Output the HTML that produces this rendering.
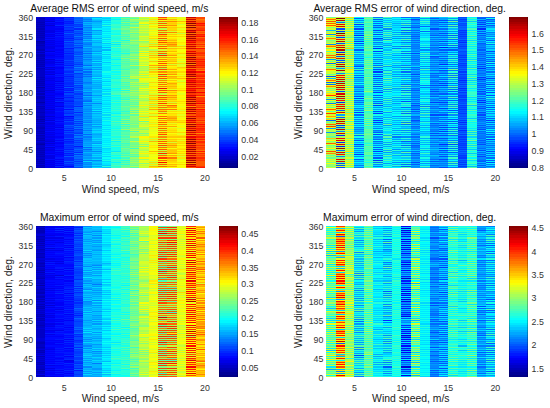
<!DOCTYPE html><html><head><meta charset="utf-8"><style>
*{margin:0;padding:0;box-sizing:border-box}
html,body{width:550px;height:408px;background:#fff;overflow:hidden;font-family:"Liberation Sans",sans-serif}
.pn{position:absolute;width:275px;height:204px}
.plot{position:absolute;left:36px;top:17px;width:169.0px;height:151.0px;overflow:hidden}
.c{position:absolute;top:0;height:151.0px}
.cb{position:absolute;left:219.2px;top:17px;width:18.8px;height:151.0px;box-shadow:inset 1px 0 rgba(0,0,0,.25),inset -1px 0 rgba(0,0,0,.25)}
.t{position:absolute;white-space:nowrap}
.tk{font-size:8.8px;line-height:11px;color:#333}
.ttl{font-size:10.35px;line-height:12px;color:#111}
.lb{font-size:10.4px;line-height:12px;color:#222}
.yl{width:120px;text-align:center;transform:rotate(-90deg)}
</style></head><body>
<div class="pn" style="left:0px;top:0px">
<div class="t ttl" style="left:-10.70px;width:260px;text-align:center;top:3.01px">Average RMS error of wind speed, m/s</div>
<div class="plot">
<div class="c" style="left:0.0px;width:9.89px;background:linear-gradient(#0000d7 0.0px 1.0px,#0000b7 1.0px 2.1px,#0000c7 2.1px 5.2px,#0000b7 5.2px 6.3px,#0000c7 6.3px 7.3px,#0000b7 7.3px 8.4px,#0000c7 8.4px 9.4px,#0000b7 9.4px 10.5px,#0000c7 10.5px 11.5px,#0000b7 11.5px 12.6px,#0000c7 12.6px 13.6px,#0000b7 13.6px 14.7px,#0000c7 14.7px 15.7px,#0000b7 15.7px 16.8px,#0000c7 16.8px 17.8px,#0000b7 17.8px 18.9px,#0000c7 18.9px 19.9px,#0000b7 19.9px 21.0px,#0000c7 21.0px 23.1px,#0000d7 23.1px 24.1px,#0000a7 24.1px 25.2px,#0000b7 25.2px 27.3px,#0000c7 27.3px 28.3px,#0000b7 28.3px 29.4px,#0000c7 29.4px 32.5px,#0000b7 32.5px 33.6px,#0000d7 33.6px 34.6px,#0000b7 34.6px 35.7px,#0000d7 35.7px 36.7px,#0000b7 36.7px 39.8px,#0000c7 39.8px 40.9px,#0000b7 40.9px 41.9px,#0000c7 41.9px 43.0px,#0000b7 43.0px 44.0px,#0000c7 44.0px 45.1px,#0000b7 45.1px 46.1px,#0000c7 46.1px 47.2px,#0000b7 47.2px 48.2px,#0000c7 48.2px 49.3px,#0000b7 49.3px 50.3px,#0000d7 50.3px 51.4px,#0000b7 51.4px 52.4px,#0000c7 52.4px 59.8px,#0000b7 59.8px 60.8px,#0000c7 60.8px 61.9px,#0000b7 61.9px 62.9px,#0000c7 62.9px 64.0px,#0000b7 64.0px 65.0px,#0000c7 65.0px 66.1px,#0000b7 66.1px 67.1px,#0000c7 67.1px 68.2px,#0000b7 68.2px 69.2px,#0000d7 69.2px 70.3px,#0000a7 70.3px 71.3px,#0000c7 71.3px 74.5px,#0000b7 74.5px 75.5px,#0000d7 75.5px 76.5px,#0000b7 76.5px 77.6px,#0000d7 77.6px 78.6px,#0000b7 78.6px 81.8px,#0000c7 81.8px 84.9px,#0000a7 84.9px 86.0px,#0000c7 86.0px 88.1px,#0000d7 88.1px 89.1px,#0000b7 89.1px 90.2px,#0000c7 90.2px 91.2px,#0000b7 91.2px 92.3px,#0000c7 92.3px 95.4px,#0000b7 95.4px 96.5px,#0000c7 96.5px 98.6px,#0000b7 98.6px 100.7px,#0000c7 100.7px 101.7px,#0000a7 101.7px 102.8px,#0000c7 102.8px 103.8px,#0000b7 103.8px 104.9px,#0000d7 104.9px 105.9px,#0000b7 105.9px 107.0px,#0000d7 107.0px 108.0px,#0000c7 108.0px 110.1px,#0000b7 110.1px 112.2px,#0000c7 112.2px 114.3px,#0000b7 114.3px 115.3px,#0000c7 115.3px 116.4px,#0000b7 116.4px 117.4px,#0000d7 117.4px 118.5px,#0000b7 118.5px 119.5px,#0000c7 119.5px 120.6px,#0000b7 120.6px 121.6px,#0000c7 121.6px 122.7px,#0000b7 122.7px 123.7px,#0000d7 123.7px 124.8px,#0000c7 124.8px 125.8px,#0000b7 125.8px 126.9px,#0000a7 126.9px 127.9px,#0000c7 127.9px 131.1px,#0000b7 131.1px 132.1px,#0000c7 132.1px 133.2px,#0000b7 133.2px 134.2px,#0000c7 134.2px 135.3px,#0000b7 135.3px 136.3px,#0000c7 136.3px 137.4px,#0000b7 137.4px 138.4px,#0000c7 138.4px 139.5px,#0000b7 139.5px 140.5px,#0000c7 140.5px 141.6px,#0000b7 141.6px 142.6px,#0000c7 142.6px 143.7px,#0000b7 143.7px 144.7px,#0000c7 144.7px 145.8px,#0000b7 145.8px 146.8px,#0000d7 146.8px 147.9px,#0000b7 147.9px 148.9px,#0000c7 148.9px 150.0px,#0000b7 150.0px 151.0px)"></div>
<div class="c" style="left:9.39px;width:9.89px;background:linear-gradient(#0000e7 0.0px 1.0px,#0000f7 1.0px 2.1px,#0000e7 2.1px 3.1px,#0000f7 3.1px 4.2px,#0000d7 4.2px 5.2px,#0008ff 5.2px 6.3px,#0000e7 6.3px 7.3px,#0000f7 7.3px 8.4px,#0000d7 8.4px 9.4px,#0000f7 9.4px 12.6px,#0000e7 12.6px 15.7px,#0008ff 15.7px 16.8px,#0000e7 16.8px 17.8px,#0000f7 17.8px 18.9px,#0000e7 18.9px 19.9px,#0008ff 19.9px 21.0px,#0000e7 21.0px 22.0px,#0008ff 22.0px 23.1px,#0000e7 23.1px 24.1px,#0000f7 24.1px 25.2px,#0000e7 25.2px 26.2px,#0000f7 26.2px 27.3px,#0000e7 27.3px 28.3px,#0000f7 28.3px 29.4px,#0000e7 29.4px 32.5px,#0000f7 32.5px 33.6px,#0000d7 33.6px 34.6px,#0008ff 34.6px 35.7px,#0000f7 35.7px 37.8px,#0000e7 37.8px 38.8px,#0000f7 38.8px 40.9px,#0008ff 40.9px 41.9px,#0000d7 41.9px 43.0px,#0000f7 43.0px 44.0px,#0000e7 44.0px 47.2px,#0000f7 47.2px 49.3px,#0008ff 49.3px 50.3px,#0000d7 50.3px 51.4px,#0000f7 51.4px 52.4px,#0000d7 52.4px 53.5px,#0008ff 53.5px 54.5px,#0000e7 54.5px 55.6px,#0000f7 55.6px 56.6px,#0000d7 56.6px 57.7px,#0008ff 57.7px 58.7px,#0000f7 58.7px 60.8px,#0000e7 60.8px 61.9px,#0000f7 61.9px 62.9px,#0000e7 62.9px 64.0px,#0000f7 64.0px 67.1px,#0000e7 67.1px 68.2px,#0000f7 68.2px 69.2px,#0000e7 69.2px 70.3px,#0000f7 70.3px 71.3px,#0000e7 71.3px 72.4px,#0000f7 72.4px 73.4px,#0000d7 73.4px 74.5px,#0000f7 74.5px 75.5px,#0000e7 75.5px 76.5px,#0000f7 76.5px 77.6px,#0000e7 77.6px 78.6px,#0000f7 78.6px 79.7px,#0000e7 79.7px 80.7px,#0000f7 80.7px 81.8px,#0000e7 81.8px 82.8px,#0000f7 82.8px 83.9px,#0000e7 83.9px 84.9px,#0000f7 84.9px 86.0px,#0000e7 86.0px 87.0px,#0000f7 87.0px 88.1px,#0000e7 88.1px 89.1px,#0000f7 89.1px 90.2px,#0000e7 90.2px 91.2px,#0000f7 91.2px 92.3px,#0000d7 92.3px 93.3px,#0000f7 93.3px 94.4px,#0000e7 94.4px 97.5px,#0000f7 97.5px 98.6px,#0000d7 98.6px 99.6px,#0000f7 99.6px 100.7px,#0000e7 100.7px 101.7px,#0000f7 101.7px 102.8px,#0000d7 102.8px 103.8px,#0008ff 103.8px 104.9px,#0000e7 104.9px 108.0px,#0000f7 108.0px 109.1px,#0000e7 109.1px 110.1px,#0000f7 110.1px 111.2px,#0000e7 111.2px 112.2px,#0000f7 112.2px 113.2px,#0000e7 113.2px 114.3px,#0008ff 114.3px 115.3px,#0000e7 115.3px 116.4px,#0000f7 116.4px 117.4px,#0000e7 117.4px 118.5px,#0000f7 118.5px 119.5px,#0000e7 119.5px 120.6px,#0000f7 120.6px 121.6px,#0000e7 121.6px 123.7px,#0000d7 123.7px 124.8px,#0000f7 124.8px 125.8px,#0000d7 125.8px 126.9px,#0000f7 126.9px 127.9px,#0000e7 127.9px 129.0px,#0008ff 129.0px 130.0px,#0000d7 130.0px 131.1px,#0000f7 131.1px 132.1px,#0000e7 132.1px 134.2px,#0000f7 134.2px 136.3px,#0000e7 136.3px 137.4px,#0008ff 137.4px 138.4px,#0000e7 138.4px 141.6px,#0008ff 141.6px 142.6px,#0000e7 142.6px 143.7px,#0000f7 143.7px 144.7px,#0000e7 144.7px 145.8px,#0000f7 145.8px 146.8px,#0000e7 146.8px 147.9px,#0000f7 147.9px 148.9px,#0000e7 148.9px 151.0px)"></div>
<div class="c" style="left:18.78px;width:9.89px;background:linear-gradient(#0008ff 0.0px 2.1px,#0018ff 2.1px 3.1px,#0008ff 3.1px 4.2px,#0018ff 4.2px 5.2px,#0000f7 5.2px 6.3px,#0008ff 6.3px 8.4px,#0028ff 8.4px 9.4px,#0000f7 9.4px 10.5px,#0008ff 10.5px 11.5px,#0000f7 11.5px 12.6px,#0008ff 12.6px 13.6px,#0000f7 13.6px 14.7px,#0018ff 14.7px 15.7px,#0000f7 15.7px 16.8px,#0018ff 16.8px 17.8px,#0000f7 17.8px 18.9px,#0018ff 18.9px 19.9px,#0008ff 19.9px 24.1px,#0000f7 24.1px 25.2px,#0008ff 25.2px 26.2px,#0000f7 26.2px 27.3px,#0008ff 27.3px 28.3px,#0000f7 28.3px 30.4px,#0008ff 30.4px 32.5px,#0000f7 32.5px 33.6px,#0008ff 33.6px 34.6px,#0000f7 34.6px 35.7px,#0008ff 35.7px 36.7px,#0000f7 36.7px 37.8px,#0008ff 37.8px 38.8px,#0000f7 38.8px 39.8px,#0008ff 39.8px 41.9px,#0018ff 41.9px 43.0px,#0000f7 43.0px 44.0px,#0018ff 44.0px 45.1px,#0000e7 45.1px 46.1px,#0018ff 46.1px 47.2px,#0000f7 47.2px 48.2px,#0018ff 48.2px 49.3px,#0008ff 49.3px 50.3px,#0000f7 50.3px 52.4px,#0008ff 52.4px 55.6px,#0000f7 55.6px 56.6px,#0018ff 56.6px 57.7px,#0008ff 57.7px 58.7px,#0018ff 58.7px 59.8px,#0000f7 59.8px 60.8px,#0008ff 60.8px 64.0px,#0000e7 64.0px 65.0px,#0018ff 65.0px 66.1px,#0000f7 66.1px 67.1px,#0018ff 67.1px 68.2px,#0000f7 68.2px 69.2px,#0018ff 69.2px 70.3px,#0000f7 70.3px 71.3px,#0018ff 71.3px 72.4px,#0000f7 72.4px 73.4px,#0018ff 73.4px 74.5px,#0008ff 74.5px 76.5px,#0000f7 76.5px 77.6px,#0008ff 77.6px 79.7px,#0018ff 79.7px 80.7px,#0000e7 80.7px 81.8px,#0018ff 81.8px 82.8px,#0008ff 82.8px 83.9px,#0028ff 83.9px 84.9px,#0000e7 84.9px 86.0px,#0008ff 86.0px 89.1px,#0000e7 89.1px 90.2px,#0018ff 90.2px 91.2px,#0008ff 91.2px 94.4px,#0018ff 94.4px 95.4px,#0008ff 95.4px 99.6px,#0000f7 99.6px 100.7px,#0008ff 100.7px 102.8px,#0018ff 102.8px 103.8px,#0000f7 103.8px 104.9px,#0018ff 104.9px 105.9px,#0008ff 105.9px 108.0px,#0000f7 108.0px 109.1px,#0008ff 109.1px 110.1px,#0000e7 110.1px 111.2px,#0018ff 111.2px 112.2px,#0000f7 112.2px 113.2px,#0008ff 113.2px 116.4px,#0000f7 116.4px 117.4px,#0008ff 117.4px 119.5px,#0000f7 119.5px 120.6px,#0008ff 120.6px 121.6px,#0018ff 121.6px 122.7px,#0000f7 122.7px 123.7px,#0018ff 123.7px 124.8px,#0000f7 124.8px 126.9px,#0008ff 126.9px 129.0px,#0000f7 129.0px 130.0px,#0008ff 130.0px 132.1px,#0018ff 132.1px 133.2px,#0000f7 133.2px 134.2px,#0018ff 134.2px 135.3px,#0000f7 135.3px 136.3px,#0008ff 136.3px 137.4px,#0000f7 137.4px 138.4px,#0008ff 138.4px 140.5px,#0018ff 140.5px 141.6px,#0000f7 141.6px 142.6px,#0018ff 142.6px 143.7px,#0000f7 143.7px 144.7px,#0018ff 144.7px 145.8px,#0000f7 145.8px 146.8px,#0018ff 146.8px 147.9px,#0000f7 147.9px 148.9px,#0028ff 148.9px 150.0px,#0000f7 150.0px 151.0px)"></div>
<div class="c" style="left:28.17px;width:9.89px;background:linear-gradient(#0018ff 0.0px 1.0px,#0038ff 1.0px 2.1px,#0028ff 2.1px 3.1px,#0038ff 3.1px 4.2px,#0018ff 4.2px 5.2px,#0028ff 5.2px 6.3px,#0018ff 6.3px 7.3px,#0038ff 7.3px 8.4px,#0028ff 8.4px 9.4px,#0048ff 9.4px 10.5px,#0028ff 10.5px 11.5px,#0038ff 11.5px 12.6px,#0018ff 12.6px 13.6px,#0038ff 13.6px 14.7px,#0028ff 14.7px 15.7px,#0058ff 15.7px 16.8px,#0028ff 16.8px 17.8px,#0038ff 17.8px 18.9px,#0028ff 18.9px 19.9px,#0038ff 19.9px 21.0px,#0018ff 21.0px 22.0px,#0038ff 22.0px 23.1px,#0028ff 23.1px 24.1px,#0058ff 24.1px 25.2px,#0028ff 25.2px 26.2px,#0048ff 26.2px 27.3px,#0038ff 27.3px 30.4px,#0048ff 30.4px 31.5px,#0018ff 31.5px 32.5px,#0038ff 32.5px 33.6px,#0028ff 33.6px 34.6px,#0038ff 34.6px 35.7px,#0018ff 35.7px 36.7px,#0038ff 36.7px 37.8px,#0028ff 37.8px 43.0px,#0048ff 43.0px 44.0px,#0028ff 44.0px 45.1px,#0038ff 45.1px 46.1px,#0028ff 46.1px 47.2px,#0038ff 47.2px 48.2px,#0018ff 48.2px 49.3px,#0048ff 49.3px 50.3px,#0028ff 50.3px 51.4px,#0038ff 51.4px 52.4px,#0048ff 52.4px 53.5px,#0038ff 53.5px 54.5px,#0028ff 54.5px 55.6px,#0048ff 55.6px 56.6px,#0028ff 56.6px 57.7px,#0038ff 57.7px 58.7px,#0018ff 58.7px 59.8px,#0038ff 59.8px 60.8px,#0028ff 60.8px 61.9px,#0038ff 61.9px 62.9px,#0028ff 62.9px 64.0px,#0038ff 64.0px 65.0px,#0028ff 65.0px 68.2px,#0038ff 68.2px 69.2px,#0018ff 69.2px 70.3px,#0058ff 70.3px 71.3px,#0018ff 71.3px 72.4px,#0028ff 72.4px 73.4px,#0018ff 73.4px 74.5px,#0048ff 74.5px 75.5px,#0018ff 75.5px 76.5px,#0048ff 76.5px 77.6px,#0028ff 77.6px 78.6px,#0038ff 78.6px 79.7px,#0018ff 79.7px 80.7px,#0038ff 80.7px 82.8px,#0028ff 82.8px 83.9px,#0018ff 83.9px 84.9px,#0038ff 84.9px 86.0px,#0028ff 86.0px 87.0px,#0038ff 87.0px 88.1px,#0028ff 88.1px 91.2px,#0048ff 91.2px 92.3px,#0008ff 92.3px 93.3px,#0048ff 93.3px 94.4px,#0038ff 94.4px 96.5px,#0028ff 96.5px 97.5px,#0048ff 97.5px 98.6px,#0008ff 98.6px 99.6px,#0028ff 99.6px 100.7px,#0018ff 100.7px 101.7px,#0038ff 101.7px 102.8px,#0018ff 102.8px 103.8px,#0048ff 103.8px 104.9px,#0028ff 104.9px 108.0px,#0058ff 108.0px 109.1px,#0038ff 109.1px 110.1px,#0048ff 110.1px 111.2px,#0028ff 111.2px 112.2px,#0048ff 112.2px 113.2px,#0018ff 113.2px 114.3px,#0048ff 114.3px 115.3px,#0028ff 115.3px 116.4px,#0048ff 116.4px 117.4px,#0028ff 117.4px 120.6px,#0048ff 120.6px 121.6px,#0018ff 121.6px 122.7px,#0038ff 122.7px 123.7px,#0018ff 123.7px 124.8px,#0028ff 124.8px 126.9px,#0048ff 126.9px 127.9px,#0028ff 127.9px 129.0px,#0038ff 129.0px 130.0px,#0028ff 130.0px 131.1px,#0038ff 131.1px 132.1px,#0018ff 132.1px 133.2px,#0048ff 133.2px 134.2px,#0028ff 134.2px 135.3px,#0048ff 135.3px 136.3px,#0018ff 136.3px 137.4px,#0038ff 137.4px 138.4px,#0018ff 138.4px 139.5px,#0058ff 139.5px 140.5px,#0028ff 140.5px 143.7px,#0058ff 143.7px 144.7px,#0028ff 144.7px 145.8px,#0048ff 145.8px 146.8px,#0028ff 146.8px 148.9px,#0008ff 148.9px 150.0px,#0028ff 150.0px 151.0px)"></div>
<div class="c" style="left:37.56px;width:9.89px;background:linear-gradient(#0068ff 0.0px 1.0px,#0058ff 1.0px 2.1px,#0068ff 2.1px 3.1px,#0058ff 3.1px 4.2px,#0068ff 4.2px 5.2px,#0048ff 5.2px 6.3px,#0068ff 6.3px 7.3px,#0038ff 7.3px 8.4px,#0048ff 8.4px 9.4px,#0038ff 9.4px 10.5px,#0068ff 10.5px 11.5px,#0028ff 11.5px 12.6px,#0068ff 12.6px 13.6px,#0048ff 13.6px 14.7px,#0058ff 14.7px 15.7px,#0038ff 15.7px 16.8px,#0058ff 16.8px 17.8px,#0048ff 17.8px 18.9px,#0078ff 18.9px 19.9px,#0048ff 19.9px 21.0px,#0058ff 21.0px 22.0px,#0038ff 22.0px 23.1px,#0068ff 23.1px 26.2px,#0048ff 26.2px 27.3px,#0078ff 27.3px 28.3px,#0048ff 28.3px 29.4px,#0068ff 29.4px 30.4px,#0038ff 30.4px 31.5px,#0058ff 31.5px 32.5px,#0068ff 32.5px 33.6px,#0058ff 33.6px 34.6px,#0048ff 34.6px 35.7px,#0058ff 35.7px 36.7px,#0048ff 36.7px 37.8px,#0078ff 37.8px 38.8px,#0048ff 38.8px 39.8px,#0068ff 39.8px 40.9px,#0058ff 40.9px 41.9px,#0068ff 41.9px 43.0px,#0058ff 43.0px 44.0px,#0068ff 44.0px 45.1px,#0048ff 45.1px 46.1px,#0058ff 46.1px 47.2px,#0038ff 47.2px 48.2px,#0068ff 48.2px 49.3px,#0048ff 49.3px 50.3px,#0087ff 50.3px 51.4px,#0058ff 51.4px 52.4px,#0068ff 52.4px 53.5px,#0048ff 53.5px 54.5px,#0078ff 54.5px 55.6px,#0038ff 55.6px 56.6px,#0058ff 56.6px 59.8px,#0048ff 59.8px 60.8px,#0068ff 60.8px 61.9px,#0058ff 61.9px 62.9px,#0068ff 62.9px 64.0px,#0048ff 64.0px 65.0px,#0068ff 65.0px 66.1px,#0048ff 66.1px 67.1px,#0078ff 67.1px 68.2px,#0038ff 68.2px 69.2px,#0058ff 69.2px 70.3px,#0038ff 70.3px 71.3px,#0058ff 71.3px 72.4px,#0048ff 72.4px 73.4px,#0078ff 73.4px 74.5px,#0048ff 74.5px 75.5px,#0058ff 75.5px 76.5px,#0038ff 76.5px 77.6px,#0058ff 77.6px 78.6px,#0048ff 78.6px 79.7px,#0058ff 79.7px 80.7px,#0038ff 80.7px 81.8px,#0058ff 81.8px 83.9px,#0048ff 83.9px 88.1px,#0058ff 88.1px 89.1px,#0028ff 89.1px 90.2px,#0068ff 90.2px 91.2px,#0058ff 91.2px 92.3px,#0068ff 92.3px 93.3px,#0058ff 93.3px 94.4px,#0068ff 94.4px 95.4px,#0028ff 95.4px 96.5px,#0068ff 96.5px 97.5px,#0048ff 97.5px 98.6px,#0058ff 98.6px 100.7px,#0068ff 100.7px 101.7px,#0048ff 101.7px 102.8px,#0078ff 102.8px 103.8px,#0038ff 103.8px 104.9px,#0068ff 104.9px 105.9px,#0038ff 105.9px 107.0px,#0068ff 107.0px 108.0px,#0038ff 108.0px 109.1px,#0078ff 109.1px 110.1px,#0048ff 110.1px 111.2px,#0078ff 111.2px 112.2px,#0038ff 112.2px 113.2px,#0058ff 113.2px 115.3px,#0048ff 115.3px 116.4px,#0038ff 116.4px 117.4px,#0078ff 117.4px 118.5px,#0048ff 118.5px 119.5px,#0078ff 119.5px 120.6px,#0048ff 120.6px 121.6px,#0068ff 121.6px 122.7px,#0038ff 122.7px 123.7px,#0058ff 123.7px 124.8px,#0038ff 124.8px 125.8px,#0058ff 125.8px 126.9px,#0048ff 126.9px 127.9px,#0058ff 127.9px 129.0px,#0018ff 129.0px 130.0px,#0048ff 130.0px 132.1px,#0068ff 132.1px 133.2px,#0048ff 133.2px 134.2px,#0058ff 134.2px 135.3px,#0028ff 135.3px 136.3px,#0078ff 136.3px 137.4px,#0038ff 137.4px 138.4px,#0078ff 138.4px 139.5px,#0058ff 139.5px 140.5px,#0068ff 140.5px 141.6px,#0048ff 141.6px 142.6px,#0068ff 142.6px 143.7px,#0038ff 143.7px 144.7px,#0068ff 144.7px 145.8px,#0048ff 145.8px 146.8px,#0068ff 146.8px 147.9px,#0058ff 147.9px 148.9px,#0078ff 148.9px 150.0px,#0048ff 150.0px 151.0px)"></div>
<div class="c" style="left:46.94px;width:9.89px;background:linear-gradient(#0097ff 0.0px 2.1px,#0078ff 2.1px 3.1px,#0097ff 3.1px 4.2px,#0078ff 4.2px 5.2px,#00b7ff 5.2px 6.3px,#0097ff 6.3px 7.3px,#00b7ff 7.3px 8.4px,#0087ff 8.4px 9.4px,#00a7ff 9.4px 10.5px,#0078ff 10.5px 11.5px,#0097ff 11.5px 12.6px,#0087ff 12.6px 13.6px,#00a7ff 13.6px 14.7px,#0078ff 14.7px 15.7px,#00a7ff 15.7px 16.8px,#0068ff 16.8px 17.8px,#00a7ff 17.8px 18.9px,#0078ff 18.9px 19.9px,#0097ff 19.9px 21.0px,#0078ff 21.0px 22.0px,#00b7ff 22.0px 23.1px,#0087ff 23.1px 24.1px,#00b7ff 24.1px 25.2px,#0087ff 25.2px 27.3px,#0078ff 27.3px 28.3px,#0097ff 28.3px 29.4px,#0087ff 29.4px 30.4px,#00b7ff 30.4px 31.5px,#0087ff 31.5px 32.5px,#0097ff 32.5px 33.6px,#0078ff 33.6px 34.6px,#00a7ff 34.6px 35.7px,#0068ff 35.7px 36.7px,#00a7ff 36.7px 37.8px,#0087ff 37.8px 38.8px,#0097ff 38.8px 39.8px,#0078ff 39.8px 40.9px,#00a7ff 40.9px 41.9px,#0078ff 41.9px 43.0px,#0097ff 43.0px 45.1px,#00a7ff 45.1px 46.1px,#0097ff 46.1px 48.2px,#0068ff 48.2px 49.3px,#00b7ff 49.3px 50.3px,#0097ff 50.3px 52.4px,#0068ff 52.4px 53.5px,#00a7ff 53.5px 54.5px,#0068ff 54.5px 55.6px,#0097ff 55.6px 56.6px,#0068ff 56.6px 57.7px,#0097ff 57.7px 58.7px,#0068ff 58.7px 59.8px,#0097ff 59.8px 65.0px,#0078ff 65.0px 66.1px,#0087ff 66.1px 67.1px,#0097ff 67.1px 68.2px,#00a7ff 68.2px 69.2px,#0097ff 69.2px 71.3px,#0087ff 71.3px 72.4px,#00a7ff 72.4px 73.4px,#0097ff 73.4px 74.5px,#00b7ff 74.5px 75.5px,#0078ff 75.5px 76.5px,#0097ff 76.5px 77.6px,#0068ff 77.6px 78.6px,#00b7ff 78.6px 79.7px,#0087ff 79.7px 80.7px,#0097ff 80.7px 81.8px,#0087ff 81.8px 82.8px,#0078ff 82.8px 83.9px,#0068ff 83.9px 84.9px,#00b7ff 84.9px 86.0px,#0087ff 86.0px 87.0px,#00a7ff 87.0px 88.1px,#0078ff 88.1px 89.1px,#00a7ff 89.1px 90.2px,#0097ff 90.2px 92.3px,#0087ff 92.3px 93.3px,#0097ff 93.3px 94.4px,#0087ff 94.4px 95.4px,#00a7ff 95.4px 96.5px,#0087ff 96.5px 97.5px,#0097ff 97.5px 98.6px,#0087ff 98.6px 99.6px,#0097ff 99.6px 100.7px,#0087ff 100.7px 101.7px,#00a7ff 101.7px 102.8px,#0087ff 102.8px 103.8px,#0097ff 103.8px 104.9px,#0078ff 104.9px 105.9px,#00b7ff 105.9px 107.0px,#0087ff 107.0px 108.0px,#0097ff 108.0px 110.1px,#00a7ff 110.1px 111.2px,#0087ff 111.2px 112.2px,#00a7ff 112.2px 113.2px,#0078ff 113.2px 114.3px,#00a7ff 114.3px 115.3px,#0097ff 115.3px 116.4px,#00a7ff 116.4px 117.4px,#0068ff 117.4px 118.5px,#00a7ff 118.5px 119.5px,#0078ff 119.5px 120.6px,#0097ff 120.6px 121.6px,#0087ff 121.6px 122.7px,#0097ff 122.7px 124.8px,#00a7ff 124.8px 125.8px,#0097ff 125.8px 126.9px,#00a7ff 126.9px 127.9px,#0097ff 127.9px 129.0px,#00b7ff 129.0px 130.0px,#0068ff 130.0px 131.1px,#00a7ff 131.1px 132.1px,#0068ff 132.1px 133.2px,#0097ff 133.2px 134.2px,#0087ff 134.2px 135.3px,#00b7ff 135.3px 136.3px,#0097ff 136.3px 138.4px,#0087ff 138.4px 139.5px,#00a7ff 139.5px 140.5px,#0097ff 140.5px 141.6px,#00b7ff 141.6px 142.6px,#0078ff 142.6px 143.7px,#00d7ff 143.7px 144.7px,#0087ff 144.7px 145.8px,#0097ff 145.8px 146.8px,#0087ff 146.8px 147.9px,#00a7ff 147.9px 148.9px,#0087ff 148.9px 150.0px,#0097ff 150.0px 151.0px)"></div>
<div class="c" style="left:56.33px;width:9.89px;background:linear-gradient(#00a7ff 0.0px 1.0px,#00e7ff 1.0px 2.1px,#00c7ff 2.1px 3.1px,#00b7ff 3.1px 4.2px,#0097ff 4.2px 5.2px,#00b7ff 5.2px 7.3px,#00c7ff 7.3px 8.4px,#00b7ff 8.4px 9.4px,#00c7ff 9.4px 10.5px,#00b7ff 10.5px 11.5px,#00e7ff 11.5px 12.6px,#0097ff 12.6px 13.6px,#00c7ff 13.6px 14.7px,#00b7ff 14.7px 15.7px,#00c7ff 15.7px 16.8px,#00a7ff 16.8px 17.8px,#00e7ff 17.8px 18.9px,#00c7ff 18.9px 19.9px,#00d7ff 19.9px 21.0px,#00a7ff 21.0px 22.0px,#00e7ff 22.0px 23.1px,#00b7ff 23.1px 24.1px,#00c7ff 24.1px 25.2px,#00a7ff 25.2px 26.2px,#00c7ff 26.2px 29.4px,#00a7ff 29.4px 31.5px,#00b7ff 31.5px 33.6px,#0097ff 33.6px 34.6px,#00d7ff 34.6px 35.7px,#00a7ff 35.7px 36.7px,#00d7ff 36.7px 37.8px,#00b7ff 37.8px 39.8px,#00a7ff 39.8px 40.9px,#00b7ff 40.9px 41.9px,#00a7ff 41.9px 43.0px,#00d7ff 43.0px 44.0px,#0097ff 44.0px 45.1px,#00e7ff 45.1px 46.1px,#00a7ff 46.1px 47.2px,#00b7ff 47.2px 48.2px,#00a7ff 48.2px 49.3px,#00d7ff 49.3px 50.3px,#0097ff 50.3px 51.4px,#00c7ff 51.4px 52.4px,#0097ff 52.4px 53.5px,#00d7ff 53.5px 54.5px,#00b7ff 54.5px 55.6px,#00c7ff 55.6px 56.6px,#00b7ff 56.6px 58.7px,#00a7ff 58.7px 59.8px,#00e7ff 59.8px 60.8px,#00a7ff 60.8px 61.9px,#00e7ff 61.9px 62.9px,#00b7ff 62.9px 64.0px,#00c7ff 64.0px 65.0px,#00a7ff 65.0px 66.1px,#00c7ff 66.1px 67.1px,#00a7ff 67.1px 68.2px,#00b7ff 68.2px 69.2px,#00a7ff 69.2px 70.3px,#00b7ff 70.3px 71.3px,#00a7ff 71.3px 72.4px,#00d7ff 72.4px 73.4px,#00b7ff 73.4px 76.5px,#00c7ff 76.5px 77.6px,#0097ff 77.6px 78.6px,#00c7ff 78.6px 79.7px,#00b7ff 79.7px 80.7px,#00d7ff 80.7px 81.8px,#00b7ff 81.8px 82.8px,#00d7ff 82.8px 83.9px,#00b7ff 83.9px 84.9px,#00c7ff 84.9px 86.0px,#0087ff 86.0px 87.0px,#00c7ff 87.0px 88.1px,#00b7ff 88.1px 89.1px,#00c7ff 89.1px 90.2px,#00b7ff 90.2px 91.2px,#00d7ff 91.2px 92.3px,#00a7ff 92.3px 93.3px,#00e7ff 93.3px 94.4px,#0097ff 94.4px 95.4px,#00d7ff 95.4px 96.5px,#00a7ff 96.5px 97.5px,#00c7ff 97.5px 98.6px,#00b7ff 98.6px 99.6px,#00c7ff 99.6px 100.7px,#00b7ff 100.7px 102.8px,#00a7ff 102.8px 103.8px,#00b7ff 103.8px 104.9px,#00a7ff 104.9px 105.9px,#00c7ff 105.9px 107.0px,#0097ff 107.0px 108.0px,#00d7ff 108.0px 109.1px,#0097ff 109.1px 110.1px,#00b7ff 110.1px 112.2px,#00d7ff 112.2px 113.2px,#00b7ff 113.2px 114.3px,#00d7ff 114.3px 116.4px,#00b7ff 116.4px 117.4px,#00a7ff 117.4px 118.5px,#00b7ff 118.5px 120.6px,#00d7ff 120.6px 121.6px,#00b7ff 121.6px 122.7px,#00d7ff 122.7px 123.7px,#00a7ff 123.7px 124.8px,#00b7ff 124.8px 125.8px,#0097ff 125.8px 126.9px,#00e7ff 126.9px 127.9px,#00b7ff 127.9px 129.0px,#00d7ff 129.0px 130.0px,#00a7ff 130.0px 131.1px,#00c7ff 131.1px 132.1px,#00a7ff 132.1px 133.2px,#00c7ff 133.2px 134.2px,#0087ff 134.2px 135.3px,#00c7ff 135.3px 136.3px,#00a7ff 136.3px 137.4px,#00d7ff 137.4px 138.4px,#00b7ff 138.4px 139.5px,#00d7ff 139.5px 140.5px,#00a7ff 140.5px 141.6px,#00d7ff 141.6px 142.6px,#0087ff 142.6px 143.7px,#00b7ff 143.7px 144.7px,#00c7ff 144.7px 145.8px,#00b7ff 145.8px 146.8px,#00a7ff 146.8px 147.9px,#00d7ff 147.9px 148.9px,#00a7ff 148.9px 150.0px,#00d7ff 150.0px 151.0px)"></div>
<div class="c" style="left:65.72px;width:9.89px;background:linear-gradient(#00e7ff 0.0px 1.0px,#00c7ff 1.0px 2.1px,#00e7ff 2.1px 3.1px,#00c7ff 3.1px 4.2px,#00f7ff 4.2px 5.2px,#00d7ff 5.2px 6.3px,#08fff7 6.3px 7.3px,#00d7ff 7.3px 8.4px,#28ffd7 8.4px 9.4px,#00d7ff 9.4px 10.5px,#00f7ff 10.5px 11.5px,#00e7ff 11.5px 12.6px,#00f7ff 12.6px 13.6px,#00d7ff 13.6px 14.7px,#08fff7 14.7px 15.7px,#00e7ff 15.7px 16.8px,#08fff7 16.8px 17.8px,#00e7ff 17.8px 18.9px,#00f7ff 18.9px 19.9px,#00d7ff 19.9px 21.0px,#18ffe7 21.0px 22.0px,#00d7ff 22.0px 23.1px,#08fff7 23.1px 24.1px,#00e7ff 24.1px 25.2px,#18ffe7 25.2px 26.2px,#00c7ff 26.2px 27.3px,#00f7ff 27.3px 28.3px,#00d7ff 28.3px 29.4px,#00f7ff 29.4px 30.4px,#00b7ff 30.4px 31.5px,#00f7ff 31.5px 32.5px,#00b7ff 32.5px 33.6px,#08fff7 33.6px 34.6px,#00e7ff 34.6px 35.7px,#08fff7 35.7px 36.7px,#00c7ff 36.7px 37.8px,#08fff7 37.8px 38.8px,#00d7ff 38.8px 39.8px,#00e7ff 39.8px 40.9px,#00d7ff 40.9px 41.9px,#00f7ff 41.9px 43.0px,#00e7ff 43.0px 44.0px,#08fff7 44.0px 45.1px,#00c7ff 45.1px 46.1px,#00f7ff 46.1px 47.2px,#00e7ff 47.2px 48.2px,#08fff7 48.2px 49.3px,#00e7ff 49.3px 54.5px,#18ffe7 54.5px 55.6px,#00f7ff 55.6px 56.6px,#08fff7 56.6px 57.7px,#00e7ff 57.7px 58.7px,#00f7ff 58.7px 59.8px,#00d7ff 59.8px 60.8px,#18ffe7 60.8px 61.9px,#00e7ff 61.9px 62.9px,#00f7ff 62.9px 64.0px,#00c7ff 64.0px 65.0px,#08fff7 65.0px 66.1px,#00e7ff 66.1px 67.1px,#00f7ff 67.1px 68.2px,#00d7ff 68.2px 69.2px,#18ffe7 69.2px 70.3px,#00e7ff 70.3px 71.3px,#00f7ff 71.3px 72.4px,#00c7ff 72.4px 73.4px,#00f7ff 73.4px 74.5px,#00d7ff 74.5px 75.5px,#18ffe7 75.5px 76.5px,#00d7ff 76.5px 77.6px,#18ffe7 77.6px 78.6px,#00d7ff 78.6px 79.7px,#00f7ff 79.7px 80.7px,#00e7ff 80.7px 81.8px,#00f7ff 81.8px 82.8px,#00d7ff 82.8px 83.9px,#00f7ff 83.9px 84.9px,#00e7ff 84.9px 87.0px,#00d7ff 87.0px 88.1px,#00f7ff 88.1px 89.1px,#00d7ff 89.1px 90.2px,#08fff7 90.2px 91.2px,#00d7ff 91.2px 92.3px,#00f7ff 92.3px 93.3px,#00e7ff 93.3px 94.4px,#08fff7 94.4px 95.4px,#00d7ff 95.4px 96.5px,#18ffe7 96.5px 97.5px,#00d7ff 97.5px 98.6px,#18ffe7 98.6px 99.6px,#00d7ff 99.6px 100.7px,#00f7ff 100.7px 101.7px,#00e7ff 101.7px 102.8px,#18ffe7 102.8px 103.8px,#00e7ff 103.8px 104.9px,#00f7ff 104.9px 108.0px,#00d7ff 108.0px 109.1px,#08fff7 109.1px 110.1px,#00e7ff 110.1px 111.2px,#08fff7 111.2px 112.2px,#00d7ff 112.2px 113.2px,#08fff7 113.2px 114.3px,#00e7ff 114.3px 115.3px,#08fff7 115.3px 116.4px,#00e7ff 116.4px 117.4px,#00f7ff 117.4px 118.5px,#00e7ff 118.5px 119.5px,#08fff7 119.5px 120.6px,#00e7ff 120.6px 121.6px,#00f7ff 121.6px 122.7px,#00e7ff 122.7px 123.7px,#00f7ff 123.7px 124.8px,#00e7ff 124.8px 125.8px,#08fff7 125.8px 126.9px,#00e7ff 126.9px 127.9px,#08fff7 127.9px 129.0px,#00e7ff 129.0px 130.0px,#18ffe7 130.0px 131.1px,#00d7ff 131.1px 132.1px,#00e7ff 132.1px 134.2px,#00f7ff 134.2px 135.3px,#00d7ff 135.3px 136.3px,#08fff7 136.3px 137.4px,#00e7ff 137.4px 138.4px,#08fff7 138.4px 139.5px,#00d7ff 139.5px 140.5px,#08fff7 140.5px 141.6px,#00e7ff 141.6px 142.6px,#18ffe7 142.6px 143.7px,#00d7ff 143.7px 144.7px,#00f7ff 144.7px 145.8px,#00e7ff 145.8px 147.9px,#00c7ff 147.9px 148.9px,#28ffd7 148.9px 150.0px,#00c7ff 150.0px 151.0px)"></div>
<div class="c" style="left:75.11px;width:9.89px;background:linear-gradient(#08fff7 0.0px 1.0px,#28ffd7 1.0px 2.1px,#00f7ff 2.1px 3.1px,#28ffd7 3.1px 5.2px,#18ffe7 5.2px 7.3px,#38ffc7 7.3px 9.4px,#28ffd7 9.4px 11.5px,#48ffb7 11.5px 12.6px,#18ffe7 12.6px 14.7px,#28ffd7 14.7px 15.7px,#18ffe7 15.7px 16.8px,#08fff7 16.8px 17.8px,#48ffb7 17.8px 18.9px,#28ffd7 18.9px 21.0px,#18ffe7 21.0px 22.0px,#28ffd7 22.0px 24.1px,#58ffa7 24.1px 25.2px,#00f7ff 25.2px 26.2px,#48ffb7 26.2px 27.3px,#00e7ff 27.3px 28.3px,#38ffc7 28.3px 29.4px,#08fff7 29.4px 30.4px,#58ffa7 30.4px 31.5px,#18ffe7 31.5px 32.5px,#28ffd7 32.5px 33.6px,#08fff7 33.6px 34.6px,#28ffd7 34.6px 35.7px,#18ffe7 35.7px 36.7px,#38ffc7 36.7px 37.8px,#18ffe7 37.8px 38.8px,#48ffb7 38.8px 39.8px,#18ffe7 39.8px 40.9px,#28ffd7 40.9px 41.9px,#00f7ff 41.9px 43.0px,#28ffd7 43.0px 46.1px,#08fff7 46.1px 47.2px,#38ffc7 47.2px 48.2px,#00f7ff 48.2px 49.3px,#28ffd7 49.3px 50.3px,#18ffe7 50.3px 51.4px,#28ffd7 51.4px 52.4px,#08fff7 52.4px 53.5px,#38ffc7 53.5px 54.5px,#08fff7 54.5px 55.6px,#28ffd7 55.6px 56.6px,#08fff7 56.6px 57.7px,#38ffc7 57.7px 58.7px,#18ffe7 58.7px 59.8px,#28ffd7 59.8px 60.8px,#08fff7 60.8px 61.9px,#38ffc7 61.9px 64.0px,#28ffd7 64.0px 65.0px,#18ffe7 65.0px 66.1px,#28ffd7 66.1px 68.2px,#38ffc7 68.2px 69.2px,#28ffd7 69.2px 70.3px,#38ffc7 70.3px 71.3px,#08fff7 71.3px 72.4px,#28ffd7 72.4px 73.4px,#18ffe7 73.4px 74.5px,#38ffc7 74.5px 76.5px,#48ffb7 76.5px 77.6px,#08fff7 77.6px 78.6px,#38ffc7 78.6px 79.7px,#08fff7 79.7px 80.7px,#18ffe7 80.7px 82.8px,#38ffc7 82.8px 83.9px,#08fff7 83.9px 84.9px,#48ffb7 84.9px 86.0px,#08fff7 86.0px 87.0px,#28ffd7 87.0px 88.1px,#18ffe7 88.1px 89.1px,#38ffc7 89.1px 90.2px,#18ffe7 90.2px 91.2px,#38ffc7 91.2px 92.3px,#18ffe7 92.3px 93.3px,#38ffc7 93.3px 94.4px,#18ffe7 94.4px 96.5px,#00f7ff 96.5px 97.5px,#38ffc7 97.5px 98.6px,#08fff7 98.6px 99.6px,#38ffc7 99.6px 100.7px,#28ffd7 100.7px 102.8px,#18ffe7 102.8px 103.8px,#58ffa7 103.8px 104.9px,#18ffe7 104.9px 105.9px,#48ffb7 105.9px 107.0px,#28ffd7 107.0px 108.0px,#38ffc7 108.0px 109.1px,#18ffe7 109.1px 110.1px,#28ffd7 110.1px 111.2px,#08fff7 111.2px 112.2px,#38ffc7 112.2px 113.2px,#18ffe7 113.2px 114.3px,#38ffc7 114.3px 115.3px,#28ffd7 115.3px 118.5px,#38ffc7 118.5px 119.5px,#18ffe7 119.5px 120.6px,#38ffc7 120.6px 121.6px,#18ffe7 121.6px 122.7px,#58ffa7 122.7px 123.7px,#00f7ff 123.7px 124.8px,#38ffc7 124.8px 125.8px,#28ffd7 125.8px 126.9px,#38ffc7 126.9px 127.9px,#08fff7 127.9px 129.0px,#48ffb7 129.0px 130.0px,#08fff7 130.0px 131.1px,#18ffe7 131.1px 134.2px,#00e7ff 134.2px 135.3px,#48ffb7 135.3px 136.3px,#28ffd7 136.3px 137.4px,#38ffc7 137.4px 138.4px,#08fff7 138.4px 139.5px,#38ffc7 139.5px 140.5px,#08fff7 140.5px 141.6px,#48ffb7 141.6px 142.6px,#28ffd7 142.6px 143.7px,#38ffc7 143.7px 144.7px,#00f7ff 144.7px 145.8px,#38ffc7 145.8px 146.8px,#28ffd7 146.8px 147.9px,#48ffb7 147.9px 148.9px,#28ffd7 148.9px 150.0px,#38ffc7 150.0px 151.0px)"></div>
<div class="c" style="left:84.5px;width:9.89px;background:linear-gradient(#38ffc7 0.0px 1.0px,#78ff87 1.0px 2.1px,#48ffb7 2.1px 3.1px,#68ff97 3.1px 4.2px,#38ffc7 4.2px 5.2px,#87ff78 5.2px 6.3px,#38ffc7 6.3px 7.3px,#68ff97 7.3px 8.4px,#38ffc7 8.4px 9.4px,#78ff87 9.4px 10.5px,#58ffa7 10.5px 11.5px,#78ff87 11.5px 12.6px,#58ffa7 12.6px 14.7px,#68ff97 14.7px 15.7px,#78ff87 15.7px 16.8px,#48ffb7 16.8px 17.8px,#68ff97 17.8px 18.9px,#38ffc7 18.9px 19.9px,#68ff97 19.9px 21.0px,#48ffb7 21.0px 22.0px,#68ff97 22.0px 23.1px,#18ffe7 23.1px 24.1px,#68ff97 24.1px 25.2px,#48ffb7 25.2px 26.2px,#78ff87 26.2px 27.3px,#48ffb7 27.3px 28.3px,#78ff87 28.3px 29.4px,#58ffa7 29.4px 30.4px,#68ff97 30.4px 31.5px,#58ffa7 31.5px 32.5px,#48ffb7 32.5px 33.6px,#38ffc7 33.6px 34.6px,#58ffa7 34.6px 35.7px,#18ffe7 35.7px 36.7px,#58ffa7 36.7px 38.8px,#78ff87 38.8px 39.8px,#48ffb7 39.8px 40.9px,#87ff78 40.9px 41.9px,#48ffb7 41.9px 43.0px,#68ff97 43.0px 44.0px,#48ffb7 44.0px 45.1px,#68ff97 45.1px 46.1px,#48ffb7 46.1px 47.2px,#58ffa7 47.2px 49.3px,#68ff97 49.3px 50.3px,#58ffa7 50.3px 52.4px,#38ffc7 52.4px 53.5px,#68ff97 53.5px 54.5px,#58ffa7 54.5px 57.7px,#78ff87 57.7px 58.7px,#38ffc7 58.7px 59.8px,#78ff87 59.8px 60.8px,#48ffb7 60.8px 61.9px,#78ff87 61.9px 62.9px,#68ff97 62.9px 64.0px,#78ff87 64.0px 65.0px,#38ffc7 65.0px 66.1px,#68ff97 66.1px 67.1px,#48ffb7 67.1px 68.2px,#68ff97 68.2px 69.2px,#38ffc7 69.2px 70.3px,#58ffa7 70.3px 71.3px,#48ffb7 71.3px 72.4px,#87ff78 72.4px 73.4px,#18ffe7 73.4px 74.5px,#78ff87 74.5px 75.5px,#48ffb7 75.5px 76.5px,#78ff87 76.5px 77.6px,#58ffa7 77.6px 78.6px,#68ff97 78.6px 79.7px,#38ffc7 79.7px 80.7px,#58ffa7 80.7px 81.8px,#28ffd7 81.8px 82.8px,#78ff87 82.8px 83.9px,#48ffb7 83.9px 84.9px,#68ff97 84.9px 86.0px,#48ffb7 86.0px 87.0px,#58ffa7 87.0px 88.1px,#48ffb7 88.1px 89.1px,#78ff87 89.1px 90.2px,#58ffa7 90.2px 94.4px,#28ffd7 94.4px 95.4px,#58ffa7 95.4px 96.5px,#38ffc7 96.5px 97.5px,#68ff97 97.5px 98.6px,#38ffc7 98.6px 99.6px,#58ffa7 99.6px 100.7px,#48ffb7 100.7px 101.7px,#87ff78 101.7px 102.8px,#38ffc7 102.8px 103.8px,#78ff87 103.8px 104.9px,#48ffb7 104.9px 105.9px,#97ff68 105.9px 107.0px,#28ffd7 107.0px 108.0px,#78ff87 108.0px 109.1px,#38ffc7 109.1px 110.1px,#68ff97 110.1px 111.2px,#48ffb7 111.2px 112.2px,#97ff68 112.2px 113.2px,#38ffc7 113.2px 114.3px,#48ffb7 114.3px 115.3px,#58ffa7 115.3px 117.4px,#48ffb7 117.4px 118.5px,#68ff97 118.5px 119.5px,#48ffb7 119.5px 120.6px,#68ff97 120.6px 121.6px,#48ffb7 121.6px 122.7px,#68ff97 122.7px 123.7px,#58ffa7 123.7px 124.8px,#68ff97 124.8px 125.8px,#38ffc7 125.8px 126.9px,#58ffa7 126.9px 127.9px,#48ffb7 127.9px 129.0px,#68ff97 129.0px 130.0px,#48ffb7 130.0px 131.1px,#78ff87 131.1px 132.1px,#58ffa7 132.1px 133.2px,#68ff97 133.2px 134.2px,#58ffa7 134.2px 136.3px,#38ffc7 136.3px 137.4px,#68ff97 137.4px 138.4px,#38ffc7 138.4px 139.5px,#78ff87 139.5px 140.5px,#38ffc7 140.5px 141.6px,#68ff97 141.6px 142.6px,#18ffe7 142.6px 143.7px,#58ffa7 143.7px 144.7px,#38ffc7 144.7px 145.8px,#68ff97 145.8px 146.8px,#28ffd7 146.8px 147.9px,#68ff97 147.9px 148.9px,#58ffa7 148.9px 150.0px,#78ff87 150.0px 151.0px)"></div>
<div class="c" style="left:93.89px;width:9.89px;background:linear-gradient(#87ff78 0.0px 1.0px,#58ffa7 1.0px 2.1px,#a7ff58 2.1px 3.1px,#87ff78 3.1px 5.2px,#48ffb7 5.2px 6.3px,#97ff68 6.3px 7.3px,#78ff87 7.3px 8.4px,#58ffa7 8.4px 9.4px,#68ff97 9.4px 10.5px,#c7ff38 10.5px 11.5px,#78ff87 11.5px 12.6px,#97ff68 12.6px 13.6px,#78ff87 13.6px 14.7px,#a7ff58 14.7px 15.7px,#58ffa7 15.7px 16.8px,#87ff78 16.8px 17.8px,#78ff87 17.8px 18.9px,#87ff78 18.9px 19.9px,#78ff87 19.9px 21.0px,#68ff97 21.0px 22.0px,#78ff87 22.0px 23.1px,#a7ff58 23.1px 24.1px,#68ff97 24.1px 25.2px,#97ff68 25.2px 26.2px,#87ff78 26.2px 27.3px,#78ff87 27.3px 28.3px,#58ffa7 28.3px 29.4px,#78ff87 29.4px 30.4px,#68ff97 30.4px 31.5px,#78ff87 31.5px 32.5px,#68ff97 32.5px 33.6px,#87ff78 33.6px 34.6px,#48ffb7 34.6px 35.7px,#78ff87 35.7px 36.7px,#87ff78 36.7px 37.8px,#97ff68 37.8px 38.8px,#68ff97 38.8px 39.8px,#97ff68 39.8px 40.9px,#68ff97 40.9px 41.9px,#a7ff58 41.9px 43.0px,#78ff87 43.0px 44.0px,#87ff78 44.0px 45.1px,#58ffa7 45.1px 46.1px,#78ff87 46.1px 47.2px,#58ffa7 47.2px 48.2px,#b7ff48 48.2px 49.3px,#58ffa7 49.3px 50.3px,#68ff97 50.3px 51.4px,#58ffa7 51.4px 52.4px,#87ff78 52.4px 53.5px,#78ff87 53.5px 54.5px,#87ff78 54.5px 55.6px,#78ff87 55.6px 56.6px,#97ff68 56.6px 57.7px,#87ff78 57.7px 58.7px,#c7ff38 58.7px 59.8px,#a7ff58 59.8px 60.8px,#b7ff48 60.8px 61.9px,#58ffa7 61.9px 62.9px,#87ff78 62.9px 64.0px,#78ff87 64.0px 65.0px,#b7ff48 65.0px 66.1px,#78ff87 66.1px 67.1px,#a7ff58 67.1px 68.2px,#68ff97 68.2px 69.2px,#a7ff58 69.2px 70.3px,#78ff87 70.3px 71.3px,#87ff78 71.3px 72.4px,#78ff87 72.4px 73.4px,#a7ff58 73.4px 74.5px,#68ff97 74.5px 75.5px,#a7ff58 75.5px 76.5px,#87ff78 76.5px 77.6px,#97ff68 77.6px 78.6px,#68ff97 78.6px 79.7px,#87ff78 79.7px 80.7px,#58ffa7 80.7px 81.8px,#97ff68 81.8px 82.8px,#68ff97 82.8px 83.9px,#87ff78 83.9px 84.9px,#58ffa7 84.9px 86.0px,#78ff87 86.0px 87.0px,#58ffa7 87.0px 88.1px,#97ff68 88.1px 89.1px,#58ffa7 89.1px 90.2px,#87ff78 90.2px 92.3px,#a7ff58 92.3px 93.3px,#58ffa7 93.3px 94.4px,#a7ff58 94.4px 95.4px,#58ffa7 95.4px 96.5px,#b7ff48 96.5px 97.5px,#58ffa7 97.5px 98.6px,#97ff68 98.6px 99.6px,#87ff78 99.6px 103.8px,#78ff87 103.8px 104.9px,#87ff78 104.9px 105.9px,#68ff97 105.9px 107.0px,#97ff68 107.0px 108.0px,#68ff97 108.0px 109.1px,#78ff87 109.1px 111.2px,#a7ff58 111.2px 112.2px,#87ff78 112.2px 113.2px,#b7ff48 113.2px 114.3px,#48ffb7 114.3px 115.3px,#a7ff58 115.3px 116.4px,#87ff78 116.4px 119.5px,#b7ff48 119.5px 120.6px,#68ff97 120.6px 121.6px,#78ff87 121.6px 122.7px,#68ff97 122.7px 123.7px,#c7ff38 123.7px 124.8px,#78ff87 124.8px 126.9px,#68ff97 126.9px 127.9px,#87ff78 127.9px 129.0px,#68ff97 129.0px 130.0px,#97ff68 130.0px 131.1px,#38ffc7 131.1px 132.1px,#97ff68 132.1px 133.2px,#87ff78 133.2px 134.2px,#97ff68 134.2px 135.3px,#68ff97 135.3px 136.3px,#a7ff58 136.3px 137.4px,#58ffa7 137.4px 138.4px,#78ff87 138.4px 139.5px,#48ffb7 139.5px 140.5px,#97ff68 140.5px 141.6px,#78ff87 141.6px 142.6px,#97ff68 142.6px 143.7px,#78ff87 143.7px 144.7px,#a7ff58 144.7px 145.8px,#78ff87 145.8px 146.8px,#87ff78 146.8px 147.9px,#68ff97 147.9px 148.9px,#a7ff58 148.9px 150.0px,#58ffa7 150.0px 151.0px)"></div>
<div class="c" style="left:103.28px;width:9.89px;background:linear-gradient(#d7ff28 0.0px 1.0px,#a7ff58 1.0px 2.1px,#d7ff28 2.1px 3.1px,#97ff68 3.1px 4.2px,#b7ff48 4.2px 5.2px,#e7ff18 5.2px 6.3px,#f7ff08 6.3px 7.3px,#97ff68 7.3px 8.4px,#d7ff28 8.4px 9.4px,#b7ff48 9.4px 10.5px,#d7ff28 10.5px 11.5px,#b7ff48 11.5px 12.6px,#d7ff28 12.6px 13.6px,#a7ff58 13.6px 14.7px,#d7ff28 14.7px 15.7px,#a7ff58 15.7px 18.9px,#e7ff18 18.9px 19.9px,#b7ff48 19.9px 21.0px,#c7ff38 21.0px 22.0px,#b7ff48 22.0px 23.1px,#e7ff18 23.1px 24.1px,#87ff78 24.1px 25.2px,#a7ff58 25.2px 26.2px,#b7ff48 26.2px 27.3px,#c7ff38 27.3px 29.4px,#ffe700 29.4px 30.4px,#97ff68 30.4px 31.5px,#c7ff38 31.5px 32.5px,#a7ff58 32.5px 33.6px,#f7ff08 33.6px 34.6px,#97ff68 34.6px 35.7px,#fff700 35.7px 36.7px,#c7ff38 36.7px 37.8px,#f7ff08 37.8px 38.8px,#a7ff58 38.8px 39.8px,#f7ff08 39.8px 40.9px,#c7ff38 40.9px 43.0px,#e7ff18 43.0px 44.0px,#d7ff28 44.0px 45.1px,#b7ff48 45.1px 46.1px,#d7ff28 46.1px 47.2px,#b7ff48 47.2px 48.2px,#f7ff08 48.2px 49.3px,#97ff68 49.3px 50.3px,#b7ff48 50.3px 51.4px,#a7ff58 51.4px 52.4px,#b7ff48 52.4px 53.5px,#97ff68 53.5px 54.5px,#d7ff28 54.5px 55.6px,#a7ff58 55.6px 56.6px,#fff700 56.6px 57.7px,#97ff68 57.7px 58.7px,#e7ff18 58.7px 59.8px,#a7ff58 59.8px 60.8px,#fff700 60.8px 61.9px,#e7ff18 61.9px 64.0px,#d7ff28 64.0px 66.1px,#87ff78 66.1px 67.1px,#c7ff38 67.1px 68.2px,#87ff78 68.2px 69.2px,#c7ff38 69.2px 70.3px,#a7ff58 70.3px 71.3px,#f7ff08 71.3px 72.4px,#b7ff48 72.4px 73.4px,#e7ff18 73.4px 74.5px,#a7ff58 74.5px 75.5px,#c7ff38 75.5px 76.5px,#a7ff58 76.5px 77.6px,#e7ff18 77.6px 78.6px,#b7ff48 78.6px 79.7px,#e7ff18 79.7px 80.7px,#a7ff58 80.7px 81.8px,#b7ff48 81.8px 82.8px,#97ff68 82.8px 83.9px,#c7ff38 83.9px 84.9px,#d7ff28 84.9px 87.0px,#b7ff48 87.0px 88.1px,#fff700 88.1px 89.1px,#b7ff48 89.1px 90.2px,#d7ff28 90.2px 91.2px,#a7ff58 91.2px 92.3px,#c7ff38 92.3px 93.3px,#b7ff48 93.3px 94.4px,#f7ff08 94.4px 95.4px,#b7ff48 95.4px 96.5px,#f7ff08 96.5px 97.5px,#c7ff38 97.5px 98.6px,#ffe700 98.6px 99.6px,#97ff68 99.6px 100.7px,#e7ff18 100.7px 101.7px,#c7ff38 101.7px 102.8px,#fff700 102.8px 103.8px,#68ff97 103.8px 104.9px,#d7ff28 104.9px 105.9px,#a7ff58 105.9px 107.0px,#c7ff38 107.0px 109.1px,#e7ff18 109.1px 110.1px,#a7ff58 110.1px 111.2px,#b7ff48 111.2px 112.2px,#87ff78 112.2px 113.2px,#c7ff38 113.2px 114.3px,#b7ff48 114.3px 115.3px,#c7ff38 115.3px 116.4px,#78ff87 116.4px 117.4px,#b7ff48 117.4px 118.5px,#97ff68 118.5px 119.5px,#fff700 119.5px 120.6px,#e7ff18 120.6px 121.6px,#d7ff28 121.6px 122.7px,#c7ff38 122.7px 123.7px,#fff700 123.7px 124.8px,#c7ff38 124.8px 125.8px,#d7ff28 125.8px 126.9px,#87ff78 126.9px 127.9px,#d7ff28 127.9px 129.0px,#78ff87 129.0px 130.0px,#e7ff18 130.0px 131.1px,#c7ff38 131.1px 132.1px,#b7ff48 132.1px 133.2px,#a7ff58 133.2px 134.2px,#e7ff18 134.2px 135.3px,#c7ff38 135.3px 136.3px,#fff700 136.3px 137.4px,#c7ff38 137.4px 139.5px,#a7ff58 139.5px 140.5px,#fff700 140.5px 141.6px,#97ff68 141.6px 142.6px,#e7ff18 142.6px 143.7px,#d7ff28 143.7px 144.7px,#e7ff18 144.7px 145.8px,#87ff78 145.8px 146.8px,#d7ff28 146.8px 147.9px,#b7ff48 147.9px 148.9px,#d7ff28 148.9px 150.0px,#c7ff38 150.0px 151.0px)"></div>
<div class="c" style="left:112.67px;width:9.89px;background:linear-gradient(#fff700 0.0px 1.0px,#d7ff28 1.0px 2.1px,#ffe700 2.1px 3.1px,#c7ff38 3.1px 4.2px,#ffe700 4.2px 5.2px,#d7ff28 5.2px 6.3px,#ffd700 6.3px 7.3px,#d7ff28 7.3px 8.4px,#f7ff08 8.4px 9.4px,#ffe700 9.4px 10.5px,#f7ff08 10.5px 11.5px,#d7ff28 11.5px 12.6px,#fff700 12.6px 13.6px,#d7ff28 13.6px 14.7px,#f7ff08 14.7px 15.7px,#e7ff18 15.7px 16.8px,#fff700 16.8px 17.8px,#d7ff28 17.8px 18.9px,#ffe700 18.9px 19.9px,#f7ff08 19.9px 21.0px,#ffd700 21.0px 22.0px,#c7ff38 22.0px 23.1px,#ffe700 23.1px 24.1px,#d7ff28 24.1px 25.2px,#ffe700 25.2px 26.2px,#b7ff48 26.2px 27.3px,#ffd700 27.3px 28.3px,#d7ff28 28.3px 29.4px,#ffb700 29.4px 30.4px,#f7ff08 30.4px 32.5px,#b7ff48 32.5px 33.6px,#ffc700 33.6px 34.6px,#c7ff38 34.6px 35.7px,#ffd700 35.7px 36.7px,#d7ff28 36.7px 37.8px,#ffb700 37.8px 38.8px,#e7ff18 38.8px 39.8px,#ffc700 39.8px 40.9px,#fff700 40.9px 43.0px,#d7ff28 43.0px 44.0px,#ffc700 44.0px 45.1px,#e7ff18 45.1px 46.1px,#f7ff08 46.1px 47.2px,#fff700 47.2px 48.2px,#ffa700 48.2px 49.3px,#e7ff18 49.3px 50.3px,#ffc700 50.3px 51.4px,#d7ff28 51.4px 52.4px,#ffc700 52.4px 53.5px,#d7ff28 53.5px 54.5px,#ffc700 54.5px 55.6px,#f7ff08 55.6px 56.6px,#ffe700 56.6px 57.7px,#e7ff18 57.7px 58.7px,#fff700 58.7px 59.8px,#c7ff38 59.8px 60.8px,#f7ff08 60.8px 61.9px,#e7ff18 61.9px 62.9px,#f7ff08 62.9px 64.0px,#e7ff18 64.0px 65.0px,#ffd700 65.0px 66.1px,#e7ff18 66.1px 67.1px,#fff700 67.1px 68.2px,#e7ff18 68.2px 69.2px,#ffe700 69.2px 70.3px,#fff700 70.3px 72.4px,#d7ff28 72.4px 73.4px,#ffe700 73.4px 74.5px,#d7ff28 74.5px 75.5px,#fff700 75.5px 76.5px,#d7ff28 76.5px 77.6px,#ffc700 77.6px 78.6px,#d7ff28 78.6px 79.7px,#ffd700 79.7px 80.7px,#ffe700 80.7px 81.8px,#ffc700 81.8px 82.8px,#b7ff48 82.8px 83.9px,#ffd700 83.9px 84.9px,#e7ff18 84.9px 86.0px,#ffd700 86.0px 87.0px,#b7ff48 87.0px 88.1px,#ffd700 88.1px 89.1px,#c7ff38 89.1px 90.2px,#ffc700 90.2px 91.2px,#f7ff08 91.2px 92.3px,#ffa700 92.3px 93.3px,#d7ff28 93.3px 94.4px,#e7ff18 94.4px 95.4px,#f7ff08 95.4px 96.5px,#ffd700 96.5px 97.5px,#d7ff28 97.5px 98.6px,#ffc700 98.6px 99.6px,#f7ff08 99.6px 101.7px,#d7ff28 101.7px 102.8px,#fff700 102.8px 103.8px,#e7ff18 103.8px 104.9px,#ffe700 104.9px 105.9px,#d7ff28 105.9px 107.0px,#ffe700 107.0px 108.0px,#f7ff08 108.0px 109.1px,#ffe700 109.1px 110.1px,#d7ff28 110.1px 111.2px,#fff700 111.2px 112.2px,#e7ff18 112.2px 115.3px,#f7ff08 115.3px 116.4px,#e7ff18 116.4px 117.4px,#f7ff08 117.4px 119.5px,#ffe700 119.5px 120.6px,#c7ff38 120.6px 121.6px,#ffe700 121.6px 122.7px,#c7ff38 122.7px 123.7px,#ffb700 123.7px 124.8px,#e7ff18 124.8px 125.8px,#fff700 125.8px 126.9px,#e7ff18 126.9px 127.9px,#ffe700 127.9px 129.0px,#fff700 129.0px 130.0px,#ffe700 130.0px 131.1px,#f7ff08 131.1px 134.2px,#ffb700 134.2px 135.3px,#f7ff08 135.3px 136.3px,#ffe700 136.3px 137.4px,#e7ff18 137.4px 138.4px,#f7ff08 138.4px 139.5px,#e7ff18 139.5px 140.5px,#f7ff08 140.5px 141.6px,#e7ff18 141.6px 142.6px,#fff700 142.6px 143.7px,#c7ff38 143.7px 144.7px,#ffd700 144.7px 145.8px,#b7ff48 145.8px 146.8px,#ffe700 146.8px 147.9px,#c7ff38 147.9px 148.9px,#ffb700 148.9px 150.0px,#ffe700 150.0px 151.0px)"></div>
<div class="c" style="left:122.06px;width:9.89px;background:linear-gradient(#ff4800 0.0px 1.0px,#ffd700 1.0px 2.1px,#ff4800 2.1px 3.1px,#f7ff08 3.1px 4.2px,#ff6800 4.2px 5.2px,#c7ff38 5.2px 6.3px,#ff5800 6.3px 7.3px,#d7ff28 7.3px 8.4px,#ff6800 8.4px 9.4px,#f7ff08 9.4px 10.5px,#ff6800 10.5px 11.5px,#b7ff48 11.5px 12.6px,#ff6800 12.6px 13.6px,#d7ff28 13.6px 14.7px,#ff6800 14.7px 15.7px,#c7ff38 15.7px 16.8px,#ff3800 16.8px 17.8px,#ffd700 17.8px 18.9px,#ff8700 18.9px 19.9px,#f7ff08 19.9px 21.0px,#ff4800 21.0px 22.0px,#c7ff38 22.0px 23.1px,#ff5800 23.1px 24.1px,#ffe700 24.1px 25.2px,#ff4800 25.2px 26.2px,#ffe700 26.2px 27.3px,#ff8700 27.3px 28.3px,#d7ff28 28.3px 29.4px,#ff5800 29.4px 30.4px,#f7ff08 30.4px 31.5px,#ff5800 31.5px 32.5px,#d7ff28 32.5px 33.6px,#ff6800 33.6px 34.6px,#d7ff28 34.6px 35.7px,#ff5800 35.7px 36.7px,#97ff68 36.7px 37.8px,#ff2800 37.8px 38.8px,#d7ff28 38.8px 39.8px,#ff8700 39.8px 40.9px,#f7ff08 40.9px 41.9px,#ff8700 41.9px 43.0px,#f7ff08 43.0px 44.0px,#ff6800 44.0px 45.1px,#f7ff08 45.1px 46.1px,#ff4800 46.1px 47.2px,#fff700 47.2px 48.2px,#ff6800 48.2px 49.3px,#d7ff28 49.3px 50.3px,#ff6800 50.3px 51.4px,#b7ff48 51.4px 52.4px,#ff4800 52.4px 53.5px,#e7ff18 53.5px 54.5px,#ff8700 54.5px 55.6px,#fff700 55.6px 56.6px,#ff3800 56.6px 57.7px,#b7ff48 57.7px 58.7px,#ff4800 58.7px 59.8px,#fff700 59.8px 60.8px,#ff4800 60.8px 61.9px,#c7ff38 61.9px 62.9px,#ff8700 62.9px 64.0px,#e7ff18 64.0px 65.0px,#ff6800 65.0px 66.1px,#e7ff18 66.1px 67.1px,#ff6800 67.1px 68.2px,#f7ff08 68.2px 69.2px,#ff7800 69.2px 70.3px,#e7ff18 70.3px 71.3px,#ff0800 71.3px 72.4px,#e7ff18 72.4px 73.4px,#ff4800 73.4px 74.5px,#f7ff08 74.5px 75.5px,#ff5800 75.5px 76.5px,#c7ff38 76.5px 77.6px,#ff5800 77.6px 78.6px,#e7ff18 78.6px 79.7px,#ff4800 79.7px 80.7px,#ffd700 80.7px 81.8px,#ff5800 81.8px 82.8px,#f7ff08 82.8px 83.9px,#ff7800 83.9px 84.9px,#e7ff18 84.9px 86.0px,#ff3800 86.0px 87.0px,#e7ff18 87.0px 88.1px,#ff7800 88.1px 89.1px,#e7ff18 89.1px 90.2px,#ff6800 90.2px 91.2px,#d7ff28 91.2px 92.3px,#ff6800 92.3px 93.3px,#ffd700 93.3px 94.4px,#ff7800 94.4px 95.4px,#d7ff28 95.4px 96.5px,#ff7800 96.5px 97.5px,#fff700 97.5px 98.6px,#ff6800 98.6px 99.6px,#fff700 99.6px 100.7px,#ff5800 100.7px 101.7px,#e7ff18 101.7px 102.8px,#ff8700 102.8px 103.8px,#fff700 103.8px 104.9px,#ff5800 104.9px 105.9px,#f7ff08 105.9px 107.0px,#ff6800 107.0px 108.0px,#d7ff28 108.0px 109.1px,#ff8700 109.1px 110.1px,#fff700 110.1px 111.2px,#ff5800 111.2px 112.2px,#d7ff28 112.2px 113.2px,#ff7800 113.2px 114.3px,#e7ff18 114.3px 115.3px,#ff6800 115.3px 116.4px,#ffe700 116.4px 117.4px,#ff4800 117.4px 118.5px,#d7ff28 118.5px 119.5px,#ff8700 119.5px 120.6px,#d7ff28 120.6px 121.6px,#ff7800 121.6px 122.7px,#e7ff18 122.7px 123.7px,#ff5800 123.7px 124.8px,#f7ff08 124.8px 125.8px,#ff5800 125.8px 126.9px,#e7ff18 126.9px 127.9px,#ff4800 127.9px 129.0px,#c7ff38 129.0px 130.0px,#ff6800 130.0px 131.1px,#fff700 131.1px 132.1px,#ff5800 132.1px 133.2px,#c7ff38 133.2px 134.2px,#ff8700 134.2px 135.3px,#b7ff48 135.3px 136.3px,#ff2800 136.3px 137.4px,#b7ff48 137.4px 138.4px,#ff6800 138.4px 139.5px,#ffe700 139.5px 140.5px,#ff3800 140.5px 141.6px,#fff700 141.6px 142.6px,#ff6800 142.6px 143.7px,#f7ff08 143.7px 144.7px,#ff0800 144.7px 145.8px,#e7ff18 145.8px 146.8px,#ff5800 146.8px 147.9px,#d7ff28 147.9px 148.9px,#ff6800 148.9px 150.0px,#f7ff08 150.0px 151.0px)"></div>
<div class="c" style="left:131.44px;width:9.89px;background:linear-gradient(#ffd700 0.0px 1.0px,#e7ff18 1.0px 2.1px,#ffb700 2.1px 3.1px,#ffe700 3.1px 4.2px,#ff8700 4.2px 5.2px,#ffd700 5.2px 6.3px,#ffc700 6.3px 7.3px,#ffd700 7.3px 8.4px,#ff9700 8.4px 9.4px,#ffe700 9.4px 10.5px,#ffc700 10.5px 11.5px,#ffd700 11.5px 12.6px,#ffc700 12.6px 13.6px,#d7ff28 13.6px 14.7px,#ff8700 14.7px 15.7px,#e7ff18 15.7px 16.8px,#ffc700 16.8px 17.8px,#fff700 17.8px 18.9px,#ffc700 18.9px 19.9px,#fff700 19.9px 21.0px,#ffe700 21.0px 22.0px,#ffd700 22.0px 23.1px,#ffb700 23.1px 24.1px,#ffe700 24.1px 25.2px,#ff9700 25.2px 26.2px,#ffc700 26.2px 27.3px,#ff8700 27.3px 28.3px,#ffb700 28.3px 29.4px,#ffa700 29.4px 30.4px,#e7ff18 30.4px 31.5px,#ffb700 31.5px 32.5px,#ffe700 32.5px 33.6px,#ffb700 33.6px 34.6px,#fff700 34.6px 35.7px,#ffd700 35.7px 37.8px,#ff9700 37.8px 38.8px,#f7ff08 38.8px 39.8px,#ffa700 39.8px 40.9px,#ffe700 40.9px 41.9px,#ffc700 41.9px 43.0px,#ffd700 43.0px 44.0px,#ffb700 44.0px 45.1px,#fff700 45.1px 46.1px,#ffb700 46.1px 47.2px,#d7ff28 47.2px 48.2px,#ffc700 48.2px 49.3px,#fff700 49.3px 50.3px,#ffe700 50.3px 52.4px,#ffa700 52.4px 53.5px,#fff700 53.5px 54.5px,#ffb700 54.5px 55.6px,#ffd700 55.6px 56.6px,#ff9700 56.6px 57.7px,#f7ff08 57.7px 58.7px,#ffa700 58.7px 59.8px,#ffc700 59.8px 60.8px,#ffb700 60.8px 61.9px,#f7ff08 61.9px 62.9px,#ffc700 62.9px 64.0px,#fff700 64.0px 65.0px,#ffd700 65.0px 66.1px,#ffa700 66.1px 67.1px,#ffc700 67.1px 68.2px,#ffd700 68.2px 69.2px,#ffb700 69.2px 70.3px,#ffd700 70.3px 71.3px,#ffc700 71.3px 72.4px,#e7ff18 72.4px 73.4px,#ff8700 73.4px 74.5px,#ffe700 74.5px 75.5px,#ffb700 75.5px 76.5px,#ffe700 76.5px 77.6px,#ff9700 77.6px 78.6px,#ffd700 78.6px 79.7px,#ff9700 79.7px 80.7px,#ffd700 80.7px 81.8px,#ffb700 81.8px 82.8px,#ffe700 82.8px 83.9px,#ffc700 83.9px 84.9px,#d7ff28 84.9px 86.0px,#ffb700 86.0px 87.0px,#f7ff08 87.0px 88.1px,#ff6800 88.1px 89.1px,#ffb700 89.1px 90.2px,#ff9700 90.2px 91.2px,#fff700 91.2px 92.3px,#ff7800 92.3px 93.3px,#e7ff18 93.3px 94.4px,#ffd700 94.4px 95.4px,#f7ff08 95.4px 96.5px,#ffd700 96.5px 97.5px,#ffe700 97.5px 98.6px,#ffb700 98.6px 100.7px,#ff9700 100.7px 101.7px,#ffc700 101.7px 102.8px,#ffa700 102.8px 103.8px,#ffe700 103.8px 104.9px,#ffc700 104.9px 105.9px,#e7ff18 105.9px 107.0px,#ffd700 107.0px 108.0px,#fff700 108.0px 109.1px,#ffa700 109.1px 110.1px,#e7ff18 110.1px 111.2px,#ffe700 111.2px 113.2px,#ffd700 113.2px 114.3px,#ffe700 114.3px 115.3px,#ffc700 115.3px 116.4px,#f7ff08 116.4px 117.4px,#ffe700 117.4px 119.5px,#ffc700 119.5px 120.6px,#fff700 120.6px 121.6px,#ffc700 121.6px 122.7px,#ffe700 122.7px 123.7px,#ffb700 123.7px 124.8px,#d7ff28 124.8px 125.8px,#ffb700 125.8px 126.9px,#ffd700 126.9px 127.9px,#ff9700 127.9px 129.0px,#ffd700 129.0px 130.0px,#ffb700 130.0px 131.1px,#f7ff08 131.1px 132.1px,#ffc700 132.1px 136.3px,#ff9700 136.3px 137.4px,#f7ff08 137.4px 138.4px,#ffa700 138.4px 139.5px,#ffe700 139.5px 140.5px,#ff7800 140.5px 141.6px,#ffd700 141.6px 142.6px,#ffc700 142.6px 143.7px,#ffd700 143.7px 145.8px,#fff700 145.8px 146.8px,#ffb700 146.8px 147.9px,#ffe700 147.9px 148.9px,#ffa700 148.9px 150.0px,#f7ff08 150.0px 151.0px)"></div>
<div class="c" style="left:140.83px;width:9.89px;background:linear-gradient(#e7ff18 0.0px 2.1px,#fff700 2.1px 3.1px,#e7ff18 3.1px 4.2px,#ffb700 4.2px 5.2px,#fff700 5.2px 6.3px,#ffe700 6.3px 7.3px,#d7ff28 7.3px 8.4px,#f7ff08 8.4px 10.5px,#ffd700 10.5px 11.5px,#e7ff18 11.5px 12.6px,#ffe700 12.6px 13.6px,#f7ff08 13.6px 14.7px,#ffd700 14.7px 15.7px,#c7ff38 15.7px 16.8px,#ffe700 16.8px 17.8px,#f7ff08 17.8px 18.9px,#ffd700 18.9px 19.9px,#f7ff08 19.9px 22.0px,#e7ff18 22.0px 23.1px,#f7ff08 23.1px 25.2px,#ffe700 25.2px 26.2px,#fff700 26.2px 28.3px,#d7ff28 28.3px 29.4px,#ffc700 29.4px 30.4px,#f7ff08 30.4px 31.5px,#ffc700 31.5px 32.5px,#f7ff08 32.5px 34.6px,#fff700 34.6px 35.7px,#ffd700 35.7px 36.7px,#e7ff18 36.7px 38.8px,#fff700 38.8px 39.8px,#ffe700 39.8px 40.9px,#f7ff08 40.9px 41.9px,#d7ff28 41.9px 43.0px,#f7ff08 43.0px 44.0px,#d7ff28 44.0px 45.1px,#e7ff18 45.1px 46.1px,#ffd700 46.1px 47.2px,#d7ff28 47.2px 48.2px,#e7ff18 48.2px 50.3px,#ffc700 50.3px 51.4px,#ffe700 51.4px 52.4px,#fff700 52.4px 54.5px,#ffd700 54.5px 55.6px,#f7ff08 55.6px 56.6px,#ffe700 56.6px 57.7px,#e7ff18 57.7px 58.7px,#ffd700 58.7px 59.8px,#fff700 59.8px 60.8px,#ffb700 60.8px 61.9px,#fff700 61.9px 62.9px,#e7ff18 62.9px 64.0px,#d7ff28 64.0px 65.0px,#ffe700 65.0px 66.1px,#f7ff08 66.1px 67.1px,#e7ff18 67.1px 68.2px,#f7ff08 68.2px 69.2px,#fff700 69.2px 70.3px,#f7ff08 70.3px 71.3px,#ffe700 71.3px 72.4px,#fff700 72.4px 73.4px,#ffc700 73.4px 74.5px,#fff700 74.5px 75.5px,#f7ff08 75.5px 76.5px,#e7ff18 76.5px 77.6px,#fff700 77.6px 78.6px,#f7ff08 78.6px 79.7px,#fff700 79.7px 80.7px,#e7ff18 80.7px 81.8px,#fff700 81.8px 83.9px,#ffd700 83.9px 84.9px,#fff700 84.9px 86.0px,#ffe700 86.0px 87.0px,#f7ff08 87.0px 88.1px,#fff700 88.1px 89.1px,#e7ff18 89.1px 90.2px,#fff700 90.2px 92.3px,#ffe700 92.3px 93.3px,#d7ff28 93.3px 94.4px,#ffe700 94.4px 95.4px,#f7ff08 95.4px 96.5px,#ffe700 96.5px 97.5px,#e7ff18 97.5px 98.6px,#ffe700 98.6px 99.6px,#e7ff18 99.6px 100.7px,#fff700 100.7px 101.7px,#f7ff08 101.7px 102.8px,#ffd700 102.8px 103.8px,#ffe700 103.8px 104.9px,#ffc700 104.9px 105.9px,#fff700 105.9px 108.0px,#e7ff18 108.0px 109.1px,#fff700 109.1px 111.2px,#d7ff28 111.2px 112.2px,#f7ff08 112.2px 113.2px,#e7ff18 113.2px 114.3px,#f7ff08 114.3px 115.3px,#ffd700 115.3px 116.4px,#e7ff18 116.4px 118.5px,#ffe700 118.5px 119.5px,#ffc700 119.5px 120.6px,#f7ff08 120.6px 121.6px,#ffd700 121.6px 122.7px,#e7ff18 122.7px 123.7px,#ffd700 123.7px 124.8px,#ffe700 124.8px 125.8px,#ffd700 125.8px 126.9px,#f7ff08 126.9px 127.9px,#ffd700 127.9px 129.0px,#fff700 129.0px 131.1px,#ffe700 131.1px 132.1px,#ffd700 132.1px 133.2px,#f7ff08 133.2px 134.2px,#ffd700 134.2px 135.3px,#fff700 135.3px 136.3px,#ffd700 136.3px 137.4px,#e7ff18 137.4px 138.4px,#ffd700 138.4px 139.5px,#d7ff28 139.5px 140.5px,#ffe700 140.5px 141.6px,#d7ff28 141.6px 142.6px,#f7ff08 142.6px 144.7px,#ffe700 144.7px 145.8px,#f7ff08 145.8px 146.8px,#ffd700 146.8px 147.9px,#f7ff08 147.9px 148.9px,#fff700 148.9px 150.0px,#f7ff08 150.0px 151.0px)"></div>
<div class="c" style="left:150.22px;width:9.89px;background:linear-gradient(#c70000 0.0px 1.0px,#ff5800 1.0px 2.1px,#c70000 2.1px 3.1px,#ff6800 3.1px 4.2px,#c70000 4.2px 5.2px,#ff4800 5.2px 6.3px,#870000 6.3px 7.3px,#ff6800 7.3px 8.4px,#a70000 8.4px 9.4px,#ff7800 9.4px 10.5px,#870000 10.5px 11.5px,#ff5800 11.5px 12.6px,#b70000 12.6px 13.6px,#ff2800 13.6px 14.7px,#970000 14.7px 15.7px,#ff7800 15.7px 16.8px,#a70000 16.8px 17.8px,#ff5800 17.8px 18.9px,#a70000 18.9px 19.9px,#ff4800 19.9px 21.0px,#a70000 21.0px 22.0px,#ff4800 22.0px 23.1px,#c70000 23.1px 24.1px,#ff2800 24.1px 25.2px,#e70000 25.2px 26.2px,#ff5800 26.2px 27.3px,#d70000 27.3px 28.3px,#ff5800 28.3px 29.4px,#c70000 29.4px 30.4px,#ff5800 30.4px 31.5px,#c70000 31.5px 32.5px,#ff5800 32.5px 33.6px,#e70000 33.6px 34.6px,#ff4800 34.6px 35.7px,#b70000 35.7px 36.7px,#ff5800 36.7px 37.8px,#d70000 37.8px 38.8px,#ff6800 38.8px 39.8px,#870000 39.8px 40.9px,#ff4800 40.9px 41.9px,#b70000 41.9px 43.0px,#ff5800 43.0px 44.0px,#c70000 44.0px 45.1px,#ff6800 45.1px 46.1px,#870000 46.1px 47.2px,#ff8700 47.2px 48.2px,#b70000 48.2px 49.3px,#ff4800 49.3px 50.3px,#c70000 50.3px 51.4px,#ff7800 51.4px 52.4px,#e70000 52.4px 53.5px,#ff2800 53.5px 54.5px,#d70000 54.5px 55.6px,#ff3800 55.6px 56.6px,#a70000 56.6px 57.7px,#ff3800 57.7px 58.7px,#a70000 58.7px 59.8px,#ff7800 59.8px 60.8px,#c70000 60.8px 61.9px,#ff3800 61.9px 62.9px,#e70000 62.9px 64.0px,#ff1800 64.0px 65.0px,#c70000 65.0px 66.1px,#ff4800 66.1px 67.1px,#d70000 67.1px 68.2px,#ff4800 68.2px 69.2px,#d70000 69.2px 70.3px,#ff5800 70.3px 71.3px,#e70000 71.3px 72.4px,#ff2800 72.4px 73.4px,#e70000 73.4px 74.5px,#ff3800 74.5px 75.5px,#b70000 75.5px 76.5px,#ff3800 76.5px 77.6px,#d70000 77.6px 78.6px,#ff2800 78.6px 79.7px,#970000 79.7px 80.7px,#ff4800 80.7px 81.8px,#b70000 81.8px 82.8px,#ff5800 82.8px 83.9px,#a70000 83.9px 84.9px,#ff6800 84.9px 86.0px,#a70000 86.0px 87.0px,#ff4800 87.0px 88.1px,#e70000 88.1px 89.1px,#ff9700 89.1px 90.2px,#c70000 90.2px 91.2px,#ff5800 91.2px 92.3px,#970000 92.3px 93.3px,#ff4800 93.3px 94.4px,#c70000 94.4px 95.4px,#ff7800 95.4px 96.5px,#c70000 96.5px 97.5px,#ff5800 97.5px 98.6px,#d70000 98.6px 99.6px,#ff5800 99.6px 100.7px,#970000 100.7px 101.7px,#ff4800 101.7px 102.8px,#d70000 102.8px 103.8px,#ff4800 103.8px 104.9px,#d70000 104.9px 105.9px,#ff7800 105.9px 107.0px,#a70000 107.0px 108.0px,#ff5800 108.0px 109.1px,#970000 109.1px 110.1px,#ff4800 110.1px 111.2px,#d70000 111.2px 112.2px,#ff4800 112.2px 113.2px,#970000 113.2px 114.3px,#ff5800 114.3px 115.3px,#d70000 115.3px 116.4px,#ff6800 116.4px 117.4px,#d70000 117.4px 118.5px,#ff7800 118.5px 119.5px,#e70000 119.5px 120.6px,#ff3800 120.6px 121.6px,#970000 121.6px 122.7px,#ff5800 122.7px 123.7px,#a70000 123.7px 124.8px,#ff3800 124.8px 125.8px,#870000 125.8px 126.9px,#ff5800 126.9px 127.9px,#c70000 127.9px 129.0px,#ff3800 129.0px 130.0px,#b70000 130.0px 131.1px,#ff4800 131.1px 132.1px,#970000 132.1px 133.2px,#ff5800 133.2px 134.2px,#b70000 134.2px 135.3px,#ff6800 135.3px 136.3px,#c70000 136.3px 137.4px,#ff6800 137.4px 138.4px,#d70000 138.4px 139.5px,#ff5800 139.5px 140.5px,#c70000 140.5px 141.6px,#ff4800 141.6px 142.6px,#a70000 142.6px 143.7px,#ff7800 143.7px 144.7px,#970000 144.7px 145.8px,#ff9700 145.8px 146.8px,#b70000 146.8px 147.9px,#ff3800 147.9px 148.9px,#d70000 148.9px 150.0px,#ff5800 150.0px 151.0px)"></div>
<div class="c" style="left:159.61px;width:9.89px;background:linear-gradient(#ff4800 0.0px 2.1px,#ff7800 2.1px 3.1px,#ff6800 3.1px 4.2px,#ff5800 4.2px 6.3px,#ff0800 6.3px 7.3px,#ff3800 7.3px 8.4px,#ff1800 8.4px 9.4px,#ff5800 9.4px 10.5px,#ff4800 10.5px 11.5px,#ff3800 11.5px 12.6px,#ff1800 12.6px 13.6px,#ff6800 13.6px 14.7px,#ff4800 14.7px 15.7px,#ff6800 15.7px 16.8px,#ff1800 16.8px 17.8px,#ff3800 17.8px 18.9px,#ff0800 18.9px 19.9px,#ff6800 19.9px 21.0px,#ff3800 21.0px 23.1px,#ff2800 23.1px 24.1px,#ff4800 24.1px 26.2px,#ff6800 26.2px 27.3px,#ff2800 27.3px 28.3px,#ff6800 28.3px 29.4px,#ff3800 29.4px 30.4px,#ff8700 30.4px 31.5px,#ff0800 31.5px 32.5px,#ff5800 32.5px 34.6px,#ff3800 34.6px 35.7px,#ff2800 35.7px 36.7px,#ff4800 36.7px 37.8px,#ff3800 37.8px 38.8px,#ff6800 38.8px 39.8px,#ff4800 39.8px 41.9px,#ff1800 41.9px 43.0px,#ff4800 43.0px 44.0px,#ff1800 44.0px 45.1px,#ff3800 45.1px 46.1px,#ff2800 46.1px 47.2px,#ff3800 47.2px 48.2px,#ff1800 48.2px 49.3px,#ff4800 49.3px 50.3px,#ff2800 50.3px 51.4px,#ff6800 51.4px 52.4px,#ff4800 52.4px 53.5px,#ff7800 53.5px 54.5px,#ff0800 54.5px 55.6px,#ff5800 55.6px 56.6px,#ff3800 56.6px 57.7px,#ff2800 57.7px 58.7px,#ff1800 58.7px 59.8px,#ff5800 59.8px 60.8px,#ff1800 60.8px 61.9px,#ff5800 61.9px 62.9px,#ff2800 62.9px 65.0px,#ff1800 65.0px 66.1px,#ff5800 66.1px 67.1px,#ff1800 67.1px 68.2px,#ff3800 68.2px 69.2px,#ff2800 69.2px 70.3px,#ff6800 70.3px 71.3px,#f70000 71.3px 72.4px,#ff5800 72.4px 73.4px,#ff4800 73.4px 74.5px,#ff5800 74.5px 75.5px,#f70000 75.5px 76.5px,#ff4800 76.5px 77.6px,#ff1800 77.6px 78.6px,#ff8700 78.6px 79.7px,#ff3800 79.7px 83.9px,#ff1800 83.9px 84.9px,#ff4800 84.9px 86.0px,#f70000 86.0px 87.0px,#ff6800 87.0px 88.1px,#ff3800 88.1px 89.1px,#ff5800 89.1px 90.2px,#ff2800 90.2px 91.2px,#ff7800 91.2px 92.3px,#ff0800 92.3px 93.3px,#ff4800 93.3px 94.4px,#ff2800 94.4px 95.4px,#ff4800 95.4px 96.5px,#ff3800 96.5px 98.6px,#ff2800 98.6px 99.6px,#ff4800 99.6px 101.7px,#ff5800 101.7px 102.8px,#ff2800 102.8px 103.8px,#ff6800 103.8px 104.9px,#ff3800 104.9px 105.9px,#ff5800 105.9px 107.0px,#ff0800 107.0px 108.0px,#ff4800 108.0px 109.1px,#ff1800 109.1px 110.1px,#ff4800 110.1px 111.2px,#ff1800 111.2px 112.2px,#ff2800 112.2px 114.3px,#ff4800 114.3px 115.3px,#ff1800 115.3px 116.4px,#ff8700 116.4px 117.4px,#ff2800 117.4px 118.5px,#ff4800 118.5px 119.5px,#ff1800 119.5px 120.6px,#ff5800 120.6px 121.6px,#ff1800 121.6px 122.7px,#ff6800 122.7px 123.7px,#ff2800 123.7px 125.8px,#ff4800 125.8px 126.9px,#ff5800 126.9px 127.9px,#ff2800 127.9px 129.0px,#ff5800 129.0px 130.0px,#ff3800 130.0px 131.1px,#ff4800 131.1px 133.2px,#ff7800 133.2px 134.2px,#ff1800 134.2px 135.3px,#ff7800 135.3px 136.3px,#ff2800 136.3px 137.4px,#ff5800 137.4px 138.4px,#ff3800 138.4px 139.5px,#ff5800 139.5px 140.5px,#ff2800 140.5px 141.6px,#ff4800 141.6px 142.6px,#ff3800 142.6px 143.7px,#ff5800 143.7px 148.9px,#ff3800 148.9px 150.0px,#ff1800 150.0px 151.0px)"></div>
</div>
<div class="t tk" style="left:3.10px;width:30px;text-align:right;top:163.65px">0</div>
<div class="t tk" style="left:3.10px;width:30px;text-align:right;top:144.78px">45</div>
<div class="t tk" style="left:3.10px;width:30px;text-align:right;top:125.90px">90</div>
<div class="t tk" style="left:3.10px;width:30px;text-align:right;top:107.03px">135</div>
<div class="t tk" style="left:3.10px;width:30px;text-align:right;top:88.15px">180</div>
<div class="t tk" style="left:3.10px;width:30px;text-align:right;top:69.28px">225</div>
<div class="t tk" style="left:3.10px;width:30px;text-align:right;top:50.40px">270</div>
<div class="t tk" style="left:3.10px;width:30px;text-align:right;top:31.53px">315</div>
<div class="t tk" style="left:3.10px;width:30px;text-align:right;top:12.65px">360</div>
<div class="t tk" style="left:49.17px;width:30px;text-align:center;top:173.35px">5</div>
<div class="t tk" style="left:96.11px;width:30px;text-align:center;top:173.35px">10</div>
<div class="t tk" style="left:143.06px;width:30px;text-align:center;top:173.35px">15</div>
<div class="t tk" style="left:190.00px;width:30px;text-align:center;top:173.35px">20</div>
<div class="t lb" style="left:60.50px;width:120px;text-align:center;top:184.20px">Wind speed, m/s</div>
<div class="t lb yl" style="left:-51.00px;top:87.20px">Wind direction, deg.</div>
<div class="cb" style="background:linear-gradient(#870000 0.0px 2.36px,#970000 2.36px 4.72px,#a70000 4.72px 7.08px,#b70000 7.08px 9.44px,#c70000 9.44px 11.8px,#d70000 11.8px 14.16px,#e70000 14.16px 16.52px,#f70000 16.52px 18.88px,#ff0800 18.88px 21.23px,#ff1800 21.23px 23.59px,#ff2800 23.59px 25.95px,#ff3800 25.95px 28.31px,#ff4800 28.31px 30.67px,#ff5800 30.67px 33.03px,#ff6800 33.03px 35.39px,#ff7800 35.39px 37.75px,#ff8700 37.75px 40.11px,#ff9700 40.11px 42.47px,#ffa700 42.47px 44.83px,#ffb700 44.83px 47.19px,#ffc700 47.19px 49.55px,#ffd700 49.55px 51.91px,#ffe700 51.91px 54.27px,#fff700 54.27px 56.62px,#f7ff08 56.62px 58.98px,#e7ff18 58.98px 61.34px,#d7ff28 61.34px 63.7px,#c7ff38 63.7px 66.06px,#b7ff48 66.06px 68.42px,#a7ff58 68.42px 70.78px,#97ff68 70.78px 73.14px,#87ff78 73.14px 75.5px,#78ff87 75.5px 77.86px,#68ff97 77.86px 80.22px,#58ffa7 80.22px 82.58px,#48ffb7 82.58px 84.94px,#38ffc7 84.94px 87.3px,#28ffd7 87.3px 89.66px,#18ffe7 89.66px 92.02px,#08fff7 92.02px 94.38px,#00f7ff 94.38px 96.73px,#00e7ff 96.73px 99.09px,#00d7ff 99.09px 101.45px,#00c7ff 101.45px 103.81px,#00b7ff 103.81px 106.17px,#00a7ff 106.17px 108.53px,#0097ff 108.53px 110.89px,#0087ff 110.89px 113.25px,#0078ff 113.25px 115.61px,#0068ff 115.61px 117.97px,#0058ff 117.97px 120.33px,#0048ff 120.33px 122.69px,#0038ff 122.69px 125.05px,#0028ff 125.05px 127.41px,#0018ff 127.41px 129.77px,#0008ff 129.77px 132.12px,#0000f7 132.12px 134.48px,#0000e7 134.48px 136.84px,#0000d7 136.84px 139.2px,#0000c7 139.2px 141.56px,#0000b7 141.56px 143.92px,#0000a7 143.92px 146.28px,#000097 146.28px 148.64px,#000087 148.64px 151.0px)"></div>
<div class="t tk" style="left:241.30px;top:151.69px">0.02</div>
<div class="t tk" style="left:241.30px;top:134.96px">0.04</div>
<div class="t tk" style="left:241.30px;top:118.23px">0.06</div>
<div class="t tk" style="left:241.30px;top:101.49px">0.08</div>
<div class="t tk" style="left:241.30px;top:84.76px">0.1</div>
<div class="t tk" style="left:241.30px;top:68.03px">0.12</div>
<div class="t tk" style="left:241.30px;top:51.30px">0.14</div>
<div class="t tk" style="left:241.30px;top:34.57px">0.16</div>
<div class="t tk" style="left:241.30px;top:17.84px">0.18</div>
</div>
<div class="pn" style="left:290.3px;top:0px">
<div class="t ttl" style="left:-10.70px;width:260px;text-align:center;top:3.01px">Average RMS error of wind direction, deg.</div>
<div class="plot">
<div class="c" style="left:0.0px;width:9.89px;background:linear-gradient(#78ff87 0.0px 1.0px,#ffe700 1.0px 2.1px,#ff6800 2.1px 3.1px,#e7ff18 3.1px 4.2px,#ff4800 4.2px 5.2px,#d7ff28 5.2px 6.3px,#ff5800 6.3px 7.3px,#f7ff08 7.3px 8.4px,#ff5800 8.4px 9.4px,#fff700 9.4px 10.5px,#87ff78 10.5px 11.5px,#c7ff38 11.5px 12.6px,#00b7ff 12.6px 13.6px,#b7ff48 13.6px 14.7px,#97ff68 14.7px 15.7px,#fff700 15.7px 16.8px,#0087ff 16.8px 17.8px,#e7ff18 17.8px 18.9px,#58ffa7 18.9px 19.9px,#e7ff18 19.9px 21.0px,#ff7800 21.0px 22.0px,#d7ff28 22.0px 23.1px,#78ff87 23.1px 24.1px,#a7ff58 24.1px 25.2px,#97ff68 25.2px 26.2px,#e7ff18 26.2px 27.3px,#0087ff 27.3px 28.3px,#ffd700 28.3px 29.4px,#ff6800 29.4px 30.4px,#f7ff08 30.4px 31.5px,#78ff87 31.5px 32.5px,#f7ff08 32.5px 33.6px,#58ffa7 33.6px 34.6px,#fff700 34.6px 35.7px,#a7ff58 35.7px 36.7px,#c7ff38 36.7px 37.8px,#ff6800 37.8px 38.8px,#c7ff38 38.8px 39.8px,#ff5800 39.8px 40.9px,#d7ff28 40.9px 41.9px,#0097ff 41.9px 43.0px,#c7ff38 43.0px 44.0px,#68ff97 44.0px 45.1px,#fff700 45.1px 46.1px,#0068ff 46.1px 47.2px,#d7ff28 47.2px 48.2px,#68ff97 48.2px 49.3px,#e7ff18 49.3px 50.3px,#68ff97 50.3px 51.4px,#c7ff38 51.4px 52.4px,#ff6800 52.4px 53.5px,#fff700 53.5px 54.5px,#c7ff38 54.5px 55.6px,#d7ff28 55.6px 56.6px,#58ffa7 56.6px 57.7px,#c7ff38 57.7px 58.7px,#0048ff 58.7px 59.8px,#e7ff18 59.8px 60.8px,#00b7ff 60.8px 61.9px,#e7ff18 61.9px 62.9px,#ff6800 62.9px 64.0px,#f7ff08 64.0px 65.0px,#0068ff 65.0px 66.1px,#d7ff28 66.1px 67.1px,#0068ff 67.1px 68.2px,#f7ff08 68.2px 69.2px,#ff7800 69.2px 70.3px,#d7ff28 70.3px 71.3px,#78ff87 71.3px 72.4px,#c7ff38 72.4px 73.4px,#87ff78 73.4px 74.5px,#f7ff08 74.5px 75.5px,#97ff68 75.5px 76.5px,#ffe700 76.5px 77.6px,#ff3800 77.6px 78.6px,#f7ff08 78.6px 79.7px,#78ff87 79.7px 80.7px,#d7ff28 80.7px 81.8px,#0097ff 81.8px 82.8px,#e7ff18 82.8px 83.9px,#68ff97 83.9px 84.9px,#a7ff58 84.9px 86.0px,#0078ff 86.0px 87.0px,#fff700 87.0px 88.1px,#87ff78 88.1px 89.1px,#e7ff18 89.1px 90.2px,#68ff97 90.2px 91.2px,#f7ff08 91.2px 92.3px,#ff5800 92.3px 93.3px,#fff700 93.3px 94.4px,#58ffa7 94.4px 95.4px,#e7ff18 95.4px 96.5px,#ff3800 96.5px 97.5px,#d7ff28 97.5px 98.6px,#ff9700 98.6px 99.6px,#fff700 99.6px 100.7px,#68ff97 100.7px 101.7px,#ffd700 101.7px 102.8px,#0058ff 102.8px 103.8px,#a7ff58 103.8px 104.9px,#68ff97 104.9px 105.9px,#c7ff38 105.9px 107.0px,#ff5800 107.0px 108.0px,#a7ff58 108.0px 109.1px,#ff3800 109.1px 110.1px,#e7ff18 110.1px 111.2px,#0097ff 111.2px 112.2px,#e7ff18 112.2px 113.2px,#a7ff58 113.2px 114.3px,#b7ff48 114.3px 115.3px,#0097ff 115.3px 116.4px,#a7ff58 116.4px 117.4px,#97ff68 117.4px 118.5px,#a7ff58 118.5px 119.5px,#68ff97 119.5px 120.6px,#ffc700 120.6px 121.6px,#97ff68 121.6px 122.7px,#f7ff08 122.7px 123.7px,#87ff78 123.7px 124.8px,#b7ff48 124.8px 125.8px,#ff5800 125.8px 126.9px,#e7ff18 126.9px 127.9px,#68ff97 127.9px 129.0px,#a7ff58 129.0px 130.0px,#97ff68 130.0px 131.1px,#f7ff08 131.1px 132.1px,#78ff87 132.1px 133.2px,#c7ff38 133.2px 134.2px,#ff4800 134.2px 135.3px,#c7ff38 135.3px 136.3px,#ff8700 136.3px 137.4px,#b7ff48 137.4px 138.4px,#68ff97 138.4px 139.5px,#b7ff48 139.5px 140.5px,#68ff97 140.5px 141.6px,#d7ff28 141.6px 142.6px,#a7ff58 142.6px 143.7px,#d7ff28 143.7px 144.7px,#68ff97 144.7px 145.8px,#f7ff08 145.8px 146.8px,#97ff68 146.8px 148.9px,#78ff87 148.9px 150.0px,#c7ff38 150.0px 151.0px)"></div>
<div class="c" style="left:9.39px;width:9.89px;background:linear-gradient(#c7ff38 0.0px 1.0px,#870000 1.0px 2.1px,#d7ff28 2.1px 3.1px,#c70000 3.1px 4.2px,#78ff87 4.2px 5.2px,#0068ff 5.2px 6.3px,#c7ff38 6.3px 7.3px,#e70000 7.3px 8.4px,#d7ff28 8.4px 9.4px,#d70000 9.4px 10.5px,#e7ff18 10.5px 11.5px,#0048ff 11.5px 12.6px,#c7ff38 12.6px 13.6px,#0028ff 13.6px 14.7px,#78ff87 14.7px 15.7px,#870000 15.7px 16.8px,#b7ff48 16.8px 17.8px,#f70000 17.8px 18.9px,#97ff68 18.9px 19.9px,#0038ff 19.9px 21.0px,#c7ff38 21.0px 22.0px,#ff0800 22.0px 23.1px,#c7ff38 23.1px 24.1px,#c70000 24.1px 25.2px,#b7ff48 25.2px 26.2px,#0048ff 26.2px 27.3px,#a7ff58 27.3px 28.3px,#ff0800 28.3px 29.4px,#b7ff48 29.4px 30.4px,#c70000 30.4px 31.5px,#d7ff28 31.5px 32.5px,#c70000 32.5px 33.6px,#87ff78 33.6px 34.6px,#0028ff 34.6px 35.7px,#d7ff28 35.7px 36.7px,#c70000 36.7px 37.8px,#b7ff48 37.8px 38.8px,#0048ff 38.8px 39.8px,#b7ff48 39.8px 40.9px,#f70000 40.9px 41.9px,#78ff87 41.9px 43.0px,#0048ff 43.0px 44.0px,#c7ff38 44.0px 45.1px,#0048ff 45.1px 46.1px,#d7ff28 46.1px 47.2px,#c70000 47.2px 48.2px,#a7ff58 48.2px 49.3px,#b70000 49.3px 50.3px,#97ff68 50.3px 51.4px,#0087ff 51.4px 52.4px,#b7ff48 52.4px 53.5px,#b70000 53.5px 54.5px,#a7ff58 54.5px 55.6px,#0087ff 55.6px 56.6px,#97ff68 56.6px 57.7px,#f70000 57.7px 58.7px,#d7ff28 58.7px 59.8px,#f70000 59.8px 60.8px,#b7ff48 60.8px 61.9px,#c70000 61.9px 62.9px,#97ff68 62.9px 64.0px,#d70000 64.0px 65.0px,#68ff97 65.0px 66.1px,#b70000 66.1px 67.1px,#b7ff48 67.1px 68.2px,#e70000 68.2px 69.2px,#d7ff28 69.2px 70.3px,#c70000 70.3px 71.3px,#97ff68 71.3px 72.4px,#f70000 72.4px 73.4px,#b7ff48 73.4px 74.5px,#0038ff 74.5px 75.5px,#a7ff58 75.5px 76.5px,#d70000 76.5px 77.6px,#d7ff28 77.6px 78.6px,#a70000 78.6px 79.7px,#97ff68 79.7px 80.7px,#e70000 80.7px 81.8px,#a7ff58 81.8px 82.8px,#ff0800 82.8px 83.9px,#a7ff58 83.9px 84.9px,#0028ff 84.9px 86.0px,#a7ff58 86.0px 87.0px,#ff0800 87.0px 88.1px,#97ff68 88.1px 89.1px,#f70000 89.1px 90.2px,#c7ff38 90.2px 91.2px,#e70000 91.2px 92.3px,#b7ff48 92.3px 93.3px,#0058ff 93.3px 94.4px,#c7ff38 94.4px 95.4px,#d70000 95.4px 96.5px,#e7ff18 96.5px 97.5px,#00a7ff 97.5px 98.6px,#c7ff38 98.6px 99.6px,#0058ff 99.6px 100.7px,#97ff68 100.7px 101.7px,#c70000 101.7px 102.8px,#c7ff38 102.8px 103.8px,#b70000 103.8px 104.9px,#a7ff58 104.9px 105.9px,#e70000 105.9px 107.0px,#c7ff38 107.0px 108.0px,#0028ff 108.0px 109.1px,#97ff68 109.1px 110.1px,#0048ff 110.1px 111.2px,#68ff97 111.2px 112.2px,#c70000 112.2px 113.2px,#97ff68 113.2px 114.3px,#0078ff 114.3px 115.3px,#c7ff38 115.3px 116.4px,#d70000 116.4px 117.4px,#a7ff58 117.4px 118.5px,#0028ff 118.5px 119.5px,#a7ff58 119.5px 120.6px,#f70000 120.6px 121.6px,#c7ff38 121.6px 122.7px,#e70000 122.7px 123.7px,#b7ff48 123.7px 124.8px,#0028ff 124.8px 125.8px,#c7ff38 125.8px 126.9px,#e70000 126.9px 127.9px,#b7ff48 127.9px 129.0px,#0018ff 129.0px 130.0px,#b7ff48 130.0px 131.1px,#a70000 131.1px 132.1px,#b7ff48 132.1px 133.2px,#0068ff 133.2px 134.2px,#a7ff58 134.2px 135.3px,#e70000 135.3px 136.3px,#78ff87 136.3px 137.4px,#f70000 137.4px 138.4px,#b7ff48 138.4px 139.5px,#0087ff 139.5px 140.5px,#87ff78 140.5px 141.6px,#e70000 141.6px 142.6px,#97ff68 142.6px 143.7px,#e70000 143.7px 144.7px,#78ff87 144.7px 145.8px,#0048ff 145.8px 146.8px,#a7ff58 146.8px 147.9px,#0058ff 147.9px 148.9px,#e7ff18 148.9px 150.0px,#0048ff 150.0px 151.0px)"></div>
<div class="c" style="left:18.78px;width:9.89px;background:linear-gradient(#ffe700 0.0px 1.0px,#78ff87 1.0px 2.1px,#e7ff18 2.1px 3.1px,#48ffb7 3.1px 4.2px,#d7ff28 4.2px 5.2px,#68ff97 5.2px 6.3px,#d7ff28 6.3px 7.3px,#78ff87 7.3px 8.4px,#e7ff18 8.4px 9.4px,#78ff87 9.4px 10.5px,#f7ff08 10.5px 11.5px,#87ff78 11.5px 12.6px,#d7ff28 12.6px 13.6px,#58ffa7 13.6px 14.7px,#fff700 14.7px 15.7px,#a7ff58 15.7px 16.8px,#d7ff28 16.8px 17.8px,#97ff68 17.8px 18.9px,#b7ff48 18.9px 19.9px,#58ffa7 19.9px 21.0px,#d7ff28 21.0px 22.0px,#a7ff58 22.0px 23.1px,#c7ff38 23.1px 24.1px,#68ff97 24.1px 25.2px,#ffe700 25.2px 26.2px,#48ffb7 26.2px 27.3px,#f7ff08 27.3px 28.3px,#87ff78 28.3px 29.4px,#e7ff18 29.4px 30.4px,#87ff78 30.4px 31.5px,#ffc700 31.5px 32.5px,#58ffa7 32.5px 33.6px,#d7ff28 33.6px 34.6px,#78ff87 34.6px 35.7px,#d7ff28 35.7px 36.7px,#58ffa7 36.7px 37.8px,#ffe700 37.8px 38.8px,#87ff78 38.8px 39.8px,#b7ff48 39.8px 40.9px,#68ff97 40.9px 41.9px,#f7ff08 41.9px 43.0px,#87ff78 43.0px 44.0px,#b7ff48 44.0px 45.1px,#78ff87 45.1px 46.1px,#e7ff18 46.1px 47.2px,#87ff78 47.2px 48.2px,#f7ff08 48.2px 49.3px,#48ffb7 49.3px 50.3px,#ffe700 50.3px 51.4px,#87ff78 51.4px 52.4px,#ffe700 52.4px 53.5px,#d7ff28 53.5px 54.5px,#e7ff18 54.5px 55.6px,#58ffa7 55.6px 56.6px,#fff700 56.6px 57.7px,#78ff87 57.7px 58.7px,#d7ff28 58.7px 59.8px,#68ff97 59.8px 60.8px,#ffe700 60.8px 61.9px,#78ff87 61.9px 62.9px,#b7ff48 62.9px 64.0px,#78ff87 64.0px 65.0px,#c7ff38 65.0px 66.1px,#87ff78 66.1px 67.1px,#d7ff28 67.1px 68.2px,#58ffa7 68.2px 69.2px,#f7ff08 69.2px 70.3px,#68ff97 70.3px 71.3px,#f7ff08 71.3px 72.4px,#a7ff58 72.4px 73.4px,#d7ff28 73.4px 74.5px,#68ff97 74.5px 75.5px,#e7ff18 75.5px 76.5px,#97ff68 76.5px 77.6px,#e7ff18 77.6px 78.6px,#87ff78 78.6px 79.7px,#e7ff18 79.7px 80.7px,#87ff78 80.7px 81.8px,#f7ff08 81.8px 82.8px,#68ff97 82.8px 83.9px,#d7ff28 83.9px 84.9px,#87ff78 84.9px 86.0px,#d7ff28 86.0px 87.0px,#87ff78 87.0px 88.1px,#f7ff08 88.1px 89.1px,#78ff87 89.1px 90.2px,#d7ff28 90.2px 91.2px,#68ff97 91.2px 92.3px,#ffe700 92.3px 93.3px,#97ff68 93.3px 94.4px,#c7ff38 94.4px 95.4px,#68ff97 95.4px 96.5px,#ffe700 96.5px 97.5px,#a7ff58 97.5px 98.6px,#e7ff18 98.6px 99.6px,#a7ff58 99.6px 100.7px,#b7ff48 100.7px 101.7px,#87ff78 101.7px 102.8px,#f7ff08 102.8px 103.8px,#48ffb7 103.8px 104.9px,#c7ff38 104.9px 105.9px,#97ff68 105.9px 107.0px,#fff700 107.0px 108.0px,#68ff97 108.0px 109.1px,#e7ff18 109.1px 110.1px,#b7ff48 110.1px 111.2px,#d7ff28 111.2px 112.2px,#58ffa7 112.2px 113.2px,#e7ff18 113.2px 114.3px,#78ff87 114.3px 115.3px,#fff700 115.3px 116.4px,#87ff78 116.4px 117.4px,#c7ff38 117.4px 119.5px,#d7ff28 119.5px 120.6px,#87ff78 120.6px 121.6px,#f7ff08 121.6px 122.7px,#97ff68 122.7px 123.7px,#e7ff18 123.7px 124.8px,#97ff68 124.8px 125.8px,#e7ff18 125.8px 126.9px,#58ffa7 126.9px 127.9px,#d7ff28 127.9px 129.0px,#78ff87 129.0px 130.0px,#e7ff18 130.0px 131.1px,#87ff78 131.1px 132.1px,#d7ff28 132.1px 133.2px,#a7ff58 133.2px 134.2px,#ffe700 134.2px 135.3px,#38ffc7 135.3px 136.3px,#e7ff18 136.3px 137.4px,#68ff97 137.4px 138.4px,#97ff68 138.4px 139.5px,#87ff78 139.5px 140.5px,#d7ff28 140.5px 141.6px,#78ff87 141.6px 142.6px,#d7ff28 142.6px 143.7px,#a7ff58 143.7px 144.7px,#fff700 144.7px 145.8px,#87ff78 145.8px 146.8px,#f7ff08 146.8px 147.9px,#78ff87 147.9px 148.9px,#e7ff18 148.9px 150.0px,#68ff97 150.0px 151.0px)"></div>
<div class="c" style="left:28.17px;width:9.89px;background:linear-gradient(#00f7ff 0.0px 1.0px,#0058ff 1.0px 2.1px,#00f7ff 2.1px 3.1px,#0087ff 3.1px 4.2px,#00f7ff 4.2px 5.2px,#0097ff 5.2px 6.3px,#48ffb7 6.3px 7.3px,#0038ff 7.3px 8.4px,#00f7ff 8.4px 9.4px,#0068ff 9.4px 10.5px,#00e7ff 10.5px 11.5px,#0048ff 11.5px 12.6px,#00f7ff 12.6px 13.6px,#0068ff 13.6px 14.7px,#00d7ff 14.7px 15.7px,#0068ff 15.7px 16.8px,#00d7ff 16.8px 17.8px,#0028ff 17.8px 18.9px,#18ffe7 18.9px 19.9px,#0068ff 19.9px 21.0px,#00d7ff 21.0px 22.0px,#0078ff 22.0px 23.1px,#00d7ff 23.1px 24.1px,#0038ff 24.1px 25.2px,#08fff7 25.2px 26.2px,#0048ff 26.2px 27.3px,#00e7ff 27.3px 28.3px,#0078ff 28.3px 29.4px,#18ffe7 29.4px 30.4px,#0097ff 30.4px 31.5px,#00f7ff 31.5px 32.5px,#0058ff 32.5px 33.6px,#00e7ff 33.6px 34.6px,#0097ff 34.6px 35.7px,#28ffd7 35.7px 36.7px,#0087ff 36.7px 37.8px,#00d7ff 37.8px 38.8px,#0097ff 38.8px 39.8px,#00e7ff 39.8px 40.9px,#0068ff 40.9px 41.9px,#00e7ff 41.9px 43.0px,#0087ff 43.0px 44.0px,#00f7ff 44.0px 45.1px,#0097ff 45.1px 46.1px,#18ffe7 46.1px 47.2px,#0087ff 47.2px 48.2px,#00a7ff 48.2px 49.3px,#0048ff 49.3px 50.3px,#00f7ff 50.3px 51.4px,#0078ff 51.4px 52.4px,#38ffc7 52.4px 53.5px,#0078ff 53.5px 54.5px,#00e7ff 54.5px 55.6px,#0097ff 55.6px 56.6px,#18ffe7 56.6px 57.7px,#0068ff 57.7px 58.7px,#00f7ff 58.7px 59.8px,#0058ff 59.8px 60.8px,#00d7ff 60.8px 61.9px,#0097ff 61.9px 62.9px,#00c7ff 62.9px 64.0px,#0097ff 64.0px 65.0px,#08fff7 65.0px 66.1px,#0087ff 66.1px 67.1px,#08fff7 67.1px 68.2px,#0087ff 68.2px 69.2px,#00a7ff 69.2px 70.3px,#0058ff 70.3px 71.3px,#00d7ff 71.3px 72.4px,#0097ff 72.4px 73.4px,#00c7ff 73.4px 74.5px,#0068ff 74.5px 75.5px,#00e7ff 75.5px 76.5px,#0097ff 76.5px 77.6px,#00c7ff 77.6px 78.6px,#0048ff 78.6px 79.7px,#08fff7 79.7px 80.7px,#0038ff 80.7px 81.8px,#00f7ff 81.8px 82.8px,#0068ff 82.8px 83.9px,#00c7ff 83.9px 84.9px,#0068ff 84.9px 86.0px,#00d7ff 86.0px 87.0px,#0078ff 87.0px 88.1px,#00f7ff 88.1px 89.1px,#00a7ff 89.1px 90.2px,#00f7ff 90.2px 91.2px,#0078ff 91.2px 92.3px,#00d7ff 92.3px 93.3px,#0078ff 93.3px 94.4px,#18ffe7 94.4px 95.4px,#0038ff 95.4px 96.5px,#08fff7 96.5px 97.5px,#0068ff 97.5px 98.6px,#00f7ff 98.6px 99.6px,#0078ff 99.6px 100.7px,#08fff7 100.7px 101.7px,#0078ff 101.7px 102.8px,#00e7ff 102.8px 103.8px,#0078ff 103.8px 104.9px,#00f7ff 104.9px 105.9px,#0068ff 105.9px 107.0px,#00f7ff 107.0px 108.0px,#0097ff 108.0px 109.1px,#00f7ff 109.1px 110.1px,#0078ff 110.1px 111.2px,#00c7ff 111.2px 112.2px,#0078ff 112.2px 113.2px,#00b7ff 113.2px 114.3px,#0087ff 114.3px 115.3px,#00d7ff 115.3px 116.4px,#0097ff 116.4px 117.4px,#48ffb7 117.4px 118.5px,#0068ff 118.5px 119.5px,#18ffe7 119.5px 120.6px,#0087ff 120.6px 121.6px,#00d7ff 121.6px 122.7px,#0058ff 122.7px 123.7px,#08fff7 123.7px 124.8px,#00a7ff 124.8px 125.8px,#00f7ff 125.8px 126.9px,#0048ff 126.9px 127.9px,#00d7ff 127.9px 129.0px,#0068ff 129.0px 130.0px,#18ffe7 130.0px 131.1px,#0078ff 131.1px 132.1px,#00f7ff 132.1px 133.2px,#0097ff 133.2px 134.2px,#00e7ff 134.2px 135.3px,#0078ff 135.3px 136.3px,#00e7ff 136.3px 137.4px,#0038ff 137.4px 138.4px,#00f7ff 138.4px 139.5px,#0087ff 139.5px 140.5px,#08fff7 140.5px 141.6px,#0058ff 141.6px 142.6px,#00d7ff 142.6px 143.7px,#0097ff 143.7px 144.7px,#00f7ff 144.7px 145.8px,#00a7ff 145.8px 146.8px,#00d7ff 146.8px 147.9px,#0078ff 147.9px 148.9px,#00d7ff 148.9px 150.0px,#0078ff 150.0px 151.0px)"></div>
<div class="c" style="left:37.56px;width:9.89px;background:linear-gradient(#48ffb7 0.0px 1.0px,#78ff87 1.0px 2.1px,#48ffb7 2.1px 3.1px,#38ffc7 3.1px 4.2px,#48ffb7 4.2px 5.2px,#68ff97 5.2px 6.3px,#28ffd7 6.3px 7.3px,#48ffb7 7.3px 8.4px,#38ffc7 8.4px 9.4px,#68ff97 9.4px 10.5px,#28ffd7 10.5px 11.5px,#48ffb7 11.5px 12.6px,#38ffc7 12.6px 13.6px,#68ff97 13.6px 15.7px,#48ffb7 15.7px 16.8px,#68ff97 16.8px 17.8px,#87ff78 17.8px 18.9px,#38ffc7 18.9px 19.9px,#87ff78 19.9px 21.0px,#38ffc7 21.0px 22.0px,#78ff87 22.0px 23.1px,#28ffd7 23.1px 24.1px,#68ff97 24.1px 25.2px,#28ffd7 25.2px 26.2px,#48ffb7 26.2px 27.3px,#38ffc7 27.3px 28.3px,#58ffa7 28.3px 29.4px,#48ffb7 29.4px 30.4px,#78ff87 30.4px 31.5px,#38ffc7 31.5px 32.5px,#68ff97 32.5px 33.6px,#38ffc7 33.6px 36.7px,#68ff97 36.7px 37.8px,#38ffc7 37.8px 38.8px,#48ffb7 38.8px 39.8px,#08fff7 39.8px 40.9px,#58ffa7 40.9px 41.9px,#38ffc7 41.9px 43.0px,#78ff87 43.0px 44.0px,#48ffb7 44.0px 45.1px,#78ff87 45.1px 46.1px,#38ffc7 46.1px 47.2px,#78ff87 47.2px 48.2px,#38ffc7 48.2px 49.3px,#68ff97 49.3px 50.3px,#48ffb7 50.3px 51.4px,#97ff68 51.4px 52.4px,#38ffc7 52.4px 53.5px,#48ffb7 53.5px 54.5px,#58ffa7 54.5px 56.6px,#38ffc7 56.6px 57.7px,#58ffa7 57.7px 58.7px,#28ffd7 58.7px 59.8px,#78ff87 59.8px 60.8px,#48ffb7 60.8px 61.9px,#58ffa7 61.9px 62.9px,#38ffc7 62.9px 64.0px,#58ffa7 64.0px 65.0px,#48ffb7 65.0px 66.1px,#58ffa7 66.1px 67.1px,#28ffd7 67.1px 68.2px,#58ffa7 68.2px 69.2px,#28ffd7 69.2px 70.3px,#68ff97 70.3px 71.3px,#28ffd7 71.3px 72.4px,#58ffa7 72.4px 73.4px,#48ffb7 73.4px 74.5px,#97ff68 74.5px 75.5px,#48ffb7 75.5px 76.5px,#28ffd7 76.5px 78.6px,#58ffa7 78.6px 79.7px,#38ffc7 79.7px 80.7px,#87ff78 80.7px 81.8px,#48ffb7 81.8px 82.8px,#38ffc7 82.8px 84.9px,#68ff97 84.9px 86.0px,#48ffb7 86.0px 87.0px,#78ff87 87.0px 88.1px,#28ffd7 88.1px 89.1px,#78ff87 89.1px 90.2px,#18ffe7 90.2px 91.2px,#68ff97 91.2px 92.3px,#48ffb7 92.3px 93.3px,#97ff68 93.3px 94.4px,#28ffd7 94.4px 95.4px,#38ffc7 95.4px 96.5px,#48ffb7 96.5px 97.5px,#58ffa7 97.5px 100.7px,#28ffd7 100.7px 101.7px,#78ff87 101.7px 102.8px,#38ffc7 102.8px 103.8px,#78ff87 103.8px 104.9px,#18ffe7 104.9px 105.9px,#87ff78 105.9px 107.0px,#28ffd7 107.0px 108.0px,#78ff87 108.0px 109.1px,#28ffd7 109.1px 110.1px,#48ffb7 110.1px 111.2px,#38ffc7 111.2px 112.2px,#68ff97 112.2px 113.2px,#58ffa7 113.2px 114.3px,#68ff97 114.3px 115.3px,#48ffb7 115.3px 116.4px,#68ff97 116.4px 117.4px,#78ff87 117.4px 118.5px,#58ffa7 118.5px 121.6px,#38ffc7 121.6px 122.7px,#58ffa7 122.7px 124.8px,#48ffb7 124.8px 125.8px,#18ffe7 125.8px 126.9px,#58ffa7 126.9px 127.9px,#28ffd7 127.9px 129.0px,#68ff97 129.0px 130.0px,#48ffb7 130.0px 131.1px,#58ffa7 131.1px 132.1px,#48ffb7 132.1px 133.2px,#58ffa7 133.2px 134.2px,#38ffc7 134.2px 135.3px,#68ff97 135.3px 136.3px,#58ffa7 136.3px 137.4px,#68ff97 137.4px 138.4px,#28ffd7 138.4px 139.5px,#48ffb7 139.5px 140.5px,#58ffa7 140.5px 141.6px,#38ffc7 141.6px 142.6px,#28ffd7 142.6px 143.7px,#58ffa7 143.7px 144.7px,#08fff7 144.7px 145.8px,#58ffa7 145.8px 146.8px,#48ffb7 146.8px 147.9px,#68ff97 147.9px 148.9px,#28ffd7 148.9px 150.0px,#68ff97 150.0px 151.0px)"></div>
<div class="c" style="left:46.94px;width:9.89px;background:linear-gradient(#0078ff 0.0px 1.0px,#38ffc7 1.0px 2.1px,#0058ff 2.1px 3.1px,#00e7ff 3.1px 4.2px,#0068ff 4.2px 5.2px,#00f7ff 5.2px 6.3px,#0068ff 6.3px 7.3px,#00f7ff 7.3px 8.4px,#0058ff 8.4px 9.4px,#00c7ff 9.4px 10.5px,#0058ff 10.5px 11.5px,#00d7ff 11.5px 12.6px,#0048ff 12.6px 13.6px,#00e7ff 13.6px 14.7px,#0078ff 14.7px 15.7px,#18ffe7 15.7px 16.8px,#0048ff 16.8px 17.8px,#08fff7 17.8px 18.9px,#0087ff 18.9px 19.9px,#00f7ff 19.9px 21.0px,#0038ff 21.0px 22.0px,#00b7ff 22.0px 23.1px,#0087ff 23.1px 24.1px,#18ffe7 24.1px 25.2px,#0078ff 25.2px 26.2px,#00d7ff 26.2px 27.3px,#0097ff 27.3px 28.3px,#18ffe7 28.3px 29.4px,#0068ff 29.4px 30.4px,#00f7ff 30.4px 31.5px,#0028ff 31.5px 32.5px,#18ffe7 32.5px 33.6px,#0038ff 33.6px 34.6px,#08fff7 34.6px 35.7px,#0087ff 35.7px 36.7px,#00f7ff 36.7px 37.8px,#0097ff 37.8px 38.8px,#00f7ff 38.8px 39.8px,#0078ff 39.8px 40.9px,#18ffe7 40.9px 41.9px,#0078ff 41.9px 43.0px,#00e7ff 43.0px 44.0px,#0097ff 44.0px 45.1px,#08fff7 45.1px 46.1px,#0068ff 46.1px 47.2px,#00f7ff 47.2px 48.2px,#0068ff 48.2px 49.3px,#48ffb7 49.3px 50.3px,#0068ff 50.3px 51.4px,#00f7ff 51.4px 52.4px,#0048ff 52.4px 53.5px,#00d7ff 53.5px 54.5px,#0038ff 54.5px 55.6px,#08fff7 55.6px 56.6px,#0068ff 56.6px 57.7px,#00d7ff 57.7px 58.7px,#0038ff 58.7px 59.8px,#00f7ff 59.8px 60.8px,#0058ff 60.8px 61.9px,#00d7ff 61.9px 62.9px,#0078ff 62.9px 64.0px,#00f7ff 64.0px 65.0px,#0068ff 65.0px 66.1px,#18ffe7 66.1px 67.1px,#0058ff 67.1px 68.2px,#28ffd7 68.2px 69.2px,#0048ff 69.2px 70.3px,#08fff7 70.3px 71.3px,#0078ff 71.3px 72.4px,#00f7ff 72.4px 73.4px,#0078ff 73.4px 74.5px,#00d7ff 74.5px 75.5px,#0038ff 75.5px 76.5px,#00f7ff 76.5px 77.6px,#0058ff 77.6px 78.6px,#08fff7 78.6px 79.7px,#0068ff 79.7px 80.7px,#08fff7 80.7px 81.8px,#0078ff 81.8px 82.8px,#08fff7 82.8px 83.9px,#0068ff 83.9px 84.9px,#00e7ff 84.9px 86.0px,#0058ff 86.0px 87.0px,#38ffc7 87.0px 88.1px,#0038ff 88.1px 89.1px,#00f7ff 89.1px 90.2px,#0087ff 90.2px 91.2px,#08fff7 91.2px 92.3px,#0097ff 92.3px 93.3px,#08fff7 93.3px 94.4px,#0048ff 94.4px 95.4px,#00e7ff 95.4px 96.5px,#0038ff 96.5px 97.5px,#18ffe7 97.5px 98.6px,#0097ff 98.6px 99.6px,#00e7ff 99.6px 100.7px,#0078ff 100.7px 101.7px,#00e7ff 101.7px 102.8px,#0038ff 102.8px 103.8px,#00e7ff 103.8px 104.9px,#0038ff 104.9px 105.9px,#00e7ff 105.9px 107.0px,#0078ff 107.0px 108.0px,#08fff7 108.0px 109.1px,#0097ff 109.1px 110.1px,#00e7ff 110.1px 111.2px,#0078ff 111.2px 112.2px,#08fff7 112.2px 113.2px,#0078ff 113.2px 114.3px,#00a7ff 114.3px 115.3px,#0058ff 115.3px 116.4px,#18ffe7 116.4px 117.4px,#0048ff 117.4px 118.5px,#08fff7 118.5px 119.5px,#0087ff 119.5px 120.6px,#00b7ff 120.6px 121.6px,#0068ff 121.6px 122.7px,#08fff7 122.7px 123.7px,#0068ff 123.7px 124.8px,#00c7ff 124.8px 125.8px,#0078ff 125.8px 126.9px,#00e7ff 126.9px 127.9px,#0087ff 127.9px 129.0px,#08fff7 129.0px 130.0px,#0058ff 130.0px 131.1px,#00f7ff 131.1px 132.1px,#0058ff 132.1px 133.2px,#00e7ff 133.2px 134.2px,#0038ff 134.2px 135.3px,#00f7ff 135.3px 136.3px,#0087ff 136.3px 137.4px,#00f7ff 137.4px 138.4px,#0068ff 138.4px 139.5px,#00e7ff 139.5px 140.5px,#0058ff 140.5px 141.6px,#08fff7 141.6px 142.6px,#0038ff 142.6px 143.7px,#38ffc7 143.7px 144.7px,#0068ff 144.7px 145.8px,#38ffc7 145.8px 146.8px,#0087ff 146.8px 147.9px,#00e7ff 147.9px 148.9px,#0078ff 148.9px 150.0px,#00f7ff 150.0px 151.0px)"></div>
<div class="c" style="left:56.33px;width:9.89px;background:linear-gradient(#48ffb7 0.0px 1.0px,#00b7ff 1.0px 2.1px,#18ffe7 2.1px 3.1px,#00b7ff 3.1px 4.2px,#08fff7 4.2px 5.2px,#00b7ff 5.2px 6.3px,#38ffc7 6.3px 7.3px,#00c7ff 7.3px 8.4px,#38ffc7 8.4px 9.4px,#00b7ff 9.4px 10.5px,#48ffb7 10.5px 11.5px,#0087ff 11.5px 12.6px,#18ffe7 12.6px 13.6px,#00b7ff 13.6px 14.7px,#48ffb7 14.7px 15.7px,#00d7ff 15.7px 16.8px,#48ffb7 16.8px 17.8px,#00c7ff 17.8px 18.9px,#48ffb7 18.9px 19.9px,#00a7ff 19.9px 21.0px,#28ffd7 21.0px 22.0px,#0087ff 22.0px 23.1px,#58ffa7 23.1px 24.1px,#00f7ff 24.1px 25.2px,#18ffe7 25.2px 26.2px,#00a7ff 26.2px 27.3px,#00e7ff 27.3px 28.3px,#0097ff 28.3px 29.4px,#28ffd7 29.4px 30.4px,#00b7ff 30.4px 31.5px,#00f7ff 31.5px 32.5px,#00b7ff 32.5px 33.6px,#18ffe7 33.6px 34.6px,#00d7ff 34.6px 35.7px,#38ffc7 35.7px 36.7px,#00b7ff 36.7px 37.8px,#28ffd7 37.8px 38.8px,#00c7ff 38.8px 39.8px,#00e7ff 39.8px 40.9px,#00c7ff 40.9px 41.9px,#28ffd7 41.9px 43.0px,#00d7ff 43.0px 44.0px,#00f7ff 44.0px 45.1px,#00d7ff 45.1px 46.1px,#18ffe7 46.1px 47.2px,#00c7ff 47.2px 48.2px,#48ffb7 48.2px 49.3px,#0097ff 49.3px 50.3px,#08fff7 50.3px 51.4px,#00e7ff 51.4px 52.4px,#08fff7 52.4px 53.5px,#00a7ff 53.5px 54.5px,#38ffc7 54.5px 55.6px,#00b7ff 55.6px 56.6px,#48ffb7 56.6px 57.7px,#00c7ff 57.7px 58.7px,#28ffd7 58.7px 59.8px,#00e7ff 59.8px 60.8px,#68ff97 60.8px 61.9px,#00c7ff 61.9px 62.9px,#58ffa7 62.9px 64.0px,#00e7ff 64.0px 65.0px,#28ffd7 65.0px 66.1px,#00d7ff 66.1px 67.1px,#08fff7 67.1px 68.2px,#00b7ff 68.2px 69.2px,#38ffc7 69.2px 70.3px,#00c7ff 70.3px 71.3px,#58ffa7 71.3px 72.4px,#0097ff 72.4px 73.4px,#28ffd7 73.4px 74.5px,#00a7ff 74.5px 75.5px,#28ffd7 75.5px 76.5px,#00e7ff 76.5px 77.6px,#08fff7 77.6px 78.6px,#00d7ff 78.6px 79.7px,#18ffe7 79.7px 80.7px,#00b7ff 80.7px 81.8px,#48ffb7 81.8px 82.8px,#00b7ff 82.8px 83.9px,#38ffc7 83.9px 84.9px,#00c7ff 84.9px 86.0px,#28ffd7 86.0px 87.0px,#00b7ff 87.0px 88.1px,#00f7ff 88.1px 89.1px,#00a7ff 89.1px 90.2px,#28ffd7 90.2px 91.2px,#00c7ff 91.2px 92.3px,#00f7ff 92.3px 93.3px,#00e7ff 93.3px 94.4px,#38ffc7 94.4px 95.4px,#0097ff 95.4px 96.5px,#08fff7 96.5px 97.5px,#00d7ff 97.5px 98.6px,#00f7ff 98.6px 99.6px,#00a7ff 99.6px 100.7px,#28ffd7 100.7px 101.7px,#00c7ff 101.7px 102.8px,#28ffd7 102.8px 103.8px,#00d7ff 103.8px 104.9px,#18ffe7 104.9px 105.9px,#00b7ff 105.9px 107.0px,#68ff97 107.0px 108.0px,#0097ff 108.0px 109.1px,#18ffe7 109.1px 110.1px,#00c7ff 110.1px 111.2px,#18ffe7 111.2px 112.2px,#00e7ff 112.2px 113.2px,#28ffd7 113.2px 114.3px,#00d7ff 114.3px 116.4px,#00e7ff 116.4px 117.4px,#48ffb7 117.4px 118.5px,#00a7ff 118.5px 119.5px,#58ffa7 119.5px 120.6px,#00c7ff 120.6px 121.6px,#48ffb7 121.6px 122.7px,#00f7ff 122.7px 123.7px,#28ffd7 123.7px 124.8px,#00a7ff 124.8px 125.8px,#28ffd7 125.8px 126.9px,#0097ff 126.9px 127.9px,#18ffe7 127.9px 129.0px,#00a7ff 129.0px 130.0px,#18ffe7 130.0px 131.1px,#00e7ff 131.1px 132.1px,#48ffb7 132.1px 133.2px,#00a7ff 133.2px 134.2px,#48ffb7 134.2px 135.3px,#0097ff 135.3px 136.3px,#18ffe7 136.3px 137.4px,#00c7ff 137.4px 138.4px,#58ffa7 138.4px 139.5px,#00d7ff 139.5px 140.5px,#38ffc7 140.5px 141.6px,#00e7ff 141.6px 142.6px,#48ffb7 142.6px 143.7px,#00e7ff 143.7px 144.7px,#18ffe7 144.7px 145.8px,#0097ff 145.8px 146.8px,#18ffe7 146.8px 147.9px,#00d7ff 147.9px 148.9px,#38ffc7 148.9px 150.0px,#00e7ff 150.0px 151.0px)"></div>
<div class="c" style="left:65.72px;width:9.89px;background:linear-gradient(#00c7ff 0.0px 1.0px,#08fff7 1.0px 2.1px,#00c7ff 2.1px 3.1px,#00f7ff 3.1px 4.2px,#00c7ff 4.2px 5.2px,#00e7ff 5.2px 6.3px,#00a7ff 6.3px 7.3px,#00e7ff 7.3px 8.4px,#00b7ff 8.4px 9.4px,#00e7ff 9.4px 10.5px,#00c7ff 10.5px 11.5px,#00e7ff 11.5px 12.6px,#00b7ff 12.6px 13.6px,#08fff7 13.6px 14.7px,#0097ff 14.7px 15.7px,#18ffe7 15.7px 16.8px,#00a7ff 16.8px 17.8px,#28ffd7 17.8px 18.9px,#0097ff 18.9px 19.9px,#00f7ff 19.9px 21.0px,#0087ff 21.0px 22.0px,#08fff7 22.0px 23.1px,#00c7ff 23.1px 24.1px,#08fff7 24.1px 25.2px,#00a7ff 25.2px 26.2px,#00f7ff 26.2px 27.3px,#00e7ff 27.3px 28.3px,#18ffe7 28.3px 29.4px,#0087ff 29.4px 30.4px,#00f7ff 30.4px 31.5px,#0078ff 31.5px 32.5px,#28ffd7 32.5px 33.6px,#00d7ff 33.6px 34.6px,#28ffd7 34.6px 35.7px,#00b7ff 35.7px 36.7px,#00f7ff 36.7px 37.8px,#0097ff 37.8px 38.8px,#08fff7 38.8px 39.8px,#00a7ff 39.8px 40.9px,#00f7ff 40.9px 41.9px,#00a7ff 41.9px 43.0px,#00f7ff 43.0px 44.0px,#00c7ff 44.0px 45.1px,#28ffd7 45.1px 46.1px,#00b7ff 46.1px 47.2px,#08fff7 47.2px 48.2px,#0097ff 48.2px 49.3px,#00e7ff 49.3px 50.3px,#0097ff 50.3px 51.4px,#18ffe7 51.4px 52.4px,#00b7ff 52.4px 53.5px,#18ffe7 53.5px 54.5px,#00b7ff 54.5px 55.6px,#00f7ff 55.6px 56.6px,#0097ff 56.6px 57.7px,#00f7ff 57.7px 58.7px,#0097ff 58.7px 59.8px,#28ffd7 59.8px 60.8px,#00b7ff 60.8px 61.9px,#00f7ff 61.9px 62.9px,#00d7ff 62.9px 64.0px,#00f7ff 64.0px 65.0px,#00b7ff 65.0px 66.1px,#08fff7 66.1px 67.1px,#00b7ff 67.1px 68.2px,#00f7ff 68.2px 69.2px,#00b7ff 69.2px 70.3px,#28ffd7 70.3px 71.3px,#0097ff 71.3px 72.4px,#00d7ff 72.4px 73.4px,#00c7ff 73.4px 74.5px,#08fff7 74.5px 75.5px,#00c7ff 75.5px 76.5px,#00f7ff 76.5px 77.6px,#00d7ff 77.6px 78.6px,#28ffd7 78.6px 79.7px,#0097ff 79.7px 80.7px,#18ffe7 80.7px 81.8px,#00a7ff 81.8px 82.8px,#00e7ff 82.8px 83.9px,#00a7ff 83.9px 84.9px,#08fff7 84.9px 86.0px,#0097ff 86.0px 87.0px,#00e7ff 87.0px 88.1px,#00c7ff 88.1px 89.1px,#08fff7 89.1px 90.2px,#00b7ff 90.2px 91.2px,#00e7ff 91.2px 92.3px,#00a7ff 92.3px 93.3px,#08fff7 93.3px 94.4px,#00b7ff 94.4px 95.4px,#08fff7 95.4px 96.5px,#00d7ff 96.5px 97.5px,#08fff7 97.5px 98.6px,#0097ff 98.6px 99.6px,#00f7ff 99.6px 100.7px,#00b7ff 100.7px 101.7px,#18ffe7 101.7px 102.8px,#00a7ff 102.8px 103.8px,#00f7ff 103.8px 104.9px,#00b7ff 104.9px 105.9px,#00f7ff 105.9px 107.0px,#0097ff 107.0px 108.0px,#00f7ff 108.0px 109.1px,#00c7ff 109.1px 110.1px,#08fff7 110.1px 111.2px,#00a7ff 111.2px 112.2px,#08fff7 112.2px 113.2px,#0097ff 113.2px 114.3px,#18ffe7 114.3px 115.3px,#00b7ff 115.3px 116.4px,#08fff7 116.4px 117.4px,#0087ff 117.4px 118.5px,#28ffd7 118.5px 119.5px,#0078ff 119.5px 120.6px,#00e7ff 120.6px 121.6px,#0097ff 121.6px 122.7px,#18ffe7 122.7px 123.7px,#0097ff 123.7px 124.8px,#08fff7 124.8px 125.8px,#00a7ff 125.8px 126.9px,#00f7ff 126.9px 127.9px,#00c7ff 127.9px 129.0px,#28ffd7 129.0px 130.0px,#00b7ff 130.0px 131.1px,#00f7ff 131.1px 132.1px,#0087ff 132.1px 133.2px,#28ffd7 133.2px 134.2px,#00a7ff 134.2px 135.3px,#00d7ff 135.3px 136.3px,#00b7ff 136.3px 137.4px,#28ffd7 137.4px 138.4px,#00a7ff 138.4px 139.5px,#00e7ff 139.5px 140.5px,#00d7ff 140.5px 141.6px,#08fff7 141.6px 142.6px,#00b7ff 142.6px 143.7px,#18ffe7 143.7px 144.7px,#0087ff 144.7px 145.8px,#08fff7 145.8px 146.8px,#00a7ff 146.8px 147.9px,#38ffc7 147.9px 148.9px,#00a7ff 148.9px 150.0px,#00f7ff 150.0px 151.0px)"></div>
<div class="c" style="left:75.11px;width:9.89px;background:linear-gradient(#0068ff 0.0px 1.0px,#08fff7 1.0px 2.1px,#0087ff 2.1px 3.1px,#18ffe7 3.1px 4.2px,#00c7ff 4.2px 5.2px,#28ffd7 5.2px 6.3px,#0097ff 6.3px 7.3px,#48ffb7 7.3px 8.4px,#0097ff 8.4px 9.4px,#08fff7 9.4px 10.5px,#0058ff 10.5px 11.5px,#28ffd7 11.5px 12.6px,#0068ff 12.6px 13.6px,#38ffc7 13.6px 14.7px,#0068ff 14.7px 15.7px,#00d7ff 15.7px 16.8px,#0087ff 16.8px 17.8px,#38ffc7 17.8px 18.9px,#0087ff 18.9px 19.9px,#18ffe7 19.9px 21.0px,#0087ff 21.0px 22.0px,#48ffb7 22.0px 23.1px,#0097ff 23.1px 24.1px,#18ffe7 24.1px 25.2px,#0078ff 25.2px 26.2px,#00e7ff 26.2px 27.3px,#00b7ff 27.3px 28.3px,#38ffc7 28.3px 29.4px,#0068ff 29.4px 30.4px,#28ffd7 30.4px 31.5px,#0097ff 31.5px 32.5px,#08fff7 32.5px 33.6px,#0078ff 33.6px 34.6px,#28ffd7 34.6px 35.7px,#0068ff 35.7px 36.7px,#08fff7 36.7px 37.8px,#0087ff 37.8px 38.8px,#18ffe7 38.8px 39.8px,#0087ff 39.8px 40.9px,#18ffe7 40.9px 41.9px,#0097ff 41.9px 43.0px,#00f7ff 43.0px 44.0px,#0087ff 44.0px 45.1px,#08fff7 45.1px 46.1px,#00b7ff 46.1px 47.2px,#00e7ff 47.2px 48.2px,#0078ff 48.2px 49.3px,#28ffd7 49.3px 50.3px,#0078ff 50.3px 51.4px,#08fff7 51.4px 52.4px,#0078ff 52.4px 53.5px,#28ffd7 53.5px 54.5px,#0068ff 54.5px 55.6px,#18ffe7 55.6px 56.6px,#0087ff 56.6px 57.7px,#00e7ff 57.7px 58.7px,#0087ff 58.7px 59.8px,#08fff7 59.8px 60.8px,#0097ff 60.8px 61.9px,#38ffc7 61.9px 62.9px,#0097ff 62.9px 64.0px,#00f7ff 64.0px 65.0px,#0097ff 65.0px 66.1px,#00e7ff 66.1px 67.1px,#0068ff 67.1px 68.2px,#48ffb7 68.2px 69.2px,#0087ff 69.2px 70.3px,#48ffb7 70.3px 71.3px,#0087ff 71.3px 72.4px,#18ffe7 72.4px 73.4px,#0068ff 73.4px 74.5px,#38ffc7 74.5px 75.5px,#0087ff 75.5px 76.5px,#28ffd7 76.5px 77.6px,#0097ff 77.6px 78.6px,#28ffd7 78.6px 79.7px,#0097ff 79.7px 80.7px,#18ffe7 80.7px 81.8px,#0087ff 81.8px 82.8px,#08fff7 82.8px 83.9px,#0048ff 83.9px 84.9px,#28ffd7 84.9px 86.0px,#00c7ff 86.0px 87.0px,#38ffc7 87.0px 88.1px,#00d7ff 88.1px 89.1px,#28ffd7 89.1px 90.2px,#0068ff 90.2px 91.2px,#00f7ff 91.2px 92.3px,#00a7ff 92.3px 93.3px,#28ffd7 93.3px 94.4px,#0087ff 94.4px 95.4px,#38ffc7 95.4px 96.5px,#0068ff 96.5px 97.5px,#28ffd7 97.5px 98.6px,#0087ff 98.6px 99.6px,#18ffe7 99.6px 100.7px,#00a7ff 100.7px 101.7px,#18ffe7 101.7px 102.8px,#00b7ff 102.8px 103.8px,#48ffb7 103.8px 104.9px,#0078ff 104.9px 105.9px,#68ff97 105.9px 107.0px,#0068ff 107.0px 108.0px,#18ffe7 108.0px 109.1px,#00a7ff 109.1px 110.1px,#00d7ff 110.1px 111.2px,#00a7ff 111.2px 112.2px,#38ffc7 112.2px 113.2px,#0087ff 113.2px 114.3px,#28ffd7 114.3px 115.3px,#0097ff 115.3px 116.4px,#18ffe7 116.4px 117.4px,#00a7ff 117.4px 118.5px,#08fff7 118.5px 119.5px,#0087ff 119.5px 120.6px,#28ffd7 120.6px 121.6px,#00a7ff 121.6px 122.7px,#38ffc7 122.7px 123.7px,#0058ff 123.7px 124.8px,#00d7ff 124.8px 125.8px,#0087ff 125.8px 126.9px,#18ffe7 126.9px 127.9px,#0068ff 127.9px 129.0px,#28ffd7 129.0px 130.0px,#0097ff 130.0px 131.1px,#28ffd7 131.1px 132.1px,#00b7ff 132.1px 133.2px,#00f7ff 133.2px 134.2px,#0087ff 134.2px 135.3px,#58ffa7 135.3px 136.3px,#0097ff 136.3px 137.4px,#00f7ff 137.4px 138.4px,#0097ff 138.4px 139.5px,#38ffc7 139.5px 140.5px,#00c7ff 140.5px 141.6px,#28ffd7 141.6px 142.6px,#00a7ff 142.6px 143.7px,#00f7ff 143.7px 144.7px,#0087ff 144.7px 145.8px,#38ffc7 145.8px 146.8px,#0068ff 146.8px 147.9px,#18ffe7 147.9px 148.9px,#0058ff 148.9px 150.0px,#48ffb7 150.0px 151.0px)"></div>
<div class="c" style="left:84.5px;width:9.89px;background:linear-gradient(#0068ff 0.0px 1.0px,#00b7ff 1.0px 2.1px,#0048ff 2.1px 3.1px,#0087ff 3.1px 4.2px,#0097ff 4.2px 5.2px,#00a7ff 5.2px 6.3px,#0068ff 6.3px 7.3px,#00b7ff 7.3px 8.4px,#0078ff 8.4px 9.4px,#0087ff 9.4px 10.5px,#0058ff 10.5px 11.5px,#00a7ff 11.5px 12.6px,#0068ff 12.6px 13.6px,#00b7ff 13.6px 14.7px,#0068ff 14.7px 15.7px,#00a7ff 15.7px 16.8px,#0068ff 16.8px 17.8px,#0097ff 17.8px 18.9px,#0058ff 18.9px 19.9px,#0097ff 19.9px 21.0px,#0068ff 21.0px 22.0px,#00a7ff 22.0px 23.1px,#0068ff 23.1px 24.1px,#00a7ff 24.1px 25.2px,#0068ff 25.2px 26.2px,#00a7ff 26.2px 27.3px,#0078ff 27.3px 28.3px,#0087ff 28.3px 29.4px,#0078ff 29.4px 30.4px,#0087ff 30.4px 31.5px,#0078ff 31.5px 32.5px,#0097ff 32.5px 33.6px,#0078ff 33.6px 34.6px,#00b7ff 34.6px 35.7px,#0048ff 35.7px 36.7px,#00b7ff 36.7px 37.8px,#0078ff 37.8px 38.8px,#0097ff 38.8px 39.8px,#0078ff 39.8px 40.9px,#0097ff 40.9px 41.9px,#0068ff 41.9px 43.0px,#0097ff 43.0px 44.0px,#0078ff 44.0px 45.1px,#00b7ff 45.1px 46.1px,#0078ff 46.1px 47.2px,#0097ff 47.2px 49.3px,#00d7ff 49.3px 50.3px,#0068ff 50.3px 51.4px,#00a7ff 51.4px 52.4px,#0068ff 52.4px 53.5px,#00b7ff 53.5px 54.5px,#0087ff 54.5px 55.6px,#0097ff 55.6px 56.6px,#0048ff 56.6px 57.7px,#00b7ff 57.7px 58.7px,#0068ff 58.7px 59.8px,#00a7ff 59.8px 60.8px,#0078ff 60.8px 61.9px,#0097ff 61.9px 62.9px,#0068ff 62.9px 64.0px,#00a7ff 64.0px 65.0px,#0078ff 65.0px 66.1px,#00c7ff 66.1px 67.1px,#0068ff 67.1px 68.2px,#0097ff 68.2px 69.2px,#0087ff 69.2px 70.3px,#00b7ff 70.3px 71.3px,#0068ff 71.3px 72.4px,#0087ff 72.4px 73.4px,#0058ff 73.4px 74.5px,#00a7ff 74.5px 75.5px,#0078ff 75.5px 76.5px,#0097ff 76.5px 77.6px,#0078ff 77.6px 78.6px,#0097ff 78.6px 79.7px,#0068ff 79.7px 80.7px,#00b7ff 80.7px 81.8px,#0068ff 81.8px 82.8px,#00a7ff 82.8px 83.9px,#0078ff 83.9px 84.9px,#00b7ff 84.9px 86.0px,#0058ff 86.0px 87.0px,#00a7ff 87.0px 88.1px,#0048ff 88.1px 89.1px,#0087ff 89.1px 90.2px,#0078ff 90.2px 91.2px,#0097ff 91.2px 92.3px,#0048ff 92.3px 93.3px,#00b7ff 93.3px 94.4px,#0058ff 94.4px 95.4px,#00a7ff 95.4px 96.5px,#0078ff 96.5px 97.5px,#00b7ff 97.5px 98.6px,#0068ff 98.6px 99.6px,#0078ff 99.6px 101.7px,#0097ff 101.7px 102.8px,#0048ff 102.8px 103.8px,#0078ff 103.8px 104.9px,#0087ff 104.9px 105.9px,#00a7ff 105.9px 107.0px,#0068ff 107.0px 108.0px,#00b7ff 108.0px 109.1px,#0068ff 109.1px 110.1px,#0087ff 110.1px 111.2px,#0078ff 111.2px 112.2px,#00b7ff 112.2px 113.2px,#0078ff 113.2px 114.3px,#00c7ff 114.3px 115.3px,#0097ff 115.3px 117.4px,#0068ff 117.4px 118.5px,#00b7ff 118.5px 119.5px,#0068ff 119.5px 120.6px,#00a7ff 120.6px 121.6px,#0078ff 121.6px 122.7px,#00b7ff 122.7px 123.7px,#0068ff 123.7px 124.8px,#00a7ff 124.8px 125.8px,#0058ff 125.8px 126.9px,#00a7ff 126.9px 127.9px,#0058ff 127.9px 129.0px,#0078ff 129.0px 130.0px,#0068ff 130.0px 131.1px,#0097ff 131.1px 132.1px,#0078ff 132.1px 133.2px,#00c7ff 133.2px 134.2px,#0068ff 134.2px 135.3px,#00b7ff 135.3px 136.3px,#0058ff 136.3px 137.4px,#0097ff 137.4px 138.4px,#0068ff 138.4px 139.5px,#00a7ff 139.5px 140.5px,#0078ff 140.5px 141.6px,#00a7ff 141.6px 142.6px,#0087ff 142.6px 143.7px,#00a7ff 143.7px 144.7px,#0048ff 144.7px 145.8px,#00a7ff 145.8px 146.8px,#0058ff 146.8px 147.9px,#00a7ff 147.9px 148.9px,#0087ff 148.9px 150.0px,#0097ff 150.0px 151.0px)"></div>
<div class="c" style="left:93.89px;width:9.89px;background:linear-gradient(#28ffd7 0.0px 1.0px,#0097ff 1.0px 2.1px,#18ffe7 2.1px 3.1px,#00c7ff 3.1px 4.2px,#38ffc7 4.2px 5.2px,#00d7ff 5.2px 6.3px,#28ffd7 6.3px 7.3px,#00b7ff 7.3px 8.4px,#00e7ff 8.4px 9.4px,#0068ff 9.4px 10.5px,#00f7ff 10.5px 11.5px,#00d7ff 11.5px 12.6px,#18ffe7 12.6px 13.6px,#0068ff 13.6px 14.7px,#08fff7 14.7px 15.7px,#00b7ff 15.7px 16.8px,#00e7ff 16.8px 17.8px,#00c7ff 17.8px 18.9px,#00f7ff 18.9px 19.9px,#00d7ff 19.9px 21.0px,#18ffe7 21.0px 23.1px,#00f7ff 23.1px 24.1px,#00b7ff 24.1px 25.2px,#00e7ff 25.2px 26.2px,#00d7ff 26.2px 27.3px,#18ffe7 27.3px 28.3px,#00c7ff 28.3px 29.4px,#18ffe7 29.4px 30.4px,#0087ff 30.4px 31.5px,#08fff7 31.5px 32.5px,#0087ff 32.5px 33.6px,#00f7ff 33.6px 34.6px,#00b7ff 34.6px 35.7px,#38ffc7 35.7px 36.7px,#00c7ff 36.7px 37.8px,#28ffd7 37.8px 38.8px,#00a7ff 38.8px 39.8px,#28ffd7 39.8px 40.9px,#0097ff 40.9px 41.9px,#18ffe7 41.9px 43.0px,#00c7ff 43.0px 44.0px,#18ffe7 44.0px 45.1px,#00a7ff 45.1px 46.1px,#08fff7 46.1px 47.2px,#00c7ff 47.2px 48.2px,#08fff7 48.2px 49.3px,#0087ff 49.3px 50.3px,#08fff7 50.3px 51.4px,#0097ff 51.4px 52.4px,#48ffb7 52.4px 53.5px,#00b7ff 53.5px 54.5px,#00e7ff 54.5px 55.6px,#00b7ff 55.6px 56.6px,#28ffd7 56.6px 57.7px,#00b7ff 57.7px 58.7px,#08fff7 58.7px 59.8px,#00b7ff 59.8px 60.8px,#28ffd7 60.8px 61.9px,#00d7ff 61.9px 62.9px,#28ffd7 62.9px 64.0px,#00f7ff 64.0px 65.0px,#18ffe7 65.0px 66.1px,#00e7ff 66.1px 67.1px,#18ffe7 67.1px 68.2px,#0078ff 68.2px 69.2px,#00f7ff 69.2px 70.3px,#0078ff 70.3px 71.3px,#00e7ff 71.3px 72.4px,#00d7ff 72.4px 73.4px,#08fff7 73.4px 74.5px,#00c7ff 74.5px 75.5px,#00f7ff 75.5px 76.5px,#00b7ff 76.5px 77.6px,#00f7ff 77.6px 78.6px,#00c7ff 78.6px 79.7px,#18ffe7 79.7px 80.7px,#00a7ff 80.7px 81.8px,#18ffe7 81.8px 82.8px,#00f7ff 82.8px 83.9px,#28ffd7 83.9px 84.9px,#00c7ff 84.9px 86.0px,#00f7ff 86.0px 87.0px,#0097ff 87.0px 88.1px,#28ffd7 88.1px 89.1px,#0078ff 89.1px 90.2px,#48ffb7 90.2px 91.2px,#00b7ff 91.2px 92.3px,#18ffe7 92.3px 93.3px,#00a7ff 93.3px 94.4px,#18ffe7 94.4px 95.4px,#00a7ff 95.4px 96.5px,#48ffb7 96.5px 97.5px,#00c7ff 97.5px 98.6px,#38ffc7 98.6px 99.6px,#00a7ff 99.6px 100.7px,#00f7ff 100.7px 101.7px,#00d7ff 101.7px 102.8px,#00f7ff 102.8px 103.8px,#00a7ff 103.8px 104.9px,#28ffd7 104.9px 105.9px,#00d7ff 105.9px 107.0px,#00f7ff 107.0px 108.0px,#00a7ff 108.0px 109.1px,#18ffe7 109.1px 110.1px,#00a7ff 110.1px 111.2px,#00f7ff 111.2px 112.2px,#00c7ff 112.2px 113.2px,#08fff7 113.2px 114.3px,#00a7ff 114.3px 115.3px,#00d7ff 115.3px 116.4px,#00a7ff 116.4px 117.4px,#00d7ff 117.4px 118.5px,#00c7ff 118.5px 119.5px,#28ffd7 119.5px 120.6px,#00a7ff 120.6px 121.6px,#18ffe7 121.6px 122.7px,#00b7ff 122.7px 123.7px,#18ffe7 123.7px 124.8px,#00b7ff 124.8px 125.8px,#18ffe7 125.8px 126.9px,#00a7ff 126.9px 127.9px,#08fff7 127.9px 129.0px,#00e7ff 129.0px 130.0px,#18ffe7 130.0px 131.1px,#00b7ff 131.1px 132.1px,#28ffd7 132.1px 133.2px,#00a7ff 133.2px 134.2px,#08fff7 134.2px 135.3px,#00c7ff 135.3px 136.3px,#38ffc7 136.3px 137.4px,#00c7ff 137.4px 138.4px,#00e7ff 138.4px 139.5px,#00b7ff 139.5px 140.5px,#18ffe7 140.5px 141.6px,#00c7ff 141.6px 142.6px,#00f7ff 142.6px 143.7px,#0097ff 143.7px 144.7px,#18ffe7 144.7px 145.8px,#0097ff 145.8px 146.8px,#00f7ff 146.8px 147.9px,#00b7ff 147.9px 148.9px,#38ffc7 148.9px 150.0px,#00b7ff 150.0px 151.0px)"></div>
<div class="c" style="left:103.28px;width:9.89px;background:linear-gradient(#00b7ff 0.0px 1.0px,#0058ff 1.0px 2.1px,#00b7ff 2.1px 3.1px,#0068ff 3.1px 4.2px,#0097ff 4.2px 5.2px,#0068ff 5.2px 6.3px,#0097ff 6.3px 7.3px,#0068ff 7.3px 8.4px,#0097ff 8.4px 9.4px,#0087ff 9.4px 10.5px,#00a7ff 10.5px 11.5px,#0048ff 11.5px 12.6px,#00a7ff 12.6px 13.6px,#0078ff 13.6px 14.7px,#00a7ff 14.7px 15.7px,#0078ff 15.7px 16.8px,#0097ff 16.8px 17.8px,#0058ff 17.8px 18.9px,#00c7ff 18.9px 19.9px,#0068ff 19.9px 21.0px,#00b7ff 21.0px 22.0px,#0078ff 22.0px 23.1px,#00b7ff 23.1px 24.1px,#0068ff 24.1px 25.2px,#00a7ff 25.2px 26.2px,#0087ff 26.2px 27.3px,#0097ff 27.3px 28.3px,#0068ff 28.3px 29.4px,#00b7ff 29.4px 30.4px,#0068ff 30.4px 31.5px,#0087ff 31.5px 32.5px,#0078ff 32.5px 33.6px,#00b7ff 33.6px 34.6px,#0078ff 34.6px 35.7px,#0087ff 35.7px 36.7px,#0078ff 36.7px 37.8px,#00d7ff 37.8px 38.8px,#0048ff 38.8px 39.8px,#0078ff 39.8px 40.9px,#0068ff 40.9px 41.9px,#00a7ff 41.9px 43.0px,#0078ff 43.0px 44.0px,#00b7ff 44.0px 45.1px,#0068ff 45.1px 46.1px,#00b7ff 46.1px 47.2px,#0078ff 47.2px 48.2px,#00a7ff 48.2px 49.3px,#0068ff 49.3px 50.3px,#00a7ff 50.3px 51.4px,#0078ff 51.4px 52.4px,#00b7ff 52.4px 53.5px,#0068ff 53.5px 54.5px,#00b7ff 54.5px 55.6px,#0058ff 55.6px 56.6px,#00a7ff 56.6px 57.7px,#0068ff 57.7px 58.7px,#0087ff 58.7px 59.8px,#0068ff 59.8px 60.8px,#00b7ff 60.8px 61.9px,#0078ff 61.9px 62.9px,#0097ff 62.9px 64.0px,#0058ff 64.0px 65.0px,#0097ff 65.0px 66.1px,#0068ff 66.1px 67.1px,#00a7ff 67.1px 68.2px,#0048ff 68.2px 69.2px,#00a7ff 69.2px 70.3px,#0068ff 70.3px 71.3px,#00a7ff 71.3px 72.4px,#0058ff 72.4px 73.4px,#00a7ff 73.4px 74.5px,#0048ff 74.5px 75.5px,#00a7ff 75.5px 76.5px,#0068ff 76.5px 77.6px,#00a7ff 77.6px 78.6px,#0058ff 78.6px 79.7px,#00c7ff 79.7px 80.7px,#0087ff 80.7px 82.8px,#0078ff 82.8px 83.9px,#00a7ff 83.9px 84.9px,#0038ff 84.9px 86.0px,#00b7ff 86.0px 87.0px,#0078ff 87.0px 88.1px,#00b7ff 88.1px 89.1px,#0068ff 89.1px 90.2px,#0097ff 90.2px 91.2px,#0068ff 91.2px 92.3px,#00b7ff 92.3px 93.3px,#0087ff 93.3px 94.4px,#0097ff 94.4px 95.4px,#0068ff 95.4px 96.5px,#00b7ff 96.5px 97.5px,#0048ff 97.5px 98.6px,#00b7ff 98.6px 99.6px,#0068ff 99.6px 100.7px,#0078ff 100.7px 102.8px,#0097ff 102.8px 103.8px,#0078ff 103.8px 104.9px,#00c7ff 104.9px 105.9px,#0058ff 105.9px 107.0px,#0097ff 107.0px 108.0px,#0068ff 108.0px 109.1px,#0087ff 109.1px 110.1px,#0078ff 110.1px 111.2px,#00a7ff 111.2px 112.2px,#0078ff 112.2px 113.2px,#0087ff 113.2px 114.3px,#0068ff 114.3px 115.3px,#00b7ff 115.3px 116.4px,#0048ff 116.4px 117.4px,#00b7ff 117.4px 118.5px,#0058ff 118.5px 119.5px,#00a7ff 119.5px 120.6px,#0058ff 120.6px 121.6px,#00b7ff 121.6px 122.7px,#0087ff 122.7px 123.7px,#00a7ff 123.7px 124.8px,#0068ff 124.8px 125.8px,#00c7ff 125.8px 126.9px,#0068ff 126.9px 127.9px,#00a7ff 127.9px 129.0px,#0078ff 129.0px 130.0px,#00b7ff 130.0px 131.1px,#0087ff 131.1px 132.1px,#00c7ff 132.1px 133.2px,#0097ff 133.2px 134.2px,#00a7ff 134.2px 135.3px,#0087ff 135.3px 136.3px,#0097ff 136.3px 137.4px,#0078ff 137.4px 138.4px,#00c7ff 138.4px 139.5px,#0097ff 139.5px 141.6px,#0068ff 141.6px 142.6px,#00b7ff 142.6px 143.7px,#0058ff 143.7px 144.7px,#00b7ff 144.7px 145.8px,#0078ff 145.8px 146.8px,#00a7ff 146.8px 147.9px,#0068ff 147.9px 148.9px,#0097ff 148.9px 150.0px,#0078ff 150.0px 151.0px)"></div>
<div class="c" style="left:112.67px;width:9.89px;background:linear-gradient(#00c7ff 0.0px 1.0px,#0097ff 1.0px 2.1px,#00a7ff 2.1px 3.1px,#0048ff 3.1px 4.2px,#00c7ff 4.2px 5.2px,#0048ff 5.2px 6.3px,#00c7ff 6.3px 7.3px,#0068ff 7.3px 8.4px,#00c7ff 8.4px 9.4px,#0058ff 9.4px 10.5px,#00d7ff 10.5px 11.5px,#0068ff 11.5px 12.6px,#00c7ff 12.6px 13.6px,#0068ff 13.6px 14.7px,#00b7ff 14.7px 15.7px,#0048ff 15.7px 16.8px,#00b7ff 16.8px 17.8px,#0058ff 17.8px 18.9px,#00b7ff 18.9px 19.9px,#0068ff 19.9px 21.0px,#00c7ff 21.0px 22.0px,#0068ff 22.0px 23.1px,#00c7ff 23.1px 24.1px,#0048ff 24.1px 25.2px,#00d7ff 25.2px 26.2px,#0068ff 26.2px 27.3px,#00a7ff 27.3px 28.3px,#0058ff 28.3px 29.4px,#00f7ff 29.4px 30.4px,#0018ff 30.4px 31.5px,#00d7ff 31.5px 32.5px,#0058ff 32.5px 33.6px,#00b7ff 33.6px 34.6px,#0058ff 34.6px 35.7px,#00b7ff 35.7px 36.7px,#0087ff 36.7px 37.8px,#00b7ff 37.8px 38.8px,#0058ff 38.8px 39.8px,#00c7ff 39.8px 40.9px,#0058ff 40.9px 41.9px,#00b7ff 41.9px 43.0px,#0058ff 43.0px 44.0px,#00a7ff 44.0px 45.1px,#0068ff 45.1px 46.1px,#00a7ff 46.1px 47.2px,#0028ff 47.2px 48.2px,#00d7ff 48.2px 49.3px,#0068ff 49.3px 50.3px,#00c7ff 50.3px 51.4px,#0048ff 51.4px 52.4px,#00d7ff 52.4px 53.5px,#0048ff 53.5px 54.5px,#0097ff 54.5px 55.6px,#0058ff 55.6px 56.6px,#00c7ff 56.6px 57.7px,#0068ff 57.7px 58.7px,#00e7ff 58.7px 59.8px,#0068ff 59.8px 60.8px,#00b7ff 60.8px 61.9px,#0058ff 61.9px 62.9px,#00d7ff 62.9px 64.0px,#0058ff 64.0px 65.0px,#00b7ff 65.0px 66.1px,#0038ff 66.1px 67.1px,#00b7ff 67.1px 68.2px,#0038ff 68.2px 69.2px,#00c7ff 69.2px 70.3px,#0058ff 70.3px 71.3px,#00c7ff 71.3px 72.4px,#0078ff 72.4px 73.4px,#00b7ff 73.4px 74.5px,#0078ff 74.5px 75.5px,#00a7ff 75.5px 76.5px,#0058ff 76.5px 77.6px,#00d7ff 77.6px 78.6px,#0078ff 78.6px 79.7px,#00a7ff 79.7px 80.7px,#0058ff 80.7px 81.8px,#00c7ff 81.8px 82.8px,#0058ff 82.8px 83.9px,#00a7ff 83.9px 84.9px,#0038ff 84.9px 86.0px,#00a7ff 86.0px 87.0px,#0058ff 87.0px 88.1px,#00a7ff 88.1px 89.1px,#0078ff 89.1px 90.2px,#00d7ff 90.2px 91.2px,#0038ff 91.2px 92.3px,#00b7ff 92.3px 93.3px,#0078ff 93.3px 94.4px,#00d7ff 94.4px 95.4px,#0068ff 95.4px 96.5px,#00a7ff 96.5px 97.5px,#0048ff 97.5px 98.6px,#00d7ff 98.6px 99.6px,#0058ff 99.6px 100.7px,#00b7ff 100.7px 101.7px,#0068ff 101.7px 102.8px,#00d7ff 102.8px 103.8px,#0058ff 103.8px 104.9px,#00c7ff 104.9px 105.9px,#0068ff 105.9px 107.0px,#00b7ff 107.0px 108.0px,#0048ff 108.0px 109.1px,#00c7ff 109.1px 110.1px,#0038ff 110.1px 111.2px,#00c7ff 111.2px 112.2px,#0048ff 112.2px 113.2px,#00c7ff 113.2px 114.3px,#0038ff 114.3px 115.3px,#00d7ff 115.3px 116.4px,#0058ff 116.4px 117.4px,#00b7ff 117.4px 118.5px,#0048ff 118.5px 119.5px,#00b7ff 119.5px 120.6px,#0048ff 120.6px 121.6px,#00a7ff 121.6px 122.7px,#0068ff 122.7px 123.7px,#00c7ff 123.7px 124.8px,#0078ff 124.8px 125.8px,#00a7ff 125.8px 126.9px,#0028ff 126.9px 127.9px,#0097ff 127.9px 129.0px,#0068ff 129.0px 130.0px,#00c7ff 130.0px 131.1px,#0038ff 131.1px 132.1px,#00d7ff 132.1px 133.2px,#0048ff 133.2px 134.2px,#00a7ff 134.2px 135.3px,#0058ff 135.3px 136.3px,#00c7ff 136.3px 137.4px,#0058ff 137.4px 138.4px,#00b7ff 138.4px 139.5px,#0048ff 139.5px 140.5px,#00a7ff 140.5px 141.6px,#0048ff 141.6px 142.6px,#0097ff 142.6px 143.7px,#0068ff 143.7px 144.7px,#00a7ff 144.7px 145.8px,#0078ff 145.8px 146.8px,#0097ff 146.8px 147.9px,#0078ff 147.9px 148.9px,#00a7ff 148.9px 150.0px,#0048ff 150.0px 151.0px)"></div>
<div class="c" style="left:122.06px;width:9.89px;background:linear-gradient(#28ffd7 0.0px 1.0px,#0097ff 1.0px 2.1px,#28ffd7 2.1px 3.1px,#0078ff 3.1px 4.2px,#68ff97 4.2px 5.2px,#0087ff 5.2px 6.3px,#00f7ff 6.3px 7.3px,#0078ff 7.3px 8.4px,#58ffa7 8.4px 9.4px,#0087ff 9.4px 10.5px,#38ffc7 10.5px 11.5px,#00b7ff 11.5px 12.6px,#18ffe7 12.6px 13.6px,#0087ff 13.6px 14.7px,#08fff7 14.7px 15.7px,#0078ff 15.7px 16.8px,#38ffc7 16.8px 17.8px,#0058ff 17.8px 18.9px,#28ffd7 18.9px 19.9px,#0087ff 19.9px 21.0px,#48ffb7 21.0px 22.0px,#0068ff 22.0px 23.1px,#00f7ff 23.1px 24.1px,#0087ff 24.1px 25.2px,#08fff7 25.2px 26.2px,#0087ff 26.2px 27.3px,#38ffc7 27.3px 28.3px,#0068ff 28.3px 29.4px,#18ffe7 29.4px 30.4px,#0058ff 30.4px 31.5px,#00c7ff 31.5px 32.5px,#0058ff 32.5px 33.6px,#00e7ff 33.6px 34.6px,#0087ff 34.6px 35.7px,#08fff7 35.7px 36.7px,#0078ff 36.7px 37.8px,#28ffd7 37.8px 38.8px,#00a7ff 38.8px 39.8px,#18ffe7 39.8px 40.9px,#0078ff 40.9px 41.9px,#38ffc7 41.9px 43.0px,#00b7ff 43.0px 44.0px,#28ffd7 44.0px 45.1px,#0087ff 45.1px 46.1px,#18ffe7 46.1px 47.2px,#0068ff 47.2px 48.2px,#00f7ff 48.2px 49.3px,#0078ff 49.3px 50.3px,#18ffe7 50.3px 51.4px,#0078ff 51.4px 52.4px,#68ff97 52.4px 53.5px,#0078ff 53.5px 54.5px,#28ffd7 54.5px 55.6px,#0078ff 55.6px 56.6px,#48ffb7 56.6px 57.7px,#0078ff 57.7px 58.7px,#58ffa7 58.7px 59.8px,#0078ff 59.8px 60.8px,#38ffc7 60.8px 61.9px,#0097ff 61.9px 62.9px,#18ffe7 62.9px 64.0px,#0097ff 64.0px 65.0px,#28ffd7 65.0px 66.1px,#0068ff 66.1px 67.1px,#08fff7 67.1px 68.2px,#0087ff 68.2px 69.2px,#58ffa7 69.2px 70.3px,#0078ff 70.3px 71.3px,#38ffc7 71.3px 72.4px,#0068ff 72.4px 73.4px,#28ffd7 73.4px 74.5px,#0058ff 74.5px 75.5px,#08fff7 75.5px 76.5px,#0078ff 76.5px 77.6px,#08fff7 77.6px 78.6px,#0078ff 78.6px 79.7px,#48ffb7 79.7px 80.7px,#0078ff 80.7px 81.8px,#08fff7 81.8px 82.8px,#0058ff 82.8px 83.9px,#18ffe7 83.9px 84.9px,#00a7ff 84.9px 86.0px,#28ffd7 86.0px 87.0px,#0078ff 87.0px 88.1px,#38ffc7 88.1px 89.1px,#0097ff 89.1px 90.2px,#48ffb7 90.2px 91.2px,#0078ff 91.2px 92.3px,#08fff7 92.3px 93.3px,#0048ff 93.3px 94.4px,#08fff7 94.4px 95.4px,#0078ff 95.4px 96.5px,#38ffc7 96.5px 97.5px,#0087ff 97.5px 98.6px,#18ffe7 98.6px 99.6px,#0097ff 99.6px 100.7px,#00f7ff 100.7px 101.7px,#0058ff 101.7px 102.8px,#00f7ff 102.8px 103.8px,#0058ff 103.8px 104.9px,#18ffe7 104.9px 105.9px,#0068ff 105.9px 107.0px,#08fff7 107.0px 108.0px,#00a7ff 108.0px 109.1px,#00f7ff 109.1px 110.1px,#0058ff 110.1px 111.2px,#18ffe7 111.2px 112.2px,#0087ff 112.2px 113.2px,#38ffc7 113.2px 114.3px,#0078ff 114.3px 115.3px,#18ffe7 115.3px 116.4px,#0078ff 116.4px 117.4px,#38ffc7 117.4px 118.5px,#0068ff 118.5px 119.5px,#00d7ff 119.5px 120.6px,#0087ff 120.6px 121.6px,#00f7ff 121.6px 122.7px,#0078ff 122.7px 123.7px,#48ffb7 123.7px 124.8px,#0087ff 124.8px 125.8px,#58ffa7 125.8px 126.9px,#0048ff 126.9px 127.9px,#28ffd7 127.9px 129.0px,#0087ff 129.0px 130.0px,#38ffc7 130.0px 131.1px,#0068ff 131.1px 132.1px,#28ffd7 132.1px 133.2px,#0087ff 133.2px 134.2px,#28ffd7 134.2px 135.3px,#0058ff 135.3px 136.3px,#00e7ff 136.3px 137.4px,#0097ff 137.4px 138.4px,#28ffd7 138.4px 139.5px,#0087ff 139.5px 140.5px,#38ffc7 140.5px 141.6px,#00a7ff 141.6px 142.6px,#08fff7 142.6px 143.7px,#0097ff 143.7px 144.7px,#58ffa7 144.7px 145.8px,#0097ff 145.8px 146.8px,#38ffc7 146.8px 147.9px,#0097ff 147.9px 148.9px,#00f7ff 148.9px 150.0px,#0078ff 150.0px 151.0px)"></div>
<div class="c" style="left:131.44px;width:9.89px;background:linear-gradient(#0048ff 0.0px 1.0px,#0068ff 1.0px 2.1px,#0038ff 2.1px 3.1px,#0058ff 3.1px 4.2px,#0048ff 4.2px 5.2px,#0078ff 5.2px 6.3px,#0048ff 6.3px 7.3px,#0058ff 7.3px 8.4px,#0048ff 8.4px 9.4px,#0068ff 9.4px 10.5px,#0058ff 10.5px 11.5px,#0068ff 11.5px 12.6px,#0038ff 12.6px 13.6px,#0058ff 13.6px 14.7px,#0038ff 14.7px 15.7px,#0058ff 15.7px 16.8px,#0038ff 16.8px 17.8px,#0058ff 17.8px 18.9px,#0038ff 18.9px 19.9px,#0058ff 19.9px 21.0px,#0048ff 21.0px 22.0px,#0068ff 22.0px 23.1px,#0038ff 23.1px 24.1px,#0058ff 24.1px 25.2px,#0028ff 25.2px 26.2px,#0068ff 26.2px 27.3px,#0048ff 27.3px 28.3px,#0058ff 28.3px 29.4px,#0038ff 29.4px 30.4px,#0058ff 30.4px 31.5px,#0048ff 31.5px 32.5px,#0068ff 32.5px 33.6px,#0048ff 33.6px 34.6px,#0058ff 34.6px 37.8px,#0038ff 37.8px 38.8px,#0058ff 38.8px 39.8px,#0038ff 39.8px 40.9px,#0068ff 40.9px 41.9px,#0038ff 41.9px 43.0px,#0058ff 43.0px 44.0px,#0048ff 44.0px 45.1px,#0068ff 45.1px 46.1px,#0038ff 46.1px 47.2px,#0058ff 47.2px 48.2px,#0038ff 48.2px 49.3px,#0058ff 49.3px 50.3px,#0048ff 50.3px 51.4px,#0068ff 51.4px 52.4px,#0048ff 52.4px 53.5px,#0068ff 53.5px 54.5px,#0038ff 54.5px 55.6px,#0068ff 55.6px 56.6px,#0038ff 56.6px 57.7px,#0058ff 57.7px 58.7px,#0048ff 58.7px 60.8px,#0038ff 60.8px 61.9px,#0058ff 61.9px 62.9px,#0028ff 62.9px 64.0px,#0058ff 64.0px 65.0px,#0038ff 65.0px 66.1px,#0068ff 66.1px 67.1px,#0038ff 67.1px 68.2px,#0068ff 68.2px 69.2px,#0048ff 69.2px 70.3px,#0068ff 70.3px 71.3px,#0028ff 71.3px 72.4px,#0058ff 72.4px 73.4px,#0038ff 73.4px 74.5px,#0068ff 74.5px 75.5px,#0038ff 75.5px 76.5px,#0058ff 76.5px 77.6px,#0038ff 77.6px 78.6px,#0048ff 78.6px 79.7px,#0038ff 79.7px 80.7px,#0068ff 80.7px 81.8px,#0038ff 81.8px 82.8px,#0048ff 82.8px 84.9px,#0058ff 84.9px 86.0px,#0048ff 86.0px 87.0px,#0068ff 87.0px 88.1px,#0038ff 88.1px 89.1px,#0058ff 89.1px 90.2px,#0038ff 90.2px 91.2px,#0058ff 91.2px 92.3px,#0038ff 92.3px 93.3px,#0058ff 93.3px 94.4px,#0048ff 94.4px 95.4px,#0058ff 95.4px 96.5px,#0038ff 96.5px 97.5px,#0058ff 97.5px 98.6px,#0048ff 98.6px 99.6px,#0068ff 99.6px 100.7px,#0048ff 100.7px 101.7px,#0068ff 101.7px 102.8px,#0038ff 102.8px 103.8px,#0068ff 103.8px 104.9px,#0028ff 104.9px 105.9px,#0068ff 105.9px 107.0px,#0038ff 107.0px 108.0px,#0078ff 108.0px 109.1px,#0048ff 109.1px 110.1px,#0058ff 110.1px 111.2px,#0038ff 111.2px 112.2px,#0068ff 112.2px 113.2px,#0028ff 113.2px 114.3px,#0058ff 114.3px 115.3px,#0048ff 115.3px 116.4px,#0068ff 116.4px 117.4px,#0038ff 117.4px 118.5px,#0068ff 118.5px 119.5px,#0038ff 119.5px 120.6px,#0058ff 120.6px 121.6px,#0038ff 121.6px 122.7px,#0058ff 122.7px 123.7px,#0038ff 123.7px 124.8px,#0058ff 124.8px 125.8px,#0038ff 125.8px 126.9px,#0048ff 126.9px 127.9px,#0038ff 127.9px 129.0px,#0058ff 129.0px 130.0px,#0038ff 130.0px 131.1px,#0058ff 131.1px 132.1px,#0038ff 132.1px 133.2px,#0068ff 133.2px 134.2px,#0048ff 134.2px 135.3px,#0068ff 135.3px 136.3px,#0048ff 136.3px 137.4px,#0058ff 137.4px 138.4px,#0038ff 138.4px 139.5px,#0048ff 139.5px 140.5px,#0038ff 140.5px 141.6px,#0068ff 141.6px 142.6px,#0048ff 142.6px 143.7px,#0058ff 143.7px 144.7px,#0038ff 144.7px 145.8px,#0068ff 145.8px 146.8px,#0038ff 146.8px 147.9px,#0068ff 147.9px 148.9px,#0038ff 148.9px 150.0px,#0068ff 150.0px 151.0px)"></div>
<div class="c" style="left:140.83px;width:9.89px;background:linear-gradient(#00f7ff 0.0px 1.0px,#48ffb7 1.0px 2.1px,#00f7ff 2.1px 3.1px,#48ffb7 3.1px 4.2px,#00c7ff 4.2px 5.2px,#48ffb7 5.2px 6.3px,#08fff7 6.3px 7.3px,#48ffb7 7.3px 8.4px,#08fff7 8.4px 9.4px,#28ffd7 9.4px 10.5px,#00e7ff 10.5px 11.5px,#48ffb7 11.5px 12.6px,#00e7ff 12.6px 13.6px,#58ffa7 13.6px 14.7px,#00f7ff 14.7px 15.7px,#38ffc7 15.7px 16.8px,#08fff7 16.8px 17.8px,#58ffa7 17.8px 18.9px,#00e7ff 18.9px 19.9px,#48ffb7 19.9px 21.0px,#00f7ff 21.0px 22.0px,#48ffb7 22.0px 23.1px,#00d7ff 23.1px 24.1px,#58ffa7 24.1px 25.2px,#00f7ff 25.2px 26.2px,#48ffb7 26.2px 27.3px,#00f7ff 27.3px 28.3px,#48ffb7 28.3px 29.4px,#00e7ff 29.4px 30.4px,#38ffc7 30.4px 31.5px,#00f7ff 31.5px 32.5px,#38ffc7 32.5px 33.6px,#00e7ff 33.6px 34.6px,#28ffd7 34.6px 35.7px,#00e7ff 35.7px 36.7px,#58ffa7 36.7px 37.8px,#00f7ff 37.8px 38.8px,#48ffb7 38.8px 39.8px,#00e7ff 39.8px 40.9px,#38ffc7 40.9px 41.9px,#00d7ff 41.9px 43.0px,#68ff97 43.0px 44.0px,#00e7ff 44.0px 45.1px,#28ffd7 45.1px 46.1px,#00f7ff 46.1px 47.2px,#48ffb7 47.2px 48.2px,#00e7ff 48.2px 49.3px,#28ffd7 49.3px 50.3px,#00d7ff 50.3px 51.4px,#68ff97 51.4px 52.4px,#00e7ff 52.4px 53.5px,#38ffc7 53.5px 54.5px,#18ffe7 54.5px 55.6px,#38ffc7 55.6px 56.6px,#00d7ff 56.6px 57.7px,#48ffb7 57.7px 58.7px,#00f7ff 58.7px 59.8px,#68ff97 59.8px 60.8px,#00d7ff 60.8px 61.9px,#48ffb7 61.9px 62.9px,#00c7ff 62.9px 64.0px,#48ffb7 64.0px 65.0px,#00e7ff 65.0px 66.1px,#38ffc7 66.1px 67.1px,#00e7ff 67.1px 68.2px,#58ffa7 68.2px 69.2px,#18ffe7 69.2px 70.3px,#48ffb7 70.3px 71.3px,#00e7ff 71.3px 72.4px,#38ffc7 72.4px 73.4px,#00f7ff 73.4px 74.5px,#28ffd7 74.5px 75.5px,#38ffc7 75.5px 77.6px,#18ffe7 77.6px 78.6px,#48ffb7 78.6px 79.7px,#00d7ff 79.7px 80.7px,#28ffd7 80.7px 81.8px,#00e7ff 81.8px 82.8px,#38ffc7 82.8px 83.9px,#00e7ff 83.9px 84.9px,#28ffd7 84.9px 87.0px,#68ff97 87.0px 88.1px,#00c7ff 88.1px 89.1px,#48ffb7 89.1px 90.2px,#08fff7 90.2px 91.2px,#38ffc7 91.2px 92.3px,#00e7ff 92.3px 93.3px,#58ffa7 93.3px 94.4px,#00f7ff 94.4px 95.4px,#28ffd7 95.4px 96.5px,#08fff7 96.5px 97.5px,#38ffc7 97.5px 98.6px,#18ffe7 98.6px 99.6px,#28ffd7 99.6px 100.7px,#00c7ff 100.7px 101.7px,#48ffb7 101.7px 102.8px,#08fff7 102.8px 103.8px,#48ffb7 103.8px 104.9px,#00f7ff 104.9px 105.9px,#28ffd7 105.9px 107.0px,#08fff7 107.0px 108.0px,#18ffe7 108.0px 109.1px,#08fff7 109.1px 110.1px,#28ffd7 110.1px 111.2px,#00e7ff 111.2px 112.2px,#28ffd7 112.2px 113.2px,#00d7ff 113.2px 114.3px,#68ff97 114.3px 115.3px,#00d7ff 115.3px 116.4px,#48ffb7 116.4px 117.4px,#00d7ff 117.4px 118.5px,#58ffa7 118.5px 119.5px,#00d7ff 119.5px 120.6px,#48ffb7 120.6px 121.6px,#08fff7 121.6px 122.7px,#78ff87 122.7px 123.7px,#00d7ff 123.7px 124.8px,#28ffd7 124.8px 125.8px,#00e7ff 125.8px 126.9px,#58ffa7 126.9px 127.9px,#00d7ff 127.9px 129.0px,#58ffa7 129.0px 130.0px,#00e7ff 130.0px 131.1px,#28ffd7 131.1px 132.1px,#00c7ff 132.1px 133.2px,#48ffb7 133.2px 134.2px,#08fff7 134.2px 135.3px,#38ffc7 135.3px 136.3px,#00c7ff 136.3px 137.4px,#38ffc7 137.4px 138.4px,#08fff7 138.4px 139.5px,#58ffa7 139.5px 140.5px,#00f7ff 140.5px 141.6px,#58ffa7 141.6px 142.6px,#00d7ff 142.6px 143.7px,#28ffd7 143.7px 145.8px,#48ffb7 145.8px 146.8px,#00e7ff 146.8px 147.9px,#38ffc7 147.9px 148.9px,#00b7ff 148.9px 150.0px,#58ffa7 150.0px 151.0px)"></div>
<div class="c" style="left:150.22px;width:9.89px;background:linear-gradient(#0068ff 0.0px 1.0px,#0058ff 1.0px 2.1px,#00b7ff 2.1px 3.1px,#0048ff 3.1px 4.2px,#0097ff 4.2px 5.2px,#0048ff 5.2px 6.3px,#0097ff 6.3px 7.3px,#0038ff 7.3px 8.4px,#00b7ff 8.4px 9.4px,#0048ff 9.4px 10.5px,#0097ff 10.5px 11.5px,#0028ff 11.5px 12.6px,#00b7ff 12.6px 13.6px,#0058ff 13.6px 14.7px,#00b7ff 14.7px 15.7px,#0048ff 15.7px 16.8px,#00a7ff 16.8px 17.8px,#0058ff 17.8px 18.9px,#0097ff 18.9px 19.9px,#0078ff 19.9px 21.0px,#0087ff 21.0px 22.0px,#0068ff 22.0px 23.1px,#00b7ff 23.1px 24.1px,#0078ff 24.1px 25.2px,#00a7ff 25.2px 26.2px,#0058ff 26.2px 27.3px,#0078ff 27.3px 29.4px,#0087ff 29.4px 30.4px,#0068ff 30.4px 31.5px,#0087ff 31.5px 32.5px,#0058ff 32.5px 33.6px,#0097ff 33.6px 34.6px,#0068ff 34.6px 35.7px,#0087ff 35.7px 36.7px,#0058ff 36.7px 37.8px,#0087ff 37.8px 38.8px,#0068ff 38.8px 39.8px,#0097ff 39.8px 40.9px,#0058ff 40.9px 41.9px,#0087ff 41.9px 43.0px,#0058ff 43.0px 44.0px,#0097ff 44.0px 45.1px,#0068ff 45.1px 46.1px,#0097ff 46.1px 47.2px,#0048ff 47.2px 48.2px,#00a7ff 48.2px 49.3px,#0048ff 49.3px 50.3px,#0097ff 50.3px 51.4px,#0028ff 51.4px 52.4px,#0097ff 52.4px 53.5px,#0068ff 53.5px 54.5px,#0087ff 54.5px 55.6px,#0068ff 55.6px 56.6px,#0087ff 56.6px 57.7px,#0078ff 57.7px 58.7px,#00a7ff 58.7px 59.8px,#0038ff 59.8px 60.8px,#0087ff 60.8px 61.9px,#0038ff 61.9px 62.9px,#0087ff 62.9px 64.0px,#0068ff 64.0px 65.0px,#00a7ff 65.0px 66.1px,#0058ff 66.1px 67.1px,#0087ff 67.1px 68.2px,#0058ff 68.2px 69.2px,#0087ff 69.2px 70.3px,#0058ff 70.3px 71.3px,#00a7ff 71.3px 72.4px,#0058ff 72.4px 73.4px,#00a7ff 73.4px 74.5px,#0048ff 74.5px 75.5px,#0087ff 75.5px 76.5px,#0058ff 76.5px 77.6px,#00b7ff 77.6px 78.6px,#0068ff 78.6px 79.7px,#00b7ff 79.7px 80.7px,#0058ff 80.7px 81.8px,#00a7ff 81.8px 82.8px,#0038ff 82.8px 83.9px,#0097ff 83.9px 84.9px,#0028ff 84.9px 86.0px,#00a7ff 86.0px 87.0px,#0068ff 87.0px 88.1px,#00a7ff 88.1px 89.1px,#0058ff 89.1px 90.2px,#0087ff 90.2px 91.2px,#0048ff 91.2px 92.3px,#0097ff 92.3px 93.3px,#0078ff 93.3px 94.4px,#00a7ff 94.4px 95.4px,#0048ff 95.4px 96.5px,#0087ff 96.5px 97.5px,#0048ff 97.5px 98.6px,#0097ff 98.6px 99.6px,#0058ff 99.6px 100.7px,#0087ff 100.7px 101.7px,#0058ff 101.7px 102.8px,#0078ff 102.8px 104.9px,#0097ff 104.9px 105.9px,#0078ff 105.9px 107.0px,#0097ff 107.0px 108.0px,#0058ff 108.0px 109.1px,#0097ff 109.1px 110.1px,#0058ff 110.1px 111.2px,#0087ff 111.2px 112.2px,#0048ff 112.2px 113.2px,#00b7ff 113.2px 114.3px,#0068ff 114.3px 115.3px,#0087ff 115.3px 116.4px,#0068ff 116.4px 117.4px,#0087ff 117.4px 118.5px,#0078ff 118.5px 120.6px,#0068ff 120.6px 121.6px,#0097ff 121.6px 122.7px,#0058ff 122.7px 123.7px,#0087ff 123.7px 124.8px,#0058ff 124.8px 125.8px,#0087ff 125.8px 126.9px,#0048ff 126.9px 127.9px,#0097ff 127.9px 129.0px,#0087ff 129.0px 131.1px,#0068ff 131.1px 132.1px,#0097ff 132.1px 133.2px,#0048ff 133.2px 134.2px,#00b7ff 134.2px 135.3px,#0068ff 135.3px 136.3px,#00a7ff 136.3px 137.4px,#0058ff 137.4px 138.4px,#0097ff 138.4px 139.5px,#0048ff 139.5px 140.5px,#0087ff 140.5px 141.6px,#0078ff 141.6px 142.6px,#0068ff 142.6px 143.7px,#0058ff 143.7px 144.7px,#00b7ff 144.7px 145.8px,#0068ff 145.8px 146.8px,#00a7ff 146.8px 147.9px,#0058ff 147.9px 148.9px,#00a7ff 148.9px 150.0px,#0068ff 150.0px 151.0px)"></div>
<div class="c" style="left:159.61px;width:9.89px;background:linear-gradient(#0068ff 0.0px 1.0px,#18ffe7 1.0px 2.1px,#0058ff 2.1px 3.1px,#0097ff 3.1px 4.2px,#0068ff 4.2px 5.2px,#00e7ff 5.2px 6.3px,#0058ff 6.3px 7.3px,#00d7ff 7.3px 8.4px,#0058ff 8.4px 9.4px,#00a7ff 9.4px 10.5px,#0097ff 10.5px 11.5px,#00e7ff 11.5px 12.6px,#00b7ff 12.6px 13.6px,#00e7ff 13.6px 14.7px,#0078ff 14.7px 15.7px,#00b7ff 15.7px 16.8px,#0087ff 16.8px 17.8px,#00c7ff 17.8px 18.9px,#0078ff 18.9px 19.9px,#08fff7 19.9px 21.0px,#0087ff 21.0px 22.0px,#00c7ff 22.0px 23.1px,#0058ff 23.1px 24.1px,#00f7ff 24.1px 25.2px,#0097ff 25.2px 26.2px,#18ffe7 26.2px 27.3px,#0068ff 27.3px 28.3px,#00e7ff 28.3px 29.4px,#00a7ff 29.4px 30.4px,#00d7ff 30.4px 31.5px,#0087ff 31.5px 32.5px,#00d7ff 32.5px 33.6px,#0048ff 33.6px 34.6px,#00c7ff 34.6px 35.7px,#0078ff 35.7px 36.7px,#00e7ff 36.7px 37.8px,#0078ff 37.8px 38.8px,#00d7ff 38.8px 39.8px,#0058ff 39.8px 40.9px,#00e7ff 40.9px 41.9px,#0068ff 41.9px 43.0px,#00b7ff 43.0px 44.0px,#0058ff 44.0px 45.1px,#18ffe7 45.1px 46.1px,#0058ff 46.1px 47.2px,#00f7ff 47.2px 48.2px,#0068ff 48.2px 49.3px,#00f7ff 49.3px 50.3px,#0058ff 50.3px 51.4px,#00b7ff 51.4px 52.4px,#0078ff 52.4px 53.5px,#00d7ff 53.5px 54.5px,#0068ff 54.5px 55.6px,#00d7ff 55.6px 56.6px,#0087ff 56.6px 57.7px,#00e7ff 57.7px 58.7px,#0078ff 58.7px 59.8px,#00c7ff 59.8px 60.8px,#0038ff 60.8px 61.9px,#00c7ff 61.9px 62.9px,#0087ff 62.9px 64.0px,#00f7ff 64.0px 65.0px,#0078ff 65.0px 66.1px,#00d7ff 66.1px 67.1px,#0048ff 67.1px 68.2px,#08fff7 68.2px 69.2px,#0078ff 69.2px 70.3px,#00f7ff 70.3px 71.3px,#0048ff 71.3px 72.4px,#00d7ff 72.4px 73.4px,#0078ff 73.4px 74.5px,#00f7ff 74.5px 75.5px,#0048ff 75.5px 76.5px,#00e7ff 76.5px 77.6px,#0048ff 77.6px 78.6px,#08fff7 78.6px 79.7px,#0087ff 79.7px 80.7px,#28ffd7 80.7px 81.8px,#0097ff 81.8px 82.8px,#00d7ff 82.8px 83.9px,#0078ff 83.9px 84.9px,#00d7ff 84.9px 86.0px,#0068ff 86.0px 87.0px,#00f7ff 87.0px 88.1px,#0068ff 88.1px 89.1px,#00e7ff 89.1px 90.2px,#0048ff 90.2px 91.2px,#00f7ff 91.2px 92.3px,#0068ff 92.3px 93.3px,#00f7ff 93.3px 94.4px,#0087ff 94.4px 95.4px,#00e7ff 95.4px 96.5px,#0087ff 96.5px 97.5px,#00d7ff 97.5px 98.6px,#0087ff 98.6px 99.6px,#00e7ff 99.6px 100.7px,#0058ff 100.7px 101.7px,#00d7ff 101.7px 102.8px,#0038ff 102.8px 103.8px,#00d7ff 103.8px 104.9px,#0058ff 104.9px 105.9px,#00e7ff 105.9px 107.0px,#0068ff 107.0px 108.0px,#00d7ff 108.0px 109.1px,#0068ff 109.1px 110.1px,#00a7ff 110.1px 111.2px,#0068ff 111.2px 112.2px,#00f7ff 112.2px 113.2px,#0087ff 113.2px 114.3px,#08fff7 114.3px 115.3px,#0068ff 115.3px 116.4px,#00e7ff 116.4px 117.4px,#0058ff 117.4px 118.5px,#00d7ff 118.5px 119.5px,#0068ff 119.5px 120.6px,#08fff7 120.6px 121.6px,#0038ff 121.6px 122.7px,#00d7ff 122.7px 123.7px,#0078ff 123.7px 124.8px,#00c7ff 124.8px 125.8px,#0078ff 125.8px 126.9px,#00b7ff 126.9px 127.9px,#0068ff 127.9px 129.0px,#00b7ff 129.0px 130.0px,#0078ff 130.0px 131.1px,#00c7ff 131.1px 132.1px,#0078ff 132.1px 133.2px,#00d7ff 133.2px 134.2px,#0048ff 134.2px 135.3px,#00d7ff 135.3px 136.3px,#0068ff 136.3px 137.4px,#00e7ff 137.4px 138.4px,#0068ff 138.4px 139.5px,#00d7ff 139.5px 140.5px,#0068ff 140.5px 141.6px,#00f7ff 141.6px 142.6px,#0058ff 142.6px 143.7px,#00f7ff 143.7px 144.7px,#0048ff 144.7px 145.8px,#08fff7 145.8px 146.8px,#0078ff 146.8px 147.9px,#00d7ff 147.9px 148.9px,#0068ff 148.9px 150.0px,#00b7ff 150.0px 151.0px)"></div>
</div>
<div class="t tk" style="left:3.10px;width:30px;text-align:right;top:163.65px">0</div>
<div class="t tk" style="left:3.10px;width:30px;text-align:right;top:144.78px">45</div>
<div class="t tk" style="left:3.10px;width:30px;text-align:right;top:125.90px">90</div>
<div class="t tk" style="left:3.10px;width:30px;text-align:right;top:107.03px">135</div>
<div class="t tk" style="left:3.10px;width:30px;text-align:right;top:88.15px">180</div>
<div class="t tk" style="left:3.10px;width:30px;text-align:right;top:69.28px">225</div>
<div class="t tk" style="left:3.10px;width:30px;text-align:right;top:50.40px">270</div>
<div class="t tk" style="left:3.10px;width:30px;text-align:right;top:31.53px">315</div>
<div class="t tk" style="left:3.10px;width:30px;text-align:right;top:12.65px">360</div>
<div class="t tk" style="left:49.17px;width:30px;text-align:center;top:173.35px">5</div>
<div class="t tk" style="left:96.11px;width:30px;text-align:center;top:173.35px">10</div>
<div class="t tk" style="left:143.06px;width:30px;text-align:center;top:173.35px">15</div>
<div class="t tk" style="left:190.00px;width:30px;text-align:center;top:173.35px">20</div>
<div class="t lb" style="left:60.50px;width:120px;text-align:center;top:184.20px">Wind speed, m/s</div>
<div class="t lb yl" style="left:-51.00px;top:87.20px">Wind direction, deg.</div>
<div class="cb" style="background:linear-gradient(#870000 0.0px 2.36px,#970000 2.36px 4.72px,#a70000 4.72px 7.08px,#b70000 7.08px 9.44px,#c70000 9.44px 11.8px,#d70000 11.8px 14.16px,#e70000 14.16px 16.52px,#f70000 16.52px 18.88px,#ff0800 18.88px 21.23px,#ff1800 21.23px 23.59px,#ff2800 23.59px 25.95px,#ff3800 25.95px 28.31px,#ff4800 28.31px 30.67px,#ff5800 30.67px 33.03px,#ff6800 33.03px 35.39px,#ff7800 35.39px 37.75px,#ff8700 37.75px 40.11px,#ff9700 40.11px 42.47px,#ffa700 42.47px 44.83px,#ffb700 44.83px 47.19px,#ffc700 47.19px 49.55px,#ffd700 49.55px 51.91px,#ffe700 51.91px 54.27px,#fff700 54.27px 56.62px,#f7ff08 56.62px 58.98px,#e7ff18 58.98px 61.34px,#d7ff28 61.34px 63.7px,#c7ff38 63.7px 66.06px,#b7ff48 66.06px 68.42px,#a7ff58 68.42px 70.78px,#97ff68 70.78px 73.14px,#87ff78 73.14px 75.5px,#78ff87 75.5px 77.86px,#68ff97 77.86px 80.22px,#58ffa7 80.22px 82.58px,#48ffb7 82.58px 84.94px,#38ffc7 84.94px 87.3px,#28ffd7 87.3px 89.66px,#18ffe7 89.66px 92.02px,#08fff7 92.02px 94.38px,#00f7ff 94.38px 96.73px,#00e7ff 96.73px 99.09px,#00d7ff 99.09px 101.45px,#00c7ff 101.45px 103.81px,#00b7ff 103.81px 106.17px,#00a7ff 106.17px 108.53px,#0097ff 108.53px 110.89px,#0087ff 110.89px 113.25px,#0078ff 113.25px 115.61px,#0068ff 115.61px 117.97px,#0058ff 117.97px 120.33px,#0048ff 120.33px 122.69px,#0038ff 122.69px 125.05px,#0028ff 125.05px 127.41px,#0018ff 127.41px 129.77px,#0008ff 129.77px 132.12px,#0000f7 132.12px 134.48px,#0000e7 134.48px 136.84px,#0000d7 136.84px 139.2px,#0000c7 139.2px 141.56px,#0000b7 141.56px 143.92px,#0000a7 143.92px 146.28px,#000097 146.28px 148.64px,#000087 148.64px 151.0px)"></div>
<div class="t tk" style="left:241.30px;top:162.60px">0.8</div>
<div class="t tk" style="left:241.30px;top:145.85px">0.9</div>
<div class="t tk" style="left:241.30px;top:129.11px">1</div>
<div class="t tk" style="left:241.30px;top:112.36px">1.1</div>
<div class="t tk" style="left:241.30px;top:95.62px">1.2</div>
<div class="t tk" style="left:241.30px;top:78.87px">1.3</div>
<div class="t tk" style="left:241.30px;top:62.13px">1.4</div>
<div class="t tk" style="left:241.30px;top:45.39px">1.5</div>
<div class="t tk" style="left:241.30px;top:28.64px">1.6</div>
</div>
<div class="pn" style="left:0px;top:209.2px">
<div class="t ttl" style="left:-10.70px;width:260px;text-align:center;top:3.01px">Maximum error of wind speed, m/s</div>
<div class="plot">
<div class="c" style="left:0.0px;width:9.89px;background:linear-gradient(#0000a7 0.0px 1.0px,#0000d7 1.0px 2.1px,#0000b7 2.1px 3.1px,#0000c7 3.1px 4.2px,#0000b7 4.2px 7.3px,#0000c7 7.3px 8.4px,#0000d7 8.4px 10.5px,#0000b7 10.5px 11.5px,#0000c7 11.5px 12.6px,#0000b7 12.6px 13.6px,#0000c7 13.6px 14.7px,#0000b7 14.7px 15.7px,#0000d7 15.7px 16.8px,#0000b7 16.8px 17.8px,#0000d7 17.8px 18.9px,#0000b7 18.9px 19.9px,#0000d7 19.9px 21.0px,#0000c7 21.0px 22.0px,#0000d7 22.0px 23.1px,#0000b7 23.1px 24.1px,#0000c7 24.1px 26.2px,#0000d7 26.2px 27.3px,#0000b7 27.3px 28.3px,#0000c7 28.3px 31.5px,#0000b7 31.5px 32.5px,#0000d7 32.5px 33.6px,#0000c7 33.6px 34.6px,#0000d7 34.6px 35.7px,#0000c7 35.7px 36.7px,#0000b7 36.7px 37.8px,#0000c7 37.8px 39.8px,#0000b7 39.8px 40.9px,#0000d7 40.9px 41.9px,#0000c7 41.9px 44.0px,#0000b7 44.0px 45.1px,#0000d7 45.1px 46.1px,#0000b7 46.1px 47.2px,#0000d7 47.2px 48.2px,#0000c7 48.2px 49.3px,#0000d7 49.3px 50.3px,#0000c7 50.3px 52.4px,#0000b7 52.4px 53.5px,#0000d7 53.5px 54.5px,#0000c7 54.5px 56.6px,#0000b7 56.6px 57.7px,#0000d7 57.7px 58.7px,#0000a7 58.7px 59.8px,#0000d7 59.8px 60.8px,#0000c7 60.8px 62.9px,#0000b7 62.9px 64.0px,#0000c7 64.0px 66.1px,#0000b7 66.1px 68.2px,#0000d7 68.2px 69.2px,#0000c7 69.2px 70.3px,#0000b7 70.3px 72.4px,#0000d7 72.4px 73.4px,#0000b7 73.4px 74.5px,#0000d7 74.5px 75.5px,#0000b7 75.5px 76.5px,#0000d7 76.5px 77.6px,#0000b7 77.6px 78.6px,#0000d7 78.6px 79.7px,#0000b7 79.7px 80.7px,#0000c7 80.7px 81.8px,#0000b7 81.8px 82.8px,#0000d7 82.8px 83.9px,#0000c7 83.9px 84.9px,#0000d7 84.9px 86.0px,#0000c7 86.0px 87.0px,#0000d7 87.0px 88.1px,#0000b7 88.1px 89.1px,#0000c7 89.1px 90.2px,#0000b7 90.2px 91.2px,#0000d7 91.2px 92.3px,#0000b7 92.3px 93.3px,#0000c7 93.3px 94.4px,#0000b7 94.4px 95.4px,#0000d7 95.4px 96.5px,#0000c7 96.5px 98.6px,#0000b7 98.6px 99.6px,#0000c7 99.6px 101.7px,#0000d7 101.7px 102.8px,#0000c7 102.8px 112.2px,#0000d7 112.2px 115.3px,#0000c7 115.3px 116.4px,#0000b7 116.4px 118.5px,#0000c7 118.5px 120.6px,#0000b7 120.6px 121.6px,#0000c7 121.6px 122.7px,#0000d7 122.7px 123.7px,#0000b7 123.7px 124.8px,#0000c7 124.8px 125.8px,#0000b7 125.8px 126.9px,#0000d7 126.9px 127.9px,#0000c7 127.9px 129.0px,#0000e7 129.0px 130.0px,#0000b7 130.0px 131.1px,#0000d7 131.1px 132.1px,#0000c7 132.1px 133.2px,#0000d7 133.2px 134.2px,#0000c7 134.2px 135.3px,#0000d7 135.3px 136.3px,#0000b7 136.3px 137.4px,#0000c7 137.4px 138.4px,#0000b7 138.4px 139.5px,#0000d7 139.5px 140.5px,#0000c7 140.5px 142.6px,#0000b7 142.6px 143.7px,#0000d7 143.7px 144.7px,#0000b7 144.7px 145.8px,#0000c7 145.8px 147.9px,#0000e7 147.9px 148.9px,#0000b7 148.9px 150.0px,#0000c7 150.0px 151.0px)"></div>
<div class="c" style="left:9.39px;width:9.89px;background:linear-gradient(#0000f7 0.0px 1.0px,#0000e7 1.0px 2.1px,#0008ff 2.1px 3.1px,#0000f7 3.1px 4.2px,#0008ff 4.2px 5.2px,#0000f7 5.2px 6.3px,#0008ff 6.3px 7.3px,#0000f7 7.3px 9.4px,#0000e7 9.4px 10.5px,#0008ff 10.5px 11.5px,#0000e7 11.5px 12.6px,#0008ff 12.6px 13.6px,#0000e7 13.6px 14.7px,#0008ff 14.7px 15.7px,#0000f7 15.7px 16.8px,#0008ff 16.8px 17.8px,#0000e7 17.8px 18.9px,#0008ff 18.9px 19.9px,#0000f7 19.9px 21.0px,#0018ff 21.0px 22.0px,#0000d7 22.0px 23.1px,#0008ff 23.1px 24.1px,#0000e7 24.1px 25.2px,#0008ff 25.2px 26.2px,#0000f7 26.2px 27.3px,#0008ff 27.3px 28.3px,#0000f7 28.3px 29.4px,#0008ff 29.4px 30.4px,#0000f7 30.4px 31.5px,#0008ff 31.5px 32.5px,#0000e7 32.5px 33.6px,#0008ff 33.6px 34.6px,#0000e7 34.6px 35.7px,#0018ff 35.7px 36.7px,#0000f7 36.7px 37.8px,#0018ff 37.8px 38.8px,#0000f7 38.8px 39.8px,#0008ff 39.8px 40.9px,#0000f7 40.9px 41.9px,#0008ff 41.9px 43.0px,#0000e7 43.0px 44.0px,#0008ff 44.0px 45.1px,#0000f7 45.1px 46.1px,#0018ff 46.1px 47.2px,#0000e7 47.2px 48.2px,#0008ff 48.2px 49.3px,#0000e7 49.3px 50.3px,#0000f7 50.3px 51.4px,#0000e7 51.4px 52.4px,#0000f7 52.4px 54.5px,#0008ff 54.5px 55.6px,#0000f7 55.6px 56.6px,#0008ff 56.6px 57.7px,#0000f7 57.7px 58.7px,#0008ff 58.7px 59.8px,#0000f7 59.8px 60.8px,#0008ff 60.8px 61.9px,#0000e7 61.9px 62.9px,#0008ff 62.9px 64.0px,#0000e7 64.0px 65.0px,#0008ff 65.0px 66.1px,#0000f7 66.1px 67.1px,#0008ff 67.1px 68.2px,#0000f7 68.2px 71.3px,#0008ff 71.3px 72.4px,#0000e7 72.4px 73.4px,#0008ff 73.4px 74.5px,#0000e7 74.5px 75.5px,#0008ff 75.5px 76.5px,#0000e7 76.5px 77.6px,#0008ff 77.6px 78.6px,#0000d7 78.6px 79.7px,#0008ff 79.7px 80.7px,#0000e7 80.7px 81.8px,#0008ff 81.8px 82.8px,#0000f7 82.8px 86.0px,#0008ff 86.0px 87.0px,#0000e7 87.0px 88.1px,#0008ff 88.1px 89.1px,#0000e7 89.1px 90.2px,#0000f7 90.2px 91.2px,#0000e7 91.2px 92.3px,#0008ff 92.3px 93.3px,#0000f7 93.3px 96.5px,#0008ff 96.5px 97.5px,#0000e7 97.5px 98.6px,#0000f7 98.6px 99.6px,#0000e7 99.6px 100.7px,#0008ff 100.7px 101.7px,#0000f7 101.7px 102.8px,#0008ff 102.8px 103.8px,#0000e7 103.8px 104.9px,#0000f7 104.9px 107.0px,#0018ff 107.0px 108.0px,#0000e7 108.0px 109.1px,#0008ff 109.1px 110.1px,#0000f7 110.1px 111.2px,#0008ff 111.2px 114.3px,#0000f7 114.3px 115.3px,#0008ff 115.3px 116.4px,#0000f7 116.4px 119.5px,#0008ff 119.5px 120.6px,#0000f7 120.6px 122.7px,#0000e7 122.7px 123.7px,#0008ff 123.7px 124.8px,#0000f7 124.8px 125.8px,#0008ff 125.8px 126.9px,#0000f7 126.9px 127.9px,#0008ff 127.9px 129.0px,#0000f7 129.0px 130.0px,#0008ff 130.0px 131.1px,#0000f7 131.1px 132.1px,#0008ff 132.1px 133.2px,#0000f7 133.2px 134.2px,#0008ff 134.2px 135.3px,#0000f7 135.3px 136.3px,#0008ff 136.3px 137.4px,#0000f7 137.4px 138.4px,#0018ff 138.4px 139.5px,#0000e7 139.5px 140.5px,#0008ff 140.5px 141.6px,#0000e7 141.6px 142.6px,#0008ff 142.6px 143.7px,#0000e7 143.7px 144.7px,#0008ff 144.7px 145.8px,#0000f7 145.8px 148.9px,#0008ff 148.9px 150.0px,#0000e7 150.0px 151.0px)"></div>
<div class="c" style="left:18.78px;width:9.89px;background:linear-gradient(#0000f7 0.0px 2.1px,#0028ff 2.1px 3.1px,#0000f7 3.1px 4.2px,#0028ff 4.2px 5.2px,#0000f7 5.2px 6.3px,#0018ff 6.3px 7.3px,#0000f7 7.3px 10.5px,#0018ff 10.5px 11.5px,#0000e7 11.5px 12.6px,#0008ff 12.6px 13.6px,#0000f7 13.6px 14.7px,#0008ff 14.7px 15.7px,#0000e7 15.7px 16.8px,#0008ff 16.8px 21.0px,#0018ff 21.0px 22.0px,#0000f7 22.0px 23.1px,#0008ff 23.1px 24.1px,#0000e7 24.1px 25.2px,#0008ff 25.2px 27.3px,#0018ff 27.3px 28.3px,#0008ff 28.3px 30.4px,#0000f7 30.4px 31.5px,#0008ff 31.5px 32.5px,#0000f7 32.5px 33.6px,#0008ff 33.6px 34.6px,#0000e7 34.6px 35.7px,#0008ff 35.7px 36.7px,#0000e7 36.7px 37.8px,#0008ff 37.8px 40.9px,#0018ff 40.9px 43.0px,#0000f7 43.0px 44.0px,#0018ff 44.0px 45.1px,#0000f7 45.1px 46.1px,#0008ff 46.1px 49.3px,#0000d7 49.3px 50.3px,#0018ff 50.3px 51.4px,#0000f7 51.4px 52.4px,#0018ff 52.4px 53.5px,#0000f7 53.5px 54.5px,#0008ff 54.5px 57.7px,#0000f7 57.7px 58.7px,#0018ff 58.7px 59.8px,#0000f7 59.8px 60.8px,#0008ff 60.8px 61.9px,#0000f7 61.9px 62.9px,#0018ff 62.9px 64.0px,#0000f7 64.0px 65.0px,#0018ff 65.0px 66.1px,#0008ff 66.1px 67.1px,#0028ff 67.1px 68.2px,#0000f7 68.2px 69.2px,#0008ff 69.2px 72.4px,#0000f7 72.4px 73.4px,#0018ff 73.4px 74.5px,#0008ff 74.5px 76.5px,#0000f7 76.5px 79.7px,#0018ff 79.7px 80.7px,#0000f7 80.7px 81.8px,#0008ff 81.8px 82.8px,#0000e7 82.8px 83.9px,#0018ff 83.9px 84.9px,#0000f7 84.9px 86.0px,#0008ff 86.0px 88.1px,#0018ff 88.1px 89.1px,#0008ff 89.1px 92.3px,#0018ff 92.3px 93.3px,#0000f7 93.3px 94.4px,#0008ff 94.4px 95.4px,#0000f7 95.4px 96.5px,#0018ff 96.5px 97.5px,#0000f7 97.5px 98.6px,#0018ff 98.6px 99.6px,#0008ff 99.6px 100.7px,#0018ff 100.7px 101.7px,#0008ff 101.7px 103.8px,#0000e7 103.8px 104.9px,#0018ff 104.9px 105.9px,#0008ff 105.9px 107.0px,#0018ff 107.0px 108.0px,#0008ff 108.0px 110.1px,#0000f7 110.1px 111.2px,#0008ff 111.2px 113.2px,#0018ff 113.2px 114.3px,#0000f7 114.3px 115.3px,#0008ff 115.3px 116.4px,#0000f7 116.4px 117.4px,#0018ff 117.4px 118.5px,#0000f7 118.5px 119.5px,#0008ff 119.5px 121.6px,#0018ff 121.6px 122.7px,#0008ff 122.7px 123.7px,#0018ff 123.7px 124.8px,#0008ff 124.8px 125.8px,#0018ff 125.8px 126.9px,#0008ff 126.9px 130.0px,#0018ff 130.0px 131.1px,#0008ff 131.1px 132.1px,#0000f7 132.1px 133.2px,#0008ff 133.2px 134.2px,#0018ff 134.2px 135.3px,#0000f7 135.3px 136.3px,#0018ff 136.3px 137.4px,#0008ff 137.4px 138.4px,#0018ff 138.4px 139.5px,#0000f7 139.5px 140.5px,#0008ff 140.5px 142.6px,#0018ff 142.6px 143.7px,#0000f7 143.7px 144.7px,#0018ff 144.7px 145.8px,#0000f7 145.8px 146.8px,#0018ff 146.8px 147.9px,#0000f7 147.9px 148.9px,#0008ff 148.9px 150.0px,#0000f7 150.0px 151.0px)"></div>
<div class="c" style="left:28.17px;width:9.89px;background:linear-gradient(#0000f7 0.0px 1.0px,#0018ff 1.0px 2.1px,#0008ff 2.1px 3.1px,#0018ff 3.1px 4.2px,#0000f7 4.2px 5.2px,#0028ff 5.2px 6.3px,#0000f7 6.3px 7.3px,#0018ff 7.3px 8.4px,#0000f7 8.4px 9.4px,#0008ff 9.4px 11.5px,#0018ff 11.5px 12.6px,#0000f7 12.6px 13.6px,#0018ff 13.6px 14.7px,#0008ff 14.7px 15.7px,#0018ff 15.7px 16.8px,#0008ff 16.8px 17.8px,#0028ff 17.8px 18.9px,#0000f7 18.9px 19.9px,#0018ff 19.9px 21.0px,#0000f7 21.0px 22.0px,#0028ff 22.0px 23.1px,#0008ff 23.1px 24.1px,#0028ff 24.1px 25.2px,#0008ff 25.2px 26.2px,#0018ff 26.2px 27.3px,#0008ff 27.3px 28.3px,#0018ff 28.3px 29.4px,#0008ff 29.4px 30.4px,#0028ff 30.4px 31.5px,#0000f7 31.5px 32.5px,#0018ff 32.5px 33.6px,#0008ff 33.6px 34.6px,#0028ff 34.6px 35.7px,#0018ff 35.7px 37.8px,#0008ff 37.8px 40.9px,#0018ff 40.9px 41.9px,#0000f7 41.9px 43.0px,#0028ff 43.0px 44.0px,#0000f7 44.0px 45.1px,#0018ff 45.1px 46.1px,#0008ff 46.1px 49.3px,#0028ff 49.3px 50.3px,#0000f7 50.3px 51.4px,#0008ff 51.4px 53.5px,#0018ff 53.5px 54.5px,#0000f7 54.5px 55.6px,#0018ff 55.6px 56.6px,#0008ff 56.6px 57.7px,#0018ff 57.7px 58.7px,#0008ff 58.7px 59.8px,#0018ff 59.8px 61.9px,#0028ff 61.9px 62.9px,#0008ff 62.9px 64.0px,#0028ff 64.0px 65.0px,#0018ff 65.0px 66.1px,#0028ff 66.1px 67.1px,#0000f7 67.1px 68.2px,#0028ff 68.2px 69.2px,#0008ff 69.2px 70.3px,#0028ff 70.3px 71.3px,#0008ff 71.3px 72.4px,#0018ff 72.4px 73.4px,#0008ff 73.4px 74.5px,#0028ff 74.5px 75.5px,#0008ff 75.5px 76.5px,#0018ff 76.5px 77.6px,#0008ff 77.6px 78.6px,#0018ff 78.6px 79.7px,#0008ff 79.7px 80.7px,#0018ff 80.7px 81.8px,#0008ff 81.8px 82.8px,#0028ff 82.8px 83.9px,#0008ff 83.9px 84.9px,#0018ff 84.9px 86.0px,#0008ff 86.0px 87.0px,#0028ff 87.0px 88.1px,#0000f7 88.1px 89.1px,#0018ff 89.1px 90.2px,#0008ff 90.2px 91.2px,#0018ff 91.2px 92.3px,#0008ff 92.3px 93.3px,#0018ff 93.3px 94.4px,#0000f7 94.4px 95.4px,#0018ff 95.4px 98.6px,#0008ff 98.6px 99.6px,#0018ff 99.6px 100.7px,#0000f7 100.7px 101.7px,#0018ff 101.7px 102.8px,#0008ff 102.8px 103.8px,#0018ff 103.8px 104.9px,#0008ff 104.9px 107.0px,#0018ff 107.0px 108.0px,#0028ff 108.0px 109.1px,#0008ff 109.1px 110.1px,#0018ff 110.1px 111.2px,#0008ff 111.2px 112.2px,#0028ff 112.2px 113.2px,#0000f7 113.2px 114.3px,#0028ff 114.3px 115.3px,#0008ff 115.3px 116.4px,#0028ff 116.4px 117.4px,#0008ff 117.4px 118.5px,#0018ff 118.5px 119.5px,#0008ff 119.5px 120.6px,#0028ff 120.6px 121.6px,#0000f7 121.6px 122.7px,#0018ff 122.7px 123.7px,#0008ff 123.7px 125.8px,#0018ff 125.8px 127.9px,#0008ff 127.9px 129.0px,#0028ff 129.0px 130.0px,#0000f7 130.0px 131.1px,#0018ff 131.1px 133.2px,#0028ff 133.2px 134.2px,#0000e7 134.2px 135.3px,#0000f7 135.3px 137.4px,#0028ff 137.4px 138.4px,#0008ff 138.4px 139.5px,#0018ff 139.5px 140.5px,#0008ff 140.5px 141.6px,#0018ff 141.6px 142.6px,#0008ff 142.6px 143.7px,#0028ff 143.7px 144.7px,#0008ff 144.7px 145.8px,#0018ff 145.8px 146.8px,#0000f7 146.8px 147.9px,#0018ff 147.9px 148.9px,#0008ff 148.9px 150.0px,#0028ff 150.0px 151.0px)"></div>
<div class="c" style="left:37.56px;width:9.89px;background:linear-gradient(#0048ff 0.0px 1.0px,#0018ff 1.0px 2.1px,#0048ff 2.1px 3.1px,#0038ff 3.1px 4.2px,#0058ff 4.2px 5.2px,#0048ff 5.2px 7.3px,#0028ff 7.3px 8.4px,#0058ff 8.4px 9.4px,#0028ff 9.4px 10.5px,#0058ff 10.5px 11.5px,#0038ff 11.5px 12.6px,#0058ff 12.6px 13.6px,#0038ff 13.6px 14.7px,#0058ff 14.7px 15.7px,#0048ff 15.7px 17.8px,#0038ff 17.8px 18.9px,#0048ff 18.9px 19.9px,#0038ff 19.9px 21.0px,#0058ff 21.0px 22.0px,#0038ff 22.0px 23.1px,#0048ff 23.1px 24.1px,#0028ff 24.1px 25.2px,#0048ff 25.2px 26.2px,#0038ff 26.2px 27.3px,#0048ff 27.3px 29.4px,#0058ff 29.4px 30.4px,#0038ff 30.4px 33.6px,#0058ff 33.6px 34.6px,#0028ff 34.6px 35.7px,#0058ff 35.7px 36.7px,#0048ff 36.7px 37.8px,#0058ff 37.8px 38.8px,#0038ff 38.8px 39.8px,#0068ff 39.8px 40.9px,#0048ff 40.9px 43.0px,#0038ff 43.0px 44.0px,#0048ff 44.0px 45.1px,#0038ff 45.1px 48.2px,#0048ff 48.2px 49.3px,#0038ff 49.3px 50.3px,#0048ff 50.3px 53.5px,#0028ff 53.5px 54.5px,#0058ff 54.5px 55.6px,#0048ff 55.6px 58.7px,#0058ff 58.7px 59.8px,#0028ff 59.8px 60.8px,#0068ff 60.8px 61.9px,#0028ff 61.9px 62.9px,#0058ff 62.9px 64.0px,#0038ff 64.0px 65.0px,#0058ff 65.0px 66.1px,#0028ff 66.1px 67.1px,#0048ff 67.1px 69.2px,#0058ff 69.2px 70.3px,#0038ff 70.3px 71.3px,#0048ff 71.3px 72.4px,#0038ff 72.4px 74.5px,#0028ff 74.5px 75.5px,#0048ff 75.5px 76.5px,#0028ff 76.5px 77.6px,#0048ff 77.6px 78.6px,#0038ff 78.6px 79.7px,#0048ff 79.7px 80.7px,#0038ff 80.7px 81.8px,#0068ff 81.8px 82.8px,#0048ff 82.8px 83.9px,#0058ff 83.9px 84.9px,#0038ff 84.9px 86.0px,#0048ff 86.0px 87.0px,#0028ff 87.0px 88.1px,#0048ff 88.1px 89.1px,#0018ff 89.1px 90.2px,#0048ff 90.2px 91.2px,#0038ff 91.2px 92.3px,#0068ff 92.3px 93.3px,#0048ff 93.3px 95.4px,#0038ff 95.4px 96.5px,#0048ff 96.5px 100.7px,#0068ff 100.7px 101.7px,#0048ff 101.7px 102.8px,#0068ff 102.8px 103.8px,#0038ff 103.8px 104.9px,#0048ff 104.9px 107.0px,#0068ff 107.0px 108.0px,#0028ff 108.0px 109.1px,#0048ff 109.1px 110.1px,#0028ff 110.1px 111.2px,#0048ff 111.2px 114.3px,#0028ff 114.3px 115.3px,#0038ff 115.3px 117.4px,#0058ff 117.4px 118.5px,#0038ff 118.5px 119.5px,#0058ff 119.5px 120.6px,#0028ff 120.6px 121.6px,#0068ff 121.6px 122.7px,#0038ff 122.7px 123.7px,#0048ff 123.7px 124.8px,#0038ff 124.8px 127.9px,#0048ff 127.9px 129.0px,#0038ff 129.0px 130.0px,#0058ff 130.0px 131.1px,#0038ff 131.1px 134.2px,#0058ff 134.2px 135.3px,#0038ff 135.3px 137.4px,#0028ff 137.4px 138.4px,#0058ff 138.4px 139.5px,#0038ff 139.5px 140.5px,#0048ff 140.5px 141.6px,#0028ff 141.6px 142.6px,#0068ff 142.6px 143.7px,#0018ff 143.7px 144.7px,#0048ff 144.7px 147.9px,#0038ff 147.9px 148.9px,#0048ff 148.9px 151.0px)"></div>
<div class="c" style="left:46.94px;width:9.89px;background:linear-gradient(#0087ff 0.0px 1.0px,#00c7ff 1.0px 2.1px,#00a7ff 2.1px 3.1px,#00b7ff 3.1px 5.2px,#00a7ff 5.2px 6.3px,#0097ff 6.3px 7.3px,#00c7ff 7.3px 8.4px,#0097ff 8.4px 9.4px,#00c7ff 9.4px 10.5px,#00b7ff 10.5px 12.6px,#0097ff 12.6px 13.6px,#00b7ff 13.6px 14.7px,#0097ff 14.7px 15.7px,#00c7ff 15.7px 16.8px,#00a7ff 16.8px 17.8px,#00c7ff 17.8px 18.9px,#00a7ff 18.9px 19.9px,#00b7ff 19.9px 23.1px,#00a7ff 23.1px 24.1px,#00d7ff 24.1px 25.2px,#0097ff 25.2px 26.2px,#00c7ff 26.2px 27.3px,#0087ff 27.3px 28.3px,#00b7ff 28.3px 29.4px,#0087ff 29.4px 30.4px,#00b7ff 30.4px 31.5px,#0097ff 31.5px 32.5px,#00c7ff 32.5px 33.6px,#00b7ff 33.6px 34.6px,#00c7ff 34.6px 35.7px,#00a7ff 35.7px 36.7px,#00c7ff 36.7px 37.8px,#00a7ff 37.8px 38.8px,#00b7ff 38.8px 39.8px,#0087ff 39.8px 40.9px,#00c7ff 40.9px 41.9px,#00b7ff 41.9px 43.0px,#00c7ff 43.0px 44.0px,#0097ff 44.0px 45.1px,#00d7ff 45.1px 46.1px,#0097ff 46.1px 47.2px,#00b7ff 47.2px 48.2px,#0097ff 48.2px 49.3px,#00b7ff 49.3px 50.3px,#00a7ff 50.3px 51.4px,#00e7ff 51.4px 52.4px,#00a7ff 52.4px 53.5px,#00b7ff 53.5px 54.5px,#0097ff 54.5px 55.6px,#00b7ff 55.6px 56.6px,#0087ff 56.6px 57.7px,#00c7ff 57.7px 58.7px,#00a7ff 58.7px 59.8px,#00c7ff 59.8px 60.8px,#00a7ff 60.8px 62.9px,#0087ff 62.9px 64.0px,#00d7ff 64.0px 65.0px,#00b7ff 65.0px 66.1px,#00a7ff 66.1px 68.2px,#00c7ff 68.2px 69.2px,#00a7ff 69.2px 70.3px,#00c7ff 70.3px 71.3px,#0097ff 71.3px 72.4px,#00c7ff 72.4px 73.4px,#00a7ff 73.4px 74.5px,#00c7ff 74.5px 75.5px,#0087ff 75.5px 76.5px,#0097ff 76.5px 78.6px,#00a7ff 78.6px 80.7px,#00c7ff 80.7px 81.8px,#00a7ff 81.8px 82.8px,#00b7ff 82.8px 83.9px,#00a7ff 83.9px 84.9px,#00d7ff 84.9px 86.0px,#0097ff 86.0px 87.0px,#00d7ff 87.0px 88.1px,#00a7ff 88.1px 89.1px,#00c7ff 89.1px 90.2px,#00b7ff 90.2px 94.4px,#0097ff 94.4px 95.4px,#00b7ff 95.4px 96.5px,#00a7ff 96.5px 97.5px,#00b7ff 97.5px 98.6px,#00a7ff 98.6px 99.6px,#00b7ff 99.6px 101.7px,#00d7ff 101.7px 102.8px,#00a7ff 102.8px 103.8px,#00d7ff 103.8px 104.9px,#00a7ff 104.9px 105.9px,#00e7ff 105.9px 107.0px,#00a7ff 107.0px 109.1px,#00b7ff 109.1px 110.1px,#00c7ff 110.1px 111.2px,#0097ff 111.2px 112.2px,#00b7ff 112.2px 113.2px,#0087ff 113.2px 114.3px,#00b7ff 114.3px 115.3px,#0097ff 115.3px 116.4px,#00d7ff 116.4px 117.4px,#00a7ff 117.4px 119.5px,#0087ff 119.5px 120.6px,#00b7ff 120.6px 121.6px,#0087ff 121.6px 122.7px,#00c7ff 122.7px 123.7px,#00a7ff 123.7px 124.8px,#00b7ff 124.8px 125.8px,#0097ff 125.8px 126.9px,#00c7ff 126.9px 127.9px,#00b7ff 127.9px 129.0px,#00d7ff 129.0px 130.0px,#00a7ff 130.0px 131.1px,#00c7ff 131.1px 132.1px,#0097ff 132.1px 133.2px,#00c7ff 133.2px 134.2px,#0097ff 134.2px 135.3px,#00c7ff 135.3px 136.3px,#0097ff 136.3px 137.4px,#00b7ff 137.4px 138.4px,#00a7ff 138.4px 139.5px,#00c7ff 139.5px 140.5px,#0087ff 140.5px 141.6px,#00b7ff 141.6px 142.6px,#00a7ff 142.6px 143.7px,#00c7ff 143.7px 144.7px,#0097ff 144.7px 145.8px,#00c7ff 145.8px 146.8px,#0097ff 146.8px 147.9px,#00d7ff 147.9px 148.9px,#00a7ff 148.9px 151.0px)"></div>
<div class="c" style="left:56.33px;width:9.89px;background:linear-gradient(#00c7ff 0.0px 1.0px,#00b7ff 1.0px 2.1px,#00c7ff 2.1px 3.1px,#00b7ff 3.1px 5.2px,#0087ff 5.2px 6.3px,#00c7ff 6.3px 7.3px,#00a7ff 7.3px 8.4px,#00c7ff 8.4px 9.4px,#0087ff 9.4px 10.5px,#00c7ff 10.5px 11.5px,#0097ff 11.5px 12.6px,#00c7ff 12.6px 13.6px,#0097ff 13.6px 14.7px,#00b7ff 14.7px 15.7px,#0097ff 15.7px 16.8px,#00d7ff 16.8px 17.8px,#00a7ff 17.8px 18.9px,#00b7ff 18.9px 19.9px,#0097ff 19.9px 21.0px,#00b7ff 21.0px 23.1px,#00a7ff 23.1px 24.1px,#0097ff 24.1px 25.2px,#00c7ff 25.2px 26.2px,#00b7ff 26.2px 27.3px,#00c7ff 27.3px 28.3px,#00a7ff 28.3px 29.4px,#00c7ff 29.4px 30.4px,#00b7ff 30.4px 31.5px,#00c7ff 31.5px 32.5px,#00b7ff 32.5px 33.6px,#00c7ff 33.6px 34.6px,#00b7ff 34.6px 37.8px,#00a7ff 37.8px 38.8px,#0087ff 38.8px 39.8px,#00c7ff 39.8px 40.9px,#0097ff 40.9px 41.9px,#00c7ff 41.9px 43.0px,#0097ff 43.0px 44.0px,#00d7ff 44.0px 45.1px,#00a7ff 45.1px 46.1px,#00b7ff 46.1px 47.2px,#00a7ff 47.2px 48.2px,#00d7ff 48.2px 49.3px,#0097ff 49.3px 50.3px,#00c7ff 50.3px 52.4px,#00d7ff 52.4px 53.5px,#00a7ff 53.5px 54.5px,#00b7ff 54.5px 55.6px,#00a7ff 55.6px 57.7px,#0078ff 57.7px 58.7px,#00b7ff 58.7px 59.8px,#0097ff 59.8px 60.8px,#00d7ff 60.8px 61.9px,#00a7ff 61.9px 62.9px,#00b7ff 62.9px 64.0px,#0097ff 64.0px 65.0px,#00c7ff 65.0px 66.1px,#0097ff 66.1px 67.1px,#00b7ff 67.1px 68.2px,#00a7ff 68.2px 69.2px,#00c7ff 69.2px 70.3px,#00a7ff 70.3px 71.3px,#00c7ff 71.3px 72.4px,#00b7ff 72.4px 73.4px,#00d7ff 73.4px 74.5px,#0087ff 74.5px 75.5px,#00e7ff 75.5px 76.5px,#00a7ff 76.5px 77.6px,#00d7ff 77.6px 78.6px,#0097ff 78.6px 79.7px,#00c7ff 79.7px 80.7px,#00a7ff 80.7px 81.8px,#00c7ff 81.8px 82.8px,#00b7ff 82.8px 83.9px,#00c7ff 83.9px 84.9px,#0097ff 84.9px 86.0px,#00c7ff 86.0px 87.0px,#00b7ff 87.0px 88.1px,#00c7ff 88.1px 89.1px,#0097ff 89.1px 90.2px,#00b7ff 90.2px 91.2px,#00a7ff 91.2px 92.3px,#00b7ff 92.3px 93.3px,#0097ff 93.3px 94.4px,#00d7ff 94.4px 95.4px,#0097ff 95.4px 96.5px,#00c7ff 96.5px 97.5px,#0097ff 97.5px 98.6px,#00d7ff 98.6px 99.6px,#00b7ff 99.6px 100.7px,#00c7ff 100.7px 101.7px,#00a7ff 101.7px 102.8px,#00b7ff 102.8px 103.8px,#00c7ff 103.8px 104.9px,#00d7ff 104.9px 105.9px,#0097ff 105.9px 107.0px,#00d7ff 107.0px 108.0px,#00a7ff 108.0px 109.1px,#00c7ff 109.1px 110.1px,#00a7ff 110.1px 111.2px,#00b7ff 111.2px 112.2px,#0097ff 112.2px 113.2px,#00c7ff 113.2px 114.3px,#00a7ff 114.3px 115.3px,#00b7ff 115.3px 116.4px,#00c7ff 116.4px 118.5px,#0097ff 118.5px 119.5px,#00b7ff 119.5px 120.6px,#00a7ff 120.6px 121.6px,#00d7ff 121.6px 122.7px,#00a7ff 122.7px 123.7px,#00d7ff 123.7px 124.8px,#0087ff 124.8px 125.8px,#00b7ff 125.8px 126.9px,#0097ff 126.9px 127.9px,#00c7ff 127.9px 129.0px,#00a7ff 129.0px 131.1px,#00d7ff 131.1px 132.1px,#00b7ff 132.1px 133.2px,#00a7ff 133.2px 134.2px,#00d7ff 134.2px 135.3px,#00b7ff 135.3px 136.3px,#00c7ff 136.3px 137.4px,#0078ff 137.4px 138.4px,#00b7ff 138.4px 141.6px,#0097ff 141.6px 143.7px,#00b7ff 143.7px 144.7px,#00c7ff 144.7px 145.8px,#0097ff 145.8px 146.8px,#00c7ff 146.8px 147.9px,#00a7ff 147.9px 148.9px,#00b7ff 148.9px 150.0px,#00a7ff 150.0px 151.0px)"></div>
<div class="c" style="left:65.72px;width:9.89px;background:linear-gradient(#00f7ff 0.0px 1.0px,#00e7ff 1.0px 2.1px,#08fff7 2.1px 3.1px,#00d7ff 3.1px 4.2px,#00e7ff 4.2px 5.2px,#00d7ff 5.2px 6.3px,#00e7ff 6.3px 7.3px,#00c7ff 7.3px 8.4px,#08fff7 8.4px 9.4px,#00d7ff 9.4px 10.5px,#00f7ff 10.5px 11.5px,#00e7ff 11.5px 14.7px,#00f7ff 14.7px 15.7px,#00d7ff 15.7px 16.8px,#00f7ff 16.8px 17.8px,#00c7ff 17.8px 18.9px,#00d7ff 18.9px 21.0px,#00e7ff 21.0px 23.1px,#00f7ff 23.1px 24.1px,#00c7ff 24.1px 25.2px,#00f7ff 25.2px 26.2px,#00e7ff 26.2px 27.3px,#08fff7 27.3px 28.3px,#00d7ff 28.3px 29.4px,#00f7ff 29.4px 30.4px,#00d7ff 30.4px 31.5px,#00f7ff 31.5px 32.5px,#00e7ff 32.5px 33.6px,#00f7ff 33.6px 34.6px,#00d7ff 34.6px 35.7px,#00e7ff 35.7px 36.7px,#00b7ff 36.7px 37.8px,#00d7ff 37.8px 39.8px,#08fff7 39.8px 40.9px,#00e7ff 40.9px 43.0px,#00b7ff 43.0px 44.0px,#08fff7 44.0px 45.1px,#00d7ff 45.1px 46.1px,#00e7ff 46.1px 48.2px,#00f7ff 48.2px 49.3px,#00e7ff 49.3px 50.3px,#00f7ff 50.3px 51.4px,#00e7ff 51.4px 52.4px,#00f7ff 52.4px 53.5px,#00c7ff 53.5px 54.5px,#00f7ff 54.5px 55.6px,#00c7ff 55.6px 56.6px,#08fff7 56.6px 57.7px,#00c7ff 57.7px 58.7px,#00d7ff 58.7px 59.8px,#00e7ff 59.8px 60.8px,#08fff7 60.8px 61.9px,#00e7ff 61.9px 62.9px,#08fff7 62.9px 64.0px,#00c7ff 64.0px 65.0px,#00e7ff 65.0px 66.1px,#00c7ff 66.1px 67.1px,#00f7ff 67.1px 68.2px,#00b7ff 68.2px 69.2px,#00f7ff 69.2px 70.3px,#00d7ff 70.3px 71.3px,#00e7ff 71.3px 72.4px,#00d7ff 72.4px 73.4px,#08fff7 73.4px 74.5px,#00d7ff 74.5px 75.5px,#08fff7 75.5px 76.5px,#00e7ff 76.5px 77.6px,#00f7ff 77.6px 78.6px,#00d7ff 78.6px 79.7px,#00f7ff 79.7px 80.7px,#00e7ff 80.7px 82.8px,#00c7ff 82.8px 83.9px,#08fff7 83.9px 84.9px,#00c7ff 84.9px 86.0px,#00f7ff 86.0px 87.0px,#00e7ff 87.0px 88.1px,#00f7ff 88.1px 89.1px,#00d7ff 89.1px 90.2px,#08fff7 90.2px 91.2px,#00e7ff 91.2px 92.3px,#00d7ff 92.3px 93.3px,#00c7ff 93.3px 94.4px,#08fff7 94.4px 95.4px,#00d7ff 95.4px 97.5px,#00c7ff 97.5px 98.6px,#00f7ff 98.6px 99.6px,#00c7ff 99.6px 100.7px,#00f7ff 100.7px 101.7px,#00d7ff 101.7px 102.8px,#00f7ff 102.8px 103.8px,#00c7ff 103.8px 104.9px,#00f7ff 104.9px 107.0px,#00e7ff 107.0px 109.1px,#08fff7 109.1px 110.1px,#00e7ff 110.1px 111.2px,#00f7ff 111.2px 112.2px,#00c7ff 112.2px 113.2px,#00e7ff 113.2px 115.3px,#08fff7 115.3px 116.4px,#00e7ff 116.4px 117.4px,#08fff7 117.4px 118.5px,#00e7ff 118.5px 120.6px,#00c7ff 120.6px 121.6px,#00f7ff 121.6px 122.7px,#00d7ff 122.7px 123.7px,#00f7ff 123.7px 124.8px,#00c7ff 124.8px 125.8px,#00e7ff 125.8px 126.9px,#00c7ff 126.9px 127.9px,#00f7ff 127.9px 129.0px,#00c7ff 129.0px 130.0px,#00f7ff 130.0px 131.1px,#00d7ff 131.1px 132.1px,#00f7ff 132.1px 133.2px,#00e7ff 133.2px 135.3px,#00b7ff 135.3px 136.3px,#08fff7 136.3px 137.4px,#00e7ff 137.4px 138.4px,#08fff7 138.4px 139.5px,#00d7ff 139.5px 140.5px,#00f7ff 140.5px 141.6px,#00d7ff 141.6px 142.6px,#00e7ff 142.6px 143.7px,#00c7ff 143.7px 144.7px,#00f7ff 144.7px 145.8px,#00c7ff 145.8px 146.8px,#18ffe7 146.8px 147.9px,#00b7ff 147.9px 148.9px,#00e7ff 148.9px 151.0px)"></div>
<div class="c" style="left:75.11px;width:9.89px;background:linear-gradient(#18ffe7 0.0px 1.0px,#00f7ff 1.0px 2.1px,#18ffe7 2.1px 3.1px,#28ffd7 3.1px 5.2px,#18ffe7 5.2px 6.3px,#28ffd7 6.3px 7.3px,#18ffe7 7.3px 8.4px,#28ffd7 8.4px 9.4px,#00f7ff 9.4px 10.5px,#28ffd7 10.5px 11.5px,#08fff7 11.5px 12.6px,#38ffc7 12.6px 13.6px,#08fff7 13.6px 14.7px,#38ffc7 14.7px 15.7px,#28ffd7 15.7px 16.8px,#18ffe7 16.8px 17.8px,#00f7ff 17.8px 18.9px,#38ffc7 18.9px 19.9px,#18ffe7 19.9px 21.0px,#28ffd7 21.0px 22.0px,#08fff7 22.0px 23.1px,#28ffd7 23.1px 24.1px,#18ffe7 24.1px 25.2px,#28ffd7 25.2px 26.2px,#18ffe7 26.2px 28.3px,#00f7ff 28.3px 29.4px,#28ffd7 29.4px 30.4px,#08fff7 30.4px 31.5px,#38ffc7 31.5px 32.5px,#08fff7 32.5px 33.6px,#28ffd7 33.6px 34.6px,#08fff7 34.6px 35.7px,#28ffd7 35.7px 36.7px,#00f7ff 36.7px 37.8px,#18ffe7 37.8px 38.8px,#00f7ff 38.8px 39.8px,#28ffd7 39.8px 40.9px,#08fff7 40.9px 41.9px,#38ffc7 41.9px 43.0px,#18ffe7 43.0px 44.0px,#48ffb7 44.0px 45.1px,#18ffe7 45.1px 46.1px,#28ffd7 46.1px 48.2px,#38ffc7 48.2px 49.3px,#08fff7 49.3px 50.3px,#28ffd7 50.3px 51.4px,#18ffe7 51.4px 52.4px,#28ffd7 52.4px 53.5px,#18ffe7 53.5px 54.5px,#28ffd7 54.5px 55.6px,#18ffe7 55.6px 56.6px,#28ffd7 56.6px 57.7px,#18ffe7 57.7px 58.7px,#28ffd7 58.7px 59.8px,#18ffe7 59.8px 60.8px,#08fff7 60.8px 61.9px,#18ffe7 61.9px 62.9px,#38ffc7 62.9px 64.0px,#18ffe7 64.0px 65.0px,#28ffd7 65.0px 66.1px,#18ffe7 66.1px 68.2px,#00f7ff 68.2px 69.2px,#28ffd7 69.2px 70.3px,#08fff7 70.3px 71.3px,#38ffc7 71.3px 72.4px,#00f7ff 72.4px 73.4px,#38ffc7 73.4px 74.5px,#00f7ff 74.5px 75.5px,#18ffe7 75.5px 76.5px,#08fff7 76.5px 77.6px,#38ffc7 77.6px 78.6px,#08fff7 78.6px 80.7px,#18ffe7 80.7px 81.8px,#28ffd7 81.8px 82.8px,#00f7ff 82.8px 83.9px,#18ffe7 83.9px 84.9px,#08fff7 84.9px 86.0px,#28ffd7 86.0px 87.0px,#18ffe7 87.0px 89.1px,#28ffd7 89.1px 91.2px,#08fff7 91.2px 92.3px,#38ffc7 92.3px 93.3px,#08fff7 93.3px 94.4px,#48ffb7 94.4px 95.4px,#18ffe7 95.4px 96.5px,#28ffd7 96.5px 97.5px,#08fff7 97.5px 98.6px,#28ffd7 98.6px 99.6px,#08fff7 99.6px 100.7px,#38ffc7 100.7px 101.7px,#08fff7 101.7px 102.8px,#48ffb7 102.8px 103.8px,#08fff7 103.8px 104.9px,#28ffd7 104.9px 105.9px,#18ffe7 105.9px 107.0px,#08fff7 107.0px 108.0px,#00f7ff 108.0px 109.1px,#38ffc7 109.1px 110.1px,#08fff7 110.1px 111.2px,#28ffd7 111.2px 112.2px,#18ffe7 112.2px 113.2px,#28ffd7 113.2px 114.3px,#08fff7 114.3px 115.3px,#18ffe7 115.3px 116.4px,#00e7ff 116.4px 117.4px,#38ffc7 117.4px 118.5px,#00f7ff 118.5px 119.5px,#18ffe7 119.5px 120.6px,#28ffd7 120.6px 121.6px,#38ffc7 121.6px 122.7px,#08fff7 122.7px 123.7px,#28ffd7 123.7px 124.8px,#08fff7 124.8px 125.8px,#18ffe7 125.8px 127.9px,#28ffd7 127.9px 129.0px,#08fff7 129.0px 130.0px,#38ffc7 130.0px 131.1px,#18ffe7 131.1px 132.1px,#48ffb7 132.1px 133.2px,#28ffd7 133.2px 134.2px,#08fff7 134.2px 135.3px,#18ffe7 135.3px 137.4px,#00f7ff 137.4px 138.4px,#38ffc7 138.4px 139.5px,#08fff7 139.5px 140.5px,#28ffd7 140.5px 141.6px,#18ffe7 141.6px 143.7px,#00f7ff 143.7px 144.7px,#28ffd7 144.7px 145.8px,#18ffe7 145.8px 146.8px,#38ffc7 146.8px 147.9px,#00f7ff 147.9px 148.9px,#18ffe7 148.9px 150.0px,#08fff7 150.0px 151.0px)"></div>
<div class="c" style="left:84.5px;width:9.89px;background:linear-gradient(#38ffc7 0.0px 1.0px,#48ffb7 1.0px 2.1px,#28ffd7 2.1px 3.1px,#58ffa7 3.1px 4.2px,#18ffe7 4.2px 5.2px,#48ffb7 5.2px 6.3px,#28ffd7 6.3px 8.4px,#18ffe7 8.4px 9.4px,#48ffb7 9.4px 10.5px,#08fff7 10.5px 11.5px,#48ffb7 11.5px 12.6px,#28ffd7 12.6px 13.6px,#48ffb7 13.6px 14.7px,#18ffe7 14.7px 15.7px,#38ffc7 15.7px 17.8px,#48ffb7 17.8px 18.9px,#18ffe7 18.9px 19.9px,#48ffb7 19.9px 21.0px,#38ffc7 21.0px 23.1px,#28ffd7 23.1px 24.1px,#68ff97 24.1px 25.2px,#18ffe7 25.2px 26.2px,#38ffc7 26.2px 27.3px,#08fff7 27.3px 28.3px,#38ffc7 28.3px 31.5px,#08fff7 31.5px 32.5px,#28ffd7 32.5px 33.6px,#18ffe7 33.6px 34.6px,#48ffb7 34.6px 35.7px,#18ffe7 35.7px 36.7px,#48ffb7 36.7px 37.8px,#18ffe7 37.8px 38.8px,#48ffb7 38.8px 39.8px,#28ffd7 39.8px 40.9px,#48ffb7 40.9px 41.9px,#18ffe7 41.9px 43.0px,#38ffc7 43.0px 44.0px,#28ffd7 44.0px 47.2px,#48ffb7 47.2px 48.2px,#28ffd7 48.2px 49.3px,#38ffc7 49.3px 50.3px,#18ffe7 50.3px 51.4px,#38ffc7 51.4px 52.4px,#18ffe7 52.4px 53.5px,#38ffc7 53.5px 54.5px,#28ffd7 54.5px 55.6px,#48ffb7 55.6px 56.6px,#08fff7 56.6px 57.7px,#38ffc7 57.7px 58.7px,#00f7ff 58.7px 59.8px,#48ffb7 59.8px 60.8px,#18ffe7 60.8px 61.9px,#48ffb7 61.9px 62.9px,#08fff7 62.9px 64.0px,#38ffc7 64.0px 65.0px,#28ffd7 65.0px 66.1px,#48ffb7 66.1px 67.1px,#08fff7 67.1px 68.2px,#48ffb7 68.2px 69.2px,#18ffe7 69.2px 70.3px,#38ffc7 70.3px 71.3px,#28ffd7 71.3px 72.4px,#38ffc7 72.4px 73.4px,#18ffe7 73.4px 74.5px,#38ffc7 74.5px 75.5px,#28ffd7 75.5px 76.5px,#38ffc7 76.5px 77.6px,#18ffe7 77.6px 78.6px,#28ffd7 78.6px 79.7px,#18ffe7 79.7px 80.7px,#48ffb7 80.7px 81.8px,#38ffc7 81.8px 86.0px,#08fff7 86.0px 87.0px,#48ffb7 87.0px 88.1px,#08fff7 88.1px 89.1px,#48ffb7 89.1px 90.2px,#28ffd7 90.2px 91.2px,#38ffc7 91.2px 92.3px,#18ffe7 92.3px 93.3px,#68ff97 93.3px 94.4px,#28ffd7 94.4px 95.4px,#48ffb7 95.4px 96.5px,#28ffd7 96.5px 97.5px,#38ffc7 97.5px 98.6px,#18ffe7 98.6px 99.6px,#48ffb7 99.6px 100.7px,#00f7ff 100.7px 101.7px,#58ffa7 101.7px 102.8px,#08fff7 102.8px 103.8px,#28ffd7 103.8px 105.9px,#38ffc7 105.9px 107.0px,#08fff7 107.0px 108.0px,#48ffb7 108.0px 109.1px,#08fff7 109.1px 110.1px,#38ffc7 110.1px 111.2px,#08fff7 111.2px 112.2px,#38ffc7 112.2px 113.2px,#28ffd7 113.2px 114.3px,#38ffc7 114.3px 115.3px,#28ffd7 115.3px 116.4px,#48ffb7 116.4px 117.4px,#18ffe7 117.4px 118.5px,#38ffc7 118.5px 119.5px,#18ffe7 119.5px 120.6px,#58ffa7 120.6px 121.6px,#18ffe7 121.6px 122.7px,#48ffb7 122.7px 123.7px,#18ffe7 123.7px 124.8px,#48ffb7 124.8px 125.8px,#28ffd7 125.8px 126.9px,#38ffc7 126.9px 127.9px,#18ffe7 127.9px 129.0px,#38ffc7 129.0px 130.0px,#18ffe7 130.0px 131.1px,#48ffb7 131.1px 132.1px,#28ffd7 132.1px 133.2px,#48ffb7 133.2px 134.2px,#18ffe7 134.2px 135.3px,#38ffc7 135.3px 136.3px,#28ffd7 136.3px 137.4px,#48ffb7 137.4px 138.4px,#08fff7 138.4px 139.5px,#48ffb7 139.5px 140.5px,#28ffd7 140.5px 141.6px,#58ffa7 141.6px 142.6px,#08fff7 142.6px 143.7px,#28ffd7 143.7px 146.8px,#18ffe7 146.8px 147.9px,#28ffd7 147.9px 148.9px,#08fff7 148.9px 150.0px,#18ffe7 150.0px 151.0px)"></div>
<div class="c" style="left:93.89px;width:9.89px;background:linear-gradient(#97ff68 0.0px 1.0px,#58ffa7 1.0px 2.1px,#87ff78 2.1px 3.1px,#48ffb7 3.1px 4.2px,#97ff68 4.2px 5.2px,#68ff97 5.2px 6.3px,#97ff68 6.3px 7.3px,#38ffc7 7.3px 8.4px,#87ff78 8.4px 9.4px,#38ffc7 9.4px 10.5px,#87ff78 10.5px 11.5px,#58ffa7 11.5px 12.6px,#68ff97 12.6px 13.6px,#58ffa7 13.6px 14.7px,#97ff68 14.7px 15.7px,#68ff97 15.7px 16.8px,#87ff78 16.8px 17.8px,#48ffb7 17.8px 18.9px,#78ff87 18.9px 19.9px,#48ffb7 19.9px 21.0px,#87ff78 21.0px 22.0px,#68ff97 22.0px 23.1px,#87ff78 23.1px 24.1px,#58ffa7 24.1px 25.2px,#68ff97 25.2px 27.3px,#78ff87 27.3px 28.3px,#38ffc7 28.3px 29.4px,#58ffa7 29.4px 31.5px,#68ff97 31.5px 32.5px,#78ff87 32.5px 33.6px,#87ff78 33.6px 34.6px,#48ffb7 34.6px 35.7px,#78ff87 35.7px 37.8px,#68ff97 37.8px 39.8px,#87ff78 39.8px 40.9px,#78ff87 40.9px 41.9px,#87ff78 41.9px 43.0px,#48ffb7 43.0px 44.0px,#87ff78 44.0px 45.1px,#58ffa7 45.1px 46.1px,#97ff68 46.1px 47.2px,#58ffa7 47.2px 48.2px,#a7ff58 48.2px 49.3px,#58ffa7 49.3px 50.3px,#87ff78 50.3px 51.4px,#48ffb7 51.4px 52.4px,#87ff78 52.4px 53.5px,#58ffa7 53.5px 54.5px,#87ff78 54.5px 55.6px,#68ff97 55.6px 56.6px,#78ff87 56.6px 57.7px,#48ffb7 57.7px 58.7px,#97ff68 58.7px 59.8px,#58ffa7 59.8px 60.8px,#78ff87 60.8px 61.9px,#68ff97 61.9px 62.9px,#97ff68 62.9px 64.0px,#28ffd7 64.0px 65.0px,#78ff87 65.0px 66.1px,#68ff97 66.1px 67.1px,#97ff68 67.1px 68.2px,#48ffb7 68.2px 69.2px,#a7ff58 69.2px 70.3px,#48ffb7 70.3px 71.3px,#78ff87 71.3px 72.4px,#58ffa7 72.4px 73.4px,#87ff78 73.4px 74.5px,#68ff97 74.5px 75.5px,#97ff68 75.5px 76.5px,#58ffa7 76.5px 77.6px,#97ff68 77.6px 78.6px,#48ffb7 78.6px 79.7px,#78ff87 79.7px 81.8px,#87ff78 81.8px 82.8px,#68ff97 82.8px 83.9px,#78ff87 83.9px 84.9px,#58ffa7 84.9px 86.0px,#78ff87 86.0px 87.0px,#58ffa7 87.0px 88.1px,#78ff87 88.1px 89.1px,#58ffa7 89.1px 90.2px,#87ff78 90.2px 91.2px,#78ff87 91.2px 92.3px,#87ff78 92.3px 93.3px,#68ff97 93.3px 94.4px,#97ff68 94.4px 95.4px,#48ffb7 95.4px 96.5px,#68ff97 96.5px 97.5px,#78ff87 97.5px 98.6px,#97ff68 98.6px 99.6px,#58ffa7 99.6px 100.7px,#87ff78 100.7px 101.7px,#48ffb7 101.7px 102.8px,#68ff97 102.8px 103.8px,#58ffa7 103.8px 104.9px,#68ff97 104.9px 107.0px,#78ff87 107.0px 108.0px,#58ffa7 108.0px 109.1px,#a7ff58 109.1px 110.1px,#78ff87 110.1px 112.2px,#68ff97 112.2px 114.3px,#48ffb7 114.3px 115.3px,#87ff78 115.3px 116.4px,#78ff87 116.4px 118.5px,#68ff97 118.5px 119.5px,#87ff78 119.5px 120.6px,#38ffc7 120.6px 121.6px,#78ff87 121.6px 124.8px,#68ff97 124.8px 125.8px,#97ff68 125.8px 126.9px,#48ffb7 126.9px 127.9px,#97ff68 127.9px 129.0px,#78ff87 129.0px 130.0px,#a7ff58 130.0px 131.1px,#78ff87 131.1px 133.2px,#48ffb7 133.2px 134.2px,#78ff87 134.2px 135.3px,#48ffb7 135.3px 136.3px,#78ff87 136.3px 137.4px,#68ff97 137.4px 138.4px,#97ff68 138.4px 139.5px,#48ffb7 139.5px 140.5px,#97ff68 140.5px 141.6px,#38ffc7 141.6px 142.6px,#78ff87 142.6px 143.7px,#48ffb7 143.7px 144.7px,#58ffa7 144.7px 146.8px,#87ff78 146.8px 147.9px,#48ffb7 147.9px 148.9px,#78ff87 148.9px 150.0px,#48ffb7 150.0px 151.0px)"></div>
<div class="c" style="left:103.28px;width:9.89px;background:linear-gradient(#97ff68 0.0px 1.0px,#b7ff48 1.0px 2.1px,#a7ff58 2.1px 5.2px,#d7ff28 5.2px 6.3px,#b7ff48 6.3px 7.3px,#e7ff18 7.3px 8.4px,#a7ff58 8.4px 9.4px,#b7ff48 9.4px 10.5px,#78ff87 10.5px 11.5px,#c7ff38 11.5px 13.6px,#f7ff08 13.6px 14.7px,#58ffa7 14.7px 15.7px,#b7ff48 15.7px 16.8px,#97ff68 16.8px 17.8px,#a7ff58 17.8px 19.9px,#c7ff38 19.9px 21.0px,#97ff68 21.0px 22.0px,#c7ff38 22.0px 23.1px,#78ff87 23.1px 24.1px,#a7ff58 24.1px 25.2px,#87ff78 25.2px 26.2px,#d7ff28 26.2px 27.3px,#78ff87 27.3px 28.3px,#c7ff38 28.3px 29.4px,#b7ff48 29.4px 30.4px,#c7ff38 30.4px 31.5px,#b7ff48 31.5px 33.6px,#a7ff58 33.6px 34.6px,#d7ff28 34.6px 37.8px,#c7ff38 37.8px 39.8px,#a7ff58 39.8px 40.9px,#f7ff08 40.9px 41.9px,#a7ff58 41.9px 43.0px,#e7ff18 43.0px 44.0px,#b7ff48 44.0px 45.1px,#f7ff08 45.1px 46.1px,#d7ff28 46.1px 47.2px,#b7ff48 47.2px 48.2px,#c7ff38 48.2px 49.3px,#d7ff28 49.3px 50.3px,#a7ff58 50.3px 51.4px,#c7ff38 51.4px 52.4px,#b7ff48 52.4px 53.5px,#a7ff58 53.5px 54.5px,#87ff78 54.5px 55.6px,#b7ff48 55.6px 56.6px,#a7ff58 56.6px 57.7px,#d7ff28 57.7px 58.7px,#b7ff48 58.7px 59.8px,#d7ff28 59.8px 60.8px,#97ff68 60.8px 62.9px,#a7ff58 62.9px 64.0px,#c7ff38 64.0px 65.0px,#a7ff58 65.0px 66.1px,#e7ff18 66.1px 67.1px,#97ff68 67.1px 68.2px,#c7ff38 68.2px 69.2px,#68ff97 69.2px 70.3px,#d7ff28 70.3px 71.3px,#97ff68 71.3px 72.4px,#b7ff48 72.4px 73.4px,#a7ff58 73.4px 75.5px,#97ff68 75.5px 76.5px,#f7ff08 76.5px 77.6px,#b7ff48 77.6px 78.6px,#e7ff18 78.6px 79.7px,#b7ff48 79.7px 80.7px,#d7ff28 80.7px 81.8px,#a7ff58 81.8px 82.8px,#fff700 82.8px 83.9px,#97ff68 83.9px 84.9px,#d7ff28 84.9px 86.0px,#97ff68 86.0px 87.0px,#b7ff48 87.0px 88.1px,#68ff97 88.1px 89.1px,#97ff68 89.1px 90.2px,#c7ff38 90.2px 91.2px,#e7ff18 91.2px 92.3px,#97ff68 92.3px 93.3px,#c7ff38 93.3px 94.4px,#a7ff58 94.4px 96.5px,#c7ff38 96.5px 97.5px,#a7ff58 97.5px 98.6px,#87ff78 98.6px 100.7px,#c7ff38 100.7px 103.8px,#a7ff58 103.8px 105.9px,#c7ff38 105.9px 107.0px,#a7ff58 107.0px 108.0px,#f7ff08 108.0px 109.1px,#d7ff28 109.1px 110.1px,#e7ff18 110.1px 111.2px,#97ff68 111.2px 112.2px,#d7ff28 112.2px 113.2px,#c7ff38 113.2px 114.3px,#d7ff28 114.3px 115.3px,#a7ff58 115.3px 116.4px,#d7ff28 116.4px 117.4px,#87ff78 117.4px 118.5px,#c7ff38 118.5px 120.6px,#a7ff58 120.6px 122.7px,#d7ff28 122.7px 123.7px,#78ff87 123.7px 124.8px,#c7ff38 124.8px 125.8px,#78ff87 125.8px 126.9px,#b7ff48 126.9px 127.9px,#78ff87 127.9px 129.0px,#b7ff48 129.0px 130.0px,#97ff68 130.0px 131.1px,#c7ff38 131.1px 132.1px,#97ff68 132.1px 133.2px,#87ff78 133.2px 134.2px,#c7ff38 134.2px 136.3px,#87ff78 136.3px 137.4px,#b7ff48 137.4px 138.4px,#a7ff58 138.4px 140.5px,#97ff68 140.5px 141.6px,#b7ff48 141.6px 142.6px,#a7ff58 142.6px 143.7px,#b7ff48 143.7px 144.7px,#a7ff58 144.7px 145.8px,#d7ff28 145.8px 146.8px,#97ff68 146.8px 147.9px,#e7ff18 147.9px 148.9px,#97ff68 148.9px 150.0px,#a7ff58 150.0px 151.0px)"></div>
<div class="c" style="left:112.67px;width:9.89px;background:linear-gradient(#fff700 0.0px 1.0px,#e7ff18 1.0px 2.1px,#fff700 2.1px 5.2px,#e7ff18 5.2px 6.3px,#f7ff08 6.3px 9.4px,#d7ff28 9.4px 10.5px,#e7ff18 10.5px 12.6px,#fff700 12.6px 13.6px,#c7ff38 13.6px 14.7px,#f7ff08 14.7px 15.7px,#e7ff18 15.7px 16.8px,#fff700 16.8px 17.8px,#c7ff38 17.8px 18.9px,#f7ff08 18.9px 19.9px,#e7ff18 19.9px 21.0px,#f7ff08 21.0px 22.0px,#d7ff28 22.0px 23.1px,#f7ff08 23.1px 24.1px,#c7ff38 24.1px 25.2px,#fff700 25.2px 26.2px,#e7ff18 26.2px 29.4px,#ffe700 29.4px 30.4px,#e7ff18 30.4px 31.5px,#fff700 31.5px 32.5px,#d7ff28 32.5px 33.6px,#ffe700 33.6px 34.6px,#d7ff28 34.6px 35.7px,#ffe700 35.7px 36.7px,#d7ff28 36.7px 37.8px,#f7ff08 37.8px 38.8px,#d7ff28 38.8px 39.8px,#f7ff08 39.8px 40.9px,#d7ff28 40.9px 41.9px,#f7ff08 41.9px 43.0px,#d7ff28 43.0px 44.0px,#fff700 44.0px 45.1px,#e7ff18 45.1px 46.1px,#f7ff08 46.1px 49.3px,#d7ff28 49.3px 50.3px,#e7ff18 50.3px 53.5px,#c7ff38 53.5px 54.5px,#ffe700 54.5px 55.6px,#f7ff08 55.6px 56.6px,#ffe700 56.6px 57.7px,#c7ff38 57.7px 58.7px,#fff700 58.7px 59.8px,#e7ff18 59.8px 60.8px,#fff700 60.8px 61.9px,#c7ff38 61.9px 62.9px,#f7ff08 62.9px 64.0px,#c7ff38 64.0px 65.0px,#e7ff18 65.0px 66.1px,#fff700 66.1px 68.2px,#c7ff38 68.2px 69.2px,#e7ff18 69.2px 71.3px,#f7ff08 71.3px 72.4px,#e7ff18 72.4px 73.4px,#f7ff08 73.4px 74.5px,#d7ff28 74.5px 75.5px,#fff700 75.5px 76.5px,#d7ff28 76.5px 77.6px,#e7ff18 77.6px 78.6px,#c7ff38 78.6px 79.7px,#f7ff08 79.7px 80.7px,#d7ff28 80.7px 81.8px,#f7ff08 81.8px 82.8px,#e7ff18 82.8px 83.9px,#fff700 83.9px 84.9px,#d7ff28 84.9px 86.0px,#ffe700 86.0px 87.0px,#f7ff08 87.0px 88.1px,#fff700 88.1px 89.1px,#e7ff18 89.1px 90.2px,#ffe700 90.2px 91.2px,#e7ff18 91.2px 92.3px,#fff700 92.3px 93.3px,#d7ff28 93.3px 94.4px,#f7ff08 94.4px 95.4px,#c7ff38 95.4px 96.5px,#fff700 96.5px 97.5px,#f7ff08 97.5px 98.6px,#e7ff18 98.6px 99.6px,#d7ff28 99.6px 100.7px,#fff700 100.7px 101.7px,#d7ff28 101.7px 102.8px,#f7ff08 102.8px 103.8px,#d7ff28 103.8px 104.9px,#e7ff18 104.9px 107.0px,#f7ff08 107.0px 108.0px,#fff700 108.0px 110.1px,#d7ff28 110.1px 111.2px,#f7ff08 111.2px 113.2px,#ffe700 113.2px 114.3px,#e7ff18 114.3px 115.3px,#f7ff08 115.3px 116.4px,#c7ff38 116.4px 117.4px,#f7ff08 117.4px 118.5px,#d7ff28 118.5px 119.5px,#f7ff08 119.5px 121.6px,#e7ff18 121.6px 122.7px,#d7ff28 122.7px 123.7px,#fff700 123.7px 124.8px,#e7ff18 124.8px 125.8px,#ffe700 125.8px 126.9px,#c7ff38 126.9px 127.9px,#f7ff08 127.9px 129.0px,#e7ff18 129.0px 130.0px,#fff700 130.0px 131.1px,#d7ff28 131.1px 132.1px,#f7ff08 132.1px 134.2px,#e7ff18 134.2px 135.3px,#d7ff28 135.3px 136.3px,#ffe700 136.3px 137.4px,#f7ff08 137.4px 138.4px,#fff700 138.4px 139.5px,#d7ff28 139.5px 140.5px,#f7ff08 140.5px 141.6px,#d7ff28 141.6px 142.6px,#e7ff18 142.6px 143.7px,#d7ff28 143.7px 144.7px,#ffe700 144.7px 145.8px,#e7ff18 145.8px 146.8px,#f7ff08 146.8px 147.9px,#d7ff28 147.9px 148.9px,#e7ff18 148.9px 150.0px,#f7ff08 150.0px 151.0px)"></div>
<div class="c" style="left:122.06px;width:9.89px;background:linear-gradient(#48ffb7 0.0px 1.0px,#ff4800 1.0px 2.1px,#58ffa7 2.1px 3.1px,#ff6800 3.1px 4.2px,#58ffa7 4.2px 5.2px,#ff2800 5.2px 6.3px,#78ff87 6.3px 7.3px,#f70000 7.3px 8.4px,#58ffa7 8.4px 9.4px,#ff6800 9.4px 10.5px,#97ff68 10.5px 11.5px,#ff3800 11.5px 12.6px,#78ff87 12.6px 13.6px,#ff8700 13.6px 14.7px,#a7ff58 14.7px 15.7px,#ff3800 15.7px 16.8px,#87ff78 16.8px 17.8px,#ff6800 17.8px 18.9px,#97ff68 18.9px 19.9px,#ff5800 19.9px 21.0px,#87ff78 21.0px 22.0px,#ff5800 22.0px 23.1px,#a7ff58 23.1px 24.1px,#ff5800 24.1px 25.2px,#78ff87 25.2px 26.2px,#ff2800 26.2px 27.3px,#87ff78 27.3px 28.3px,#ff4800 28.3px 29.4px,#78ff87 29.4px 30.4px,#ff3800 30.4px 31.5px,#68ff97 31.5px 32.5px,#ff3800 32.5px 33.6px,#b7ff48 33.6px 34.6px,#ff4800 34.6px 35.7px,#68ff97 35.7px 36.7px,#ff7800 36.7px 37.8px,#87ff78 37.8px 38.8px,#ff7800 38.8px 39.8px,#48ffb7 39.8px 40.9px,#ff6800 40.9px 41.9px,#58ffa7 41.9px 43.0px,#ff3800 43.0px 44.0px,#58ffa7 44.0px 45.1px,#ff1800 45.1px 46.1px,#68ff97 46.1px 47.2px,#ff4800 47.2px 48.2px,#97ff68 48.2px 49.3px,#ff4800 49.3px 50.3px,#97ff68 50.3px 51.4px,#ff6800 51.4px 52.4px,#38ffc7 52.4px 53.5px,#ff5800 53.5px 54.5px,#48ffb7 54.5px 55.6px,#ff6800 55.6px 56.6px,#97ff68 56.6px 57.7px,#ff5800 57.7px 58.7px,#68ff97 58.7px 59.8px,#ff7800 59.8px 60.8px,#78ff87 60.8px 61.9px,#ff5800 61.9px 62.9px,#48ffb7 62.9px 64.0px,#ff4800 64.0px 65.0px,#58ffa7 65.0px 66.1px,#ff4800 66.1px 67.1px,#68ff97 67.1px 68.2px,#ff3800 68.2px 69.2px,#97ff68 69.2px 70.3px,#ff4800 70.3px 71.3px,#78ff87 71.3px 72.4px,#ff4800 72.4px 73.4px,#a7ff58 73.4px 74.5px,#ff2800 74.5px 75.5px,#87ff78 75.5px 76.5px,#ff4800 76.5px 77.6px,#a7ff58 77.6px 78.6px,#ff8700 78.6px 79.7px,#87ff78 79.7px 80.7px,#ff6800 80.7px 81.8px,#a7ff58 81.8px 82.8px,#ff5800 82.8px 83.9px,#78ff87 83.9px 84.9px,#ff6800 84.9px 86.0px,#78ff87 86.0px 87.0px,#ff3800 87.0px 88.1px,#b7ff48 88.1px 89.1px,#ff7800 89.1px 90.2px,#78ff87 90.2px 91.2px,#d70000 91.2px 92.3px,#97ff68 92.3px 93.3px,#ff4800 93.3px 94.4px,#87ff78 94.4px 95.4px,#ff9700 95.4px 96.5px,#b7ff48 96.5px 97.5px,#ff4800 97.5px 98.6px,#58ffa7 98.6px 99.6px,#ff2800 99.6px 100.7px,#68ff97 100.7px 101.7px,#ff6800 101.7px 102.8px,#87ff78 102.8px 103.8px,#ff4800 103.8px 104.9px,#78ff87 104.9px 105.9px,#ff4800 105.9px 107.0px,#58ffa7 107.0px 108.0px,#ff7800 108.0px 109.1px,#97ff68 109.1px 110.1px,#ff2800 110.1px 111.2px,#87ff78 111.2px 112.2px,#ff4800 112.2px 113.2px,#78ff87 113.2px 114.3px,#ff5800 114.3px 115.3px,#68ff97 115.3px 116.4px,#ff1800 116.4px 117.4px,#68ff97 117.4px 118.5px,#ff4800 118.5px 119.5px,#87ff78 119.5px 120.6px,#ff7800 120.6px 121.6px,#b7ff48 121.6px 122.7px,#ff5800 122.7px 123.7px,#68ff97 123.7px 124.8px,#ff4800 124.8px 125.8px,#68ff97 125.8px 126.9px,#ff4800 126.9px 127.9px,#68ff97 127.9px 129.0px,#ff3800 129.0px 130.0px,#87ff78 130.0px 131.1px,#ff7800 131.1px 132.1px,#97ff68 132.1px 133.2px,#ff4800 133.2px 134.2px,#58ffa7 134.2px 135.3px,#ff4800 135.3px 136.3px,#87ff78 136.3px 137.4px,#ff1800 137.4px 138.4px,#68ff97 138.4px 139.5px,#ff3800 139.5px 140.5px,#78ff87 140.5px 141.6px,#ff3800 141.6px 142.6px,#78ff87 142.6px 143.7px,#ff4800 143.7px 144.7px,#87ff78 144.7px 145.8px,#ff7800 145.8px 146.8px,#38ffc7 146.8px 147.9px,#ff4800 147.9px 148.9px,#78ff87 148.9px 150.0px,#ff4800 150.0px 151.0px)"></div>
<div class="c" style="left:131.44px;width:9.89px;background:linear-gradient(#87ff78 0.0px 1.0px,#ff2800 1.0px 2.1px,#97ff68 2.1px 3.1px,#ff4800 3.1px 4.2px,#a7ff58 4.2px 5.2px,#ff3800 5.2px 6.3px,#97ff68 6.3px 7.3px,#ff4800 7.3px 8.4px,#78ff87 8.4px 9.4px,#ff5800 9.4px 10.5px,#97ff68 10.5px 11.5px,#ff3800 11.5px 12.6px,#87ff78 12.6px 13.6px,#ff3800 13.6px 14.7px,#d7ff28 14.7px 15.7px,#ff0800 15.7px 16.8px,#97ff68 16.8px 17.8px,#ff2800 17.8px 18.9px,#a7ff58 18.9px 19.9px,#ff3800 19.9px 21.0px,#a7ff58 21.0px 22.0px,#ff3800 22.0px 23.1px,#a7ff58 23.1px 24.1px,#ff4800 24.1px 25.2px,#87ff78 25.2px 26.2px,#ff4800 26.2px 27.3px,#a7ff58 27.3px 28.3px,#ff2800 28.3px 29.4px,#a7ff58 29.4px 30.4px,#ff3800 30.4px 31.5px,#c7ff38 31.5px 32.5px,#ff6800 32.5px 33.6px,#87ff78 33.6px 34.6px,#ff3800 34.6px 35.7px,#97ff68 35.7px 36.7px,#ff6800 36.7px 37.8px,#b7ff48 37.8px 38.8px,#ff4800 38.8px 39.8px,#78ff87 39.8px 40.9px,#ff1800 40.9px 41.9px,#68ff97 41.9px 43.0px,#ff4800 43.0px 44.0px,#87ff78 44.0px 45.1px,#ff4800 45.1px 46.1px,#a7ff58 46.1px 47.2px,#ff6800 47.2px 48.2px,#97ff68 48.2px 49.3px,#ff4800 49.3px 50.3px,#78ff87 50.3px 51.4px,#ff2800 51.4px 52.4px,#97ff68 52.4px 53.5px,#ff5800 53.5px 54.5px,#87ff78 54.5px 55.6px,#ff5800 55.6px 56.6px,#97ff68 56.6px 57.7px,#ff5800 57.7px 58.7px,#b7ff48 58.7px 59.8px,#ff9700 59.8px 60.8px,#58ffa7 60.8px 61.9px,#ff5800 61.9px 62.9px,#58ffa7 62.9px 64.0px,#ff4800 64.0px 65.0px,#87ff78 65.0px 66.1px,#ff3800 66.1px 67.1px,#a7ff58 67.1px 68.2px,#ff2800 68.2px 69.2px,#b7ff48 69.2px 70.3px,#ff2800 70.3px 71.3px,#a7ff58 71.3px 72.4px,#ff2800 72.4px 73.4px,#a7ff58 73.4px 74.5px,#ff5800 74.5px 75.5px,#68ff97 75.5px 76.5px,#ff7800 76.5px 77.6px,#a7ff58 77.6px 78.6px,#ff9700 78.6px 79.7px,#97ff68 79.7px 80.7px,#ff6800 80.7px 81.8px,#a7ff58 81.8px 82.8px,#ff4800 82.8px 83.9px,#78ff87 83.9px 84.9px,#ff4800 84.9px 86.0px,#48ffb7 86.0px 87.0px,#ff4800 87.0px 88.1px,#a7ff58 88.1px 89.1px,#ff8700 89.1px 90.2px,#b7ff48 90.2px 91.2px,#ff4800 91.2px 92.3px,#97ff68 92.3px 93.3px,#ff7800 93.3px 94.4px,#a7ff58 94.4px 95.4px,#ff3800 95.4px 96.5px,#97ff68 96.5px 97.5px,#ff6800 97.5px 98.6px,#a7ff58 98.6px 99.6px,#ff2800 99.6px 100.7px,#a7ff58 100.7px 101.7px,#ff2800 101.7px 102.8px,#87ff78 102.8px 103.8px,#ff4800 103.8px 104.9px,#a7ff58 104.9px 105.9px,#ff4800 105.9px 107.0px,#e7ff18 107.0px 108.0px,#ff3800 108.0px 109.1px,#87ff78 109.1px 110.1px,#ff3800 110.1px 111.2px,#78ff87 111.2px 112.2px,#ff3800 112.2px 113.2px,#a7ff58 113.2px 114.3px,#ff5800 114.3px 115.3px,#87ff78 115.3px 116.4px,#ff6800 116.4px 117.4px,#97ff68 117.4px 118.5px,#ff5800 118.5px 119.5px,#c7ff38 119.5px 120.6px,#ff3800 120.6px 121.6px,#97ff68 121.6px 122.7px,#ff7800 122.7px 123.7px,#d7ff28 123.7px 124.8px,#ff2800 124.8px 125.8px,#a7ff58 125.8px 126.9px,#ff4800 126.9px 127.9px,#97ff68 127.9px 129.0px,#ff5800 129.0px 130.0px,#d7ff28 130.0px 131.1px,#ff4800 131.1px 132.1px,#68ff97 132.1px 133.2px,#ff5800 133.2px 134.2px,#48ffb7 134.2px 135.3px,#ff3800 135.3px 136.3px,#a7ff58 136.3px 137.4px,#ff1800 137.4px 138.4px,#d7ff28 138.4px 139.5px,#ff6800 139.5px 140.5px,#a7ff58 140.5px 141.6px,#ff2800 141.6px 142.6px,#b7ff48 142.6px 143.7px,#ff5800 143.7px 144.7px,#b7ff48 144.7px 145.8px,#ff3800 145.8px 146.8px,#c7ff38 146.8px 147.9px,#ff4800 147.9px 148.9px,#97ff68 148.9px 150.0px,#ff5800 150.0px 151.0px)"></div>
<div class="c" style="left:140.83px;width:9.89px;background:linear-gradient(#d7ff28 0.0px 1.0px,#e7ff18 1.0px 2.1px,#d7ff28 2.1px 3.1px,#f7ff08 3.1px 4.2px,#d7ff28 4.2px 5.2px,#fff700 5.2px 6.3px,#e7ff18 6.3px 7.3px,#fff700 7.3px 8.4px,#c7ff38 8.4px 9.4px,#f7ff08 9.4px 10.5px,#e7ff18 10.5px 12.6px,#c7ff38 12.6px 13.6px,#e7ff18 13.6px 14.7px,#c7ff38 14.7px 15.7px,#f7ff08 15.7px 16.8px,#c7ff38 16.8px 17.8px,#f7ff08 17.8px 18.9px,#c7ff38 18.9px 19.9px,#f7ff08 19.9px 21.0px,#d7ff28 21.0px 22.0px,#e7ff18 22.0px 24.1px,#f7ff08 24.1px 25.2px,#e7ff18 25.2px 26.2px,#f7ff08 26.2px 27.3px,#e7ff18 27.3px 28.3px,#fff700 28.3px 29.4px,#d7ff28 29.4px 31.5px,#e7ff18 31.5px 32.5px,#fff700 32.5px 33.6px,#d7ff28 33.6px 34.6px,#f7ff08 34.6px 35.7px,#d7ff28 35.7px 36.7px,#f7ff08 36.7px 37.8px,#c7ff38 37.8px 38.8px,#f7ff08 38.8px 39.8px,#d7ff28 39.8px 40.9px,#e7ff18 40.9px 41.9px,#c7ff38 41.9px 43.0px,#ffe700 43.0px 44.0px,#e7ff18 44.0px 45.1px,#f7ff08 45.1px 46.1px,#d7ff28 46.1px 47.2px,#c7ff38 47.2px 49.3px,#f7ff08 49.3px 50.3px,#e7ff18 50.3px 51.4px,#d7ff28 51.4px 52.4px,#c7ff38 52.4px 53.5px,#ffe700 53.5px 54.5px,#e7ff18 54.5px 55.6px,#f7ff08 55.6px 56.6px,#e7ff18 56.6px 57.7px,#f7ff08 57.7px 58.7px,#d7ff28 58.7px 59.8px,#fff700 59.8px 60.8px,#e7ff18 60.8px 64.0px,#d7ff28 64.0px 65.0px,#c7ff38 65.0px 66.1px,#ffd700 66.1px 67.1px,#d7ff28 67.1px 68.2px,#fff700 68.2px 69.2px,#c7ff38 69.2px 70.3px,#f7ff08 70.3px 71.3px,#c7ff38 71.3px 72.4px,#f7ff08 72.4px 73.4px,#e7ff18 73.4px 74.5px,#ffe700 74.5px 75.5px,#e7ff18 75.5px 76.5px,#fff700 76.5px 77.6px,#d7ff28 77.6px 78.6px,#fff700 78.6px 79.7px,#e7ff18 79.7px 80.7px,#fff700 80.7px 81.8px,#d7ff28 81.8px 82.8px,#f7ff08 82.8px 83.9px,#e7ff18 83.9px 84.9px,#fff700 84.9px 86.0px,#d7ff28 86.0px 87.0px,#e7ff18 87.0px 88.1px,#d7ff28 88.1px 89.1px,#f7ff08 89.1px 90.2px,#e7ff18 90.2px 92.3px,#d7ff28 92.3px 93.3px,#f7ff08 93.3px 94.4px,#c7ff38 94.4px 95.4px,#fff700 95.4px 96.5px,#d7ff28 96.5px 97.5px,#f7ff08 97.5px 98.6px,#b7ff48 98.6px 99.6px,#d7ff28 99.6px 100.7px,#c7ff38 100.7px 101.7px,#e7ff18 101.7px 102.8px,#c7ff38 102.8px 103.8px,#f7ff08 103.8px 104.9px,#d7ff28 104.9px 105.9px,#f7ff08 105.9px 107.0px,#b7ff48 107.0px 108.0px,#fff700 108.0px 109.1px,#d7ff28 109.1px 110.1px,#f7ff08 110.1px 111.2px,#c7ff38 111.2px 112.2px,#f7ff08 112.2px 113.2px,#e7ff18 113.2px 114.3px,#f7ff08 114.3px 115.3px,#e7ff18 115.3px 116.4px,#f7ff08 116.4px 118.5px,#d7ff28 118.5px 119.5px,#c7ff38 119.5px 120.6px,#fff700 120.6px 121.6px,#d7ff28 121.6px 122.7px,#e7ff18 122.7px 123.7px,#b7ff48 123.7px 124.8px,#fff700 124.8px 125.8px,#b7ff48 125.8px 126.9px,#f7ff08 126.9px 127.9px,#d7ff28 127.9px 129.0px,#fff700 129.0px 130.0px,#e7ff18 130.0px 132.1px,#c7ff38 132.1px 133.2px,#f7ff08 133.2px 134.2px,#b7ff48 134.2px 135.3px,#fff700 135.3px 136.3px,#d7ff28 136.3px 137.4px,#f7ff08 137.4px 138.4px,#c7ff38 138.4px 139.5px,#f7ff08 139.5px 140.5px,#c7ff38 140.5px 141.6px,#f7ff08 141.6px 142.6px,#c7ff38 142.6px 143.7px,#fff700 143.7px 144.7px,#c7ff38 144.7px 146.8px,#e7ff18 146.8px 147.9px,#f7ff08 147.9px 148.9px,#c7ff38 148.9px 150.0px,#ffe700 150.0px 151.0px)"></div>
<div class="c" style="left:150.22px;width:9.89px;background:linear-gradient(#ff2800 0.0px 1.0px,#f7ff08 1.0px 2.1px,#f70000 2.1px 3.1px,#f7ff08 3.1px 4.2px,#e70000 4.2px 5.2px,#ffd700 5.2px 6.3px,#ff1800 6.3px 7.3px,#fff700 7.3px 8.4px,#f70000 8.4px 9.4px,#f7ff08 9.4px 10.5px,#ff1800 10.5px 11.5px,#ffe700 11.5px 12.6px,#f70000 12.6px 13.6px,#d7ff28 13.6px 14.7px,#ff1800 14.7px 15.7px,#f7ff08 15.7px 16.8px,#ff0800 16.8px 17.8px,#e7ff18 17.8px 18.9px,#d70000 18.9px 19.9px,#e7ff18 19.9px 21.0px,#ff2800 21.0px 22.0px,#fff700 22.0px 23.1px,#ff4800 23.1px 24.1px,#e7ff18 24.1px 25.2px,#f70000 25.2px 26.2px,#d7ff28 26.2px 27.3px,#ff2800 27.3px 28.3px,#ffd700 28.3px 29.4px,#f70000 29.4px 30.4px,#fff700 30.4px 31.5px,#f70000 31.5px 32.5px,#e7ff18 32.5px 33.6px,#f70000 33.6px 34.6px,#f7ff08 34.6px 35.7px,#b70000 35.7px 36.7px,#ffe700 36.7px 37.8px,#ff1800 37.8px 38.8px,#fff700 38.8px 39.8px,#ff0800 39.8px 40.9px,#d7ff28 40.9px 41.9px,#ff1800 41.9px 43.0px,#ffc700 43.0px 44.0px,#ff3800 44.0px 45.1px,#f7ff08 45.1px 46.1px,#e70000 46.1px 47.2px,#ffc700 47.2px 48.2px,#ff2800 48.2px 49.3px,#ffc700 49.3px 50.3px,#ff1800 50.3px 51.4px,#ffc700 51.4px 52.4px,#f70000 52.4px 53.5px,#f7ff08 53.5px 54.5px,#e70000 54.5px 55.6px,#ffe700 55.6px 56.6px,#ff1800 56.6px 57.7px,#ffb700 57.7px 58.7px,#ff1800 58.7px 59.8px,#ffd700 59.8px 60.8px,#ff1800 60.8px 61.9px,#c7ff38 61.9px 62.9px,#ff2800 62.9px 64.0px,#fff700 64.0px 65.0px,#f70000 65.0px 66.1px,#ffc700 66.1px 67.1px,#ff0800 67.1px 68.2px,#f7ff08 68.2px 69.2px,#ff2800 69.2px 70.3px,#fff700 70.3px 71.3px,#f70000 71.3px 72.4px,#c7ff38 72.4px 73.4px,#d70000 73.4px 74.5px,#ffd700 74.5px 75.5px,#b70000 75.5px 76.5px,#e7ff18 76.5px 77.6px,#ff0800 77.6px 78.6px,#fff700 78.6px 79.7px,#ff2800 79.7px 80.7px,#e7ff18 80.7px 81.8px,#ff2800 81.8px 82.8px,#ffe700 82.8px 83.9px,#f70000 83.9px 84.9px,#ffd700 84.9px 86.0px,#ff1800 86.0px 87.0px,#d7ff28 87.0px 88.1px,#f70000 88.1px 89.1px,#fff700 89.1px 90.2px,#f70000 90.2px 91.2px,#ffd700 91.2px 92.3px,#ff1800 92.3px 93.3px,#ffe700 93.3px 94.4px,#ff2800 94.4px 95.4px,#fff700 95.4px 96.5px,#f70000 96.5px 97.5px,#fff700 97.5px 98.6px,#f70000 98.6px 99.6px,#d7ff28 99.6px 100.7px,#ff1800 100.7px 101.7px,#fff700 101.7px 102.8px,#ff2800 102.8px 103.8px,#e7ff18 103.8px 104.9px,#b70000 104.9px 105.9px,#fff700 105.9px 107.0px,#ff1800 107.0px 108.0px,#e7ff18 108.0px 109.1px,#d70000 109.1px 110.1px,#a7ff58 110.1px 111.2px,#ff1800 111.2px 112.2px,#ffe700 112.2px 113.2px,#ff1800 113.2px 114.3px,#ffe700 114.3px 115.3px,#ff2800 115.3px 116.4px,#fff700 116.4px 117.4px,#ff0800 117.4px 118.5px,#fff700 118.5px 119.5px,#ff0800 119.5px 120.6px,#fff700 120.6px 121.6px,#e70000 121.6px 122.7px,#f7ff08 122.7px 123.7px,#ff1800 123.7px 124.8px,#f7ff08 124.8px 125.8px,#ff1800 125.8px 126.9px,#d7ff28 126.9px 127.9px,#ff4800 127.9px 129.0px,#d7ff28 129.0px 130.0px,#ff0800 130.0px 131.1px,#e7ff18 131.1px 132.1px,#ff1800 132.1px 133.2px,#ffa700 133.2px 134.2px,#e70000 134.2px 135.3px,#f7ff08 135.3px 136.3px,#ff1800 136.3px 137.4px,#ffd700 137.4px 138.4px,#ff2800 138.4px 139.5px,#ffd700 139.5px 140.5px,#f70000 140.5px 141.6px,#ffd700 141.6px 142.6px,#ff1800 142.6px 143.7px,#ffe700 143.7px 144.7px,#ff4800 144.7px 145.8px,#f7ff08 145.8px 146.8px,#e70000 146.8px 147.9px,#ffe700 147.9px 148.9px,#ff4800 148.9px 150.0px,#ffe700 150.0px 151.0px)"></div>
<div class="c" style="left:159.61px;width:9.89px;background:linear-gradient(#ffc700 0.0px 1.0px,#ff9700 1.0px 2.1px,#ffe700 2.1px 3.1px,#ffa700 3.1px 4.2px,#ffe700 4.2px 5.2px,#ff7800 5.2px 6.3px,#ffc700 6.3px 7.3px,#ff7800 7.3px 8.4px,#ffc700 8.4px 10.5px,#ffd700 10.5px 11.5px,#ff5800 11.5px 12.6px,#fff700 12.6px 13.6px,#ff9700 13.6px 14.7px,#ffe700 14.7px 15.7px,#ffb700 15.7px 16.8px,#ffc700 16.8px 17.8px,#ff7800 17.8px 18.9px,#ffb700 18.9px 19.9px,#ff8700 19.9px 21.0px,#ffb700 21.0px 22.0px,#ffc700 22.0px 23.1px,#ffb700 23.1px 24.1px,#ff8700 24.1px 25.2px,#ffd700 25.2px 26.2px,#ff9700 26.2px 27.3px,#fff700 27.3px 28.3px,#ff7800 28.3px 29.4px,#ffe700 29.4px 30.4px,#ffc700 30.4px 31.5px,#ffd700 31.5px 32.5px,#ffa700 32.5px 33.6px,#ffd700 33.6px 34.6px,#ff6800 34.6px 35.7px,#ffd700 35.7px 36.7px,#ff9700 36.7px 38.8px,#ffc700 38.8px 40.9px,#ff7800 40.9px 41.9px,#ffa700 41.9px 43.0px,#ff5800 43.0px 44.0px,#ffe700 44.0px 45.1px,#ff8700 45.1px 46.1px,#ffd700 46.1px 47.2px,#ffa700 47.2px 48.2px,#ffe700 48.2px 49.3px,#ffc700 49.3px 51.4px,#ff8700 51.4px 52.4px,#fff700 52.4px 53.5px,#ff8700 53.5px 54.5px,#ffe700 54.5px 55.6px,#ffb700 55.6px 56.6px,#d7ff28 56.6px 57.7px,#ff7800 57.7px 58.7px,#ffb700 58.7px 59.8px,#ffa700 59.8px 60.8px,#ffe700 60.8px 61.9px,#ffc700 61.9px 64.0px,#ff9700 64.0px 65.0px,#ffc700 65.0px 66.1px,#ff9700 66.1px 67.1px,#f7ff08 67.1px 68.2px,#ffc700 68.2px 72.4px,#ff7800 72.4px 73.4px,#fff700 73.4px 74.5px,#ff8700 74.5px 75.5px,#ffd700 75.5px 76.5px,#ff8700 76.5px 77.6px,#ffe700 77.6px 78.6px,#ff9700 78.6px 79.7px,#ffc700 79.7px 80.7px,#ff5800 80.7px 81.8px,#ffb700 81.8px 82.8px,#ff8700 82.8px 83.9px,#fff700 83.9px 84.9px,#ff8700 84.9px 86.0px,#ffe700 86.0px 87.0px,#ff9700 87.0px 88.1px,#ffc700 88.1px 89.1px,#ff7800 89.1px 90.2px,#ffc700 90.2px 91.2px,#ff9700 91.2px 92.3px,#ffd700 92.3px 93.3px,#ff6800 93.3px 94.4px,#ffe700 94.4px 95.4px,#ff9700 95.4px 96.5px,#ffa700 96.5px 97.5px,#ff9700 97.5px 98.6px,#ffb700 98.6px 99.6px,#ff7800 99.6px 100.7px,#ff9700 100.7px 101.7px,#ff7800 101.7px 102.8px,#f7ff08 102.8px 103.8px,#ff9700 103.8px 104.9px,#ffc700 104.9px 105.9px,#ff7800 105.9px 107.0px,#ffc700 107.0px 108.0px,#ff5800 108.0px 109.1px,#ffb700 109.1px 111.2px,#ffe700 111.2px 112.2px,#ffd700 112.2px 113.2px,#ff9700 113.2px 115.3px,#ffd700 115.3px 116.4px,#ffc700 116.4px 117.4px,#ffe700 117.4px 118.5px,#ff8700 118.5px 119.5px,#ffe700 119.5px 120.6px,#ffa700 120.6px 121.6px,#ffe700 121.6px 122.7px,#ff5800 122.7px 123.7px,#ffe700 123.7px 124.8px,#ffc700 124.8px 125.8px,#ffe700 125.8px 126.9px,#ffa700 126.9px 127.9px,#ffd700 127.9px 129.0px,#ffa700 129.0px 130.0px,#fff700 130.0px 131.1px,#ffa700 131.1px 132.1px,#ffc700 132.1px 134.2px,#ff9700 134.2px 135.3px,#ff6800 135.3px 136.3px,#e7ff18 136.3px 137.4px,#ffa700 137.4px 138.4px,#ffb700 138.4px 139.5px,#ff7800 139.5px 140.5px,#ffa700 140.5px 141.6px,#ffd700 141.6px 142.6px,#fff700 142.6px 143.7px,#ffa700 143.7px 144.7px,#ffc700 144.7px 145.8px,#ffb700 145.8px 146.8px,#ffc700 146.8px 147.9px,#ff8700 147.9px 148.9px,#ffc700 148.9px 151.0px)"></div>
</div>
<div class="t tk" style="left:3.10px;width:30px;text-align:right;top:163.65px">0</div>
<div class="t tk" style="left:3.10px;width:30px;text-align:right;top:144.78px">45</div>
<div class="t tk" style="left:3.10px;width:30px;text-align:right;top:125.90px">90</div>
<div class="t tk" style="left:3.10px;width:30px;text-align:right;top:107.03px">135</div>
<div class="t tk" style="left:3.10px;width:30px;text-align:right;top:88.15px">180</div>
<div class="t tk" style="left:3.10px;width:30px;text-align:right;top:69.28px">225</div>
<div class="t tk" style="left:3.10px;width:30px;text-align:right;top:50.40px">270</div>
<div class="t tk" style="left:3.10px;width:30px;text-align:right;top:31.53px">315</div>
<div class="t tk" style="left:3.10px;width:30px;text-align:right;top:12.65px">360</div>
<div class="t tk" style="left:49.17px;width:30px;text-align:center;top:173.35px">5</div>
<div class="t tk" style="left:96.11px;width:30px;text-align:center;top:173.35px">10</div>
<div class="t tk" style="left:143.06px;width:30px;text-align:center;top:173.35px">15</div>
<div class="t tk" style="left:190.00px;width:30px;text-align:center;top:173.35px">20</div>
<div class="t lb" style="left:60.50px;width:120px;text-align:center;top:184.20px">Wind speed, m/s</div>
<div class="t lb yl" style="left:-51.00px;top:87.20px">Wind direction, deg.</div>
<div class="cb" style="background:linear-gradient(#870000 0.0px 2.36px,#970000 2.36px 4.72px,#a70000 4.72px 7.08px,#b70000 7.08px 9.44px,#c70000 9.44px 11.8px,#d70000 11.8px 14.16px,#e70000 14.16px 16.52px,#f70000 16.52px 18.88px,#ff0800 18.88px 21.23px,#ff1800 21.23px 23.59px,#ff2800 23.59px 25.95px,#ff3800 25.95px 28.31px,#ff4800 28.31px 30.67px,#ff5800 30.67px 33.03px,#ff6800 33.03px 35.39px,#ff7800 35.39px 37.75px,#ff8700 37.75px 40.11px,#ff9700 40.11px 42.47px,#ffa700 42.47px 44.83px,#ffb700 44.83px 47.19px,#ffc700 47.19px 49.55px,#ffd700 49.55px 51.91px,#ffe700 51.91px 54.27px,#fff700 54.27px 56.62px,#f7ff08 56.62px 58.98px,#e7ff18 58.98px 61.34px,#d7ff28 61.34px 63.7px,#c7ff38 63.7px 66.06px,#b7ff48 66.06px 68.42px,#a7ff58 68.42px 70.78px,#97ff68 70.78px 73.14px,#87ff78 73.14px 75.5px,#78ff87 75.5px 77.86px,#68ff97 77.86px 80.22px,#58ffa7 80.22px 82.58px,#48ffb7 82.58px 84.94px,#38ffc7 84.94px 87.3px,#28ffd7 87.3px 89.66px,#18ffe7 89.66px 92.02px,#08fff7 92.02px 94.38px,#00f7ff 94.38px 96.73px,#00e7ff 96.73px 99.09px,#00d7ff 99.09px 101.45px,#00c7ff 101.45px 103.81px,#00b7ff 103.81px 106.17px,#00a7ff 106.17px 108.53px,#0097ff 108.53px 110.89px,#0087ff 110.89px 113.25px,#0078ff 113.25px 115.61px,#0068ff 115.61px 117.97px,#0058ff 117.97px 120.33px,#0048ff 120.33px 122.69px,#0038ff 122.69px 125.05px,#0028ff 125.05px 127.41px,#0018ff 127.41px 129.77px,#0008ff 129.77px 132.12px,#0000f7 132.12px 134.48px,#0000e7 134.48px 136.84px,#0000d7 136.84px 139.2px,#0000c7 139.2px 141.56px,#0000b7 141.56px 143.92px,#0000a7 143.92px 146.28px,#000097 146.28px 148.64px,#000087 148.64px 151.0px)"></div>
<div class="t tk" style="left:241.30px;top:153.47px">0.05</div>
<div class="t tk" style="left:241.30px;top:136.79px">0.1</div>
<div class="t tk" style="left:241.30px;top:120.10px">0.15</div>
<div class="t tk" style="left:241.30px;top:103.42px">0.2</div>
<div class="t tk" style="left:241.30px;top:86.73px">0.25</div>
<div class="t tk" style="left:241.30px;top:70.05px">0.3</div>
<div class="t tk" style="left:241.30px;top:53.36px">0.35</div>
<div class="t tk" style="left:241.30px;top:36.68px">0.4</div>
<div class="t tk" style="left:241.30px;top:19.99px">0.45</div>
</div>
<div class="pn" style="left:290.3px;top:209.2px">
<div class="t ttl" style="left:-10.70px;width:260px;text-align:center;top:3.01px">Maximum error of wind direction, deg.</div>
<div class="plot">
<div class="c" style="left:0.0px;width:9.89px;background:linear-gradient(#08fff7 0.0px 1.0px,#f7ff08 1.0px 2.1px,#28ffd7 2.1px 3.1px,#68ff97 3.1px 4.2px,#08fff7 4.2px 5.2px,#97ff68 5.2px 6.3px,#18ffe7 6.3px 7.3px,#78ff87 7.3px 8.4px,#18ffe7 8.4px 9.4px,#b7ff48 9.4px 10.5px,#48ffb7 10.5px 11.5px,#c7ff38 11.5px 12.6px,#28ffd7 12.6px 13.6px,#78ff87 13.6px 14.7px,#68ff97 14.7px 16.8px,#38ffc7 16.8px 17.8px,#a7ff58 17.8px 18.9px,#00e7ff 18.9px 19.9px,#97ff68 19.9px 21.0px,#00f7ff 21.0px 22.0px,#c7ff38 22.0px 23.1px,#08fff7 23.1px 24.1px,#e7ff18 24.1px 25.2px,#00c7ff 25.2px 26.2px,#b7ff48 26.2px 27.3px,#00e7ff 27.3px 28.3px,#d7ff28 28.3px 29.4px,#00b7ff 29.4px 30.4px,#a7ff58 30.4px 31.5px,#18ffe7 31.5px 32.5px,#78ff87 32.5px 33.6px,#38ffc7 33.6px 34.6px,#b7ff48 34.6px 35.7px,#38ffc7 35.7px 36.7px,#d7ff28 36.7px 37.8px,#00e7ff 37.8px 38.8px,#97ff68 38.8px 39.8px,#08fff7 39.8px 40.9px,#d7ff28 40.9px 41.9px,#38ffc7 41.9px 43.0px,#97ff68 43.0px 44.0px,#00f7ff 44.0px 45.1px,#97ff68 45.1px 46.1px,#00f7ff 46.1px 47.2px,#a7ff58 47.2px 48.2px,#08fff7 48.2px 49.3px,#fff700 49.3px 50.3px,#00f7ff 50.3px 51.4px,#a7ff58 51.4px 52.4px,#28ffd7 52.4px 53.5px,#87ff78 53.5px 54.5px,#08fff7 54.5px 55.6px,#b7ff48 55.6px 56.6px,#28ffd7 56.6px 57.7px,#78ff87 57.7px 58.7px,#48ffb7 58.7px 59.8px,#a7ff58 59.8px 60.8px,#18ffe7 60.8px 61.9px,#d7ff28 61.9px 62.9px,#28ffd7 62.9px 64.0px,#d7ff28 64.0px 65.0px,#18ffe7 65.0px 66.1px,#b7ff48 66.1px 67.1px,#18ffe7 67.1px 68.2px,#87ff78 68.2px 69.2px,#48ffb7 69.2px 70.3px,#97ff68 70.3px 71.3px,#00d7ff 71.3px 72.4px,#fff700 72.4px 73.4px,#08fff7 73.4px 74.5px,#87ff78 74.5px 75.5px,#58ffa7 75.5px 76.5px,#a7ff58 76.5px 77.6px,#38ffc7 77.6px 78.6px,#97ff68 78.6px 79.7px,#08fff7 79.7px 80.7px,#68ff97 80.7px 81.8px,#00c7ff 81.8px 82.8px,#87ff78 82.8px 83.9px,#08fff7 83.9px 84.9px,#d7ff28 84.9px 86.0px,#78ff87 86.0px 87.0px,#87ff78 87.0px 88.1px,#38ffc7 88.1px 89.1px,#97ff68 89.1px 90.2px,#08fff7 90.2px 91.2px,#78ff87 91.2px 92.3px,#00d7ff 92.3px 93.3px,#97ff68 93.3px 94.4px,#00d7ff 94.4px 95.4px,#b7ff48 95.4px 96.5px,#00f7ff 96.5px 97.5px,#e7ff18 97.5px 98.6px,#18ffe7 98.6px 99.6px,#b7ff48 99.6px 100.7px,#38ffc7 100.7px 101.7px,#c7ff38 101.7px 102.8px,#08fff7 102.8px 103.8px,#a7ff58 103.8px 104.9px,#08fff7 104.9px 105.9px,#d7ff28 105.9px 107.0px,#28ffd7 107.0px 108.0px,#c7ff38 108.0px 109.1px,#38ffc7 109.1px 110.1px,#97ff68 110.1px 111.2px,#28ffd7 111.2px 112.2px,#78ff87 112.2px 113.2px,#48ffb7 113.2px 114.3px,#b7ff48 114.3px 115.3px,#18ffe7 115.3px 116.4px,#c7ff38 116.4px 117.4px,#08fff7 117.4px 118.5px,#a7ff58 118.5px 119.5px,#48ffb7 119.5px 120.6px,#b7ff48 120.6px 121.6px,#00e7ff 121.6px 122.7px,#c7ff38 122.7px 123.7px,#00c7ff 123.7px 124.8px,#f7ff08 124.8px 125.8px,#08fff7 125.8px 126.9px,#b7ff48 126.9px 127.9px,#68ff97 127.9px 129.0px,#fff700 129.0px 130.0px,#18ffe7 130.0px 131.1px,#c7ff38 131.1px 132.1px,#38ffc7 132.1px 133.2px,#f7ff08 133.2px 134.2px,#08fff7 134.2px 135.3px,#b7ff48 135.3px 136.3px,#48ffb7 136.3px 137.4px,#b7ff48 137.4px 138.4px,#28ffd7 138.4px 139.5px,#c7ff38 139.5px 140.5px,#00e7ff 140.5px 141.6px,#97ff68 141.6px 142.6px,#00a7ff 142.6px 143.7px,#a7ff58 143.7px 144.7px,#48ffb7 144.7px 145.8px,#87ff78 145.8px 146.8px,#48ffb7 146.8px 147.9px,#d7ff28 147.9px 148.9px,#08fff7 148.9px 150.0px,#b7ff48 150.0px 151.0px)"></div>
<div class="c" style="left:9.39px;width:9.89px;background:linear-gradient(#ff3800 0.0px 1.0px,#ffe700 1.0px 2.1px,#00c7ff 2.1px 3.1px,#ffc700 3.1px 4.2px,#ff1800 4.2px 5.2px,#ffe700 5.2px 6.3px,#00b7ff 6.3px 7.3px,#fff700 7.3px 8.4px,#f70000 8.4px 9.4px,#ffa700 9.4px 10.5px,#0058ff 10.5px 11.5px,#ffb700 11.5px 12.6px,#ff2800 12.6px 13.6px,#ffb700 13.6px 14.7px,#ff0800 14.7px 15.7px,#ffb700 15.7px 16.8px,#ff3800 16.8px 17.8px,#ffe700 17.8px 18.9px,#ff0800 18.9px 19.9px,#b7ff48 19.9px 21.0px,#f70000 21.0px 22.0px,#fff700 22.0px 23.1px,#ff4800 23.1px 24.1px,#ffe700 24.1px 25.2px,#0097ff 25.2px 26.2px,#ffc700 26.2px 27.3px,#ff0800 27.3px 28.3px,#f7ff08 28.3px 29.4px,#00e7ff 29.4px 30.4px,#ffc700 30.4px 31.5px,#00a7ff 31.5px 32.5px,#e7ff18 32.5px 33.6px,#ff1800 33.6px 34.6px,#fff700 34.6px 35.7px,#ff3800 35.7px 36.7px,#ffe700 36.7px 37.8px,#ff0800 37.8px 38.8px,#ffa700 38.8px 39.8px,#00c7ff 39.8px 40.9px,#f7ff08 40.9px 41.9px,#00b7ff 41.9px 43.0px,#ffe700 43.0px 44.0px,#ff0800 44.0px 45.1px,#f7ff08 45.1px 46.1px,#00c7ff 46.1px 47.2px,#ffb700 47.2px 48.2px,#ff2800 48.2px 49.3px,#ffc700 49.3px 50.3px,#f70000 50.3px 51.4px,#ffe700 51.4px 52.4px,#f70000 52.4px 53.5px,#ffe700 53.5px 54.5px,#ff0800 54.5px 55.6px,#ffa700 55.6px 56.6px,#f70000 56.6px 57.7px,#ffd700 57.7px 58.7px,#00e7ff 58.7px 59.8px,#fff700 59.8px 60.8px,#ff0800 60.8px 61.9px,#ffe700 61.9px 62.9px,#08fff7 62.9px 64.0px,#ffc700 64.0px 65.0px,#0097ff 65.0px 66.1px,#ffe700 66.1px 67.1px,#ff3800 67.1px 68.2px,#ffb700 68.2px 69.2px,#f70000 69.2px 70.3px,#ffd700 70.3px 71.3px,#e70000 71.3px 72.4px,#ffd700 72.4px 73.4px,#0097ff 73.4px 74.5px,#fff700 74.5px 75.5px,#ff0800 75.5px 76.5px,#ff9700 76.5px 77.6px,#f70000 77.6px 78.6px,#ffe700 78.6px 79.7px,#ff5800 79.7px 80.7px,#fff700 80.7px 81.8px,#ff2800 81.8px 82.8px,#ffb700 82.8px 83.9px,#00c7ff 83.9px 84.9px,#f7ff08 84.9px 86.0px,#ff1800 86.0px 87.0px,#ffc700 87.0px 88.1px,#00b7ff 88.1px 89.1px,#fff700 89.1px 90.2px,#ff0800 90.2px 91.2px,#ffe700 91.2px 92.3px,#ff2800 92.3px 93.3px,#ffd700 93.3px 94.4px,#00c7ff 94.4px 95.4px,#ffd700 95.4px 96.5px,#ff3800 96.5px 97.5px,#ffe700 97.5px 98.6px,#ff3800 98.6px 99.6px,#ffe700 99.6px 100.7px,#f70000 100.7px 101.7px,#fff700 101.7px 102.8px,#00b7ff 102.8px 103.8px,#ffb700 103.8px 104.9px,#ff0800 104.9px 105.9px,#ffa700 105.9px 107.0px,#ff2800 107.0px 108.0px,#f7ff08 108.0px 109.1px,#ff0800 109.1px 110.1px,#fff700 110.1px 111.2px,#00c7ff 111.2px 112.2px,#ffe700 112.2px 113.2px,#ff2800 113.2px 114.3px,#fff700 114.3px 115.3px,#c70000 115.3px 116.4px,#fff700 116.4px 117.4px,#0058ff 117.4px 118.5px,#ffe700 118.5px 119.5px,#ff0800 119.5px 120.6px,#ffe700 120.6px 121.6px,#ff5800 121.6px 122.7px,#ffe700 122.7px 123.7px,#ff2800 123.7px 124.8px,#ffe700 124.8px 125.8px,#ff2800 125.8px 126.9px,#d7ff28 126.9px 127.9px,#00c7ff 127.9px 129.0px,#ffa700 129.0px 130.0px,#00a7ff 130.0px 131.1px,#fff700 131.1px 132.1px,#ff1800 132.1px 133.2px,#c7ff38 133.2px 134.2px,#00e7ff 134.2px 135.3px,#ffc700 135.3px 136.3px,#ff2800 136.3px 137.4px,#ffd700 137.4px 138.4px,#ff0800 138.4px 139.5px,#f7ff08 139.5px 140.5px,#ff4800 140.5px 141.6px,#fff700 141.6px 142.6px,#00b7ff 142.6px 143.7px,#ffe700 143.7px 144.7px,#0087ff 144.7px 145.8px,#f7ff08 145.8px 146.8px,#00a7ff 146.8px 147.9px,#f7ff08 147.9px 148.9px,#e70000 148.9px 150.0px,#ffc700 150.0px 151.0px)"></div>
<div class="c" style="left:18.78px;width:9.89px;background:linear-gradient(#58ffa7 0.0px 1.0px,#e7ff18 1.0px 2.1px,#38ffc7 2.1px 3.1px,#d7ff28 3.1px 4.2px,#58ffa7 4.2px 5.2px,#d7ff28 5.2px 6.3px,#48ffb7 6.3px 7.3px,#b7ff48 7.3px 8.4px,#58ffa7 8.4px 9.4px,#b7ff48 9.4px 10.5px,#58ffa7 10.5px 11.5px,#c7ff38 11.5px 12.6px,#48ffb7 12.6px 13.6px,#c7ff38 13.6px 14.7px,#78ff87 14.7px 15.7px,#87ff78 15.7px 16.8px,#68ff97 16.8px 17.8px,#b7ff48 17.8px 18.9px,#48ffb7 18.9px 19.9px,#a7ff58 19.9px 21.0px,#48ffb7 21.0px 22.0px,#b7ff48 22.0px 23.1px,#78ff87 23.1px 24.1px,#a7ff58 24.1px 25.2px,#87ff78 25.2px 26.2px,#b7ff48 26.2px 27.3px,#78ff87 27.3px 28.3px,#e7ff18 28.3px 29.4px,#48ffb7 29.4px 30.4px,#e7ff18 30.4px 31.5px,#a7ff58 31.5px 32.5px,#c7ff38 32.5px 33.6px,#78ff87 33.6px 34.6px,#c7ff38 34.6px 35.7px,#68ff97 35.7px 36.7px,#c7ff38 36.7px 37.8px,#58ffa7 37.8px 38.8px,#e7ff18 38.8px 39.8px,#87ff78 39.8px 40.9px,#d7ff28 40.9px 41.9px,#97ff68 41.9px 43.0px,#f7ff08 43.0px 44.0px,#78ff87 44.0px 45.1px,#b7ff48 45.1px 46.1px,#a7ff58 46.1px 47.2px,#f7ff08 47.2px 48.2px,#28ffd7 48.2px 49.3px,#a7ff58 49.3px 50.3px,#58ffa7 50.3px 51.4px,#e7ff18 51.4px 52.4px,#97ff68 52.4px 53.5px,#c7ff38 53.5px 54.5px,#78ff87 54.5px 55.6px,#e7ff18 55.6px 56.6px,#48ffb7 56.6px 57.7px,#e7ff18 57.7px 58.7px,#68ff97 58.7px 59.8px,#d7ff28 59.8px 60.8px,#68ff97 60.8px 61.9px,#a7ff58 61.9px 62.9px,#48ffb7 62.9px 64.0px,#d7ff28 64.0px 65.0px,#68ff97 65.0px 66.1px,#c7ff38 66.1px 67.1px,#87ff78 67.1px 68.2px,#c7ff38 68.2px 69.2px,#48ffb7 69.2px 70.3px,#c7ff38 70.3px 71.3px,#68ff97 71.3px 72.4px,#c7ff38 72.4px 73.4px,#87ff78 73.4px 74.5px,#e7ff18 74.5px 75.5px,#87ff78 75.5px 76.5px,#e7ff18 76.5px 77.6px,#68ff97 77.6px 78.6px,#f7ff08 78.6px 79.7px,#68ff97 79.7px 80.7px,#d7ff28 80.7px 81.8px,#48ffb7 81.8px 82.8px,#d7ff28 82.8px 83.9px,#68ff97 83.9px 84.9px,#d7ff28 84.9px 86.0px,#a7ff58 86.0px 87.0px,#ffe700 87.0px 88.1px,#87ff78 88.1px 89.1px,#d7ff28 89.1px 90.2px,#87ff78 90.2px 91.2px,#d7ff28 91.2px 92.3px,#58ffa7 92.3px 93.3px,#d7ff28 93.3px 94.4px,#68ff97 94.4px 95.4px,#b7ff48 95.4px 96.5px,#97ff68 96.5px 97.5px,#c7ff38 97.5px 98.6px,#58ffa7 98.6px 99.6px,#e7ff18 99.6px 100.7px,#58ffa7 100.7px 101.7px,#a7ff58 101.7px 102.8px,#58ffa7 102.8px 103.8px,#e7ff18 103.8px 104.9px,#78ff87 104.9px 105.9px,#d7ff28 105.9px 107.0px,#58ffa7 107.0px 108.0px,#b7ff48 108.0px 109.1px,#87ff78 109.1px 110.1px,#a7ff58 110.1px 111.2px,#68ff97 111.2px 112.2px,#a7ff58 112.2px 113.2px,#58ffa7 113.2px 114.3px,#c7ff38 114.3px 115.3px,#97ff68 115.3px 116.4px,#78ff87 116.4px 117.4px,#97ff68 117.4px 118.5px,#b7ff48 118.5px 119.5px,#78ff87 119.5px 120.6px,#e7ff18 120.6px 121.6px,#58ffa7 121.6px 122.7px,#c7ff38 122.7px 123.7px,#78ff87 123.7px 124.8px,#c7ff38 124.8px 125.8px,#58ffa7 125.8px 126.9px,#d7ff28 126.9px 127.9px,#68ff97 127.9px 129.0px,#a7ff58 129.0px 130.0px,#97ff68 130.0px 131.1px,#d7ff28 131.1px 132.1px,#28ffd7 132.1px 133.2px,#b7ff48 133.2px 134.2px,#a7ff58 134.2px 135.3px,#fff700 135.3px 136.3px,#78ff87 136.3px 137.4px,#97ff68 137.4px 138.4px,#68ff97 138.4px 139.5px,#f7ff08 139.5px 140.5px,#78ff87 140.5px 141.6px,#c7ff38 141.6px 142.6px,#58ffa7 142.6px 143.7px,#e7ff18 143.7px 144.7px,#68ff97 144.7px 145.8px,#d7ff28 145.8px 146.8px,#78ff87 146.8px 147.9px,#fff700 147.9px 148.9px,#78ff87 148.9px 150.0px,#d7ff28 150.0px 151.0px)"></div>
<div class="c" style="left:28.17px;width:9.89px;background:linear-gradient(#08fff7 0.0px 1.0px,#00c7ff 1.0px 2.1px,#58ffa7 2.1px 3.1px,#00a7ff 3.1px 4.2px,#00f7ff 4.2px 5.2px,#0097ff 5.2px 6.3px,#38ffc7 6.3px 7.3px,#00e7ff 7.3px 8.4px,#48ffb7 8.4px 9.4px,#00c7ff 9.4px 10.5px,#58ffa7 10.5px 11.5px,#00d7ff 11.5px 12.6px,#18ffe7 12.6px 13.6px,#0087ff 13.6px 14.7px,#18ffe7 14.7px 15.7px,#00a7ff 15.7px 16.8px,#28ffd7 16.8px 17.8px,#00a7ff 17.8px 18.9px,#18ffe7 18.9px 19.9px,#00a7ff 19.9px 21.0px,#18ffe7 21.0px 22.0px,#00e7ff 22.0px 23.1px,#28ffd7 23.1px 24.1px,#00f7ff 24.1px 25.2px,#68ff97 25.2px 26.2px,#0087ff 26.2px 27.3px,#58ffa7 27.3px 28.3px,#00b7ff 28.3px 29.4px,#08fff7 29.4px 30.4px,#00b7ff 30.4px 31.5px,#38ffc7 31.5px 32.5px,#00b7ff 32.5px 33.6px,#18ffe7 33.6px 34.6px,#00a7ff 34.6px 35.7px,#48ffb7 35.7px 36.7px,#00a7ff 36.7px 37.8px,#28ffd7 37.8px 38.8px,#00a7ff 38.8px 39.8px,#18ffe7 39.8px 40.9px,#00b7ff 40.9px 41.9px,#00e7ff 41.9px 43.0px,#00d7ff 43.0px 44.0px,#38ffc7 44.0px 45.1px,#00b7ff 45.1px 46.1px,#58ffa7 46.1px 47.2px,#0087ff 47.2px 48.2px,#78ff87 48.2px 49.3px,#0087ff 49.3px 50.3px,#48ffb7 50.3px 51.4px,#00b7ff 51.4px 52.4px,#68ff97 52.4px 53.5px,#00a7ff 53.5px 54.5px,#08fff7 54.5px 55.6px,#00b7ff 55.6px 56.6px,#00e7ff 56.6px 57.7px,#00a7ff 57.7px 58.7px,#28ffd7 58.7px 59.8px,#00d7ff 59.8px 60.8px,#38ffc7 60.8px 61.9px,#0097ff 61.9px 62.9px,#28ffd7 62.9px 64.0px,#0087ff 64.0px 65.0px,#28ffd7 65.0px 66.1px,#00b7ff 66.1px 67.1px,#18ffe7 67.1px 68.2px,#00a7ff 68.2px 69.2px,#08fff7 69.2px 70.3px,#00a7ff 70.3px 71.3px,#38ffc7 71.3px 72.4px,#0087ff 72.4px 73.4px,#28ffd7 73.4px 74.5px,#00a7ff 74.5px 75.5px,#58ffa7 75.5px 76.5px,#00c7ff 76.5px 77.6px,#38ffc7 77.6px 78.6px,#0087ff 78.6px 79.7px,#08fff7 79.7px 80.7px,#00c7ff 80.7px 81.8px,#68ff97 81.8px 82.8px,#00b7ff 82.8px 83.9px,#68ff97 83.9px 84.9px,#0097ff 84.9px 86.0px,#28ffd7 86.0px 87.0px,#00d7ff 87.0px 88.1px,#18ffe7 88.1px 89.1px,#00b7ff 89.1px 90.2px,#48ffb7 90.2px 91.2px,#00a7ff 91.2px 92.3px,#68ff97 92.3px 93.3px,#0087ff 93.3px 94.4px,#28ffd7 94.4px 95.4px,#0068ff 95.4px 96.5px,#18ffe7 96.5px 97.5px,#0097ff 97.5px 98.6px,#28ffd7 98.6px 99.6px,#00a7ff 99.6px 100.7px,#48ffb7 100.7px 101.7px,#0097ff 101.7px 102.8px,#00f7ff 102.8px 103.8px,#00a7ff 103.8px 104.9px,#48ffb7 104.9px 105.9px,#0087ff 105.9px 107.0px,#18ffe7 107.0px 108.0px,#00d7ff 108.0px 109.1px,#58ffa7 109.1px 110.1px,#00c7ff 110.1px 111.2px,#48ffb7 111.2px 112.2px,#00a7ff 112.2px 113.2px,#28ffd7 113.2px 114.3px,#00b7ff 114.3px 115.3px,#38ffc7 115.3px 116.4px,#0097ff 116.4px 117.4px,#38ffc7 117.4px 118.5px,#00a7ff 118.5px 119.5px,#58ffa7 119.5px 120.6px,#0087ff 120.6px 121.6px,#87ff78 121.6px 122.7px,#0087ff 122.7px 123.7px,#28ffd7 123.7px 124.8px,#00c7ff 124.8px 125.8px,#18ffe7 125.8px 126.9px,#0097ff 126.9px 127.9px,#38ffc7 127.9px 129.0px,#0048ff 129.0px 130.0px,#28ffd7 130.0px 131.1px,#0087ff 131.1px 132.1px,#38ffc7 132.1px 133.2px,#00b7ff 133.2px 134.2px,#48ffb7 134.2px 135.3px,#00d7ff 135.3px 136.3px,#68ff97 136.3px 137.4px,#00c7ff 137.4px 138.4px,#38ffc7 138.4px 139.5px,#00c7ff 139.5px 140.5px,#18ffe7 140.5px 141.6px,#00a7ff 141.6px 142.6px,#68ff97 142.6px 143.7px,#00c7ff 143.7px 144.7px,#08fff7 144.7px 145.8px,#0097ff 145.8px 146.8px,#58ffa7 146.8px 147.9px,#00b7ff 147.9px 148.9px,#58ffa7 148.9px 150.0px,#0078ff 150.0px 151.0px)"></div>
<div class="c" style="left:37.56px;width:9.89px;background:linear-gradient(#78ff87 0.0px 1.0px,#18ffe7 1.0px 2.1px,#78ff87 2.1px 3.1px,#28ffd7 3.1px 4.2px,#87ff78 4.2px 5.2px,#28ffd7 5.2px 6.3px,#87ff78 6.3px 7.3px,#38ffc7 7.3px 8.4px,#87ff78 8.4px 9.4px,#18ffe7 9.4px 10.5px,#97ff68 10.5px 11.5px,#38ffc7 11.5px 12.6px,#87ff78 12.6px 13.6px,#38ffc7 13.6px 14.7px,#58ffa7 14.7px 15.7px,#38ffc7 15.7px 16.8px,#78ff87 16.8px 17.8px,#18ffe7 17.8px 18.9px,#97ff68 18.9px 19.9px,#28ffd7 19.9px 21.0px,#87ff78 21.0px 22.0px,#48ffb7 22.0px 23.1px,#a7ff58 23.1px 24.1px,#08fff7 24.1px 25.2px,#78ff87 25.2px 26.2px,#38ffc7 26.2px 27.3px,#78ff87 27.3px 28.3px,#00e7ff 28.3px 29.4px,#87ff78 29.4px 30.4px,#38ffc7 30.4px 31.5px,#97ff68 31.5px 32.5px,#38ffc7 32.5px 33.6px,#78ff87 33.6px 34.6px,#38ffc7 34.6px 35.7px,#78ff87 35.7px 36.7px,#28ffd7 36.7px 37.8px,#87ff78 37.8px 38.8px,#38ffc7 38.8px 39.8px,#68ff97 39.8px 40.9px,#48ffb7 40.9px 41.9px,#97ff68 41.9px 43.0px,#38ffc7 43.0px 44.0px,#48ffb7 44.0px 45.1px,#38ffc7 45.1px 46.1px,#78ff87 46.1px 47.2px,#18ffe7 47.2px 48.2px,#87ff78 48.2px 49.3px,#08fff7 49.3px 50.3px,#97ff68 50.3px 51.4px,#38ffc7 51.4px 52.4px,#78ff87 52.4px 53.5px,#48ffb7 53.5px 54.5px,#87ff78 54.5px 55.6px,#38ffc7 55.6px 56.6px,#68ff97 56.6px 57.7px,#38ffc7 57.7px 58.7px,#97ff68 58.7px 59.8px,#48ffb7 59.8px 60.8px,#68ff97 60.8px 61.9px,#48ffb7 61.9px 62.9px,#a7ff58 62.9px 64.0px,#38ffc7 64.0px 65.0px,#78ff87 65.0px 66.1px,#08fff7 66.1px 67.1px,#68ff97 67.1px 68.2px,#28ffd7 68.2px 69.2px,#87ff78 69.2px 70.3px,#38ffc7 70.3px 71.3px,#78ff87 71.3px 72.4px,#08fff7 72.4px 73.4px,#78ff87 73.4px 74.5px,#18ffe7 74.5px 75.5px,#97ff68 75.5px 76.5px,#18ffe7 76.5px 77.6px,#87ff78 77.6px 78.6px,#38ffc7 78.6px 79.7px,#68ff97 79.7px 80.7px,#48ffb7 80.7px 81.8px,#78ff87 81.8px 82.8px,#18ffe7 82.8px 83.9px,#68ff97 83.9px 84.9px,#28ffd7 84.9px 86.0px,#97ff68 86.0px 87.0px,#08fff7 87.0px 88.1px,#87ff78 88.1px 89.1px,#28ffd7 89.1px 90.2px,#68ff97 90.2px 91.2px,#28ffd7 91.2px 92.3px,#78ff87 92.3px 93.3px,#28ffd7 93.3px 94.4px,#87ff78 94.4px 95.4px,#18ffe7 95.4px 96.5px,#a7ff58 96.5px 97.5px,#38ffc7 97.5px 98.6px,#78ff87 98.6px 99.6px,#08fff7 99.6px 100.7px,#78ff87 100.7px 101.7px,#28ffd7 101.7px 102.8px,#87ff78 102.8px 103.8px,#38ffc7 103.8px 104.9px,#a7ff58 104.9px 105.9px,#28ffd7 105.9px 107.0px,#87ff78 107.0px 108.0px,#28ffd7 108.0px 109.1px,#78ff87 109.1px 110.1px,#48ffb7 110.1px 111.2px,#78ff87 111.2px 112.2px,#28ffd7 112.2px 113.2px,#78ff87 113.2px 114.3px,#38ffc7 114.3px 115.3px,#87ff78 115.3px 116.4px,#28ffd7 116.4px 117.4px,#68ff97 117.4px 118.5px,#38ffc7 118.5px 119.5px,#68ff97 119.5px 120.6px,#28ffd7 120.6px 121.6px,#87ff78 121.6px 122.7px,#38ffc7 122.7px 123.7px,#58ffa7 123.7px 125.8px,#97ff68 125.8px 126.9px,#58ffa7 126.9px 127.9px,#b7ff48 127.9px 129.0px,#18ffe7 129.0px 130.0px,#78ff87 130.0px 131.1px,#38ffc7 131.1px 132.1px,#97ff68 132.1px 133.2px,#28ffd7 133.2px 134.2px,#78ff87 134.2px 135.3px,#48ffb7 135.3px 136.3px,#68ff97 136.3px 137.4px,#38ffc7 137.4px 138.4px,#97ff68 138.4px 139.5px,#28ffd7 139.5px 140.5px,#87ff78 140.5px 141.6px,#28ffd7 141.6px 142.6px,#58ffa7 142.6px 143.7px,#28ffd7 143.7px 144.7px,#78ff87 144.7px 145.8px,#28ffd7 145.8px 146.8px,#78ff87 146.8px 147.9px,#38ffc7 147.9px 148.9px,#87ff78 148.9px 150.0px,#38ffc7 150.0px 151.0px)"></div>
<div class="c" style="left:46.94px;width:9.89px;background:linear-gradient(#00c7ff 0.0px 1.0px,#08fff7 1.0px 2.1px,#00c7ff 2.1px 3.1px,#08fff7 3.1px 4.2px,#00e7ff 4.2px 6.3px,#00d7ff 6.3px 7.3px,#00e7ff 7.3px 8.4px,#00c7ff 8.4px 9.4px,#18ffe7 9.4px 10.5px,#00c7ff 10.5px 11.5px,#28ffd7 11.5px 12.6px,#00b7ff 12.6px 13.6px,#08fff7 13.6px 14.7px,#00c7ff 14.7px 15.7px,#08fff7 15.7px 16.8px,#00c7ff 16.8px 17.8px,#08fff7 17.8px 18.9px,#00d7ff 18.9px 19.9px,#28ffd7 19.9px 21.0px,#00d7ff 21.0px 22.0px,#08fff7 22.0px 23.1px,#00c7ff 23.1px 24.1px,#00f7ff 24.1px 25.2px,#00a7ff 25.2px 26.2px,#00f7ff 26.2px 27.3px,#00c7ff 27.3px 28.3px,#00e7ff 28.3px 29.4px,#00d7ff 29.4px 30.4px,#08fff7 30.4px 31.5px,#00b7ff 31.5px 32.5px,#00f7ff 32.5px 33.6px,#00d7ff 33.6px 34.6px,#18ffe7 34.6px 35.7px,#00d7ff 35.7px 36.7px,#28ffd7 36.7px 37.8px,#00f7ff 37.8px 39.8px,#00e7ff 39.8px 40.9px,#00f7ff 40.9px 41.9px,#00b7ff 41.9px 43.0px,#08fff7 43.0px 44.0px,#00e7ff 44.0px 45.1px,#08fff7 45.1px 46.1px,#00c7ff 46.1px 47.2px,#28ffd7 47.2px 48.2px,#00d7ff 48.2px 49.3px,#08fff7 49.3px 50.3px,#00f7ff 50.3px 51.4px,#18ffe7 51.4px 52.4px,#00c7ff 52.4px 53.5px,#00f7ff 53.5px 54.5px,#00c7ff 54.5px 55.6px,#18ffe7 55.6px 56.6px,#00e7ff 56.6px 57.7px,#28ffd7 57.7px 58.7px,#00d7ff 58.7px 59.8px,#00f7ff 59.8px 60.8px,#00e7ff 60.8px 61.9px,#18ffe7 61.9px 62.9px,#00b7ff 62.9px 64.0px,#00f7ff 64.0px 65.0px,#00d7ff 65.0px 66.1px,#18ffe7 66.1px 67.1px,#00e7ff 67.1px 68.2px,#00f7ff 68.2px 70.3px,#00e7ff 70.3px 71.3px,#00d7ff 71.3px 72.4px,#28ffd7 72.4px 73.4px,#00e7ff 73.4px 74.5px,#00f7ff 74.5px 75.5px,#00d7ff 75.5px 76.5px,#28ffd7 76.5px 77.6px,#00e7ff 77.6px 78.6px,#00f7ff 78.6px 80.7px,#00e7ff 80.7px 81.8px,#00d7ff 81.8px 82.8px,#00f7ff 82.8px 83.9px,#00c7ff 83.9px 84.9px,#08fff7 84.9px 86.0px,#00d7ff 86.0px 87.0px,#00f7ff 87.0px 88.1px,#00d7ff 88.1px 89.1px,#28ffd7 89.1px 90.2px,#00d7ff 90.2px 91.2px,#18ffe7 91.2px 92.3px,#00d7ff 92.3px 93.3px,#00f7ff 93.3px 94.4px,#00c7ff 94.4px 95.4px,#08fff7 95.4px 96.5px,#00d7ff 96.5px 97.5px,#38ffc7 97.5px 98.6px,#00f7ff 98.6px 99.6px,#08fff7 99.6px 100.7px,#00c7ff 100.7px 101.7px,#00f7ff 101.7px 102.8px,#00a7ff 102.8px 103.8px,#28ffd7 103.8px 104.9px,#00d7ff 104.9px 105.9px,#00e7ff 105.9px 107.0px,#00d7ff 107.0px 108.0px,#38ffc7 108.0px 109.1px,#00d7ff 109.1px 110.1px,#18ffe7 110.1px 111.2px,#00d7ff 111.2px 112.2px,#00f7ff 112.2px 113.2px,#00b7ff 113.2px 114.3px,#00f7ff 114.3px 115.3px,#00d7ff 115.3px 116.4px,#08fff7 116.4px 117.4px,#00d7ff 117.4px 118.5px,#38ffc7 118.5px 119.5px,#00d7ff 119.5px 120.6px,#18ffe7 120.6px 121.6px,#00c7ff 121.6px 122.7px,#00f7ff 122.7px 124.8px,#18ffe7 124.8px 125.8px,#00e7ff 125.8px 126.9px,#08fff7 126.9px 127.9px,#00a7ff 127.9px 129.0px,#28ffd7 129.0px 130.0px,#00a7ff 130.0px 131.1px,#08fff7 131.1px 132.1px,#00c7ff 132.1px 133.2px,#18ffe7 133.2px 134.2px,#00e7ff 134.2px 135.3px,#18ffe7 135.3px 136.3px,#00a7ff 136.3px 137.4px,#28ffd7 137.4px 138.4px,#00a7ff 138.4px 139.5px,#18ffe7 139.5px 140.5px,#00c7ff 140.5px 141.6px,#00f7ff 141.6px 142.6px,#00c7ff 142.6px 143.7px,#00f7ff 143.7px 144.7px,#00d7ff 144.7px 145.8px,#28ffd7 145.8px 146.8px,#00e7ff 146.8px 147.9px,#08fff7 147.9px 148.9px,#00e7ff 148.9px 150.0px,#18ffe7 150.0px 151.0px)"></div>
<div class="c" style="left:56.33px;width:9.89px;background:linear-gradient(#00a7ff 0.0px 1.0px,#08fff7 1.0px 2.1px,#0097ff 2.1px 3.1px,#08fff7 3.1px 4.2px,#0097ff 4.2px 5.2px,#18ffe7 5.2px 6.3px,#00b7ff 6.3px 7.3px,#38ffc7 7.3px 8.4px,#0097ff 8.4px 9.4px,#28ffd7 9.4px 10.5px,#0087ff 10.5px 11.5px,#08fff7 11.5px 12.6px,#0058ff 12.6px 13.6px,#08fff7 13.6px 14.7px,#0087ff 14.7px 15.7px,#68ff97 15.7px 16.8px,#0078ff 16.8px 17.8px,#18ffe7 17.8px 18.9px,#0097ff 18.9px 19.9px,#00e7ff 19.9px 21.0px,#00a7ff 21.0px 22.0px,#18ffe7 22.0px 23.1px,#0078ff 23.1px 24.1px,#00c7ff 24.1px 25.2px,#0097ff 25.2px 26.2px,#00e7ff 26.2px 27.3px,#00b7ff 27.3px 28.3px,#08fff7 28.3px 29.4px,#00a7ff 29.4px 30.4px,#08fff7 30.4px 31.5px,#00c7ff 31.5px 32.5px,#28ffd7 32.5px 33.6px,#00c7ff 33.6px 34.6px,#18ffe7 34.6px 35.7px,#0078ff 35.7px 36.7px,#00e7ff 36.7px 37.8px,#0087ff 37.8px 38.8px,#28ffd7 38.8px 39.8px,#0087ff 39.8px 40.9px,#68ff97 40.9px 41.9px,#0097ff 41.9px 43.0px,#28ffd7 43.0px 44.0px,#00a7ff 44.0px 45.1px,#00f7ff 45.1px 46.1px,#00c7ff 46.1px 47.2px,#28ffd7 47.2px 48.2px,#00b7ff 48.2px 49.3px,#00f7ff 49.3px 50.3px,#0097ff 50.3px 51.4px,#18ffe7 51.4px 52.4px,#00c7ff 52.4px 53.5px,#00e7ff 53.5px 54.5px,#00b7ff 54.5px 55.6px,#48ffb7 55.6px 56.6px,#0097ff 56.6px 57.7px,#08fff7 57.7px 58.7px,#00c7ff 58.7px 59.8px,#28ffd7 59.8px 60.8px,#00c7ff 60.8px 61.9px,#38ffc7 61.9px 62.9px,#00c7ff 62.9px 64.0px,#18ffe7 64.0px 65.0px,#0058ff 65.0px 66.1px,#28ffd7 66.1px 67.1px,#0087ff 67.1px 68.2px,#28ffd7 68.2px 69.2px,#0087ff 69.2px 70.3px,#48ffb7 70.3px 71.3px,#0097ff 71.3px 72.4px,#38ffc7 72.4px 73.4px,#00c7ff 73.4px 74.5px,#18ffe7 74.5px 75.5px,#00a7ff 75.5px 76.5px,#18ffe7 76.5px 77.6px,#0087ff 77.6px 78.6px,#48ffb7 78.6px 79.7px,#0087ff 79.7px 80.7px,#00e7ff 80.7px 81.8px,#0097ff 81.8px 82.8px,#18ffe7 82.8px 83.9px,#00a7ff 83.9px 84.9px,#18ffe7 84.9px 86.0px,#0097ff 86.0px 87.0px,#00d7ff 87.0px 88.1px,#00b7ff 88.1px 89.1px,#58ffa7 89.1px 90.2px,#0087ff 90.2px 91.2px,#00e7ff 91.2px 92.3px,#00b7ff 92.3px 93.3px,#18ffe7 93.3px 94.4px,#0028ff 94.4px 95.4px,#08fff7 95.4px 96.5px,#0078ff 96.5px 97.5px,#00f7ff 97.5px 98.6px,#00d7ff 98.6px 99.6px,#38ffc7 99.6px 100.7px,#0097ff 100.7px 101.7px,#18ffe7 101.7px 102.8px,#00d7ff 102.8px 103.8px,#00f7ff 103.8px 104.9px,#00b7ff 104.9px 105.9px,#08fff7 105.9px 107.0px,#00b7ff 107.0px 108.0px,#28ffd7 108.0px 109.1px,#0087ff 109.1px 110.1px,#38ffc7 110.1px 111.2px,#00b7ff 111.2px 112.2px,#58ffa7 112.2px 113.2px,#0097ff 113.2px 114.3px,#18ffe7 114.3px 115.3px,#0087ff 115.3px 116.4px,#48ffb7 116.4px 117.4px,#0087ff 117.4px 118.5px,#18ffe7 118.5px 119.5px,#00c7ff 119.5px 120.6px,#28ffd7 120.6px 121.6px,#00a7ff 121.6px 122.7px,#28ffd7 122.7px 123.7px,#00a7ff 123.7px 124.8px,#28ffd7 124.8px 125.8px,#0097ff 125.8px 126.9px,#00d7ff 126.9px 127.9px,#00c7ff 127.9px 129.0px,#00f7ff 129.0px 130.0px,#00d7ff 130.0px 131.1px,#28ffd7 131.1px 132.1px,#08fff7 132.1px 133.2px,#48ffb7 133.2px 134.2px,#00a7ff 134.2px 135.3px,#38ffc7 135.3px 136.3px,#0078ff 136.3px 137.4px,#28ffd7 137.4px 138.4px,#0097ff 138.4px 139.5px,#18ffe7 139.5px 140.5px,#0058ff 140.5px 141.6px,#00d7ff 141.6px 142.6px,#00b7ff 142.6px 143.7px,#18ffe7 143.7px 144.7px,#0097ff 144.7px 145.8px,#18ffe7 145.8px 146.8px,#0087ff 146.8px 147.9px,#08fff7 147.9px 148.9px,#00b7ff 148.9px 150.0px,#18ffe7 150.0px 151.0px)"></div>
<div class="c" style="left:65.72px;width:9.89px;background:linear-gradient(#38ffc7 0.0px 1.0px,#00f7ff 1.0px 2.1px,#18ffe7 2.1px 3.1px,#00f7ff 3.1px 4.2px,#28ffd7 4.2px 5.2px,#00f7ff 5.2px 6.3px,#28ffd7 6.3px 7.3px,#00f7ff 7.3px 8.4px,#38ffc7 8.4px 9.4px,#08fff7 9.4px 10.5px,#38ffc7 10.5px 11.5px,#00f7ff 11.5px 12.6px,#38ffc7 12.6px 13.6px,#18ffe7 13.6px 14.7px,#28ffd7 14.7px 15.7px,#08fff7 15.7px 16.8px,#28ffd7 16.8px 17.8px,#08fff7 17.8px 18.9px,#28ffd7 18.9px 19.9px,#08fff7 19.9px 21.0px,#28ffd7 21.0px 22.0px,#18ffe7 22.0px 23.1px,#28ffd7 23.1px 24.1px,#00f7ff 24.1px 25.2px,#38ffc7 25.2px 26.2px,#08fff7 26.2px 27.3px,#38ffc7 27.3px 28.3px,#00f7ff 28.3px 29.4px,#28ffd7 29.4px 30.4px,#08fff7 30.4px 31.5px,#28ffd7 31.5px 32.5px,#00e7ff 32.5px 33.6px,#38ffc7 33.6px 34.6px,#18ffe7 34.6px 35.7px,#28ffd7 35.7px 36.7px,#00f7ff 36.7px 37.8px,#28ffd7 37.8px 38.8px,#00f7ff 38.8px 39.8px,#38ffc7 39.8px 40.9px,#00f7ff 40.9px 41.9px,#38ffc7 41.9px 43.0px,#00f7ff 43.0px 44.0px,#18ffe7 44.0px 45.1px,#00f7ff 45.1px 46.1px,#18ffe7 46.1px 47.2px,#08fff7 47.2px 48.2px,#38ffc7 48.2px 49.3px,#08fff7 49.3px 50.3px,#38ffc7 50.3px 51.4px,#00e7ff 51.4px 52.4px,#38ffc7 52.4px 53.5px,#00f7ff 53.5px 54.5px,#38ffc7 54.5px 55.6px,#18ffe7 55.6px 56.6px,#28ffd7 56.6px 57.7px,#08fff7 57.7px 58.7px,#38ffc7 58.7px 59.8px,#00f7ff 59.8px 60.8px,#28ffd7 60.8px 61.9px,#00f7ff 61.9px 62.9px,#28ffd7 62.9px 64.0px,#08fff7 64.0px 65.0px,#28ffd7 65.0px 66.1px,#18ffe7 66.1px 67.1px,#28ffd7 67.1px 68.2px,#00f7ff 68.2px 69.2px,#28ffd7 69.2px 70.3px,#08fff7 70.3px 71.3px,#18ffe7 71.3px 72.4px,#08fff7 72.4px 73.4px,#28ffd7 73.4px 74.5px,#00f7ff 74.5px 75.5px,#38ffc7 75.5px 76.5px,#00f7ff 76.5px 77.6px,#38ffc7 77.6px 78.6px,#08fff7 78.6px 79.7px,#38ffc7 79.7px 80.7px,#08fff7 80.7px 81.8px,#28ffd7 81.8px 82.8px,#00f7ff 82.8px 83.9px,#38ffc7 83.9px 84.9px,#18ffe7 84.9px 86.0px,#38ffc7 86.0px 87.0px,#08fff7 87.0px 88.1px,#38ffc7 88.1px 89.1px,#18ffe7 89.1px 90.2px,#28ffd7 90.2px 91.2px,#08fff7 91.2px 92.3px,#38ffc7 92.3px 93.3px,#00f7ff 93.3px 94.4px,#28ffd7 94.4px 95.4px,#08fff7 95.4px 96.5px,#28ffd7 96.5px 97.5px,#18ffe7 97.5px 98.6px,#28ffd7 98.6px 99.6px,#08fff7 99.6px 100.7px,#48ffb7 100.7px 101.7px,#18ffe7 101.7px 102.8px,#28ffd7 102.8px 103.8px,#00f7ff 103.8px 104.9px,#28ffd7 104.9px 105.9px,#08fff7 105.9px 107.0px,#18ffe7 107.0px 108.0px,#08fff7 108.0px 109.1px,#48ffb7 109.1px 110.1px,#18ffe7 110.1px 111.2px,#28ffd7 111.2px 112.2px,#08fff7 112.2px 113.2px,#28ffd7 113.2px 114.3px,#00f7ff 114.3px 115.3px,#48ffb7 115.3px 116.4px,#00f7ff 116.4px 117.4px,#28ffd7 117.4px 118.5px,#08fff7 118.5px 119.5px,#38ffc7 119.5px 120.6px,#18ffe7 120.6px 121.6px,#38ffc7 121.6px 122.7px,#08fff7 122.7px 123.7px,#18ffe7 123.7px 124.8px,#08fff7 124.8px 125.8px,#38ffc7 125.8px 126.9px,#18ffe7 126.9px 129.0px,#00f7ff 129.0px 130.0px,#38ffc7 130.0px 131.1px,#18ffe7 131.1px 132.1px,#38ffc7 132.1px 133.2px,#08fff7 133.2px 134.2px,#38ffc7 134.2px 135.3px,#00f7ff 135.3px 136.3px,#28ffd7 136.3px 137.4px,#08fff7 137.4px 138.4px,#28ffd7 138.4px 139.5px,#08fff7 139.5px 140.5px,#38ffc7 140.5px 141.6px,#00f7ff 141.6px 142.6px,#38ffc7 142.6px 143.7px,#08fff7 143.7px 144.7px,#28ffd7 144.7px 145.8px,#08fff7 145.8px 146.8px,#28ffd7 146.8px 147.9px,#08fff7 147.9px 148.9px,#28ffd7 148.9px 150.0px,#00f7ff 150.0px 151.0px)"></div>
<div class="c" style="left:75.11px;width:9.89px;background:linear-gradient(#0000f7 0.0px 1.0px,#00c7ff 1.0px 2.1px,#0000d7 2.1px 3.1px,#00d7ff 3.1px 4.2px,#0000e7 4.2px 5.2px,#0097ff 5.2px 6.3px,#0000f7 6.3px 7.3px,#00a7ff 7.3px 8.4px,#0028ff 8.4px 9.4px,#00a7ff 9.4px 10.5px,#0018ff 10.5px 11.5px,#00b7ff 11.5px 12.6px,#0000f7 12.6px 13.6px,#00c7ff 13.6px 14.7px,#0000f7 14.7px 15.7px,#00a7ff 15.7px 16.8px,#0028ff 16.8px 17.8px,#00c7ff 17.8px 18.9px,#0000e7 18.9px 19.9px,#00c7ff 19.9px 21.0px,#0018ff 21.0px 22.0px,#00a7ff 22.0px 23.1px,#0000f7 23.1px 24.1px,#00b7ff 24.1px 25.2px,#0048ff 25.2px 26.2px,#00a7ff 26.2px 27.3px,#0008ff 27.3px 28.3px,#0097ff 28.3px 29.4px,#0058ff 29.4px 30.4px,#00b7ff 30.4px 31.5px,#0038ff 31.5px 32.5px,#00b7ff 32.5px 33.6px,#0048ff 33.6px 34.6px,#0068ff 34.6px 35.7px,#0008ff 35.7px 36.7px,#00b7ff 36.7px 37.8px,#0000e7 37.8px 38.8px,#0097ff 38.8px 39.8px,#0028ff 39.8px 40.9px,#00a7ff 40.9px 41.9px,#0048ff 41.9px 43.0px,#00b7ff 43.0px 44.0px,#0008ff 44.0px 45.1px,#00b7ff 45.1px 46.1px,#0048ff 46.1px 47.2px,#00a7ff 47.2px 48.2px,#0068ff 48.2px 49.3px,#00b7ff 49.3px 50.3px,#0018ff 50.3px 51.4px,#0097ff 51.4px 52.4px,#0000c7 52.4px 53.5px,#00b7ff 53.5px 54.5px,#0018ff 54.5px 55.6px,#0097ff 55.6px 56.6px,#0008ff 56.6px 57.7px,#00a7ff 57.7px 58.7px,#0078ff 58.7px 59.8px,#00b7ff 59.8px 60.8px,#0028ff 60.8px 61.9px,#00a7ff 61.9px 62.9px,#0008ff 62.9px 64.0px,#00b7ff 64.0px 65.0px,#0000f7 65.0px 66.1px,#00e7ff 66.1px 67.1px,#0000e7 67.1px 68.2px,#0087ff 68.2px 69.2px,#0008ff 69.2px 70.3px,#00e7ff 70.3px 71.3px,#0018ff 71.3px 72.4px,#00d7ff 72.4px 73.4px,#0000e7 73.4px 74.5px,#00a7ff 74.5px 75.5px,#0000e7 75.5px 76.5px,#0087ff 76.5px 77.6px,#0038ff 77.6px 78.6px,#00b7ff 78.6px 79.7px,#0028ff 79.7px 80.7px,#00a7ff 80.7px 81.8px,#0018ff 81.8px 82.8px,#00b7ff 82.8px 83.9px,#0058ff 83.9px 84.9px,#00a7ff 84.9px 86.0px,#0028ff 86.0px 87.0px,#0087ff 87.0px 88.1px,#0018ff 88.1px 89.1px,#0078ff 89.1px 90.2px,#0000e7 90.2px 91.2px,#00d7ff 91.2px 92.3px,#0048ff 92.3px 93.3px,#00e7ff 93.3px 94.4px,#0087ff 94.4px 95.4px,#00a7ff 95.4px 96.5px,#0087ff 96.5px 97.5px,#00c7ff 97.5px 98.6px,#0028ff 98.6px 99.6px,#00b7ff 99.6px 100.7px,#0038ff 100.7px 101.7px,#00f7ff 101.7px 102.8px,#0000f7 102.8px 103.8px,#0097ff 103.8px 104.9px,#0018ff 104.9px 105.9px,#00a7ff 105.9px 107.0px,#0008ff 107.0px 108.0px,#00d7ff 108.0px 109.1px,#0000d7 109.1px 110.1px,#0078ff 110.1px 111.2px,#0000f7 111.2px 112.2px,#00b7ff 112.2px 113.2px,#0008ff 113.2px 114.3px,#00c7ff 114.3px 115.3px,#0028ff 115.3px 116.4px,#00e7ff 116.4px 117.4px,#0018ff 117.4px 118.5px,#00a7ff 118.5px 119.5px,#0008ff 119.5px 120.6px,#00b7ff 120.6px 121.6px,#0018ff 121.6px 122.7px,#0097ff 122.7px 123.7px,#0000f7 123.7px 124.8px,#00b7ff 124.8px 125.8px,#0000f7 125.8px 126.9px,#00a7ff 126.9px 127.9px,#0068ff 127.9px 129.0px,#00c7ff 129.0px 130.0px,#0028ff 130.0px 131.1px,#00b7ff 131.1px 132.1px,#0018ff 132.1px 133.2px,#00e7ff 133.2px 134.2px,#0008ff 134.2px 135.3px,#00b7ff 135.3px 136.3px,#0058ff 136.3px 137.4px,#00a7ff 137.4px 138.4px,#0068ff 138.4px 139.5px,#00a7ff 139.5px 140.5px,#0000d7 140.5px 141.6px,#00c7ff 141.6px 142.6px,#0028ff 142.6px 143.7px,#00a7ff 143.7px 144.7px,#0038ff 144.7px 145.8px,#00a7ff 145.8px 146.8px,#0078ff 146.8px 147.9px,#00f7ff 147.9px 148.9px,#0000e7 148.9px 150.0px,#00c7ff 150.0px 151.0px)"></div>
<div class="c" style="left:84.5px;width:9.89px;background:linear-gradient(#18ffe7 0.0px 1.0px,#68ff97 1.0px 2.1px,#48ffb7 2.1px 3.1px,#78ff87 3.1px 4.2px,#00f7ff 4.2px 5.2px,#e7ff18 5.2px 6.3px,#08fff7 6.3px 7.3px,#b7ff48 7.3px 8.4px,#00e7ff 8.4px 9.4px,#c7ff38 9.4px 10.5px,#38ffc7 10.5px 11.5px,#97ff68 11.5px 12.6px,#08fff7 12.6px 13.6px,#a7ff58 13.6px 14.7px,#00e7ff 14.7px 15.7px,#68ff97 15.7px 16.8px,#08fff7 16.8px 17.8px,#d7ff28 17.8px 18.9px,#00f7ff 18.9px 19.9px,#d7ff28 19.9px 21.0px,#08fff7 21.0px 22.0px,#e7ff18 22.0px 23.1px,#08fff7 23.1px 24.1px,#a7ff58 24.1px 25.2px,#00e7ff 25.2px 26.2px,#b7ff48 26.2px 27.3px,#08fff7 27.3px 28.3px,#97ff68 28.3px 29.4px,#00f7ff 29.4px 30.4px,#87ff78 30.4px 31.5px,#00c7ff 31.5px 32.5px,#c7ff38 32.5px 33.6px,#08fff7 33.6px 34.6px,#d7ff28 34.6px 35.7px,#08fff7 35.7px 36.7px,#c7ff38 36.7px 37.8px,#48ffb7 37.8px 38.8px,#97ff68 38.8px 39.8px,#08fff7 39.8px 40.9px,#f7ff08 40.9px 41.9px,#48ffb7 41.9px 43.0px,#c7ff38 43.0px 44.0px,#00f7ff 44.0px 45.1px,#87ff78 45.1px 46.1px,#00f7ff 46.1px 47.2px,#b7ff48 47.2px 48.2px,#00f7ff 48.2px 49.3px,#c7ff38 49.3px 50.3px,#18ffe7 50.3px 51.4px,#a7ff58 51.4px 52.4px,#00d7ff 52.4px 53.5px,#a7ff58 53.5px 54.5px,#08fff7 54.5px 55.6px,#f7ff08 55.6px 56.6px,#00b7ff 56.6px 57.7px,#d7ff28 57.7px 58.7px,#00f7ff 58.7px 59.8px,#e7ff18 59.8px 60.8px,#48ffb7 60.8px 61.9px,#c7ff38 61.9px 62.9px,#00d7ff 62.9px 64.0px,#a7ff58 64.0px 65.0px,#08fff7 65.0px 66.1px,#a7ff58 66.1px 67.1px,#00f7ff 67.1px 68.2px,#97ff68 68.2px 69.2px,#00f7ff 69.2px 70.3px,#97ff68 70.3px 71.3px,#18ffe7 71.3px 72.4px,#c7ff38 72.4px 73.4px,#18ffe7 73.4px 74.5px,#78ff87 74.5px 75.5px,#00e7ff 75.5px 76.5px,#97ff68 76.5px 77.6px,#00e7ff 77.6px 78.6px,#97ff68 78.6px 79.7px,#00e7ff 79.7px 80.7px,#f7ff08 80.7px 81.8px,#00f7ff 81.8px 82.8px,#87ff78 82.8px 83.9px,#00f7ff 83.9px 84.9px,#fff700 84.9px 86.0px,#18ffe7 86.0px 87.0px,#97ff68 87.0px 88.1px,#00f7ff 88.1px 89.1px,#b7ff48 89.1px 90.2px,#00f7ff 90.2px 91.2px,#68ff97 91.2px 92.3px,#00d7ff 92.3px 93.3px,#a7ff58 93.3px 94.4px,#00b7ff 94.4px 95.4px,#a7ff58 95.4px 96.5px,#00f7ff 96.5px 97.5px,#d7ff28 97.5px 98.6px,#28ffd7 98.6px 99.6px,#a7ff58 99.6px 100.7px,#08fff7 100.7px 101.7px,#c7ff38 101.7px 102.8px,#28ffd7 102.8px 103.8px,#b7ff48 103.8px 104.9px,#00d7ff 104.9px 105.9px,#c7ff38 105.9px 107.0px,#18ffe7 107.0px 108.0px,#b7ff48 108.0px 109.1px,#18ffe7 109.1px 110.1px,#f7ff08 110.1px 111.2px,#00e7ff 111.2px 112.2px,#97ff68 112.2px 113.2px,#00d7ff 113.2px 114.3px,#c7ff38 114.3px 115.3px,#28ffd7 115.3px 116.4px,#a7ff58 116.4px 117.4px,#48ffb7 117.4px 118.5px,#97ff68 118.5px 119.5px,#08fff7 119.5px 120.6px,#b7ff48 120.6px 121.6px,#38ffc7 121.6px 122.7px,#97ff68 122.7px 123.7px,#38ffc7 123.7px 124.8px,#a7ff58 124.8px 125.8px,#00c7ff 125.8px 126.9px,#97ff68 126.9px 127.9px,#00f7ff 127.9px 129.0px,#f7ff08 129.0px 130.0px,#00e7ff 130.0px 131.1px,#b7ff48 131.1px 132.1px,#48ffb7 132.1px 133.2px,#b7ff48 133.2px 134.2px,#00e7ff 134.2px 135.3px,#97ff68 135.3px 136.3px,#00b7ff 136.3px 137.4px,#c7ff38 137.4px 138.4px,#28ffd7 138.4px 139.5px,#a7ff58 139.5px 140.5px,#00d7ff 140.5px 141.6px,#b7ff48 141.6px 142.6px,#00f7ff 142.6px 143.7px,#a7ff58 143.7px 144.7px,#08fff7 144.7px 145.8px,#b7ff48 145.8px 146.8px,#00e7ff 146.8px 147.9px,#d7ff28 147.9px 148.9px,#00b7ff 148.9px 150.0px,#87ff78 150.0px 151.0px)"></div>
<div class="c" style="left:93.89px;width:9.89px;background:linear-gradient(#08fff7 0.0px 1.0px,#00f7ff 1.0px 3.1px,#00e7ff 3.1px 4.2px,#18ffe7 4.2px 5.2px,#00e7ff 5.2px 6.3px,#18ffe7 6.3px 7.3px,#00e7ff 7.3px 8.4px,#08fff7 8.4px 9.4px,#00f7ff 9.4px 10.5px,#08fff7 10.5px 11.5px,#00d7ff 11.5px 12.6px,#08fff7 12.6px 13.6px,#00d7ff 13.6px 14.7px,#18ffe7 14.7px 15.7px,#00f7ff 15.7px 16.8px,#08fff7 16.8px 17.8px,#00e7ff 17.8px 18.9px,#08fff7 18.9px 19.9px,#00e7ff 19.9px 21.0px,#18ffe7 21.0px 22.0px,#00e7ff 22.0px 23.1px,#28ffd7 23.1px 24.1px,#00d7ff 24.1px 25.2px,#18ffe7 25.2px 26.2px,#00d7ff 26.2px 27.3px,#18ffe7 27.3px 28.3px,#00e7ff 28.3px 29.4px,#18ffe7 29.4px 30.4px,#00e7ff 30.4px 31.5px,#08fff7 31.5px 32.5px,#00e7ff 32.5px 33.6px,#18ffe7 33.6px 34.6px,#00e7ff 34.6px 35.7px,#18ffe7 35.7px 36.7px,#00d7ff 36.7px 37.8px,#18ffe7 37.8px 38.8px,#00e7ff 38.8px 39.8px,#08fff7 39.8px 40.9px,#00e7ff 40.9px 41.9px,#18ffe7 41.9px 43.0px,#00e7ff 43.0px 44.0px,#18ffe7 44.0px 45.1px,#00e7ff 45.1px 46.1px,#18ffe7 46.1px 47.2px,#00d7ff 47.2px 48.2px,#08fff7 48.2px 49.3px,#00f7ff 49.3px 50.3px,#18ffe7 50.3px 51.4px,#00e7ff 51.4px 52.4px,#18ffe7 52.4px 53.5px,#00d7ff 53.5px 54.5px,#18ffe7 54.5px 55.6px,#00d7ff 55.6px 56.6px,#08fff7 56.6px 57.7px,#00e7ff 57.7px 58.7px,#08fff7 58.7px 59.8px,#00e7ff 59.8px 60.8px,#08fff7 60.8px 61.9px,#00e7ff 61.9px 62.9px,#18ffe7 62.9px 64.0px,#00d7ff 64.0px 65.0px,#08fff7 65.0px 66.1px,#00e7ff 66.1px 67.1px,#08fff7 67.1px 68.2px,#00e7ff 68.2px 69.2px,#08fff7 69.2px 70.3px,#00e7ff 70.3px 71.3px,#18ffe7 71.3px 72.4px,#00f7ff 72.4px 73.4px,#18ffe7 73.4px 74.5px,#00f7ff 74.5px 75.5px,#18ffe7 75.5px 76.5px,#00d7ff 76.5px 77.6px,#18ffe7 77.6px 78.6px,#00d7ff 78.6px 79.7px,#08fff7 79.7px 80.7px,#00e7ff 80.7px 81.8px,#08fff7 81.8px 82.8px,#00e7ff 82.8px 83.9px,#08fff7 83.9px 84.9px,#00e7ff 84.9px 86.0px,#08fff7 86.0px 87.0px,#00e7ff 87.0px 88.1px,#08fff7 88.1px 89.1px,#00e7ff 89.1px 90.2px,#08fff7 90.2px 91.2px,#00e7ff 91.2px 92.3px,#18ffe7 92.3px 93.3px,#00e7ff 93.3px 94.4px,#18ffe7 94.4px 95.4px,#00e7ff 95.4px 96.5px,#00f7ff 96.5px 97.5px,#00d7ff 97.5px 98.6px,#18ffe7 98.6px 99.6px,#00e7ff 99.6px 100.7px,#28ffd7 100.7px 101.7px,#00e7ff 101.7px 102.8px,#18ffe7 102.8px 103.8px,#00e7ff 103.8px 104.9px,#08fff7 104.9px 105.9px,#00e7ff 105.9px 107.0px,#18ffe7 107.0px 108.0px,#00e7ff 108.0px 109.1px,#08fff7 109.1px 110.1px,#00d7ff 110.1px 111.2px,#08fff7 111.2px 112.2px,#00e7ff 112.2px 113.2px,#08fff7 113.2px 114.3px,#00d7ff 114.3px 115.3px,#08fff7 115.3px 116.4px,#00e7ff 116.4px 117.4px,#00f7ff 117.4px 118.5px,#00d7ff 118.5px 119.5px,#08fff7 119.5px 120.6px,#00e7ff 120.6px 121.6px,#08fff7 121.6px 122.7px,#00d7ff 122.7px 123.7px,#18ffe7 123.7px 124.8px,#00e7ff 124.8px 125.8px,#18ffe7 125.8px 126.9px,#00e7ff 126.9px 127.9px,#08fff7 127.9px 129.0px,#00e7ff 129.0px 130.0px,#18ffe7 130.0px 131.1px,#00f7ff 131.1px 132.1px,#08fff7 132.1px 133.2px,#00e7ff 133.2px 134.2px,#08fff7 134.2px 135.3px,#00f7ff 135.3px 136.3px,#18ffe7 136.3px 137.4px,#00e7ff 137.4px 138.4px,#08fff7 138.4px 139.5px,#00e7ff 139.5px 140.5px,#08fff7 140.5px 141.6px,#00e7ff 141.6px 142.6px,#08fff7 142.6px 143.7px,#00f7ff 143.7px 144.7px,#08fff7 144.7px 145.8px,#00e7ff 145.8px 146.8px,#18ffe7 146.8px 147.9px,#00f7ff 147.9px 148.9px,#18ffe7 148.9px 150.0px,#00d7ff 150.0px 151.0px)"></div>
<div class="c" style="left:103.28px;width:9.89px;background:linear-gradient(#0097ff 0.0px 1.0px,#0068ff 1.0px 2.1px,#0087ff 2.1px 3.1px,#0078ff 3.1px 4.2px,#0087ff 4.2px 5.2px,#0068ff 5.2px 6.3px,#00b7ff 6.3px 7.3px,#0078ff 7.3px 8.4px,#0097ff 8.4px 9.4px,#0078ff 9.4px 10.5px,#00b7ff 10.5px 11.5px,#0048ff 11.5px 12.6px,#0097ff 12.6px 13.6px,#0078ff 13.6px 14.7px,#00a7ff 14.7px 15.7px,#0068ff 15.7px 16.8px,#00a7ff 16.8px 17.8px,#0097ff 17.8px 19.9px,#0078ff 19.9px 21.0px,#0087ff 21.0px 22.0px,#0078ff 22.0px 23.1px,#00b7ff 23.1px 24.1px,#0058ff 24.1px 25.2px,#0097ff 25.2px 26.2px,#0087ff 26.2px 27.3px,#00a7ff 27.3px 28.3px,#0078ff 28.3px 29.4px,#0087ff 29.4px 31.5px,#0078ff 31.5px 32.5px,#0058ff 32.5px 33.6px,#0097ff 33.6px 34.6px,#0068ff 34.6px 35.7px,#00a7ff 35.7px 36.7px,#0087ff 36.7px 37.8px,#00c7ff 37.8px 38.8px,#0087ff 38.8px 39.8px,#00b7ff 39.8px 40.9px,#0068ff 40.9px 41.9px,#0078ff 41.9px 43.0px,#0068ff 43.0px 44.0px,#0097ff 44.0px 45.1px,#0078ff 45.1px 46.1px,#0097ff 46.1px 47.2px,#0058ff 47.2px 48.2px,#0097ff 48.2px 49.3px,#0078ff 49.3px 50.3px,#00a7ff 50.3px 51.4px,#0058ff 51.4px 52.4px,#0087ff 52.4px 53.5px,#0058ff 53.5px 54.5px,#0097ff 54.5px 55.6px,#0058ff 55.6px 56.6px,#00a7ff 56.6px 57.7px,#0078ff 57.7px 58.7px,#00b7ff 58.7px 59.8px,#0058ff 59.8px 60.8px,#0097ff 60.8px 61.9px,#0087ff 61.9px 62.9px,#00a7ff 62.9px 64.0px,#0078ff 64.0px 65.0px,#00a7ff 65.0px 66.1px,#0078ff 66.1px 67.1px,#00c7ff 67.1px 68.2px,#0068ff 68.2px 69.2px,#00b7ff 69.2px 70.3px,#0078ff 70.3px 71.3px,#00a7ff 71.3px 72.4px,#0068ff 72.4px 73.4px,#0097ff 73.4px 74.5px,#0087ff 74.5px 75.5px,#00b7ff 75.5px 76.5px,#0058ff 76.5px 77.6px,#00b7ff 77.6px 78.6px,#0048ff 78.6px 79.7px,#00a7ff 79.7px 80.7px,#0097ff 80.7px 82.8px,#0078ff 82.8px 83.9px,#0097ff 83.9px 84.9px,#0068ff 84.9px 86.0px,#0097ff 86.0px 87.0px,#0068ff 87.0px 88.1px,#0078ff 88.1px 89.1px,#0068ff 89.1px 90.2px,#00a7ff 90.2px 91.2px,#0068ff 91.2px 92.3px,#00c7ff 92.3px 93.3px,#0058ff 93.3px 94.4px,#0097ff 94.4px 95.4px,#0058ff 95.4px 96.5px,#00b7ff 96.5px 97.5px,#0068ff 97.5px 98.6px,#0097ff 98.6px 99.6px,#0078ff 99.6px 100.7px,#00a7ff 100.7px 101.7px,#0087ff 101.7px 102.8px,#00b7ff 102.8px 103.8px,#0068ff 103.8px 104.9px,#0097ff 104.9px 105.9px,#0048ff 105.9px 107.0px,#0097ff 107.0px 108.0px,#0087ff 108.0px 109.1px,#00a7ff 109.1px 110.1px,#0058ff 110.1px 111.2px,#00a7ff 111.2px 112.2px,#0078ff 112.2px 113.2px,#00d7ff 113.2px 114.3px,#0058ff 114.3px 115.3px,#00a7ff 115.3px 116.4px,#0058ff 116.4px 117.4px,#0097ff 117.4px 118.5px,#0078ff 118.5px 119.5px,#00a7ff 119.5px 120.6px,#0048ff 120.6px 121.6px,#00c7ff 121.6px 122.7px,#0087ff 122.7px 123.7px,#00b7ff 123.7px 124.8px,#0058ff 124.8px 125.8px,#0097ff 125.8px 126.9px,#0087ff 126.9px 127.9px,#0097ff 127.9px 129.0px,#0058ff 129.0px 130.0px,#0087ff 130.0px 132.1px,#0097ff 132.1px 133.2px,#0068ff 133.2px 134.2px,#0097ff 134.2px 135.3px,#0058ff 135.3px 136.3px,#0097ff 136.3px 137.4px,#0078ff 137.4px 138.4px,#0097ff 138.4px 139.5px,#0087ff 139.5px 141.6px,#0078ff 141.6px 142.6px,#00b7ff 142.6px 143.7px,#0058ff 143.7px 144.7px,#00a7ff 144.7px 145.8px,#0058ff 145.8px 146.8px,#0097ff 146.8px 147.9px,#0068ff 147.9px 148.9px,#0087ff 148.9px 150.0px,#0068ff 150.0px 151.0px)"></div>
<div class="c" style="left:112.67px;width:9.89px;background:linear-gradient(#00d7ff 0.0px 1.0px,#0087ff 1.0px 2.1px,#00e7ff 2.1px 3.1px,#0058ff 3.1px 4.2px,#00c7ff 4.2px 5.2px,#0087ff 5.2px 6.3px,#00e7ff 6.3px 7.3px,#0078ff 7.3px 8.4px,#00a7ff 8.4px 9.4px,#0068ff 9.4px 10.5px,#00f7ff 10.5px 11.5px,#0078ff 11.5px 12.6px,#00c7ff 12.6px 13.6px,#0068ff 13.6px 14.7px,#00f7ff 14.7px 15.7px,#0087ff 15.7px 16.8px,#00b7ff 16.8px 17.8px,#0058ff 17.8px 18.9px,#00d7ff 18.9px 19.9px,#0087ff 19.9px 21.0px,#00c7ff 21.0px 22.0px,#0058ff 22.0px 23.1px,#0097ff 23.1px 24.1px,#0058ff 24.1px 25.2px,#00d7ff 25.2px 26.2px,#0078ff 26.2px 27.3px,#00b7ff 27.3px 28.3px,#0078ff 28.3px 29.4px,#00b7ff 29.4px 30.4px,#0048ff 30.4px 31.5px,#00d7ff 31.5px 32.5px,#0048ff 32.5px 33.6px,#00c7ff 33.6px 34.6px,#0058ff 34.6px 35.7px,#00c7ff 35.7px 36.7px,#0068ff 36.7px 37.8px,#00c7ff 37.8px 38.8px,#0058ff 38.8px 39.8px,#00c7ff 39.8px 40.9px,#0038ff 40.9px 41.9px,#00c7ff 41.9px 43.0px,#0097ff 43.0px 44.0px,#00d7ff 44.0px 45.1px,#0078ff 45.1px 46.1px,#00c7ff 46.1px 47.2px,#0068ff 47.2px 48.2px,#00d7ff 48.2px 49.3px,#0078ff 49.3px 50.3px,#00d7ff 50.3px 51.4px,#0058ff 51.4px 52.4px,#00c7ff 52.4px 53.5px,#0048ff 53.5px 54.5px,#00e7ff 54.5px 55.6px,#0068ff 55.6px 56.6px,#00c7ff 56.6px 57.7px,#0048ff 57.7px 58.7px,#00d7ff 58.7px 59.8px,#0078ff 59.8px 60.8px,#00d7ff 60.8px 61.9px,#0078ff 61.9px 62.9px,#00c7ff 62.9px 64.0px,#0078ff 64.0px 65.0px,#00d7ff 65.0px 66.1px,#0038ff 66.1px 67.1px,#00d7ff 67.1px 68.2px,#0058ff 68.2px 69.2px,#00c7ff 69.2px 70.3px,#0058ff 70.3px 71.3px,#00b7ff 71.3px 72.4px,#0078ff 72.4px 73.4px,#00c7ff 73.4px 74.5px,#0068ff 74.5px 75.5px,#00d7ff 75.5px 76.5px,#0068ff 76.5px 77.6px,#00b7ff 77.6px 78.6px,#0068ff 78.6px 79.7px,#00c7ff 79.7px 80.7px,#0058ff 80.7px 81.8px,#00d7ff 81.8px 82.8px,#0087ff 82.8px 83.9px,#00e7ff 83.9px 84.9px,#0087ff 84.9px 86.0px,#00e7ff 86.0px 87.0px,#0068ff 87.0px 88.1px,#00d7ff 88.1px 89.1px,#0058ff 89.1px 90.2px,#00e7ff 90.2px 91.2px,#0068ff 91.2px 92.3px,#00d7ff 92.3px 93.3px,#0087ff 93.3px 94.4px,#00d7ff 94.4px 95.4px,#0048ff 95.4px 96.5px,#00b7ff 96.5px 97.5px,#0068ff 97.5px 98.6px,#00e7ff 98.6px 99.6px,#0068ff 99.6px 100.7px,#00c7ff 100.7px 101.7px,#0058ff 101.7px 102.8px,#00d7ff 102.8px 103.8px,#0068ff 103.8px 104.9px,#00e7ff 104.9px 105.9px,#0058ff 105.9px 107.0px,#00d7ff 107.0px 108.0px,#0048ff 108.0px 109.1px,#00c7ff 109.1px 110.1px,#0068ff 110.1px 111.2px,#00c7ff 111.2px 112.2px,#0078ff 112.2px 113.2px,#00a7ff 113.2px 114.3px,#0068ff 114.3px 115.3px,#00c7ff 115.3px 116.4px,#0048ff 116.4px 117.4px,#00c7ff 117.4px 118.5px,#0078ff 118.5px 119.5px,#00c7ff 119.5px 120.6px,#0068ff 120.6px 121.6px,#00d7ff 121.6px 122.7px,#0058ff 122.7px 123.7px,#00e7ff 123.7px 124.8px,#0078ff 124.8px 125.8px,#00d7ff 125.8px 126.9px,#0078ff 126.9px 127.9px,#00e7ff 127.9px 129.0px,#0058ff 129.0px 130.0px,#00e7ff 130.0px 131.1px,#0058ff 131.1px 132.1px,#00d7ff 132.1px 133.2px,#0078ff 133.2px 134.2px,#00d7ff 134.2px 135.3px,#0058ff 135.3px 136.3px,#00b7ff 136.3px 137.4px,#0058ff 137.4px 138.4px,#00d7ff 138.4px 139.5px,#0068ff 139.5px 140.5px,#00d7ff 140.5px 141.6px,#0048ff 141.6px 142.6px,#00d7ff 142.6px 143.7px,#0087ff 143.7px 144.7px,#00d7ff 144.7px 145.8px,#0068ff 145.8px 146.8px,#00e7ff 146.8px 147.9px,#0087ff 147.9px 148.9px,#00f7ff 148.9px 150.0px,#0087ff 150.0px 151.0px)"></div>
<div class="c" style="left:122.06px;width:9.89px;background:linear-gradient(#00e7ff 0.0px 1.0px,#78ff87 1.0px 2.1px,#00f7ff 2.1px 3.1px,#78ff87 3.1px 4.2px,#00e7ff 4.2px 5.2px,#68ff97 5.2px 6.3px,#00f7ff 6.3px 7.3px,#58ffa7 7.3px 8.4px,#28ffd7 8.4px 9.4px,#48ffb7 9.4px 10.5px,#08fff7 10.5px 11.5px,#68ff97 11.5px 12.6px,#00e7ff 12.6px 13.6px,#78ff87 13.6px 14.7px,#00f7ff 14.7px 15.7px,#58ffa7 15.7px 16.8px,#08fff7 16.8px 17.8px,#58ffa7 17.8px 18.9px,#18ffe7 18.9px 19.9px,#48ffb7 19.9px 21.0px,#00f7ff 21.0px 22.0px,#38ffc7 22.0px 23.1px,#08fff7 23.1px 24.1px,#78ff87 24.1px 25.2px,#08fff7 25.2px 26.2px,#87ff78 26.2px 27.3px,#00f7ff 27.3px 28.3px,#58ffa7 28.3px 29.4px,#08fff7 29.4px 30.4px,#58ffa7 30.4px 31.5px,#08fff7 31.5px 32.5px,#58ffa7 32.5px 33.6px,#00e7ff 33.6px 34.6px,#68ff97 34.6px 35.7px,#18ffe7 35.7px 36.7px,#78ff87 36.7px 37.8px,#00f7ff 37.8px 38.8px,#28ffd7 38.8px 39.8px,#00f7ff 39.8px 40.9px,#68ff97 40.9px 41.9px,#08fff7 41.9px 43.0px,#58ffa7 43.0px 44.0px,#18ffe7 44.0px 45.1px,#68ff97 45.1px 46.1px,#00d7ff 46.1px 47.2px,#78ff87 47.2px 48.2px,#18ffe7 48.2px 49.3px,#68ff97 49.3px 50.3px,#00e7ff 50.3px 51.4px,#87ff78 51.4px 52.4px,#18ffe7 52.4px 53.5px,#38ffc7 53.5px 54.5px,#18ffe7 54.5px 55.6px,#68ff97 55.6px 56.6px,#08fff7 56.6px 57.7px,#38ffc7 57.7px 58.7px,#00d7ff 58.7px 59.8px,#68ff97 59.8px 60.8px,#28ffd7 60.8px 61.9px,#68ff97 61.9px 62.9px,#00f7ff 62.9px 64.0px,#58ffa7 64.0px 65.0px,#00f7ff 65.0px 66.1px,#78ff87 66.1px 67.1px,#00e7ff 67.1px 68.2px,#87ff78 68.2px 69.2px,#08fff7 69.2px 70.3px,#68ff97 70.3px 71.3px,#00f7ff 71.3px 72.4px,#58ffa7 72.4px 73.4px,#00f7ff 73.4px 74.5px,#48ffb7 74.5px 75.5px,#00f7ff 75.5px 76.5px,#38ffc7 76.5px 77.6px,#28ffd7 77.6px 78.6px,#58ffa7 78.6px 79.7px,#00d7ff 79.7px 80.7px,#68ff97 80.7px 81.8px,#00f7ff 81.8px 82.8px,#58ffa7 82.8px 83.9px,#00f7ff 83.9px 84.9px,#48ffb7 84.9px 86.0px,#00f7ff 86.0px 87.0px,#58ffa7 87.0px 88.1px,#08fff7 88.1px 89.1px,#58ffa7 89.1px 90.2px,#00f7ff 90.2px 91.2px,#28ffd7 91.2px 92.3px,#08fff7 92.3px 93.3px,#68ff97 93.3px 94.4px,#08fff7 94.4px 95.4px,#58ffa7 95.4px 96.5px,#08fff7 96.5px 97.5px,#58ffa7 97.5px 98.6px,#00f7ff 98.6px 99.6px,#68ff97 99.6px 100.7px,#00e7ff 100.7px 101.7px,#48ffb7 101.7px 102.8px,#08fff7 102.8px 103.8px,#68ff97 103.8px 104.9px,#00f7ff 104.9px 105.9px,#78ff87 105.9px 107.0px,#00f7ff 107.0px 108.0px,#68ff97 108.0px 109.1px,#18ffe7 109.1px 110.1px,#68ff97 110.1px 111.2px,#00f7ff 111.2px 112.2px,#48ffb7 112.2px 113.2px,#00e7ff 113.2px 114.3px,#48ffb7 114.3px 115.3px,#08fff7 115.3px 116.4px,#18ffe7 116.4px 117.4px,#28ffd7 117.4px 118.5px,#48ffb7 118.5px 119.5px,#18ffe7 119.5px 120.6px,#68ff97 120.6px 121.6px,#08fff7 121.6px 122.7px,#48ffb7 122.7px 123.7px,#08fff7 123.7px 124.8px,#58ffa7 124.8px 125.8px,#08fff7 125.8px 126.9px,#48ffb7 126.9px 127.9px,#00f7ff 127.9px 129.0px,#58ffa7 129.0px 130.0px,#08fff7 130.0px 131.1px,#68ff97 131.1px 132.1px,#00f7ff 132.1px 133.2px,#68ff97 133.2px 134.2px,#08fff7 134.2px 135.3px,#68ff97 135.3px 136.3px,#00f7ff 136.3px 137.4px,#38ffc7 137.4px 138.4px,#18ffe7 138.4px 139.5px,#68ff97 139.5px 140.5px,#00f7ff 140.5px 141.6px,#68ff97 141.6px 142.6px,#00f7ff 142.6px 143.7px,#58ffa7 143.7px 144.7px,#08fff7 144.7px 145.8px,#48ffb7 145.8px 146.8px,#00f7ff 146.8px 147.9px,#68ff97 147.9px 148.9px,#00d7ff 148.9px 150.0px,#48ffb7 150.0px 151.0px)"></div>
<div class="c" style="left:131.44px;width:9.89px;background:linear-gradient(#18ffe7 0.0px 1.0px,#38ffc7 1.0px 2.1px,#00f7ff 2.1px 3.1px,#28ffd7 3.1px 4.2px,#08fff7 4.2px 5.2px,#38ffc7 5.2px 6.3px,#00e7ff 6.3px 7.3px,#48ffb7 7.3px 8.4px,#00d7ff 8.4px 9.4px,#28ffd7 9.4px 10.5px,#00e7ff 10.5px 11.5px,#28ffd7 11.5px 12.6px,#00d7ff 12.6px 13.6px,#08fff7 13.6px 14.7px,#00d7ff 14.7px 15.7px,#48ffb7 15.7px 16.8px,#00f7ff 16.8px 17.8px,#48ffb7 17.8px 18.9px,#00d7ff 18.9px 19.9px,#38ffc7 19.9px 21.0px,#00d7ff 21.0px 22.0px,#28ffd7 22.0px 23.1px,#00f7ff 23.1px 24.1px,#38ffc7 24.1px 25.2px,#00e7ff 25.2px 26.2px,#38ffc7 26.2px 27.3px,#00f7ff 27.3px 28.3px,#38ffc7 28.3px 29.4px,#00e7ff 29.4px 30.4px,#38ffc7 30.4px 31.5px,#00e7ff 31.5px 32.5px,#38ffc7 32.5px 33.6px,#00b7ff 33.6px 34.6px,#28ffd7 34.6px 35.7px,#00e7ff 35.7px 36.7px,#28ffd7 36.7px 37.8px,#08fff7 37.8px 38.8px,#68ff97 38.8px 39.8px,#08fff7 39.8px 40.9px,#28ffd7 40.9px 41.9px,#00f7ff 41.9px 43.0px,#48ffb7 43.0px 44.0px,#00e7ff 44.0px 45.1px,#18ffe7 45.1px 46.1px,#00f7ff 46.1px 47.2px,#58ffa7 47.2px 48.2px,#00f7ff 48.2px 49.3px,#68ff97 49.3px 50.3px,#00e7ff 50.3px 51.4px,#48ffb7 51.4px 52.4px,#08fff7 52.4px 53.5px,#28ffd7 53.5px 54.5px,#00e7ff 54.5px 55.6px,#28ffd7 55.6px 56.6px,#00f7ff 56.6px 57.7px,#28ffd7 57.7px 58.7px,#00e7ff 58.7px 59.8px,#38ffc7 59.8px 60.8px,#00f7ff 60.8px 61.9px,#38ffc7 61.9px 62.9px,#00e7ff 62.9px 64.0px,#48ffb7 64.0px 65.0px,#00d7ff 65.0px 66.1px,#38ffc7 66.1px 67.1px,#00e7ff 67.1px 68.2px,#38ffc7 68.2px 69.2px,#00e7ff 69.2px 70.3px,#28ffd7 70.3px 71.3px,#00e7ff 71.3px 72.4px,#38ffc7 72.4px 73.4px,#00d7ff 73.4px 74.5px,#28ffd7 74.5px 75.5px,#00c7ff 75.5px 76.5px,#28ffd7 76.5px 77.6px,#00f7ff 77.6px 78.6px,#38ffc7 78.6px 79.7px,#08fff7 79.7px 80.7px,#28ffd7 80.7px 81.8px,#00d7ff 81.8px 82.8px,#18ffe7 82.8px 83.9px,#00f7ff 83.9px 84.9px,#18ffe7 84.9px 86.0px,#00e7ff 86.0px 87.0px,#38ffc7 87.0px 88.1px,#18ffe7 88.1px 89.1px,#58ffa7 89.1px 90.2px,#00f7ff 90.2px 91.2px,#38ffc7 91.2px 92.3px,#08fff7 92.3px 93.3px,#38ffc7 93.3px 94.4px,#00c7ff 94.4px 95.4px,#48ffb7 95.4px 96.5px,#00e7ff 96.5px 97.5px,#28ffd7 97.5px 98.6px,#00e7ff 98.6px 99.6px,#48ffb7 99.6px 100.7px,#00c7ff 100.7px 101.7px,#48ffb7 101.7px 102.8px,#08fff7 102.8px 103.8px,#38ffc7 103.8px 104.9px,#00c7ff 104.9px 105.9px,#38ffc7 105.9px 107.0px,#00e7ff 107.0px 108.0px,#48ffb7 108.0px 109.1px,#00f7ff 109.1px 110.1px,#38ffc7 110.1px 111.2px,#08fff7 111.2px 112.2px,#18ffe7 112.2px 113.2px,#00d7ff 113.2px 114.3px,#38ffc7 114.3px 115.3px,#00e7ff 115.3px 116.4px,#38ffc7 116.4px 117.4px,#00f7ff 117.4px 118.5px,#18ffe7 118.5px 119.5px,#00b7ff 119.5px 120.6px,#48ffb7 120.6px 121.6px,#08fff7 121.6px 122.7px,#38ffc7 122.7px 123.7px,#00c7ff 123.7px 124.8px,#28ffd7 124.8px 125.8px,#00f7ff 125.8px 126.9px,#38ffc7 126.9px 127.9px,#08fff7 127.9px 129.0px,#58ffa7 129.0px 130.0px,#08fff7 130.0px 131.1px,#38ffc7 131.1px 132.1px,#00f7ff 132.1px 133.2px,#48ffb7 133.2px 134.2px,#00e7ff 134.2px 135.3px,#38ffc7 135.3px 136.3px,#00e7ff 136.3px 137.4px,#28ffd7 137.4px 138.4px,#00e7ff 138.4px 139.5px,#28ffd7 139.5px 140.5px,#00e7ff 140.5px 141.6px,#48ffb7 141.6px 142.6px,#00f7ff 142.6px 143.7px,#18ffe7 143.7px 144.7px,#00d7ff 144.7px 145.8px,#28ffd7 145.8px 146.8px,#00e7ff 146.8px 147.9px,#28ffd7 147.9px 148.9px,#00f7ff 148.9px 150.0px,#28ffd7 150.0px 151.0px)"></div>
<div class="c" style="left:140.83px;width:9.89px;background:linear-gradient(#08fff7 0.0px 1.0px,#58ffa7 1.0px 2.1px,#00f7ff 2.1px 3.1px,#68ff97 3.1px 4.2px,#08fff7 4.2px 5.2px,#48ffb7 5.2px 6.3px,#08fff7 6.3px 7.3px,#48ffb7 7.3px 8.4px,#08fff7 8.4px 9.4px,#48ffb7 9.4px 10.5px,#00f7ff 10.5px 11.5px,#87ff78 11.5px 12.6px,#28ffd7 12.6px 13.6px,#58ffa7 13.6px 14.7px,#28ffd7 14.7px 15.7px,#68ff97 15.7px 16.8px,#08fff7 16.8px 17.8px,#78ff87 17.8px 18.9px,#08fff7 18.9px 19.9px,#78ff87 19.9px 21.0px,#08fff7 21.0px 22.0px,#78ff87 22.0px 23.1px,#08fff7 23.1px 24.1px,#68ff97 24.1px 25.2px,#00e7ff 25.2px 26.2px,#58ffa7 26.2px 27.3px,#08fff7 27.3px 28.3px,#78ff87 28.3px 29.4px,#08fff7 29.4px 30.4px,#68ff97 30.4px 31.5px,#08fff7 31.5px 32.5px,#58ffa7 32.5px 33.6px,#08fff7 33.6px 34.6px,#78ff87 34.6px 35.7px,#00f7ff 35.7px 36.7px,#87ff78 36.7px 37.8px,#18ffe7 37.8px 38.8px,#68ff97 38.8px 39.8px,#18ffe7 39.8px 40.9px,#68ff97 40.9px 41.9px,#08fff7 41.9px 43.0px,#78ff87 43.0px 44.0px,#18ffe7 44.0px 45.1px,#78ff87 45.1px 46.1px,#08fff7 46.1px 47.2px,#78ff87 47.2px 48.2px,#18ffe7 48.2px 49.3px,#87ff78 49.3px 50.3px,#00f7ff 50.3px 51.4px,#78ff87 51.4px 52.4px,#00d7ff 52.4px 53.5px,#68ff97 53.5px 54.5px,#00e7ff 54.5px 55.6px,#58ffa7 55.6px 56.6px,#08fff7 56.6px 57.7px,#58ffa7 57.7px 58.7px,#00f7ff 58.7px 59.8px,#38ffc7 59.8px 60.8px,#28ffd7 60.8px 61.9px,#38ffc7 61.9px 62.9px,#00f7ff 62.9px 64.0px,#87ff78 64.0px 65.0px,#00e7ff 65.0px 66.1px,#87ff78 66.1px 67.1px,#18ffe7 67.1px 68.2px,#68ff97 68.2px 69.2px,#00f7ff 69.2px 70.3px,#68ff97 70.3px 71.3px,#08fff7 71.3px 72.4px,#78ff87 72.4px 73.4px,#18ffe7 73.4px 74.5px,#48ffb7 74.5px 75.5px,#18ffe7 75.5px 76.5px,#78ff87 76.5px 77.6px,#00e7ff 77.6px 78.6px,#78ff87 78.6px 79.7px,#18ffe7 79.7px 80.7px,#78ff87 80.7px 81.8px,#08fff7 81.8px 82.8px,#78ff87 82.8px 83.9px,#18ffe7 83.9px 84.9px,#58ffa7 84.9px 86.0px,#00f7ff 86.0px 87.0px,#58ffa7 87.0px 88.1px,#18ffe7 88.1px 89.1px,#68ff97 89.1px 90.2px,#00f7ff 90.2px 91.2px,#58ffa7 91.2px 92.3px,#00e7ff 92.3px 93.3px,#78ff87 93.3px 94.4px,#18ffe7 94.4px 95.4px,#87ff78 95.4px 96.5px,#00f7ff 96.5px 97.5px,#58ffa7 97.5px 98.6px,#00f7ff 98.6px 99.6px,#58ffa7 99.6px 100.7px,#00e7ff 100.7px 101.7px,#87ff78 101.7px 102.8px,#08fff7 102.8px 103.8px,#68ff97 103.8px 104.9px,#00d7ff 104.9px 105.9px,#87ff78 105.9px 107.0px,#18ffe7 107.0px 108.0px,#68ff97 108.0px 109.1px,#18ffe7 109.1px 110.1px,#58ffa7 110.1px 111.2px,#18ffe7 111.2px 112.2px,#58ffa7 112.2px 113.2px,#08fff7 113.2px 114.3px,#68ff97 114.3px 115.3px,#00e7ff 115.3px 116.4px,#58ffa7 116.4px 117.4px,#18ffe7 117.4px 118.5px,#78ff87 118.5px 119.5px,#08fff7 119.5px 120.6px,#58ffa7 120.6px 121.6px,#00f7ff 121.6px 122.7px,#78ff87 122.7px 123.7px,#00e7ff 123.7px 124.8px,#78ff87 124.8px 125.8px,#00f7ff 125.8px 126.9px,#58ffa7 126.9px 127.9px,#08fff7 127.9px 129.0px,#97ff68 129.0px 130.0px,#00f7ff 130.0px 131.1px,#68ff97 131.1px 132.1px,#00e7ff 132.1px 133.2px,#68ff97 133.2px 134.2px,#08fff7 134.2px 135.3px,#68ff97 135.3px 136.3px,#00f7ff 136.3px 137.4px,#78ff87 137.4px 138.4px,#18ffe7 138.4px 139.5px,#68ff97 139.5px 140.5px,#00f7ff 140.5px 141.6px,#58ffa7 141.6px 142.6px,#00f7ff 142.6px 143.7px,#87ff78 143.7px 144.7px,#00e7ff 144.7px 145.8px,#68ff97 145.8px 146.8px,#18ffe7 146.8px 147.9px,#58ffa7 147.9px 148.9px,#08fff7 148.9px 150.0px,#78ff87 150.0px 151.0px)"></div>
<div class="c" style="left:150.22px;width:9.89px;background:linear-gradient(#0097ff 0.0px 1.0px,#00a7ff 1.0px 2.1px,#0087ff 2.1px 3.1px,#0097ff 3.1px 4.2px,#0058ff 4.2px 5.2px,#00b7ff 5.2px 6.3px,#0097ff 6.3px 7.3px,#00e7ff 7.3px 8.4px,#00b7ff 8.4px 9.4px,#00d7ff 9.4px 10.5px,#0097ff 10.5px 11.5px,#00c7ff 11.5px 12.6px,#0087ff 12.6px 13.6px,#00b7ff 13.6px 14.7px,#0078ff 14.7px 15.7px,#00c7ff 15.7px 16.8px,#0087ff 16.8px 17.8px,#00b7ff 17.8px 18.9px,#0068ff 18.9px 19.9px,#00a7ff 19.9px 21.0px,#00c7ff 21.0px 22.0px,#00a7ff 22.0px 23.1px,#0097ff 23.1px 24.1px,#00d7ff 24.1px 25.2px,#0097ff 25.2px 26.2px,#00b7ff 26.2px 27.3px,#00a7ff 27.3px 28.3px,#00c7ff 28.3px 29.4px,#0078ff 29.4px 30.4px,#00a7ff 30.4px 31.5px,#0078ff 31.5px 32.5px,#00e7ff 32.5px 33.6px,#0068ff 33.6px 34.6px,#00a7ff 34.6px 35.7px,#0078ff 35.7px 36.7px,#00c7ff 36.7px 37.8px,#0068ff 37.8px 38.8px,#00a7ff 38.8px 39.8px,#0078ff 39.8px 40.9px,#00c7ff 40.9px 41.9px,#0078ff 41.9px 43.0px,#00b7ff 43.0px 44.0px,#0087ff 44.0px 45.1px,#00b7ff 45.1px 46.1px,#0097ff 46.1px 47.2px,#00a7ff 47.2px 48.2px,#0078ff 48.2px 49.3px,#00a7ff 49.3px 50.3px,#0087ff 50.3px 51.4px,#00c7ff 51.4px 52.4px,#0078ff 52.4px 53.5px,#00d7ff 53.5px 54.5px,#0078ff 54.5px 55.6px,#00d7ff 55.6px 56.6px,#0078ff 56.6px 57.7px,#00b7ff 57.7px 58.7px,#0068ff 58.7px 59.8px,#00a7ff 59.8px 60.8px,#0078ff 60.8px 61.9px,#0097ff 61.9px 62.9px,#0078ff 62.9px 64.0px,#00c7ff 64.0px 65.0px,#0087ff 65.0px 66.1px,#00c7ff 66.1px 67.1px,#0087ff 67.1px 68.2px,#00b7ff 68.2px 69.2px,#0078ff 69.2px 70.3px,#00c7ff 70.3px 71.3px,#0078ff 71.3px 72.4px,#00d7ff 72.4px 73.4px,#0078ff 73.4px 74.5px,#00c7ff 74.5px 75.5px,#0097ff 75.5px 76.5px,#00b7ff 76.5px 77.6px,#00a7ff 77.6px 78.6px,#00d7ff 78.6px 79.7px,#0048ff 79.7px 80.7px,#00f7ff 80.7px 81.8px,#0058ff 81.8px 82.8px,#00e7ff 82.8px 83.9px,#0068ff 83.9px 84.9px,#0097ff 84.9px 86.0px,#0068ff 86.0px 87.0px,#00c7ff 87.0px 88.1px,#0068ff 88.1px 89.1px,#00b7ff 89.1px 90.2px,#0097ff 90.2px 91.2px,#00a7ff 91.2px 92.3px,#0087ff 92.3px 93.3px,#00d7ff 93.3px 94.4px,#0058ff 94.4px 95.4px,#00a7ff 95.4px 96.5px,#0087ff 96.5px 97.5px,#00b7ff 97.5px 98.6px,#0087ff 98.6px 99.6px,#0097ff 99.6px 100.7px,#0068ff 100.7px 101.7px,#00c7ff 101.7px 102.8px,#0087ff 102.8px 103.8px,#00d7ff 103.8px 104.9px,#0078ff 104.9px 105.9px,#00a7ff 105.9px 107.0px,#0068ff 107.0px 108.0px,#00a7ff 108.0px 109.1px,#0058ff 109.1px 110.1px,#00d7ff 110.1px 111.2px,#0078ff 111.2px 112.2px,#00a7ff 112.2px 113.2px,#0078ff 113.2px 114.3px,#00c7ff 114.3px 115.3px,#0087ff 115.3px 116.4px,#00a7ff 116.4px 117.4px,#0097ff 117.4px 118.5px,#00c7ff 118.5px 119.5px,#0078ff 119.5px 120.6px,#00b7ff 120.6px 121.6px,#0097ff 121.6px 122.7px,#00c7ff 122.7px 123.7px,#0078ff 123.7px 124.8px,#00d7ff 124.8px 125.8px,#0058ff 125.8px 126.9px,#00c7ff 126.9px 127.9px,#0068ff 127.9px 129.0px,#00a7ff 129.0px 130.0px,#0078ff 130.0px 131.1px,#00e7ff 131.1px 132.1px,#0078ff 132.1px 133.2px,#00b7ff 133.2px 134.2px,#0087ff 134.2px 135.3px,#0097ff 135.3px 136.3px,#0078ff 136.3px 137.4px,#00c7ff 137.4px 138.4px,#0068ff 138.4px 139.5px,#00c7ff 139.5px 140.5px,#0068ff 140.5px 141.6px,#0097ff 141.6px 143.7px,#00b7ff 143.7px 144.7px,#0087ff 144.7px 145.8px,#00b7ff 145.8px 146.8px,#0068ff 146.8px 147.9px,#00d7ff 147.9px 148.9px,#0087ff 148.9px 150.0px,#00c7ff 150.0px 151.0px)"></div>
<div class="c" style="left:159.61px;width:9.89px;background:linear-gradient(#0078ff 0.0px 1.0px,#00e7ff 1.0px 2.1px,#00b7ff 2.1px 3.1px,#18ffe7 3.1px 4.2px,#0087ff 4.2px 5.2px,#00f7ff 5.2px 6.3px,#00b7ff 6.3px 7.3px,#00e7ff 7.3px 8.4px,#0078ff 8.4px 9.4px,#48ffb7 9.4px 10.5px,#0097ff 10.5px 11.5px,#28ffd7 11.5px 12.6px,#00a7ff 12.6px 13.6px,#48ffb7 13.6px 14.7px,#0097ff 14.7px 15.7px,#18ffe7 15.7px 16.8px,#0068ff 16.8px 17.8px,#08fff7 17.8px 18.9px,#0058ff 18.9px 19.9px,#00f7ff 19.9px 21.0px,#0087ff 21.0px 22.0px,#18ffe7 22.0px 23.1px,#00b7ff 23.1px 24.1px,#00f7ff 24.1px 25.2px,#0068ff 25.2px 26.2px,#08fff7 26.2px 27.3px,#0068ff 27.3px 28.3px,#38ffc7 28.3px 29.4px,#00b7ff 29.4px 30.4px,#00e7ff 30.4px 31.5px,#0097ff 31.5px 32.5px,#28ffd7 32.5px 33.6px,#0068ff 33.6px 34.6px,#00f7ff 34.6px 35.7px,#0087ff 35.7px 36.7px,#28ffd7 36.7px 37.8px,#0097ff 37.8px 38.8px,#00f7ff 38.8px 39.8px,#0097ff 39.8px 40.9px,#08fff7 40.9px 41.9px,#0087ff 41.9px 43.0px,#18ffe7 43.0px 44.0px,#0097ff 44.0px 45.1px,#18ffe7 45.1px 46.1px,#0087ff 46.1px 47.2px,#00f7ff 47.2px 48.2px,#0087ff 48.2px 49.3px,#00d7ff 49.3px 50.3px,#0078ff 50.3px 51.4px,#38ffc7 51.4px 52.4px,#0087ff 52.4px 53.5px,#18ffe7 53.5px 54.5px,#00a7ff 54.5px 55.6px,#00f7ff 55.6px 56.6px,#0078ff 56.6px 57.7px,#18ffe7 57.7px 58.7px,#0068ff 58.7px 59.8px,#18ffe7 59.8px 60.8px,#0097ff 60.8px 61.9px,#08fff7 61.9px 62.9px,#0097ff 62.9px 64.0px,#18ffe7 64.0px 65.0px,#0087ff 65.0px 66.1px,#00b7ff 66.1px 67.1px,#0097ff 67.1px 68.2px,#00e7ff 68.2px 69.2px,#0078ff 69.2px 70.3px,#00f7ff 70.3px 71.3px,#0078ff 71.3px 72.4px,#00d7ff 72.4px 73.4px,#0048ff 73.4px 74.5px,#08fff7 74.5px 75.5px,#0087ff 75.5px 76.5px,#18ffe7 76.5px 77.6px,#0068ff 77.6px 78.6px,#00f7ff 78.6px 79.7px,#00a7ff 79.7px 80.7px,#00f7ff 80.7px 81.8px,#0078ff 81.8px 82.8px,#48ffb7 82.8px 83.9px,#0058ff 83.9px 84.9px,#00e7ff 84.9px 86.0px,#0068ff 86.0px 87.0px,#00f7ff 87.0px 88.1px,#00e7ff 88.1px 90.2px,#0087ff 90.2px 91.2px,#00f7ff 91.2px 92.3px,#0078ff 92.3px 93.3px,#18ffe7 93.3px 94.4px,#0078ff 94.4px 95.4px,#28ffd7 95.4px 96.5px,#00b7ff 96.5px 97.5px,#00f7ff 97.5px 98.6px,#00b7ff 98.6px 99.6px,#00e7ff 99.6px 100.7px,#0097ff 100.7px 101.7px,#28ffd7 101.7px 102.8px,#0068ff 102.8px 103.8px,#08fff7 103.8px 104.9px,#0097ff 104.9px 105.9px,#18ffe7 105.9px 107.0px,#0097ff 107.0px 108.0px,#48ffb7 108.0px 109.1px,#0087ff 109.1px 110.1px,#28ffd7 110.1px 111.2px,#00c7ff 111.2px 112.2px,#00f7ff 112.2px 113.2px,#0078ff 113.2px 114.3px,#00e7ff 114.3px 115.3px,#00a7ff 115.3px 116.4px,#38ffc7 116.4px 117.4px,#0058ff 117.4px 118.5px,#00e7ff 118.5px 119.5px,#0078ff 119.5px 120.6px,#48ffb7 120.6px 121.6px,#0087ff 121.6px 122.7px,#18ffe7 122.7px 123.7px,#0068ff 123.7px 124.8px,#28ffd7 124.8px 125.8px,#0068ff 125.8px 126.9px,#08fff7 126.9px 127.9px,#0068ff 127.9px 129.0px,#08fff7 129.0px 130.0px,#0087ff 130.0px 131.1px,#08fff7 131.1px 132.1px,#0097ff 132.1px 133.2px,#38ffc7 133.2px 134.2px,#0078ff 134.2px 135.3px,#38ffc7 135.3px 136.3px,#0097ff 136.3px 137.4px,#08fff7 137.4px 138.4px,#0097ff 138.4px 139.5px,#08fff7 139.5px 140.5px,#00a7ff 140.5px 141.6px,#28ffd7 141.6px 142.6px,#0097ff 142.6px 143.7px,#08fff7 143.7px 144.7px,#0058ff 144.7px 145.8px,#28ffd7 145.8px 146.8px,#00a7ff 146.8px 147.9px,#18ffe7 147.9px 148.9px,#0097ff 148.9px 150.0px,#00e7ff 150.0px 151.0px)"></div>
</div>
<div class="t tk" style="left:3.10px;width:30px;text-align:right;top:163.65px">0</div>
<div class="t tk" style="left:3.10px;width:30px;text-align:right;top:144.78px">45</div>
<div class="t tk" style="left:3.10px;width:30px;text-align:right;top:125.90px">90</div>
<div class="t tk" style="left:3.10px;width:30px;text-align:right;top:107.03px">135</div>
<div class="t tk" style="left:3.10px;width:30px;text-align:right;top:88.15px">180</div>
<div class="t tk" style="left:3.10px;width:30px;text-align:right;top:69.28px">225</div>
<div class="t tk" style="left:3.10px;width:30px;text-align:right;top:50.40px">270</div>
<div class="t tk" style="left:3.10px;width:30px;text-align:right;top:31.53px">315</div>
<div class="t tk" style="left:3.10px;width:30px;text-align:right;top:12.65px">360</div>
<div class="t tk" style="left:49.17px;width:30px;text-align:center;top:173.35px">5</div>
<div class="t tk" style="left:96.11px;width:30px;text-align:center;top:173.35px">10</div>
<div class="t tk" style="left:143.06px;width:30px;text-align:center;top:173.35px">15</div>
<div class="t tk" style="left:190.00px;width:30px;text-align:center;top:173.35px">20</div>
<div class="t lb" style="left:60.50px;width:120px;text-align:center;top:184.20px">Wind speed, m/s</div>
<div class="t lb yl" style="left:-51.00px;top:87.20px">Wind direction, deg.</div>
<div class="cb" style="background:linear-gradient(#870000 0.0px 2.36px,#970000 2.36px 4.72px,#a70000 4.72px 7.08px,#b70000 7.08px 9.44px,#c70000 9.44px 11.8px,#d70000 11.8px 14.16px,#e70000 14.16px 16.52px,#f70000 16.52px 18.88px,#ff0800 18.88px 21.23px,#ff1800 21.23px 23.59px,#ff2800 23.59px 25.95px,#ff3800 25.95px 28.31px,#ff4800 28.31px 30.67px,#ff5800 30.67px 33.03px,#ff6800 33.03px 35.39px,#ff7800 35.39px 37.75px,#ff8700 37.75px 40.11px,#ff9700 40.11px 42.47px,#ffa700 42.47px 44.83px,#ffb700 44.83px 47.19px,#ffc700 47.19px 49.55px,#ffd700 49.55px 51.91px,#ffe700 51.91px 54.27px,#fff700 54.27px 56.62px,#f7ff08 56.62px 58.98px,#e7ff18 58.98px 61.34px,#d7ff28 61.34px 63.7px,#c7ff38 63.7px 66.06px,#b7ff48 66.06px 68.42px,#a7ff58 68.42px 70.78px,#97ff68 70.78px 73.14px,#87ff78 73.14px 75.5px,#78ff87 75.5px 77.86px,#68ff97 77.86px 80.22px,#58ffa7 80.22px 82.58px,#48ffb7 82.58px 84.94px,#38ffc7 84.94px 87.3px,#28ffd7 87.3px 89.66px,#18ffe7 89.66px 92.02px,#08fff7 92.02px 94.38px,#00f7ff 94.38px 96.73px,#00e7ff 96.73px 99.09px,#00d7ff 99.09px 101.45px,#00c7ff 101.45px 103.81px,#00b7ff 103.81px 106.17px,#00a7ff 106.17px 108.53px,#0097ff 108.53px 110.89px,#0087ff 110.89px 113.25px,#0078ff 113.25px 115.61px,#0068ff 115.61px 117.97px,#0058ff 117.97px 120.33px,#0048ff 120.33px 122.69px,#0038ff 122.69px 125.05px,#0028ff 125.05px 127.41px,#0018ff 127.41px 129.77px,#0008ff 129.77px 132.12px,#0000f7 132.12px 134.48px,#0000e7 134.48px 136.84px,#0000d7 136.84px 139.2px,#0000c7 139.2px 141.56px,#0000b7 141.56px 143.92px,#0000a7 143.92px 146.28px,#000097 146.28px 148.64px,#000087 148.64px 151.0px)"></div>
<div class="t tk" style="left:241.30px;top:154.43px">1.5</div>
<div class="t tk" style="left:241.30px;top:131.04px">2</div>
<div class="t tk" style="left:241.30px;top:107.64px">2.5</div>
<div class="t tk" style="left:241.30px;top:84.24px">3</div>
<div class="t tk" style="left:241.30px;top:60.85px">3.5</div>
<div class="t tk" style="left:241.30px;top:37.45px">4</div>
<div class="t tk" style="left:241.30px;top:14.05px">4.5</div>
</div>
</body></html>
